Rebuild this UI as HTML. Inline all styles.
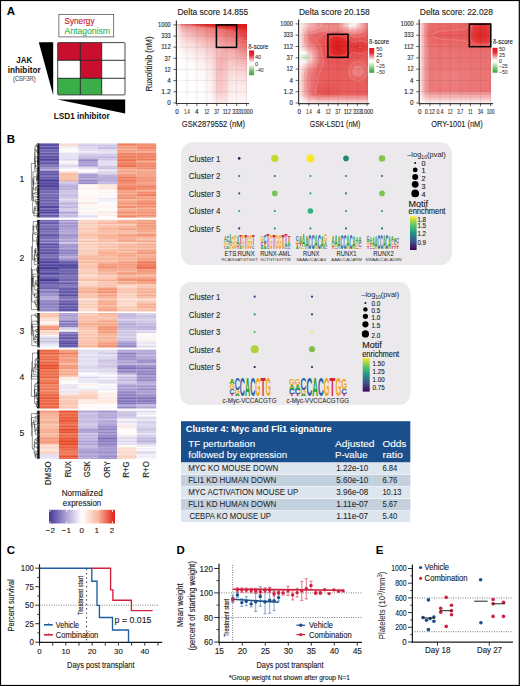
<!DOCTYPE html>
<html><head><meta charset="utf-8"><style>
html,body{margin:0;padding:0;background:#fff;}
svg{display:block;font-family:"Liberation Sans",sans-serif;}

</style></head><body>
<svg width="520" height="686" viewBox="0 0 520 686">
<defs><linearGradient id="hg1" gradientUnits="userSpaceOnUse" x1="177" x2="247.1" y1="0" y2="0"><stop offset="0" stop-color="#f8caca"/><stop offset="0.08" stop-color="#eb6d6d"/><stop offset="0.17" stop-color="#e85a5a"/><stop offset="0.25" stop-color="#e64747"/><stop offset="0.33" stop-color="#e43939"/><stop offset="0.42" stop-color="#e22e2e"/><stop offset="0.5" stop-color="#e12525"/><stop offset="0.58" stop-color="#e01e1e"/><stop offset="0.67" stop-color="#e01e1e"/><stop offset="0.75" stop-color="#e01e1e"/><stop offset="0.83" stop-color="#e01e1e"/><stop offset="0.92" stop-color="#e01e1e"/><stop offset="1" stop-color="#e01e1e"/></linearGradient>
<linearGradient id="hg2" gradientUnits="userSpaceOnUse" x1="177" x2="247.1" y1="0" y2="0"><stop offset="0" stop-color="#f8cdcd"/><stop offset="0.08" stop-color="#ec7676"/><stop offset="0.17" stop-color="#e96363"/><stop offset="0.25" stop-color="#e75050"/><stop offset="0.33" stop-color="#e54242"/><stop offset="0.42" stop-color="#e43838"/><stop offset="0.5" stop-color="#e22e2e"/><stop offset="0.58" stop-color="#e12626"/><stop offset="0.67" stop-color="#e01e1e"/><stop offset="0.75" stop-color="#e01e1e"/><stop offset="0.83" stop-color="#e01e1e"/><stop offset="0.92" stop-color="#e01e1e"/><stop offset="1" stop-color="#e01e1e"/></linearGradient>
<linearGradient id="hg3" gradientUnits="userSpaceOnUse" x1="177" x2="247.1" y1="0" y2="0"><stop offset="0" stop-color="#f9d2d2"/><stop offset="0.08" stop-color="#ee8383"/><stop offset="0.17" stop-color="#eb7070"/><stop offset="0.25" stop-color="#e95e5e"/><stop offset="0.33" stop-color="#e75151"/><stop offset="0.42" stop-color="#e64646"/><stop offset="0.5" stop-color="#e43d3d"/><stop offset="0.58" stop-color="#e33434"/><stop offset="0.67" stop-color="#e22b2b"/><stop offset="0.75" stop-color="#e12222"/><stop offset="0.83" stop-color="#e01e1e"/><stop offset="0.92" stop-color="#e01e1e"/><stop offset="1" stop-color="#e01e1e"/></linearGradient>
<linearGradient id="hg4" gradientUnits="userSpaceOnUse" x1="177" x2="247.1" y1="0" y2="0"><stop offset="0" stop-color="#fad8d8"/><stop offset="0.08" stop-color="#f09191"/><stop offset="0.17" stop-color="#ed7f7f"/><stop offset="0.25" stop-color="#eb6e6e"/><stop offset="0.33" stop-color="#e96161"/><stop offset="0.42" stop-color="#e85656"/><stop offset="0.5" stop-color="#e64d4d"/><stop offset="0.58" stop-color="#e54444"/><stop offset="0.67" stop-color="#e43b3b"/><stop offset="0.75" stop-color="#e33232"/><stop offset="0.83" stop-color="#e12828"/><stop offset="0.92" stop-color="#e01e1e"/><stop offset="1" stop-color="#e01e1e"/></linearGradient>
<linearGradient id="hg5" gradientUnits="userSpaceOnUse" x1="177" x2="247.1" y1="0" y2="0"><stop offset="0" stop-color="#fadddd"/><stop offset="0.08" stop-color="#f29e9e"/><stop offset="0.17" stop-color="#ef8d8d"/><stop offset="0.25" stop-color="#ed7d7d"/><stop offset="0.33" stop-color="#eb7070"/><stop offset="0.42" stop-color="#ea6565"/><stop offset="0.5" stop-color="#e85b5b"/><stop offset="0.58" stop-color="#e75252"/><stop offset="0.67" stop-color="#e64949"/><stop offset="0.75" stop-color="#e54040"/><stop offset="0.83" stop-color="#e33636"/><stop offset="0.92" stop-color="#e12929"/><stop offset="1" stop-color="#e02121"/></linearGradient>
<linearGradient id="hg6" gradientUnits="userSpaceOnUse" x1="177" x2="247.1" y1="0" y2="0"><stop offset="0" stop-color="#fbe2e2"/><stop offset="0.08" stop-color="#f3a9a9"/><stop offset="0.17" stop-color="#f19999"/><stop offset="0.25" stop-color="#ef8989"/><stop offset="0.33" stop-color="#ed7c7c"/><stop offset="0.42" stop-color="#eb7171"/><stop offset="0.5" stop-color="#ea6767"/><stop offset="0.58" stop-color="#e95d5d"/><stop offset="0.67" stop-color="#e75454"/><stop offset="0.75" stop-color="#e64b4b"/><stop offset="0.83" stop-color="#e54141"/><stop offset="0.92" stop-color="#e33333"/><stop offset="1" stop-color="#e22b2b"/></linearGradient>
<linearGradient id="hg7" gradientUnits="userSpaceOnUse" x1="177" x2="247.1" y1="0" y2="0"><stop offset="0" stop-color="#fbe5e5"/><stop offset="0.08" stop-color="#f4b1b1"/><stop offset="0.17" stop-color="#f2a2a2"/><stop offset="0.25" stop-color="#f09292"/><stop offset="0.33" stop-color="#ee8585"/><stop offset="0.42" stop-color="#ed7a7a"/><stop offset="0.5" stop-color="#eb7070"/><stop offset="0.58" stop-color="#ea6666"/><stop offset="0.67" stop-color="#e95d5d"/><stop offset="0.75" stop-color="#e75353"/><stop offset="0.83" stop-color="#e64949"/><stop offset="0.92" stop-color="#e43a3a"/><stop offset="1" stop-color="#e33232"/></linearGradient>
<linearGradient id="hg8" gradientUnits="userSpaceOnUse" x1="177" x2="247.1" y1="0" y2="0"><stop offset="0" stop-color="#fce8e8"/><stop offset="0.08" stop-color="#f5b8b8"/><stop offset="0.17" stop-color="#f3a9a9"/><stop offset="0.25" stop-color="#f19999"/><stop offset="0.33" stop-color="#ef8c8c"/><stop offset="0.42" stop-color="#ee8181"/><stop offset="0.5" stop-color="#ec7777"/><stop offset="0.58" stop-color="#eb6d6d"/><stop offset="0.67" stop-color="#ea6363"/><stop offset="0.75" stop-color="#e85a5a"/><stop offset="0.83" stop-color="#e74f4f"/><stop offset="0.92" stop-color="#e53f3f"/><stop offset="1" stop-color="#e43838"/></linearGradient>
<linearGradient id="hg9" gradientUnits="userSpaceOnUse" x1="177" x2="247.1" y1="0" y2="0"><stop offset="0" stop-color="#fceaea"/><stop offset="0.08" stop-color="#f6bdbd"/><stop offset="0.17" stop-color="#f4aeae"/><stop offset="0.25" stop-color="#f29f9f"/><stop offset="0.33" stop-color="#f09292"/><stop offset="0.42" stop-color="#ee8787"/><stop offset="0.5" stop-color="#ed7d7d"/><stop offset="0.58" stop-color="#ec7272"/><stop offset="0.67" stop-color="#ea6969"/><stop offset="0.75" stop-color="#e95f5f"/><stop offset="0.83" stop-color="#e75454"/><stop offset="0.92" stop-color="#e54343"/><stop offset="1" stop-color="#e43c3c"/></linearGradient>
<linearGradient id="hg10" gradientUnits="userSpaceOnUse" x1="177" x2="247.1" y1="0" y2="0"><stop offset="0" stop-color="#fcecec"/><stop offset="0.08" stop-color="#f7c2c2"/><stop offset="0.17" stop-color="#f5b4b4"/><stop offset="0.25" stop-color="#f3a5a5"/><stop offset="0.33" stop-color="#f19898"/><stop offset="0.42" stop-color="#ef8c8c"/><stop offset="0.5" stop-color="#ee8282"/><stop offset="0.58" stop-color="#ec7777"/><stop offset="0.67" stop-color="#eb6e6e"/><stop offset="0.75" stop-color="#ea6464"/><stop offset="0.83" stop-color="#e85959"/><stop offset="0.92" stop-color="#e64747"/><stop offset="1" stop-color="#e53f3f"/></linearGradient>
<linearGradient id="hg11" gradientUnits="userSpaceOnUse" x1="177" x2="247.1" y1="0" y2="0"><stop offset="0" stop-color="#fdeded"/><stop offset="0.08" stop-color="#f7c7c7"/><stop offset="0.17" stop-color="#f5b8b8"/><stop offset="0.25" stop-color="#f3aaaa"/><stop offset="0.33" stop-color="#f19d9d"/><stop offset="0.42" stop-color="#f09191"/><stop offset="0.5" stop-color="#ee8787"/><stop offset="0.58" stop-color="#ed7c7c"/><stop offset="0.67" stop-color="#ec7272"/><stop offset="0.75" stop-color="#ea6868"/><stop offset="0.83" stop-color="#e95d5d"/><stop offset="0.92" stop-color="#e64a4a"/><stop offset="1" stop-color="#e54343"/></linearGradient>
<linearGradient id="hg12" gradientUnits="userSpaceOnUse" x1="177" x2="247.1" y1="0" y2="0"><stop offset="0" stop-color="#fdefef"/><stop offset="0.08" stop-color="#f8cbcb"/><stop offset="0.17" stop-color="#f6bdbd"/><stop offset="0.25" stop-color="#f4afaf"/><stop offset="0.33" stop-color="#f2a2a2"/><stop offset="0.42" stop-color="#f19696"/><stop offset="0.5" stop-color="#ef8c8c"/><stop offset="0.58" stop-color="#ee8181"/><stop offset="0.67" stop-color="#ec7777"/><stop offset="0.75" stop-color="#eb6d6d"/><stop offset="0.83" stop-color="#e96161"/><stop offset="0.92" stop-color="#e64d4d"/><stop offset="1" stop-color="#e54646"/></linearGradient>
<linearGradient id="hg13" gradientUnits="userSpaceOnUse" x1="177" x2="247.1" y1="0" y2="0"><stop offset="0" stop-color="#fdf0f0"/><stop offset="0.08" stop-color="#f8cfcf"/><stop offset="0.17" stop-color="#f7c1c1"/><stop offset="0.25" stop-color="#f5b4b4"/><stop offset="0.33" stop-color="#f3a7a7"/><stop offset="0.42" stop-color="#f19b9b"/><stop offset="0.5" stop-color="#f09090"/><stop offset="0.58" stop-color="#ee8686"/><stop offset="0.67" stop-color="#ed7c7c"/><stop offset="0.75" stop-color="#ec7272"/><stop offset="0.83" stop-color="#ea6666"/><stop offset="0.92" stop-color="#e75050"/><stop offset="1" stop-color="#e64949"/></linearGradient>
<linearGradient id="hg14" gradientUnits="userSpaceOnUse" x1="177" x2="247.1" y1="0" y2="0"><stop offset="0" stop-color="#fdf2f2"/><stop offset="0.08" stop-color="#f9d3d3"/><stop offset="0.17" stop-color="#f7c6c6"/><stop offset="0.25" stop-color="#f5b8b8"/><stop offset="0.33" stop-color="#f4acac"/><stop offset="0.42" stop-color="#f2a0a0"/><stop offset="0.5" stop-color="#f09595"/><stop offset="0.58" stop-color="#ef8a8a"/><stop offset="0.67" stop-color="#ee8080"/><stop offset="0.75" stop-color="#ec7676"/><stop offset="0.83" stop-color="#ea6a6a"/><stop offset="0.92" stop-color="#e75353"/><stop offset="1" stop-color="#e64c4c"/></linearGradient>
<linearGradient id="hg15" gradientUnits="userSpaceOnUse" x1="177" x2="247.1" y1="0" y2="0"><stop offset="0" stop-color="#fdf3f3"/><stop offset="0.08" stop-color="#f9d6d6"/><stop offset="0.17" stop-color="#f8caca"/><stop offset="0.25" stop-color="#f6bdbd"/><stop offset="0.33" stop-color="#f4b0b0"/><stop offset="0.42" stop-color="#f3a5a5"/><stop offset="0.5" stop-color="#f19a9a"/><stop offset="0.58" stop-color="#f08f8f"/><stop offset="0.67" stop-color="#ee8585"/><stop offset="0.75" stop-color="#ed7b7b"/><stop offset="0.83" stop-color="#eb6e6e"/><stop offset="0.92" stop-color="#e85757"/><stop offset="1" stop-color="#e75050"/></linearGradient>
<linearGradient id="hg16" gradientUnits="userSpaceOnUse" x1="177" x2="247.1" y1="0" y2="0"><stop offset="0" stop-color="#fef4f4"/><stop offset="0.08" stop-color="#fadada"/><stop offset="0.17" stop-color="#f8cece"/><stop offset="0.25" stop-color="#f6c1c1"/><stop offset="0.33" stop-color="#f5b5b5"/><stop offset="0.42" stop-color="#f3aaaa"/><stop offset="0.5" stop-color="#f29f9f"/><stop offset="0.58" stop-color="#f09393"/><stop offset="0.67" stop-color="#ef8989"/><stop offset="0.75" stop-color="#ed7f7f"/><stop offset="0.83" stop-color="#ec7373"/><stop offset="0.92" stop-color="#e85a5a"/><stop offset="1" stop-color="#e75353"/></linearGradient>
<linearGradient id="hg17" gradientUnits="userSpaceOnUse" x1="177" x2="247.1" y1="0" y2="0"><stop offset="0" stop-color="#fef6f6"/><stop offset="0.08" stop-color="#fadddd"/><stop offset="0.17" stop-color="#f9d1d1"/><stop offset="0.25" stop-color="#f7c5c5"/><stop offset="0.33" stop-color="#f5b9b9"/><stop offset="0.42" stop-color="#f4aeae"/><stop offset="0.5" stop-color="#f2a3a3"/><stop offset="0.58" stop-color="#f19898"/><stop offset="0.67" stop-color="#ef8d8d"/><stop offset="0.75" stop-color="#ee8383"/><stop offset="0.83" stop-color="#ec7777"/><stop offset="0.92" stop-color="#e95d5d"/><stop offset="1" stop-color="#e85757"/></linearGradient>
<linearGradient id="hg18" gradientUnits="userSpaceOnUse" x1="177" x2="247.1" y1="0" y2="0"><stop offset="0" stop-color="#fef7f7"/><stop offset="0.08" stop-color="#fbe0e0"/><stop offset="0.17" stop-color="#f9d5d5"/><stop offset="0.25" stop-color="#f8c9c9"/><stop offset="0.33" stop-color="#f6bebe"/><stop offset="0.42" stop-color="#f4b2b2"/><stop offset="0.5" stop-color="#f3a7a7"/><stop offset="0.58" stop-color="#f19c9c"/><stop offset="0.67" stop-color="#f09191"/><stop offset="0.75" stop-color="#ef8888"/><stop offset="0.83" stop-color="#ed7b7b"/><stop offset="0.92" stop-color="#e96060"/><stop offset="1" stop-color="#e85a5a"/></linearGradient>
<linearGradient id="hg19" gradientUnits="userSpaceOnUse" x1="177" x2="247.1" y1="0" y2="0"><stop offset="0" stop-color="#fef7f7"/><stop offset="0.08" stop-color="#fbe3e3"/><stop offset="0.17" stop-color="#fad8d8"/><stop offset="0.25" stop-color="#f8cdcd"/><stop offset="0.33" stop-color="#f7c2c2"/><stop offset="0.42" stop-color="#f5b7b7"/><stop offset="0.5" stop-color="#f3abab"/><stop offset="0.58" stop-color="#f2a0a0"/><stop offset="0.67" stop-color="#f09595"/><stop offset="0.75" stop-color="#ef8c8c"/><stop offset="0.83" stop-color="#ed7f7f"/><stop offset="0.92" stop-color="#ea6464"/><stop offset="1" stop-color="#e95e5e"/></linearGradient>
<linearGradient id="hg20" gradientUnits="userSpaceOnUse" x1="177" x2="247.1" y1="0" y2="0"><stop offset="0" stop-color="#fef8f8"/><stop offset="0.08" stop-color="#fce6e6"/><stop offset="0.17" stop-color="#fadbdb"/><stop offset="0.25" stop-color="#f9d1d1"/><stop offset="0.33" stop-color="#f7c5c5"/><stop offset="0.42" stop-color="#f6bbbb"/><stop offset="0.5" stop-color="#f4afaf"/><stop offset="0.58" stop-color="#f2a4a4"/><stop offset="0.67" stop-color="#f19999"/><stop offset="0.75" stop-color="#f09090"/><stop offset="0.83" stop-color="#ee8383"/><stop offset="0.92" stop-color="#ea6767"/><stop offset="1" stop-color="#e96161"/></linearGradient>
<linearGradient id="hg21" gradientUnits="userSpaceOnUse" x1="177" x2="247.1" y1="0" y2="0"><stop offset="0" stop-color="#fef9f9"/><stop offset="0.08" stop-color="#fce8e8"/><stop offset="0.17" stop-color="#fbdede"/><stop offset="0.25" stop-color="#f9d4d4"/><stop offset="0.33" stop-color="#f8c9c9"/><stop offset="0.42" stop-color="#f6bebe"/><stop offset="0.5" stop-color="#f5b3b3"/><stop offset="0.58" stop-color="#f3a7a7"/><stop offset="0.67" stop-color="#f19d9d"/><stop offset="0.75" stop-color="#f09494"/><stop offset="0.83" stop-color="#ef8787"/><stop offset="0.92" stop-color="#eb6b6b"/><stop offset="1" stop-color="#ea6565"/></linearGradient>
<linearGradient id="hg22" gradientUnits="userSpaceOnUse" x1="177" x2="247.1" y1="0" y2="0"><stop offset="0" stop-color="#fefafa"/><stop offset="0.08" stop-color="#fceaea"/><stop offset="0.17" stop-color="#fbe1e1"/><stop offset="0.25" stop-color="#fad7d7"/><stop offset="0.33" stop-color="#f8cdcd"/><stop offset="0.42" stop-color="#f7c2c2"/><stop offset="0.5" stop-color="#f5b7b7"/><stop offset="0.58" stop-color="#f3aaaa"/><stop offset="0.67" stop-color="#f2a0a0"/><stop offset="0.75" stop-color="#f19898"/><stop offset="0.83" stop-color="#ef8b8b"/><stop offset="0.92" stop-color="#eb6e6e"/><stop offset="1" stop-color="#ea6969"/></linearGradient>
<linearGradient id="hg23" gradientUnits="userSpaceOnUse" x1="177" x2="247.1" y1="0" y2="0"><stop offset="0" stop-color="#fefafa"/><stop offset="0.08" stop-color="#fcecec"/><stop offset="0.17" stop-color="#fbe4e4"/><stop offset="0.25" stop-color="#fadada"/><stop offset="0.33" stop-color="#f9d0d0"/><stop offset="0.42" stop-color="#f7c5c5"/><stop offset="0.5" stop-color="#f6baba"/><stop offset="0.58" stop-color="#f4adad"/><stop offset="0.67" stop-color="#f2a3a3"/><stop offset="0.75" stop-color="#f19c9c"/><stop offset="0.83" stop-color="#f08f8f"/><stop offset="0.92" stop-color="#ec7272"/><stop offset="1" stop-color="#eb6d6d"/></linearGradient>
<linearGradient id="hg24" gradientUnits="userSpaceOnUse" x1="177" x2="247.1" y1="0" y2="0"><stop offset="0" stop-color="#fefbfb"/><stop offset="0.08" stop-color="#fdeeee"/><stop offset="0.17" stop-color="#fce6e6"/><stop offset="0.25" stop-color="#fadddd"/><stop offset="0.33" stop-color="#f9d3d3"/><stop offset="0.42" stop-color="#f8c9c9"/><stop offset="0.5" stop-color="#f6bebe"/><stop offset="0.58" stop-color="#f4b0b0"/><stop offset="0.67" stop-color="#f3a6a6"/><stop offset="0.75" stop-color="#f29f9f"/><stop offset="0.83" stop-color="#f09393"/><stop offset="0.92" stop-color="#ec7676"/><stop offset="1" stop-color="#eb7070"/></linearGradient>
<linearGradient id="hg25" gradientUnits="userSpaceOnUse" x1="177" x2="247.1" y1="0" y2="0"><stop offset="0" stop-color="#fffcfc"/><stop offset="0.08" stop-color="#fdf0f0"/><stop offset="0.17" stop-color="#fce8e8"/><stop offset="0.25" stop-color="#fbe0e0"/><stop offset="0.33" stop-color="#f9d6d6"/><stop offset="0.42" stop-color="#f8cccc"/><stop offset="0.5" stop-color="#f6c0c0"/><stop offset="0.58" stop-color="#f4b2b2"/><stop offset="0.67" stop-color="#f3a8a8"/><stop offset="0.75" stop-color="#f2a2a2"/><stop offset="0.83" stop-color="#f19797"/><stop offset="0.92" stop-color="#ed7a7a"/><stop offset="1" stop-color="#ec7575"/></linearGradient>
<linearGradient id="hg26" gradientUnits="userSpaceOnUse" x1="177" x2="247.1" y1="0" y2="0"><stop offset="0" stop-color="#fffcfc"/><stop offset="0.08" stop-color="#fdf2f2"/><stop offset="0.17" stop-color="#fcebeb"/><stop offset="0.25" stop-color="#fbe2e2"/><stop offset="0.33" stop-color="#fad9d9"/><stop offset="0.42" stop-color="#f8cfcf"/><stop offset="0.5" stop-color="#f7c3c3"/><stop offset="0.58" stop-color="#f5b4b4"/><stop offset="0.67" stop-color="#f3aaaa"/><stop offset="0.75" stop-color="#f3a6a6"/><stop offset="0.83" stop-color="#f19a9a"/><stop offset="0.92" stop-color="#ed7e7e"/><stop offset="1" stop-color="#ec7979"/></linearGradient>
<linearGradient id="hg27" gradientUnits="userSpaceOnUse" x1="177" x2="247.1" y1="0" y2="0"><stop offset="0" stop-color="#fffcfc"/><stop offset="0.08" stop-color="#fdf3f3"/><stop offset="0.17" stop-color="#fcecec"/><stop offset="0.25" stop-color="#fbe4e4"/><stop offset="0.33" stop-color="#fadcdc"/><stop offset="0.42" stop-color="#f9d1d1"/><stop offset="0.5" stop-color="#f7c6c6"/><stop offset="0.58" stop-color="#f5b5b5"/><stop offset="0.67" stop-color="#f4acac"/><stop offset="0.75" stop-color="#f3a9a9"/><stop offset="0.83" stop-color="#f29e9e"/><stop offset="0.92" stop-color="#ee8282"/><stop offset="1" stop-color="#ed7d7d"/></linearGradient>
<linearGradient id="hg28" gradientUnits="userSpaceOnUse" x1="177" x2="247.1" y1="0" y2="0"><stop offset="0" stop-color="#fffdfd"/><stop offset="0.08" stop-color="#fef5f5"/><stop offset="0.17" stop-color="#fdeeee"/><stop offset="0.25" stop-color="#fce7e7"/><stop offset="0.33" stop-color="#fadede"/><stop offset="0.42" stop-color="#f9d4d4"/><stop offset="0.5" stop-color="#f7c8c8"/><stop offset="0.58" stop-color="#f5b6b6"/><stop offset="0.67" stop-color="#f4adad"/><stop offset="0.75" stop-color="#f3abab"/><stop offset="0.83" stop-color="#f2a1a1"/><stop offset="0.92" stop-color="#ee8686"/><stop offset="1" stop-color="#ee8181"/></linearGradient>
<linearGradient id="hg29" gradientUnits="userSpaceOnUse" x1="177" x2="247.1" y1="0" y2="0"><stop offset="0" stop-color="#fffdfd"/><stop offset="0.08" stop-color="#fef6f6"/><stop offset="0.17" stop-color="#fdf0f0"/><stop offset="0.25" stop-color="#fce9e9"/><stop offset="0.33" stop-color="#fbe0e0"/><stop offset="0.42" stop-color="#f9d6d6"/><stop offset="0.5" stop-color="#f8caca"/><stop offset="0.58" stop-color="#f5b6b6"/><stop offset="0.67" stop-color="#f4aeae"/><stop offset="0.75" stop-color="#f4aeae"/><stop offset="0.83" stop-color="#f3a4a4"/><stop offset="0.92" stop-color="#ef8a8a"/><stop offset="1" stop-color="#ee8585"/></linearGradient>
<linearGradient id="hg30" gradientUnits="userSpaceOnUse" x1="177" x2="247.1" y1="0" y2="0"><stop offset="0" stop-color="#fffdfd"/><stop offset="0.08" stop-color="#fef7f7"/><stop offset="0.17" stop-color="#fdf1f1"/><stop offset="0.25" stop-color="#fcebeb"/><stop offset="0.33" stop-color="#fbe2e2"/><stop offset="0.42" stop-color="#fad9d9"/><stop offset="0.5" stop-color="#f8cccc"/><stop offset="0.58" stop-color="#f5b6b6"/><stop offset="0.67" stop-color="#f4aeae"/><stop offset="0.75" stop-color="#f4b1b1"/><stop offset="0.83" stop-color="#f3a8a8"/><stop offset="0.92" stop-color="#f08f8f"/><stop offset="1" stop-color="#ef8a8a"/></linearGradient>
<linearGradient id="hg31" gradientUnits="userSpaceOnUse" x1="177" x2="247.1" y1="0" y2="0"><stop offset="0" stop-color="#fffefe"/><stop offset="0.08" stop-color="#fef8f8"/><stop offset="0.17" stop-color="#fdf3f3"/><stop offset="0.25" stop-color="#fcecec"/><stop offset="0.33" stop-color="#fbe4e4"/><stop offset="0.42" stop-color="#fadbdb"/><stop offset="0.5" stop-color="#f8cece"/><stop offset="0.58" stop-color="#f5b6b6"/><stop offset="0.67" stop-color="#f4afaf"/><stop offset="0.75" stop-color="#f5b3b3"/><stop offset="0.83" stop-color="#f3abab"/><stop offset="0.92" stop-color="#f09393"/><stop offset="1" stop-color="#ef8e8e"/></linearGradient>
<linearGradient id="hg32" gradientUnits="userSpaceOnUse" x1="177" x2="247.1" y1="0" y2="0"><stop offset="0" stop-color="#fffefe"/><stop offset="0.08" stop-color="#fef9f9"/><stop offset="0.17" stop-color="#fdf4f4"/><stop offset="0.25" stop-color="#fdeeee"/><stop offset="0.33" stop-color="#fce6e6"/><stop offset="0.42" stop-color="#fadddd"/><stop offset="0.5" stop-color="#f8d0d0"/><stop offset="0.58" stop-color="#f5b6b6"/><stop offset="0.67" stop-color="#f4afaf"/><stop offset="0.75" stop-color="#f5b5b5"/><stop offset="0.83" stop-color="#f4aeae"/><stop offset="0.92" stop-color="#f19797"/><stop offset="1" stop-color="#f09292"/></linearGradient>
<linearGradient id="hg33" gradientUnits="userSpaceOnUse" x1="177" x2="247.1" y1="0" y2="0"><stop offset="0" stop-color="#fffefe"/><stop offset="0.08" stop-color="#fef9f9"/><stop offset="0.17" stop-color="#fef5f5"/><stop offset="0.25" stop-color="#fdefef"/><stop offset="0.33" stop-color="#fce8e8"/><stop offset="0.42" stop-color="#fbdfdf"/><stop offset="0.5" stop-color="#f9d1d1"/><stop offset="0.58" stop-color="#f5b5b5"/><stop offset="0.67" stop-color="#f4afaf"/><stop offset="0.75" stop-color="#f5b8b8"/><stop offset="0.83" stop-color="#f4b1b1"/><stop offset="0.92" stop-color="#f19c9c"/><stop offset="1" stop-color="#f19696"/></linearGradient>
<linearGradient id="hg34" gradientUnits="userSpaceOnUse" x1="177" x2="247.1" y1="0" y2="0"><stop offset="0" stop-color="#fffefe"/><stop offset="0.08" stop-color="#fefafa"/><stop offset="0.17" stop-color="#fef6f6"/><stop offset="0.25" stop-color="#fdf1f1"/><stop offset="0.33" stop-color="#fceaea"/><stop offset="0.42" stop-color="#fbe1e1"/><stop offset="0.5" stop-color="#f9d3d3"/><stop offset="0.58" stop-color="#f5b4b4"/><stop offset="0.67" stop-color="#f4aeae"/><stop offset="0.75" stop-color="#f6baba"/><stop offset="0.83" stop-color="#f5b4b4"/><stop offset="0.92" stop-color="#f2a0a0"/><stop offset="1" stop-color="#f19b9b"/></linearGradient>
<linearGradient id="hg35" gradientUnits="userSpaceOnUse" x1="177" x2="247.1" y1="0" y2="0"><stop offset="0" stop-color="#fffefe"/><stop offset="0.08" stop-color="#fefbfb"/><stop offset="0.17" stop-color="#fef7f7"/><stop offset="0.25" stop-color="#fdf2f2"/><stop offset="0.33" stop-color="#fcebeb"/><stop offset="0.42" stop-color="#fbe3e3"/><stop offset="0.5" stop-color="#f9d5d5"/><stop offset="0.58" stop-color="#f5b4b4"/><stop offset="0.67" stop-color="#f4aeae"/><stop offset="0.75" stop-color="#f6bdbd"/><stop offset="0.83" stop-color="#f5b7b7"/><stop offset="0.92" stop-color="#f3a4a4"/><stop offset="1" stop-color="#f29f9f"/></linearGradient>
<linearGradient id="hg36" gradientUnits="userSpaceOnUse" x1="177" x2="247.1" y1="0" y2="0"><stop offset="0" stop-color="#fffefe"/><stop offset="0.08" stop-color="#fefbfb"/><stop offset="0.17" stop-color="#fef8f8"/><stop offset="0.25" stop-color="#fdf3f3"/><stop offset="0.33" stop-color="#fceded"/><stop offset="0.42" stop-color="#fbe4e4"/><stop offset="0.5" stop-color="#f9d6d6"/><stop offset="0.58" stop-color="#f5b3b3"/><stop offset="0.67" stop-color="#f4aeae"/><stop offset="0.75" stop-color="#f6bfbf"/><stop offset="0.83" stop-color="#f6baba"/><stop offset="0.92" stop-color="#f3a9a9"/><stop offset="1" stop-color="#f2a3a3"/></linearGradient>
<linearGradient id="hg37" gradientUnits="userSpaceOnUse" x1="177" x2="247.1" y1="0" y2="0"><stop offset="0" stop-color="#fffefe"/><stop offset="0.08" stop-color="#fffcfc"/><stop offset="0.17" stop-color="#fef9f9"/><stop offset="0.25" stop-color="#fef4f4"/><stop offset="0.33" stop-color="#fdeeee"/><stop offset="0.42" stop-color="#fce6e6"/><stop offset="0.5" stop-color="#fad8d8"/><stop offset="0.58" stop-color="#f4b3b3"/><stop offset="0.67" stop-color="#f4aeae"/><stop offset="0.75" stop-color="#f6c1c1"/><stop offset="0.83" stop-color="#f6bdbd"/><stop offset="0.92" stop-color="#f4adad"/><stop offset="1" stop-color="#f3a7a7"/></linearGradient>
<linearGradient id="hg38" gradientUnits="userSpaceOnUse" x1="177" x2="247.1" y1="0" y2="0"><stop offset="0" stop-color="#ffffff"/><stop offset="0.08" stop-color="#fffcfc"/><stop offset="0.17" stop-color="#fef9f9"/><stop offset="0.25" stop-color="#fef5f5"/><stop offset="0.33" stop-color="#fdefef"/><stop offset="0.42" stop-color="#fce7e7"/><stop offset="0.5" stop-color="#fad9d9"/><stop offset="0.58" stop-color="#f4b2b2"/><stop offset="0.67" stop-color="#f4afaf"/><stop offset="0.75" stop-color="#f7c3c3"/><stop offset="0.83" stop-color="#f6c0c0"/><stop offset="0.92" stop-color="#f4b1b1"/><stop offset="1" stop-color="#f3abab"/></linearGradient>
<linearGradient id="hg39" gradientUnits="userSpaceOnUse" x1="177" x2="247.1" y1="0" y2="0"><stop offset="0" stop-color="#ffffff"/><stop offset="0.08" stop-color="#fffdfd"/><stop offset="0.17" stop-color="#fefafa"/><stop offset="0.25" stop-color="#fef6f6"/><stop offset="0.33" stop-color="#fdf1f1"/><stop offset="0.42" stop-color="#fce9e9"/><stop offset="0.5" stop-color="#fadbdb"/><stop offset="0.58" stop-color="#f4b2b2"/><stop offset="0.67" stop-color="#f4afaf"/><stop offset="0.75" stop-color="#f7c5c5"/><stop offset="0.83" stop-color="#f7c3c3"/><stop offset="0.92" stop-color="#f5b5b5"/><stop offset="1" stop-color="#f4afaf"/></linearGradient>
<linearGradient id="hg40" gradientUnits="userSpaceOnUse" x1="177" x2="247.1" y1="0" y2="0"><stop offset="0" stop-color="#ffffff"/><stop offset="0.08" stop-color="#fffdfd"/><stop offset="0.17" stop-color="#fefbfb"/><stop offset="0.25" stop-color="#fef7f7"/><stop offset="0.33" stop-color="#fdf2f2"/><stop offset="0.42" stop-color="#fceaea"/><stop offset="0.5" stop-color="#fadcdc"/><stop offset="0.58" stop-color="#f4b2b2"/><stop offset="0.67" stop-color="#f4afaf"/><stop offset="0.75" stop-color="#f7c8c8"/><stop offset="0.83" stop-color="#f7c5c5"/><stop offset="0.92" stop-color="#f5b8b8"/><stop offset="1" stop-color="#f4b2b2"/></linearGradient>
<linearGradient id="hg41" gradientUnits="userSpaceOnUse" x1="177" x2="247.1" y1="0" y2="0"><stop offset="0" stop-color="#ffffff"/><stop offset="0.08" stop-color="#fffdfd"/><stop offset="0.17" stop-color="#fefbfb"/><stop offset="0.25" stop-color="#fef8f8"/><stop offset="0.33" stop-color="#fdf3f3"/><stop offset="0.42" stop-color="#fcebeb"/><stop offset="0.5" stop-color="#fadddd"/><stop offset="0.58" stop-color="#f4b3b3"/><stop offset="0.67" stop-color="#f4b0b0"/><stop offset="0.75" stop-color="#f8caca"/><stop offset="0.83" stop-color="#f7c8c8"/><stop offset="0.92" stop-color="#f6bcbc"/><stop offset="1" stop-color="#f5b6b6"/></linearGradient>
<linearGradient id="hg42" gradientUnits="userSpaceOnUse" x1="177" x2="247.1" y1="0" y2="0"><stop offset="0" stop-color="#ffffff"/><stop offset="0.08" stop-color="#fffdfd"/><stop offset="0.17" stop-color="#fffbfb"/><stop offset="0.25" stop-color="#fef8f8"/><stop offset="0.33" stop-color="#fdf4f4"/><stop offset="0.42" stop-color="#fceded"/><stop offset="0.5" stop-color="#fbdfdf"/><stop offset="0.58" stop-color="#f5b3b3"/><stop offset="0.67" stop-color="#f4b1b1"/><stop offset="0.75" stop-color="#f8cccc"/><stop offset="0.83" stop-color="#f8caca"/><stop offset="0.92" stop-color="#f6bfbf"/><stop offset="1" stop-color="#f5b9b9"/></linearGradient>
<linearGradient id="hg43" gradientUnits="userSpaceOnUse" x1="177" x2="247.1" y1="0" y2="0"><stop offset="0" stop-color="#ffffff"/><stop offset="0.08" stop-color="#fffefe"/><stop offset="0.17" stop-color="#fffcfc"/><stop offset="0.25" stop-color="#fef9f9"/><stop offset="0.33" stop-color="#fef5f5"/><stop offset="0.42" stop-color="#fdeeee"/><stop offset="0.5" stop-color="#fbe0e0"/><stop offset="0.58" stop-color="#f5b4b4"/><stop offset="0.67" stop-color="#f4b2b2"/><stop offset="0.75" stop-color="#f8cece"/><stop offset="0.83" stop-color="#f8cdcd"/><stop offset="0.92" stop-color="#f7c3c3"/><stop offset="1" stop-color="#f6bdbd"/></linearGradient>
<linearGradient id="hg44" gradientUnits="userSpaceOnUse" x1="177" x2="247.1" y1="0" y2="0"><stop offset="0" stop-color="#ffffff"/><stop offset="0.08" stop-color="#fffefe"/><stop offset="0.17" stop-color="#fffcfc"/><stop offset="0.25" stop-color="#fefafa"/><stop offset="0.33" stop-color="#fef5f5"/><stop offset="0.42" stop-color="#fdefef"/><stop offset="0.5" stop-color="#fbe1e1"/><stop offset="0.58" stop-color="#f5b5b5"/><stop offset="0.67" stop-color="#f5b3b3"/><stop offset="0.75" stop-color="#f8cfcf"/><stop offset="0.83" stop-color="#f8cfcf"/><stop offset="0.92" stop-color="#f7c6c6"/><stop offset="1" stop-color="#f6c0c0"/></linearGradient>
<linearGradient id="hg45" gradientUnits="userSpaceOnUse" x1="177" x2="247.1" y1="0" y2="0"><stop offset="0" stop-color="#ffffff"/><stop offset="0.08" stop-color="#fffefe"/><stop offset="0.17" stop-color="#fffdfd"/><stop offset="0.25" stop-color="#fefafa"/><stop offset="0.33" stop-color="#fef6f6"/><stop offset="0.42" stop-color="#fdf0f0"/><stop offset="0.5" stop-color="#fbe2e2"/><stop offset="0.58" stop-color="#f5b5b5"/><stop offset="0.67" stop-color="#f5b4b4"/><stop offset="0.75" stop-color="#f9d1d1"/><stop offset="0.83" stop-color="#f9d1d1"/><stop offset="0.92" stop-color="#f8c9c9"/><stop offset="1" stop-color="#f7c3c3"/></linearGradient>
<linearGradient id="hg46" gradientUnits="userSpaceOnUse" x1="177" x2="247.1" y1="0" y2="0"><stop offset="0" stop-color="#ffffff"/><stop offset="0.08" stop-color="#fffefe"/><stop offset="0.17" stop-color="#fffdfd"/><stop offset="0.25" stop-color="#fefbfb"/><stop offset="0.33" stop-color="#fef7f7"/><stop offset="0.42" stop-color="#fdf1f1"/><stop offset="0.5" stop-color="#fbe3e3"/><stop offset="0.58" stop-color="#f5b6b6"/><stop offset="0.67" stop-color="#f5b5b5"/><stop offset="0.75" stop-color="#f9d3d3"/><stop offset="0.83" stop-color="#f9d3d3"/><stop offset="0.92" stop-color="#f8cccc"/><stop offset="1" stop-color="#f7c6c6"/></linearGradient>
<linearGradient id="hg47" gradientUnits="userSpaceOnUse" x1="177" x2="247.1" y1="0" y2="0"><stop offset="0" stop-color="#ffffff"/><stop offset="0.08" stop-color="#fffefe"/><stop offset="0.17" stop-color="#fffdfd"/><stop offset="0.25" stop-color="#fefbfb"/><stop offset="0.33" stop-color="#fef7f7"/><stop offset="0.42" stop-color="#fdf2f2"/><stop offset="0.5" stop-color="#fbe4e4"/><stop offset="0.58" stop-color="#f5b7b7"/><stop offset="0.67" stop-color="#f5b6b6"/><stop offset="0.75" stop-color="#f9d5d5"/><stop offset="0.83" stop-color="#f9d5d5"/><stop offset="0.92" stop-color="#f8cece"/><stop offset="1" stop-color="#f7c8c8"/></linearGradient>
<linearGradient id="hg48" gradientUnits="userSpaceOnUse" x1="177" x2="247.1" y1="0" y2="0"><stop offset="0" stop-color="#ffffff"/><stop offset="0.08" stop-color="#fffefe"/><stop offset="0.17" stop-color="#fffdfd"/><stop offset="0.25" stop-color="#fffbfb"/><stop offset="0.33" stop-color="#fef8f8"/><stop offset="0.42" stop-color="#fdf2f2"/><stop offset="0.5" stop-color="#fbe5e5"/><stop offset="0.58" stop-color="#f5b8b8"/><stop offset="0.67" stop-color="#f5b8b8"/><stop offset="0.75" stop-color="#f9d6d6"/><stop offset="0.83" stop-color="#f9d7d7"/><stop offset="0.92" stop-color="#f9d1d1"/><stop offset="1" stop-color="#f8cbcb"/></linearGradient>
<linearGradient id="hg49" gradientUnits="userSpaceOnUse" x1="177" x2="247.1" y1="0" y2="0"><stop offset="0" stop-color="#ffffff"/><stop offset="0.08" stop-color="#fffefe"/><stop offset="0.17" stop-color="#fffdfd"/><stop offset="0.25" stop-color="#fffcfc"/><stop offset="0.33" stop-color="#fef9f9"/><stop offset="0.42" stop-color="#fdf3f3"/><stop offset="0.5" stop-color="#fce6e6"/><stop offset="0.58" stop-color="#f5b9b9"/><stop offset="0.67" stop-color="#f5b9b9"/><stop offset="0.75" stop-color="#fad8d8"/><stop offset="0.83" stop-color="#fad9d9"/><stop offset="0.92" stop-color="#f9d3d3"/><stop offset="1" stop-color="#f8cdcd"/></linearGradient>
<linearGradient id="hg50" gradientUnits="userSpaceOnUse" x1="177" x2="247.1" y1="0" y2="0"><stop offset="0" stop-color="#ffffff"/><stop offset="0.08" stop-color="#ffffff"/><stop offset="0.17" stop-color="#fffefe"/><stop offset="0.25" stop-color="#fffcfc"/><stop offset="0.33" stop-color="#fef9f9"/><stop offset="0.42" stop-color="#fdf4f4"/><stop offset="0.5" stop-color="#fce7e7"/><stop offset="0.58" stop-color="#f5baba"/><stop offset="0.67" stop-color="#f5baba"/><stop offset="0.75" stop-color="#fad9d9"/><stop offset="0.83" stop-color="#fadbdb"/><stop offset="0.92" stop-color="#f9d5d5"/><stop offset="1" stop-color="#f8d0d0"/></linearGradient>
<linearGradient id="hg51" gradientUnits="userSpaceOnUse" x1="177" x2="247.1" y1="0" y2="0"><stop offset="0" stop-color="#ffffff"/><stop offset="0.08" stop-color="#ffffff"/><stop offset="0.17" stop-color="#fffefe"/><stop offset="0.25" stop-color="#fffcfc"/><stop offset="0.33" stop-color="#fef9f9"/><stop offset="0.42" stop-color="#fef4f4"/><stop offset="0.5" stop-color="#fce8e8"/><stop offset="0.58" stop-color="#f6bbbb"/><stop offset="0.67" stop-color="#f6bbbb"/><stop offset="0.75" stop-color="#fadbdb"/><stop offset="0.83" stop-color="#fadcdc"/><stop offset="0.92" stop-color="#fad7d7"/><stop offset="1" stop-color="#f9d2d2"/></linearGradient>
<linearGradient id="hg52" gradientUnits="userSpaceOnUse" x1="177" x2="247.1" y1="0" y2="0"><stop offset="0" stop-color="#ffffff"/><stop offset="0.08" stop-color="#ffffff"/><stop offset="0.17" stop-color="#fffefe"/><stop offset="0.25" stop-color="#fffdfd"/><stop offset="0.33" stop-color="#fefafa"/><stop offset="0.42" stop-color="#fef5f5"/><stop offset="0.5" stop-color="#fce8e8"/><stop offset="0.58" stop-color="#f6bbbb"/><stop offset="0.67" stop-color="#f6bcbc"/><stop offset="0.75" stop-color="#fadcdc"/><stop offset="0.83" stop-color="#fadede"/><stop offset="0.92" stop-color="#fad9d9"/><stop offset="1" stop-color="#f9d4d4"/></linearGradient>
<linearGradient id="hg53" gradientUnits="userSpaceOnUse" x1="177" x2="247.1" y1="0" y2="0"><stop offset="0" stop-color="#ffffff"/><stop offset="0.08" stop-color="#ffffff"/><stop offset="0.17" stop-color="#fffefe"/><stop offset="0.25" stop-color="#fffdfd"/><stop offset="0.33" stop-color="#fefafa"/><stop offset="0.42" stop-color="#fef5f5"/><stop offset="0.5" stop-color="#fce9e9"/><stop offset="0.58" stop-color="#f6bcbc"/><stop offset="0.67" stop-color="#f6bdbd"/><stop offset="0.75" stop-color="#fadddd"/><stop offset="0.83" stop-color="#fbdfdf"/><stop offset="0.92" stop-color="#fadbdb"/><stop offset="1" stop-color="#f9d6d6"/></linearGradient>
<linearGradient id="hg54" gradientUnits="userSpaceOnUse" x1="177" x2="247.1" y1="0" y2="0"><stop offset="0" stop-color="#ffffff"/><stop offset="0.08" stop-color="#ffffff"/><stop offset="0.17" stop-color="#fffefe"/><stop offset="0.25" stop-color="#fffdfd"/><stop offset="0.33" stop-color="#fefbfb"/><stop offset="0.42" stop-color="#fef6f6"/><stop offset="0.5" stop-color="#fceaea"/><stop offset="0.58" stop-color="#f6bdbd"/><stop offset="0.67" stop-color="#f6bebe"/><stop offset="0.75" stop-color="#fbdfdf"/><stop offset="0.83" stop-color="#fbe1e1"/><stop offset="0.92" stop-color="#fadddd"/><stop offset="1" stop-color="#fad8d8"/></linearGradient>
<linearGradient id="hg55" gradientUnits="userSpaceOnUse" x1="177" x2="247.1" y1="0" y2="0"><stop offset="0" stop-color="#ffffff"/><stop offset="0.08" stop-color="#ffffff"/><stop offset="0.17" stop-color="#fffefe"/><stop offset="0.25" stop-color="#fffdfd"/><stop offset="0.33" stop-color="#fefbfb"/><stop offset="0.42" stop-color="#fef6f6"/><stop offset="0.5" stop-color="#fceaea"/><stop offset="0.58" stop-color="#f6bebe"/><stop offset="0.67" stop-color="#f6bfbf"/><stop offset="0.75" stop-color="#fbe0e0"/><stop offset="0.83" stop-color="#fbe2e2"/><stop offset="0.92" stop-color="#fbdfdf"/><stop offset="1" stop-color="#fadada"/></linearGradient>
<linearGradient id="hg56" gradientUnits="userSpaceOnUse" x1="177" x2="247.1" y1="0" y2="0"><stop offset="0" stop-color="#ffffff"/><stop offset="0.08" stop-color="#ffffff"/><stop offset="0.17" stop-color="#fffefe"/><stop offset="0.25" stop-color="#fffdfd"/><stop offset="0.33" stop-color="#fefbfb"/><stop offset="0.42" stop-color="#fef7f7"/><stop offset="0.5" stop-color="#fcebeb"/><stop offset="0.58" stop-color="#f6bfbf"/><stop offset="0.67" stop-color="#f6c0c0"/><stop offset="0.75" stop-color="#fbe1e1"/><stop offset="0.83" stop-color="#fbe3e3"/><stop offset="0.92" stop-color="#fbe0e0"/><stop offset="1" stop-color="#fadbdb"/></linearGradient>
<linearGradient id="hg57" gradientUnits="userSpaceOnUse" x1="177" x2="247.1" y1="0" y2="0"><stop offset="0" stop-color="#ffffff"/><stop offset="0.08" stop-color="#ffffff"/><stop offset="0.17" stop-color="#fffefe"/><stop offset="0.25" stop-color="#fffefe"/><stop offset="0.33" stop-color="#fffbfb"/><stop offset="0.42" stop-color="#fef7f7"/><stop offset="0.5" stop-color="#fcebeb"/><stop offset="0.58" stop-color="#f6bfbf"/><stop offset="0.67" stop-color="#f6c1c1"/><stop offset="0.75" stop-color="#fbe2e2"/><stop offset="0.83" stop-color="#fbe5e5"/><stop offset="0.92" stop-color="#fbe2e2"/><stop offset="1" stop-color="#fadddd"/></linearGradient>
<linearGradient id="hg58" gradientUnits="userSpaceOnUse" x1="177" x2="247.1" y1="0" y2="0"><stop offset="0" stop-color="#ffffff"/><stop offset="0.08" stop-color="#ffffff"/><stop offset="0.17" stop-color="#ffffff"/><stop offset="0.25" stop-color="#fffefe"/><stop offset="0.33" stop-color="#fffcfc"/><stop offset="0.42" stop-color="#fef8f8"/><stop offset="0.5" stop-color="#fcecec"/><stop offset="0.58" stop-color="#f6c0c0"/><stop offset="0.67" stop-color="#f7c1c1"/><stop offset="0.75" stop-color="#fbe3e3"/><stop offset="0.83" stop-color="#fce6e6"/><stop offset="0.92" stop-color="#fbe3e3"/><stop offset="1" stop-color="#fbdfdf"/></linearGradient>
<linearGradient id="hg59" gradientUnits="userSpaceOnUse" x1="177" x2="247.1" y1="0" y2="0"><stop offset="0" stop-color="#ffffff"/><stop offset="0.08" stop-color="#ffffff"/><stop offset="0.17" stop-color="#ffffff"/><stop offset="0.25" stop-color="#fffefe"/><stop offset="0.33" stop-color="#fffcfc"/><stop offset="0.42" stop-color="#fef8f8"/><stop offset="0.5" stop-color="#fcecec"/><stop offset="0.58" stop-color="#f6c0c0"/><stop offset="0.67" stop-color="#f7c2c2"/><stop offset="0.75" stop-color="#fbe4e4"/><stop offset="0.83" stop-color="#fce7e7"/><stop offset="0.92" stop-color="#fbe4e4"/><stop offset="1" stop-color="#fbe0e0"/></linearGradient>
<linearGradient id="hg60" gradientUnits="userSpaceOnUse" x1="177" x2="247.1" y1="0" y2="0"><stop offset="0" stop-color="#ffffff"/><stop offset="0.08" stop-color="#ffffff"/><stop offset="0.17" stop-color="#ffffff"/><stop offset="0.25" stop-color="#fffefe"/><stop offset="0.33" stop-color="#fffcfc"/><stop offset="0.42" stop-color="#fef8f8"/><stop offset="0.5" stop-color="#fceded"/><stop offset="0.58" stop-color="#f6c1c1"/><stop offset="0.67" stop-color="#f7c3c3"/><stop offset="0.75" stop-color="#fbe5e5"/><stop offset="0.83" stop-color="#fce8e8"/><stop offset="0.92" stop-color="#fce6e6"/><stop offset="1" stop-color="#fbe1e1"/></linearGradient>
<linearGradient id="hg61" gradientUnits="userSpaceOnUse" x1="177" x2="247.1" y1="0" y2="0"><stop offset="0" stop-color="#ffffff"/><stop offset="0.08" stop-color="#ffffff"/><stop offset="0.17" stop-color="#ffffff"/><stop offset="0.25" stop-color="#fffefe"/><stop offset="0.33" stop-color="#fffcfc"/><stop offset="0.42" stop-color="#fef8f8"/><stop offset="0.5" stop-color="#fdeded"/><stop offset="0.58" stop-color="#f7c2c2"/><stop offset="0.67" stop-color="#f7c4c4"/><stop offset="0.75" stop-color="#fbe6e6"/><stop offset="0.83" stop-color="#fce9e9"/><stop offset="0.92" stop-color="#fce7e7"/><stop offset="1" stop-color="#fbe3e3"/></linearGradient>
<linearGradient id="hg62" gradientUnits="userSpaceOnUse" x1="177" x2="247.1" y1="0" y2="0"><stop offset="0" stop-color="#ffffff"/><stop offset="0.08" stop-color="#ffffff"/><stop offset="0.17" stop-color="#ffffff"/><stop offset="0.25" stop-color="#fffefe"/><stop offset="0.33" stop-color="#fffcfc"/><stop offset="0.42" stop-color="#fef9f9"/><stop offset="0.5" stop-color="#fdeeee"/><stop offset="0.58" stop-color="#f7c2c2"/><stop offset="0.67" stop-color="#f7c4c4"/><stop offset="0.75" stop-color="#fce6e6"/><stop offset="0.83" stop-color="#fceaea"/><stop offset="0.92" stop-color="#fce8e8"/><stop offset="1" stop-color="#fbe4e4"/></linearGradient>
<linearGradient id="hg63" gradientUnits="userSpaceOnUse" x1="177" x2="247.1" y1="0" y2="0"><stop offset="0" stop-color="#ffffff"/><stop offset="0.08" stop-color="#ffffff"/><stop offset="0.17" stop-color="#ffffff"/><stop offset="0.25" stop-color="#fffefe"/><stop offset="0.33" stop-color="#fffcfc"/><stop offset="0.42" stop-color="#fef9f9"/><stop offset="0.5" stop-color="#fdeeee"/><stop offset="0.58" stop-color="#f7c2c2"/><stop offset="0.67" stop-color="#f7c5c5"/><stop offset="0.75" stop-color="#fce7e7"/><stop offset="0.83" stop-color="#fcebeb"/><stop offset="0.92" stop-color="#fce9e9"/><stop offset="1" stop-color="#fbe5e5"/></linearGradient>
<linearGradient id="hg64" gradientUnits="userSpaceOnUse" x1="177" x2="247.1" y1="0" y2="0"><stop offset="0" stop-color="#ffffff"/><stop offset="0.08" stop-color="#ffffff"/><stop offset="0.17" stop-color="#ffffff"/><stop offset="0.25" stop-color="#fffefe"/><stop offset="0.33" stop-color="#fffdfd"/><stop offset="0.42" stop-color="#fef9f9"/><stop offset="0.5" stop-color="#fdeeee"/><stop offset="0.58" stop-color="#f7c3c3"/><stop offset="0.67" stop-color="#f7c5c5"/><stop offset="0.75" stop-color="#fce8e8"/><stop offset="0.83" stop-color="#fcecec"/><stop offset="0.92" stop-color="#fceaea"/><stop offset="1" stop-color="#fce7e7"/></linearGradient>
<linearGradient id="hg65" gradientUnits="userSpaceOnUse" x1="177" x2="247.1" y1="0" y2="0"><stop offset="0" stop-color="#ffffff"/><stop offset="0.08" stop-color="#ffffff"/><stop offset="0.17" stop-color="#ffffff"/><stop offset="0.25" stop-color="#fffefe"/><stop offset="0.33" stop-color="#fffdfd"/><stop offset="0.42" stop-color="#fef9f9"/><stop offset="0.5" stop-color="#fdefef"/><stop offset="0.58" stop-color="#f7c3c3"/><stop offset="0.67" stop-color="#f7c6c6"/><stop offset="0.75" stop-color="#fce9e9"/><stop offset="0.83" stop-color="#fceded"/><stop offset="0.92" stop-color="#fcebeb"/><stop offset="1" stop-color="#fce8e8"/></linearGradient>
<linearGradient id="hg66" gradientUnits="userSpaceOnUse" x1="177" x2="247.1" y1="0" y2="0"><stop offset="0" stop-color="#ffffff"/><stop offset="0.08" stop-color="#ffffff"/><stop offset="0.17" stop-color="#ffffff"/><stop offset="0.25" stop-color="#fffefe"/><stop offset="0.33" stop-color="#fffdfd"/><stop offset="0.42" stop-color="#fefafa"/><stop offset="0.5" stop-color="#fdefef"/><stop offset="0.58" stop-color="#f7c4c4"/><stop offset="0.67" stop-color="#f7c6c6"/><stop offset="0.75" stop-color="#fce9e9"/><stop offset="0.83" stop-color="#fdeded"/><stop offset="0.92" stop-color="#fcecec"/><stop offset="1" stop-color="#fce9e9"/></linearGradient>
<linearGradient id="hg67" gradientUnits="userSpaceOnUse" x1="177" x2="247.1" y1="0" y2="0"><stop offset="0" stop-color="#ffffff"/><stop offset="0.08" stop-color="#ffffff"/><stop offset="0.17" stop-color="#ffffff"/><stop offset="0.25" stop-color="#fffefe"/><stop offset="0.33" stop-color="#fffdfd"/><stop offset="0.42" stop-color="#fefafa"/><stop offset="0.5" stop-color="#fdefef"/><stop offset="0.58" stop-color="#f7c4c4"/><stop offset="0.67" stop-color="#f7c7c7"/><stop offset="0.75" stop-color="#fceaea"/><stop offset="0.83" stop-color="#fdeeee"/><stop offset="0.92" stop-color="#fdeded"/><stop offset="1" stop-color="#fceaea"/></linearGradient>
<linearGradient id="hg68" gradientUnits="userSpaceOnUse" x1="177" x2="247.1" y1="0" y2="0"><stop offset="0" stop-color="#ffffff"/><stop offset="0.08" stop-color="#ffffff"/><stop offset="0.17" stop-color="#ffffff"/><stop offset="0.25" stop-color="#fffefe"/><stop offset="0.33" stop-color="#fffdfd"/><stop offset="0.42" stop-color="#fefafa"/><stop offset="0.5" stop-color="#fdefef"/><stop offset="0.58" stop-color="#f7c5c5"/><stop offset="0.67" stop-color="#f7c8c8"/><stop offset="0.75" stop-color="#fceaea"/><stop offset="0.83" stop-color="#fdefef"/><stop offset="0.92" stop-color="#fdeeee"/><stop offset="1" stop-color="#fcebeb"/></linearGradient>
<linearGradient id="hg69" gradientUnits="userSpaceOnUse" x1="177" x2="247.1" y1="0" y2="0"><stop offset="0" stop-color="#ffffff"/><stop offset="0.08" stop-color="#ffffff"/><stop offset="0.17" stop-color="#ffffff"/><stop offset="0.25" stop-color="#fffefe"/><stop offset="0.33" stop-color="#fffdfd"/><stop offset="0.42" stop-color="#fefafa"/><stop offset="0.5" stop-color="#fdf0f0"/><stop offset="0.58" stop-color="#f7c8c8"/><stop offset="0.67" stop-color="#f8cbcb"/><stop offset="0.75" stop-color="#fcebeb"/><stop offset="0.83" stop-color="#fdf0f0"/><stop offset="0.92" stop-color="#fdefef"/><stop offset="1" stop-color="#fcecec"/></linearGradient>
<linearGradient id="hg70" gradientUnits="userSpaceOnUse" x1="177" x2="247.1" y1="0" y2="0"><stop offset="0" stop-color="#ffffff"/><stop offset="0.08" stop-color="#ffffff"/><stop offset="0.17" stop-color="#ffffff"/><stop offset="0.25" stop-color="#fffefe"/><stop offset="0.33" stop-color="#fffdfd"/><stop offset="0.42" stop-color="#fefafa"/><stop offset="0.5" stop-color="#fdf1f1"/><stop offset="0.58" stop-color="#f8cbcb"/><stop offset="0.67" stop-color="#f8cece"/><stop offset="0.75" stop-color="#fcecec"/><stop offset="0.83" stop-color="#fdf0f0"/><stop offset="0.92" stop-color="#fdefef"/><stop offset="1" stop-color="#fceded"/></linearGradient>
<linearGradient id="hg71" gradientUnits="userSpaceOnUse" x1="177" x2="247.1" y1="0" y2="0"><stop offset="0" stop-color="#ffffff"/><stop offset="0.08" stop-color="#ffffff"/><stop offset="0.17" stop-color="#ffffff"/><stop offset="0.25" stop-color="#fffefe"/><stop offset="0.33" stop-color="#fffdfd"/><stop offset="0.42" stop-color="#fefafa"/><stop offset="0.5" stop-color="#fdf1f1"/><stop offset="0.58" stop-color="#f8cece"/><stop offset="0.67" stop-color="#f9d0d0"/><stop offset="0.75" stop-color="#fceded"/><stop offset="0.83" stop-color="#fdf1f1"/><stop offset="0.92" stop-color="#fdf0f0"/><stop offset="1" stop-color="#fdeeee"/></linearGradient>
<linearGradient id="hg72" gradientUnits="userSpaceOnUse" x1="177" x2="247.1" y1="0" y2="0"><stop offset="0" stop-color="#ffffff"/><stop offset="0.08" stop-color="#ffffff"/><stop offset="0.17" stop-color="#ffffff"/><stop offset="0.25" stop-color="#ffffff"/><stop offset="0.33" stop-color="#fffdfd"/><stop offset="0.42" stop-color="#fefafa"/><stop offset="0.5" stop-color="#fdf2f2"/><stop offset="0.58" stop-color="#f9d1d1"/><stop offset="0.67" stop-color="#f9d3d3"/><stop offset="0.75" stop-color="#fdeded"/><stop offset="0.83" stop-color="#fdf1f1"/><stop offset="0.92" stop-color="#fdf1f1"/><stop offset="1" stop-color="#fdeeee"/></linearGradient>
<linearGradient id="hg73" gradientUnits="userSpaceOnUse" x1="177" x2="247.1" y1="0" y2="0"><stop offset="0" stop-color="#ffffff"/><stop offset="0.08" stop-color="#ffffff"/><stop offset="0.17" stop-color="#ffffff"/><stop offset="0.25" stop-color="#ffffff"/><stop offset="0.33" stop-color="#fffdfd"/><stop offset="0.42" stop-color="#fefafa"/><stop offset="0.5" stop-color="#fdf2f2"/><stop offset="0.58" stop-color="#f9d4d4"/><stop offset="0.67" stop-color="#f9d5d5"/><stop offset="0.75" stop-color="#fdeeee"/><stop offset="0.83" stop-color="#fdf2f2"/><stop offset="0.92" stop-color="#fdf2f2"/><stop offset="1" stop-color="#fdefef"/></linearGradient>
<linearGradient id="hg74" gradientUnits="userSpaceOnUse" x1="177" x2="247.1" y1="0" y2="0"><stop offset="0" stop-color="#ffffff"/><stop offset="0.08" stop-color="#ffffff"/><stop offset="0.17" stop-color="#ffffff"/><stop offset="0.25" stop-color="#ffffff"/><stop offset="0.33" stop-color="#fffdfd"/><stop offset="0.42" stop-color="#fefbfb"/><stop offset="0.5" stop-color="#fdf3f3"/><stop offset="0.58" stop-color="#f9d6d6"/><stop offset="0.67" stop-color="#fad8d8"/><stop offset="0.75" stop-color="#fdefef"/><stop offset="0.83" stop-color="#fdf3f3"/><stop offset="0.92" stop-color="#fdf2f2"/><stop offset="1" stop-color="#fdf0f0"/></linearGradient>
<linearGradient id="hg75" gradientUnits="userSpaceOnUse" x1="177" x2="247.1" y1="0" y2="0"><stop offset="0" stop-color="#ffffff"/><stop offset="0.08" stop-color="#ffffff"/><stop offset="0.17" stop-color="#ffffff"/><stop offset="0.25" stop-color="#ffffff"/><stop offset="0.33" stop-color="#fffdfd"/><stop offset="0.42" stop-color="#fefbfb"/><stop offset="0.5" stop-color="#fdf3f3"/><stop offset="0.58" stop-color="#fad9d9"/><stop offset="0.67" stop-color="#fadbdb"/><stop offset="0.75" stop-color="#fdefef"/><stop offset="0.83" stop-color="#fdf3f3"/><stop offset="0.92" stop-color="#fdf3f3"/><stop offset="1" stop-color="#fdf1f1"/></linearGradient>
<linearGradient id="hg76" gradientUnits="userSpaceOnUse" x1="177" x2="247.1" y1="0" y2="0"><stop offset="0" stop-color="#ffffff"/><stop offset="0.08" stop-color="#ffffff"/><stop offset="0.17" stop-color="#ffffff"/><stop offset="0.25" stop-color="#ffffff"/><stop offset="0.33" stop-color="#fffdfd"/><stop offset="0.42" stop-color="#fefbfb"/><stop offset="0.5" stop-color="#fdf3f3"/><stop offset="0.58" stop-color="#fadcdc"/><stop offset="0.67" stop-color="#fadddd"/><stop offset="0.75" stop-color="#fdf0f0"/><stop offset="0.83" stop-color="#fdf3f3"/><stop offset="0.92" stop-color="#fdf3f3"/><stop offset="1" stop-color="#fdf1f1"/></linearGradient>
<linearGradient id="hg77" gradientUnits="userSpaceOnUse" x1="177" x2="247.1" y1="0" y2="0"><stop offset="0" stop-color="#ffffff"/><stop offset="0.08" stop-color="#ffffff"/><stop offset="0.17" stop-color="#ffffff"/><stop offset="0.25" stop-color="#ffffff"/><stop offset="0.33" stop-color="#fffdfd"/><stop offset="0.42" stop-color="#fefbfb"/><stop offset="0.5" stop-color="#fdf4f4"/><stop offset="0.58" stop-color="#fbdfdf"/><stop offset="0.67" stop-color="#fbe0e0"/><stop offset="0.75" stop-color="#fdf0f0"/><stop offset="0.83" stop-color="#fdf4f4"/><stop offset="0.92" stop-color="#fdf4f4"/><stop offset="1" stop-color="#fdf2f2"/></linearGradient>
<linearGradient id="hg78" gradientUnits="userSpaceOnUse" x1="177" x2="247.1" y1="0" y2="0"><stop offset="0" stop-color="#ffffff"/><stop offset="0.08" stop-color="#ffffff"/><stop offset="0.17" stop-color="#ffffff"/><stop offset="0.25" stop-color="#ffffff"/><stop offset="0.33" stop-color="#fffefe"/><stop offset="0.42" stop-color="#fefbfb"/><stop offset="0.5" stop-color="#fef4f4"/><stop offset="0.58" stop-color="#fbe1e1"/><stop offset="0.67" stop-color="#fbe2e2"/><stop offset="0.75" stop-color="#fdf1f1"/><stop offset="0.83" stop-color="#fef4f4"/><stop offset="0.92" stop-color="#fef5f5"/><stop offset="1" stop-color="#fdf3f3"/></linearGradient>
<linearGradient id="hg79" gradientUnits="userSpaceOnUse" x1="177" x2="247.1" y1="0" y2="0"><stop offset="0" stop-color="#ffffff"/><stop offset="0.08" stop-color="#ffffff"/><stop offset="0.17" stop-color="#ffffff"/><stop offset="0.25" stop-color="#ffffff"/><stop offset="0.33" stop-color="#fffefe"/><stop offset="0.42" stop-color="#fefbfb"/><stop offset="0.5" stop-color="#fef5f5"/><stop offset="0.58" stop-color="#fbe4e4"/><stop offset="0.67" stop-color="#fbe5e5"/><stop offset="0.75" stop-color="#fdf2f2"/><stop offset="0.83" stop-color="#fef5f5"/><stop offset="0.92" stop-color="#fef5f5"/><stop offset="1" stop-color="#fdf3f3"/></linearGradient>
<linearGradient id="hg80" gradientUnits="userSpaceOnUse" x1="299.2" x2="367.5" y1="0" y2="0"><stop offset="0" stop-color="#fffdfd"/><stop offset="0.08" stop-color="#fad8d8"/><stop offset="0.17" stop-color="#f5b6b6"/><stop offset="0.25" stop-color="#f29e9e"/><stop offset="0.33" stop-color="#ef8a8a"/><stop offset="0.42" stop-color="#ed7f7f"/><stop offset="0.5" stop-color="#ed7b7b"/><stop offset="0.58" stop-color="#ef8c8c"/><stop offset="0.67" stop-color="#f7c3c3"/><stop offset="0.75" stop-color="#ebf6ea"/><stop offset="0.83" stop-color="#ffffff"/><stop offset="0.92" stop-color="#f4afaf"/><stop offset="1" stop-color="#ed7a7a"/></linearGradient>
<linearGradient id="hg81" gradientUnits="userSpaceOnUse" x1="299.2" x2="367.5" y1="0" y2="0"><stop offset="0" stop-color="#fffdfd"/><stop offset="0.08" stop-color="#f9d6d6"/><stop offset="0.17" stop-color="#f5b5b5"/><stop offset="0.25" stop-color="#f29d9d"/><stop offset="0.33" stop-color="#ef8c8c"/><stop offset="0.42" stop-color="#ee8484"/><stop offset="0.5" stop-color="#ee8080"/><stop offset="0.58" stop-color="#ef8d8d"/><stop offset="0.67" stop-color="#f6c0c0"/><stop offset="0.75" stop-color="#f3faf3"/><stop offset="0.83" stop-color="#fef8f8"/><stop offset="0.92" stop-color="#f4adad"/><stop offset="1" stop-color="#ed7a7a"/></linearGradient>
<linearGradient id="hg82" gradientUnits="userSpaceOnUse" x1="299.2" x2="367.5" y1="0" y2="0"><stop offset="0" stop-color="#fffdfd"/><stop offset="0.08" stop-color="#f9d3d3"/><stop offset="0.17" stop-color="#f4b1b1"/><stop offset="0.25" stop-color="#f19b9b"/><stop offset="0.33" stop-color="#ef8d8d"/><stop offset="0.42" stop-color="#ef8989"/><stop offset="0.5" stop-color="#ee8484"/><stop offset="0.58" stop-color="#ef8d8d"/><stop offset="0.67" stop-color="#f6bbbb"/><stop offset="0.75" stop-color="#fffdfd"/><stop offset="0.83" stop-color="#fcebeb"/><stop offset="0.92" stop-color="#f3a9a9"/><stop offset="1" stop-color="#ec7878"/></linearGradient>
<linearGradient id="hg83" gradientUnits="userSpaceOnUse" x1="299.2" x2="367.5" y1="0" y2="0"><stop offset="0" stop-color="#fffdfd"/><stop offset="0.08" stop-color="#f8cfcf"/><stop offset="0.17" stop-color="#f4acac"/><stop offset="0.25" stop-color="#f19898"/><stop offset="0.33" stop-color="#ef8e8e"/><stop offset="0.42" stop-color="#ef8c8c"/><stop offset="0.5" stop-color="#ee8787"/><stop offset="0.58" stop-color="#ef8c8c"/><stop offset="0.67" stop-color="#f5b4b4"/><stop offset="0.75" stop-color="#fceaea"/><stop offset="0.83" stop-color="#fadddd"/><stop offset="0.92" stop-color="#f2a3a3"/><stop offset="1" stop-color="#ec7676"/></linearGradient>
<linearGradient id="hg84" gradientUnits="userSpaceOnUse" x1="299.2" x2="367.5" y1="0" y2="0"><stop offset="0" stop-color="#fffdfd"/><stop offset="0.08" stop-color="#f8caca"/><stop offset="0.17" stop-color="#f3a6a6"/><stop offset="0.25" stop-color="#f09494"/><stop offset="0.33" stop-color="#ef8c8c"/><stop offset="0.42" stop-color="#ef8d8d"/><stop offset="0.5" stop-color="#ee8787"/><stop offset="0.58" stop-color="#ef8888"/><stop offset="0.67" stop-color="#f3abab"/><stop offset="0.75" stop-color="#f9d7d7"/><stop offset="0.83" stop-color="#f8cdcd"/><stop offset="0.92" stop-color="#f19c9c"/><stop offset="1" stop-color="#ec7474"/></linearGradient>
<linearGradient id="hg85" gradientUnits="userSpaceOnUse" x1="299.2" x2="367.5" y1="0" y2="0"><stop offset="0" stop-color="#fffcfc"/><stop offset="0.08" stop-color="#f7c4c4"/><stop offset="0.17" stop-color="#f29f9f"/><stop offset="0.25" stop-color="#f08f8f"/><stop offset="0.33" stop-color="#ef8989"/><stop offset="0.42" stop-color="#ef8a8a"/><stop offset="0.5" stop-color="#ee8383"/><stop offset="0.58" stop-color="#ee8282"/><stop offset="0.67" stop-color="#f2a0a0"/><stop offset="0.75" stop-color="#f7c5c5"/><stop offset="0.83" stop-color="#f6bebe"/><stop offset="0.92" stop-color="#f09595"/><stop offset="1" stop-color="#eb7171"/></linearGradient>
<linearGradient id="hg86" gradientUnits="userSpaceOnUse" x1="299.2" x2="367.5" y1="0" y2="0"><stop offset="0" stop-color="#fffcfc"/><stop offset="0.08" stop-color="#f6bebe"/><stop offset="0.17" stop-color="#f19797"/><stop offset="0.25" stop-color="#ef8989"/><stop offset="0.33" stop-color="#ee8484"/><stop offset="0.42" stop-color="#ee8383"/><stop offset="0.5" stop-color="#ed7c7c"/><stop offset="0.58" stop-color="#ed7a7a"/><stop offset="0.67" stop-color="#f09494"/><stop offset="0.75" stop-color="#f5b4b4"/><stop offset="0.83" stop-color="#f4b0b0"/><stop offset="0.92" stop-color="#ef8d8d"/><stop offset="1" stop-color="#eb6e6e"/></linearGradient>
<linearGradient id="hg87" gradientUnits="userSpaceOnUse" x1="299.2" x2="367.5" y1="0" y2="0"><stop offset="0" stop-color="#fffcfc"/><stop offset="0.08" stop-color="#f5b8b8"/><stop offset="0.17" stop-color="#f08f8f"/><stop offset="0.25" stop-color="#ee8383"/><stop offset="0.33" stop-color="#ed7e7e"/><stop offset="0.42" stop-color="#ed7a7a"/><stop offset="0.5" stop-color="#ec7171"/><stop offset="0.58" stop-color="#eb7070"/><stop offset="0.67" stop-color="#ee8787"/><stop offset="0.75" stop-color="#f2a4a4"/><stop offset="0.83" stop-color="#f2a1a1"/><stop offset="0.92" stop-color="#ee8585"/><stop offset="1" stop-color="#eb6b6b"/></linearGradient>
<linearGradient id="hg88" gradientUnits="userSpaceOnUse" x1="299.2" x2="367.5" y1="0" y2="0"><stop offset="0" stop-color="#fffcfc"/><stop offset="0.08" stop-color="#f4b2b2"/><stop offset="0.17" stop-color="#ef8888"/><stop offset="0.25" stop-color="#ed7d7d"/><stop offset="0.33" stop-color="#ec7777"/><stop offset="0.42" stop-color="#eb7070"/><stop offset="0.5" stop-color="#ea6565"/><stop offset="0.58" stop-color="#ea6464"/><stop offset="0.67" stop-color="#ec7979"/><stop offset="0.75" stop-color="#f09595"/><stop offset="0.83" stop-color="#f09494"/><stop offset="0.92" stop-color="#ed7d7d"/><stop offset="1" stop-color="#ea6868"/></linearGradient>
<linearGradient id="hg89" gradientUnits="userSpaceOnUse" x1="299.2" x2="367.5" y1="0" y2="0"><stop offset="0" stop-color="#fefbfb"/><stop offset="0.08" stop-color="#f4adad"/><stop offset="0.17" stop-color="#ee8181"/><stop offset="0.25" stop-color="#ec7676"/><stop offset="0.33" stop-color="#eb7070"/><stop offset="0.42" stop-color="#ea6565"/><stop offset="0.5" stop-color="#e85858"/><stop offset="0.58" stop-color="#e85858"/><stop offset="0.67" stop-color="#eb6b6b"/><stop offset="0.75" stop-color="#ee8686"/><stop offset="0.83" stop-color="#ef8888"/><stop offset="0.92" stop-color="#ec7676"/><stop offset="1" stop-color="#ea6666"/></linearGradient>
<linearGradient id="hg90" gradientUnits="userSpaceOnUse" x1="299.2" x2="367.5" y1="0" y2="0"><stop offset="0" stop-color="#fefbfb"/><stop offset="0.08" stop-color="#f3a8a8"/><stop offset="0.17" stop-color="#ed7a7a"/><stop offset="0.25" stop-color="#eb7171"/><stop offset="0.33" stop-color="#eb6a6a"/><stop offset="0.42" stop-color="#e85b5b"/><stop offset="0.5" stop-color="#e64b4b"/><stop offset="0.58" stop-color="#e64c4c"/><stop offset="0.67" stop-color="#e95d5d"/><stop offset="0.75" stop-color="#ed7979"/><stop offset="0.83" stop-color="#ed7e7e"/><stop offset="0.92" stop-color="#eb7070"/><stop offset="1" stop-color="#ea6363"/></linearGradient>
<linearGradient id="hg91" gradientUnits="userSpaceOnUse" x1="299.2" x2="367.5" y1="0" y2="0"><stop offset="0" stop-color="#fefbfb"/><stop offset="0.08" stop-color="#f2a4a4"/><stop offset="0.17" stop-color="#ec7575"/><stop offset="0.25" stop-color="#eb6d6d"/><stop offset="0.33" stop-color="#ea6565"/><stop offset="0.42" stop-color="#e75252"/><stop offset="0.5" stop-color="#e54141"/><stop offset="0.58" stop-color="#e54242"/><stop offset="0.67" stop-color="#e75151"/><stop offset="0.75" stop-color="#eb6e6e"/><stop offset="0.83" stop-color="#ec7474"/><stop offset="0.92" stop-color="#ea6a6a"/><stop offset="1" stop-color="#e96161"/></linearGradient>
<linearGradient id="hg92" gradientUnits="userSpaceOnUse" x1="299.2" x2="367.5" y1="0" y2="0"><stop offset="0" stop-color="#fefbfb"/><stop offset="0.08" stop-color="#f2a1a1"/><stop offset="0.17" stop-color="#eb7171"/><stop offset="0.25" stop-color="#ea6969"/><stop offset="0.33" stop-color="#e96262"/><stop offset="0.42" stop-color="#e64b4b"/><stop offset="0.5" stop-color="#e43838"/><stop offset="0.58" stop-color="#e43939"/><stop offset="0.67" stop-color="#e64747"/><stop offset="0.75" stop-color="#ea6464"/><stop offset="0.83" stop-color="#eb6c6c"/><stop offset="0.92" stop-color="#ea6565"/><stop offset="1" stop-color="#e95f5f"/></linearGradient>
<linearGradient id="hg93" gradientUnits="userSpaceOnUse" x1="299.2" x2="367.5" y1="0" y2="0"><stop offset="0" stop-color="#fefbfb"/><stop offset="0.08" stop-color="#f29f9f"/><stop offset="0.17" stop-color="#eb6e6e"/><stop offset="0.25" stop-color="#ea6666"/><stop offset="0.33" stop-color="#e95f5f"/><stop offset="0.42" stop-color="#e64646"/><stop offset="0.5" stop-color="#e33131"/><stop offset="0.58" stop-color="#e33131"/><stop offset="0.67" stop-color="#e43e3e"/><stop offset="0.75" stop-color="#e95c5c"/><stop offset="0.83" stop-color="#ea6565"/><stop offset="0.92" stop-color="#e96060"/><stop offset="1" stop-color="#e95d5d"/></linearGradient>
<linearGradient id="hg94" gradientUnits="userSpaceOnUse" x1="299.2" x2="367.5" y1="0" y2="0"><stop offset="0" stop-color="#fefbfb"/><stop offset="0.08" stop-color="#f29d9d"/><stop offset="0.17" stop-color="#eb6c6c"/><stop offset="0.25" stop-color="#ea6464"/><stop offset="0.33" stop-color="#e95d5d"/><stop offset="0.42" stop-color="#e54343"/><stop offset="0.5" stop-color="#e22c2c"/><stop offset="0.58" stop-color="#e22c2c"/><stop offset="0.67" stop-color="#e33737"/><stop offset="0.75" stop-color="#e85656"/><stop offset="0.83" stop-color="#e95f5f"/><stop offset="0.92" stop-color="#e85b5b"/><stop offset="1" stop-color="#e85b5b"/></linearGradient>
<linearGradient id="hg95" gradientUnits="userSpaceOnUse" x1="299.2" x2="367.5" y1="0" y2="0"><stop offset="0" stop-color="#fefbfb"/><stop offset="0.08" stop-color="#f19d9d"/><stop offset="0.17" stop-color="#eb6b6b"/><stop offset="0.25" stop-color="#e96363"/><stop offset="0.33" stop-color="#e85b5b"/><stop offset="0.42" stop-color="#e54040"/><stop offset="0.5" stop-color="#e12828"/><stop offset="0.58" stop-color="#e12727"/><stop offset="0.67" stop-color="#e33232"/><stop offset="0.75" stop-color="#e75050"/><stop offset="0.83" stop-color="#e85a5a"/><stop offset="0.92" stop-color="#e85757"/><stop offset="1" stop-color="#e85858"/></linearGradient>
<linearGradient id="hg96" gradientUnits="userSpaceOnUse" x1="299.2" x2="367.5" y1="0" y2="0"><stop offset="0" stop-color="#fefbfb"/><stop offset="0.08" stop-color="#f29d9d"/><stop offset="0.17" stop-color="#eb6b6b"/><stop offset="0.25" stop-color="#e96262"/><stop offset="0.33" stop-color="#e85a5a"/><stop offset="0.42" stop-color="#e43e3e"/><stop offset="0.5" stop-color="#e12525"/><stop offset="0.58" stop-color="#e12424"/><stop offset="0.67" stop-color="#e22e2e"/><stop offset="0.75" stop-color="#e64c4c"/><stop offset="0.83" stop-color="#e85555"/><stop offset="0.92" stop-color="#e75252"/><stop offset="1" stop-color="#e85656"/></linearGradient>
<linearGradient id="hg97" gradientUnits="userSpaceOnUse" x1="299.2" x2="367.5" y1="0" y2="0"><stop offset="0" stop-color="#fefbfb"/><stop offset="0.08" stop-color="#f29f9f"/><stop offset="0.17" stop-color="#eb6c6c"/><stop offset="0.25" stop-color="#e96262"/><stop offset="0.33" stop-color="#e85a5a"/><stop offset="0.42" stop-color="#e43d3d"/><stop offset="0.5" stop-color="#e12323"/><stop offset="0.58" stop-color="#e12222"/><stop offset="0.67" stop-color="#e22b2b"/><stop offset="0.75" stop-color="#e64848"/><stop offset="0.83" stop-color="#e74f4f"/><stop offset="0.92" stop-color="#e64d4d"/><stop offset="1" stop-color="#e75353"/></linearGradient>
<linearGradient id="hg98" gradientUnits="userSpaceOnUse" x1="299.2" x2="367.5" y1="0" y2="0"><stop offset="0" stop-color="#fefbfb"/><stop offset="0.08" stop-color="#f2a1a1"/><stop offset="0.17" stop-color="#eb6e6e"/><stop offset="0.25" stop-color="#e96363"/><stop offset="0.33" stop-color="#e85959"/><stop offset="0.42" stop-color="#e43c3c"/><stop offset="0.5" stop-color="#e12222"/><stop offset="0.58" stop-color="#e02020"/><stop offset="0.67" stop-color="#e22929"/><stop offset="0.75" stop-color="#e54545"/><stop offset="0.83" stop-color="#e64b4b"/><stop offset="0.92" stop-color="#e64747"/><stop offset="1" stop-color="#e75050"/></linearGradient>
<linearGradient id="hg99" gradientUnits="userSpaceOnUse" x1="299.2" x2="367.5" y1="0" y2="0"><stop offset="0" stop-color="#fefbfb"/><stop offset="0.08" stop-color="#f2a4a4"/><stop offset="0.17" stop-color="#eb7171"/><stop offset="0.25" stop-color="#ea6464"/><stop offset="0.33" stop-color="#e85959"/><stop offset="0.42" stop-color="#e43b3b"/><stop offset="0.5" stop-color="#e02121"/><stop offset="0.58" stop-color="#e01f1f"/><stop offset="0.67" stop-color="#e12727"/><stop offset="0.75" stop-color="#e54242"/><stop offset="0.83" stop-color="#e64646"/><stop offset="0.92" stop-color="#e54242"/><stop offset="1" stop-color="#e64d4d"/></linearGradient>
<linearGradient id="hg100" gradientUnits="userSpaceOnUse" x1="299.2" x2="367.5" y1="0" y2="0"><stop offset="0" stop-color="#fefbfb"/><stop offset="0.08" stop-color="#f3a8a8"/><stop offset="0.17" stop-color="#ec7575"/><stop offset="0.25" stop-color="#ea6565"/><stop offset="0.33" stop-color="#e85959"/><stop offset="0.42" stop-color="#e43b3b"/><stop offset="0.5" stop-color="#e02121"/><stop offset="0.58" stop-color="#e01f1f"/><stop offset="0.67" stop-color="#e12626"/><stop offset="0.75" stop-color="#e54040"/><stop offset="0.83" stop-color="#e54242"/><stop offset="0.92" stop-color="#e43d3d"/><stop offset="1" stop-color="#e64a4a"/></linearGradient>
<linearGradient id="hg101" gradientUnits="userSpaceOnUse" x1="299.2" x2="367.5" y1="0" y2="0"><stop offset="0" stop-color="#fefbfb"/><stop offset="0.08" stop-color="#f4adad"/><stop offset="0.17" stop-color="#ed7a7a"/><stop offset="0.25" stop-color="#ea6767"/><stop offset="0.33" stop-color="#e85a5a"/><stop offset="0.42" stop-color="#e43b3b"/><stop offset="0.5" stop-color="#e02121"/><stop offset="0.58" stop-color="#e01f1f"/><stop offset="0.67" stop-color="#e12626"/><stop offset="0.75" stop-color="#e53f3f"/><stop offset="0.83" stop-color="#e43e3e"/><stop offset="0.92" stop-color="#e43939"/><stop offset="1" stop-color="#e64747"/></linearGradient>
<linearGradient id="hg102" gradientUnits="userSpaceOnUse" x1="299.2" x2="367.5" y1="0" y2="0"><stop offset="0" stop-color="#fffbfb"/><stop offset="0.08" stop-color="#f5b3b3"/><stop offset="0.17" stop-color="#ed8080"/><stop offset="0.25" stop-color="#ea6a6a"/><stop offset="0.33" stop-color="#e85a5a"/><stop offset="0.42" stop-color="#e43b3b"/><stop offset="0.5" stop-color="#e02121"/><stop offset="0.58" stop-color="#e01e1e"/><stop offset="0.67" stop-color="#e12525"/><stop offset="0.75" stop-color="#e43e3e"/><stop offset="0.83" stop-color="#e43c3c"/><stop offset="0.92" stop-color="#e33636"/><stop offset="1" stop-color="#e54646"/></linearGradient>
<linearGradient id="hg103" gradientUnits="userSpaceOnUse" x1="299.2" x2="367.5" y1="0" y2="0"><stop offset="0" stop-color="#fffcfc"/><stop offset="0.08" stop-color="#f5b9b9"/><stop offset="0.17" stop-color="#ee8686"/><stop offset="0.25" stop-color="#eb6c6c"/><stop offset="0.33" stop-color="#e85b5b"/><stop offset="0.42" stop-color="#e43b3b"/><stop offset="0.5" stop-color="#e02121"/><stop offset="0.58" stop-color="#e01e1e"/><stop offset="0.67" stop-color="#e12525"/><stop offset="0.75" stop-color="#e43d3d"/><stop offset="0.83" stop-color="#e43a3a"/><stop offset="0.92" stop-color="#e33535"/><stop offset="1" stop-color="#e54545"/></linearGradient>
<linearGradient id="hg104" gradientUnits="userSpaceOnUse" x1="299.2" x2="367.5" y1="0" y2="0"><stop offset="0" stop-color="#fffcfc"/><stop offset="0.08" stop-color="#f6c1c1"/><stop offset="0.17" stop-color="#ef8e8e"/><stop offset="0.25" stop-color="#eb7070"/><stop offset="0.33" stop-color="#e95c5c"/><stop offset="0.42" stop-color="#e43c3c"/><stop offset="0.5" stop-color="#e02121"/><stop offset="0.58" stop-color="#e01f1f"/><stop offset="0.67" stop-color="#e12525"/><stop offset="0.75" stop-color="#e43d3d"/><stop offset="0.83" stop-color="#e43a3a"/><stop offset="0.92" stop-color="#e33535"/><stop offset="1" stop-color="#e54545"/></linearGradient>
<linearGradient id="hg105" gradientUnits="userSpaceOnUse" x1="299.2" x2="367.5" y1="0" y2="0"><stop offset="0" stop-color="#fffcfc"/><stop offset="0.08" stop-color="#f7c8c8"/><stop offset="0.17" stop-color="#f09595"/><stop offset="0.25" stop-color="#ec7373"/><stop offset="0.33" stop-color="#e95d5d"/><stop offset="0.42" stop-color="#e43c3c"/><stop offset="0.5" stop-color="#e02121"/><stop offset="0.58" stop-color="#e01f1f"/><stop offset="0.67" stop-color="#e12626"/><stop offset="0.75" stop-color="#e43e3e"/><stop offset="0.83" stop-color="#e43c3c"/><stop offset="0.92" stop-color="#e33636"/><stop offset="1" stop-color="#e54646"/></linearGradient>
<linearGradient id="hg106" gradientUnits="userSpaceOnUse" x1="299.2" x2="367.5" y1="0" y2="0"><stop offset="0" stop-color="#fffdfd"/><stop offset="0.08" stop-color="#f9d1d1"/><stop offset="0.17" stop-color="#f29d9d"/><stop offset="0.25" stop-color="#ec7676"/><stop offset="0.33" stop-color="#e95e5e"/><stop offset="0.42" stop-color="#e43d3d"/><stop offset="0.5" stop-color="#e12222"/><stop offset="0.58" stop-color="#e02020"/><stop offset="0.67" stop-color="#e12727"/><stop offset="0.75" stop-color="#e53f3f"/><stop offset="0.83" stop-color="#e43e3e"/><stop offset="0.92" stop-color="#e43939"/><stop offset="1" stop-color="#e64747"/></linearGradient>
<linearGradient id="hg107" gradientUnits="userSpaceOnUse" x1="299.2" x2="367.5" y1="0" y2="0"><stop offset="0" stop-color="#fffdfd"/><stop offset="0.08" stop-color="#fadbdb"/><stop offset="0.17" stop-color="#f3a5a5"/><stop offset="0.25" stop-color="#ed7a7a"/><stop offset="0.33" stop-color="#e95f5f"/><stop offset="0.42" stop-color="#e43d3d"/><stop offset="0.5" stop-color="#e12323"/><stop offset="0.58" stop-color="#e02121"/><stop offset="0.67" stop-color="#e12828"/><stop offset="0.75" stop-color="#e54040"/><stop offset="0.83" stop-color="#e54141"/><stop offset="0.92" stop-color="#e43d3d"/><stop offset="1" stop-color="#e64a4a"/></linearGradient>
<linearGradient id="hg108" gradientUnits="userSpaceOnUse" x1="299.2" x2="367.5" y1="0" y2="0"><stop offset="0" stop-color="#fffefe"/><stop offset="0.08" stop-color="#fce7e7"/><stop offset="0.17" stop-color="#f4adad"/><stop offset="0.25" stop-color="#ed7d7d"/><stop offset="0.33" stop-color="#e96060"/><stop offset="0.42" stop-color="#e43e3e"/><stop offset="0.5" stop-color="#e12525"/><stop offset="0.58" stop-color="#e12222"/><stop offset="0.67" stop-color="#e22929"/><stop offset="0.75" stop-color="#e54242"/><stop offset="0.83" stop-color="#e54545"/><stop offset="0.92" stop-color="#e54141"/><stop offset="1" stop-color="#e64c4c"/></linearGradient>
<linearGradient id="hg109" gradientUnits="userSpaceOnUse" x1="299.2" x2="367.5" y1="0" y2="0"><stop offset="0" stop-color="#fffefe"/><stop offset="0.08" stop-color="#fef7f7"/><stop offset="0.17" stop-color="#f5b5b5"/><stop offset="0.25" stop-color="#ee8080"/><stop offset="0.33" stop-color="#e96161"/><stop offset="0.42" stop-color="#e54040"/><stop offset="0.5" stop-color="#e12727"/><stop offset="0.58" stop-color="#e12525"/><stop offset="0.67" stop-color="#e22b2b"/><stop offset="0.75" stop-color="#e54444"/><stop offset="0.83" stop-color="#e64949"/><stop offset="0.92" stop-color="#e64646"/><stop offset="1" stop-color="#e74f4f"/></linearGradient>
<linearGradient id="hg110" gradientUnits="userSpaceOnUse" x1="299.2" x2="367.5" y1="0" y2="0"><stop offset="0" stop-color="#ffffff"/><stop offset="0.08" stop-color="#f7fbf6"/><stop offset="0.17" stop-color="#f6bcbc"/><stop offset="0.25" stop-color="#ee8383"/><stop offset="0.33" stop-color="#e96262"/><stop offset="0.42" stop-color="#e54141"/><stop offset="0.5" stop-color="#e22929"/><stop offset="0.58" stop-color="#e12828"/><stop offset="0.67" stop-color="#e22e2e"/><stop offset="0.75" stop-color="#e64747"/><stop offset="0.83" stop-color="#e64d4d"/><stop offset="0.92" stop-color="#e64b4b"/><stop offset="1" stop-color="#e75252"/></linearGradient>
<linearGradient id="hg111" gradientUnits="userSpaceOnUse" x1="299.2" x2="367.5" y1="0" y2="0"><stop offset="0" stop-color="#fefffe"/><stop offset="0.08" stop-color="#e6f4e4"/><stop offset="0.17" stop-color="#f7c3c3"/><stop offset="0.25" stop-color="#ee8585"/><stop offset="0.33" stop-color="#ea6363"/><stop offset="0.42" stop-color="#e54444"/><stop offset="0.5" stop-color="#e22d2d"/><stop offset="0.58" stop-color="#e22b2b"/><stop offset="0.67" stop-color="#e33232"/><stop offset="0.75" stop-color="#e64949"/><stop offset="0.83" stop-color="#e75050"/><stop offset="0.92" stop-color="#e74f4f"/><stop offset="1" stop-color="#e85555"/></linearGradient>
<linearGradient id="hg112" gradientUnits="userSpaceOnUse" x1="299.2" x2="367.5" y1="0" y2="0"><stop offset="0" stop-color="#fefefe"/><stop offset="0.08" stop-color="#d5ecd3"/><stop offset="0.17" stop-color="#f7c8c8"/><stop offset="0.25" stop-color="#ee8787"/><stop offset="0.33" stop-color="#ea6464"/><stop offset="0.42" stop-color="#e64646"/><stop offset="0.5" stop-color="#e33131"/><stop offset="0.58" stop-color="#e23030"/><stop offset="0.67" stop-color="#e33636"/><stop offset="0.75" stop-color="#e64c4c"/><stop offset="0.83" stop-color="#e75353"/><stop offset="0.92" stop-color="#e75353"/><stop offset="1" stop-color="#e85757"/></linearGradient>
<linearGradient id="hg113" gradientUnits="userSpaceOnUse" x1="299.2" x2="367.5" y1="0" y2="0"><stop offset="0" stop-color="#fdfefd"/><stop offset="0.08" stop-color="#c9e7c7"/><stop offset="0.17" stop-color="#f8cccc"/><stop offset="0.25" stop-color="#ef8888"/><stop offset="0.33" stop-color="#ea6565"/><stop offset="0.42" stop-color="#e64949"/><stop offset="0.5" stop-color="#e33737"/><stop offset="0.58" stop-color="#e33535"/><stop offset="0.67" stop-color="#e43a3a"/><stop offset="0.75" stop-color="#e74e4e"/><stop offset="0.83" stop-color="#e85656"/><stop offset="0.92" stop-color="#e85656"/><stop offset="1" stop-color="#e85959"/></linearGradient>
<linearGradient id="hg114" gradientUnits="userSpaceOnUse" x1="299.2" x2="367.5" y1="0" y2="0"><stop offset="0" stop-color="#fdfefd"/><stop offset="0.08" stop-color="#c5e5c3"/><stop offset="0.17" stop-color="#f8cdcd"/><stop offset="0.25" stop-color="#ef8888"/><stop offset="0.33" stop-color="#ea6565"/><stop offset="0.42" stop-color="#e64c4c"/><stop offset="0.5" stop-color="#e43c3c"/><stop offset="0.58" stop-color="#e43b3b"/><stop offset="0.67" stop-color="#e54040"/><stop offset="0.75" stop-color="#e75151"/><stop offset="0.83" stop-color="#e85858"/><stop offset="0.92" stop-color="#e85858"/><stop offset="1" stop-color="#e85a5a"/></linearGradient>
<linearGradient id="hg115" gradientUnits="userSpaceOnUse" x1="299.2" x2="367.5" y1="0" y2="0"><stop offset="0" stop-color="#fdfefd"/><stop offset="0.08" stop-color="#cae7c8"/><stop offset="0.17" stop-color="#f8cccc"/><stop offset="0.25" stop-color="#ef8888"/><stop offset="0.33" stop-color="#ea6565"/><stop offset="0.42" stop-color="#e74f4f"/><stop offset="0.5" stop-color="#e54242"/><stop offset="0.58" stop-color="#e54141"/><stop offset="0.67" stop-color="#e54545"/><stop offset="0.75" stop-color="#e75353"/><stop offset="0.83" stop-color="#e85a5a"/><stop offset="0.92" stop-color="#e85a5a"/><stop offset="1" stop-color="#e85b5b"/></linearGradient>
<linearGradient id="hg116" gradientUnits="userSpaceOnUse" x1="299.2" x2="367.5" y1="0" y2="0"><stop offset="0" stop-color="#fefefe"/><stop offset="0.08" stop-color="#d7edd5"/><stop offset="0.17" stop-color="#f7c8c8"/><stop offset="0.25" stop-color="#ee8787"/><stop offset="0.33" stop-color="#ea6666"/><stop offset="0.42" stop-color="#e75252"/><stop offset="0.5" stop-color="#e64747"/><stop offset="0.58" stop-color="#e64747"/><stop offset="0.67" stop-color="#e64a4a"/><stop offset="0.75" stop-color="#e85656"/><stop offset="0.83" stop-color="#e95c5c"/><stop offset="0.92" stop-color="#e95c5c"/><stop offset="1" stop-color="#e95c5c"/></linearGradient>
<linearGradient id="hg117" gradientUnits="userSpaceOnUse" x1="299.2" x2="367.5" y1="0" y2="0"><stop offset="0" stop-color="#fefffe"/><stop offset="0.08" stop-color="#e7f4e6"/><stop offset="0.17" stop-color="#f7c3c3"/><stop offset="0.25" stop-color="#ee8686"/><stop offset="0.33" stop-color="#ea6565"/><stop offset="0.42" stop-color="#e85555"/><stop offset="0.5" stop-color="#e64c4c"/><stop offset="0.58" stop-color="#e64c4c"/><stop offset="0.67" stop-color="#e74f4f"/><stop offset="0.75" stop-color="#e85858"/><stop offset="0.83" stop-color="#e95e5e"/><stop offset="0.92" stop-color="#e95e5e"/><stop offset="1" stop-color="#e95c5c"/></linearGradient>
<linearGradient id="hg118" gradientUnits="userSpaceOnUse" x1="299.2" x2="367.5" y1="0" y2="0"><stop offset="0" stop-color="#ffffff"/><stop offset="0.08" stop-color="#f8fcf8"/><stop offset="0.17" stop-color="#f6bcbc"/><stop offset="0.25" stop-color="#ee8383"/><stop offset="0.33" stop-color="#ea6565"/><stop offset="0.42" stop-color="#e85757"/><stop offset="0.5" stop-color="#e75151"/><stop offset="0.58" stop-color="#e75050"/><stop offset="0.67" stop-color="#e75353"/><stop offset="0.75" stop-color="#e85a5a"/><stop offset="0.83" stop-color="#e96060"/><stop offset="0.92" stop-color="#e95f5f"/><stop offset="1" stop-color="#e95d5d"/></linearGradient>
<linearGradient id="hg119" gradientUnits="userSpaceOnUse" x1="299.2" x2="367.5" y1="0" y2="0"><stop offset="0" stop-color="#fffefe"/><stop offset="0.08" stop-color="#fef5f5"/><stop offset="0.17" stop-color="#f5b5b5"/><stop offset="0.25" stop-color="#ee8181"/><stop offset="0.33" stop-color="#ea6565"/><stop offset="0.42" stop-color="#e85959"/><stop offset="0.5" stop-color="#e75454"/><stop offset="0.58" stop-color="#e75454"/><stop offset="0.67" stop-color="#e85656"/><stop offset="0.75" stop-color="#e85b5b"/><stop offset="0.83" stop-color="#e96363"/><stop offset="0.92" stop-color="#e96161"/><stop offset="1" stop-color="#e95d5d"/></linearGradient>
<linearGradient id="hg120" gradientUnits="userSpaceOnUse" x1="299.2" x2="367.5" y1="0" y2="0"><stop offset="0" stop-color="#fffdfd"/><stop offset="0.08" stop-color="#fce6e6"/><stop offset="0.17" stop-color="#f4adad"/><stop offset="0.25" stop-color="#ed7e7e"/><stop offset="0.33" stop-color="#ea6464"/><stop offset="0.42" stop-color="#e85a5a"/><stop offset="0.5" stop-color="#e85656"/><stop offset="0.58" stop-color="#e85656"/><stop offset="0.67" stop-color="#e85858"/><stop offset="0.75" stop-color="#e95d5d"/><stop offset="0.83" stop-color="#ea6666"/><stop offset="0.92" stop-color="#ea6464"/><stop offset="1" stop-color="#e95e5e"/></linearGradient>
<linearGradient id="hg121" gradientUnits="userSpaceOnUse" x1="299.2" x2="367.5" y1="0" y2="0"><stop offset="0" stop-color="#fffdfd"/><stop offset="0.08" stop-color="#fadada"/><stop offset="0.17" stop-color="#f3a5a5"/><stop offset="0.25" stop-color="#ed7b7b"/><stop offset="0.33" stop-color="#ea6464"/><stop offset="0.42" stop-color="#e85b5b"/><stop offset="0.5" stop-color="#e85858"/><stop offset="0.58" stop-color="#e85858"/><stop offset="0.67" stop-color="#e85959"/><stop offset="0.75" stop-color="#e95f5f"/><stop offset="0.83" stop-color="#eb6b6b"/><stop offset="0.92" stop-color="#ea6767"/><stop offset="1" stop-color="#e95e5e"/></linearGradient>
<linearGradient id="hg122" gradientUnits="userSpaceOnUse" x1="299.2" x2="367.5" y1="0" y2="0"><stop offset="0" stop-color="#fffdfd"/><stop offset="0.08" stop-color="#f9d1d1"/><stop offset="0.17" stop-color="#f29e9e"/><stop offset="0.25" stop-color="#ec7878"/><stop offset="0.33" stop-color="#e96363"/><stop offset="0.42" stop-color="#e85c5c"/><stop offset="0.5" stop-color="#e85959"/><stop offset="0.58" stop-color="#e85959"/><stop offset="0.67" stop-color="#e85a5a"/><stop offset="0.75" stop-color="#e96060"/><stop offset="0.83" stop-color="#eb7070"/><stop offset="0.92" stop-color="#eb6b6b"/><stop offset="1" stop-color="#e95f5f"/></linearGradient>
<linearGradient id="hg123" gradientUnits="userSpaceOnUse" x1="299.2" x2="367.5" y1="0" y2="0"><stop offset="0" stop-color="#fffcfc"/><stop offset="0.08" stop-color="#f7c8c8"/><stop offset="0.17" stop-color="#f19797"/><stop offset="0.25" stop-color="#ec7575"/><stop offset="0.33" stop-color="#e96262"/><stop offset="0.42" stop-color="#e95c5c"/><stop offset="0.5" stop-color="#e85a5a"/><stop offset="0.58" stop-color="#e85a5a"/><stop offset="0.67" stop-color="#e85b5b"/><stop offset="0.75" stop-color="#e96262"/><stop offset="0.83" stop-color="#ec7575"/><stop offset="0.92" stop-color="#eb6f6f"/><stop offset="1" stop-color="#e95f5f"/></linearGradient>
<linearGradient id="hg124" gradientUnits="userSpaceOnUse" x1="299.2" x2="367.5" y1="0" y2="0"><stop offset="0" stop-color="#fffcfc"/><stop offset="0.08" stop-color="#f6c1c1"/><stop offset="0.17" stop-color="#f09090"/><stop offset="0.25" stop-color="#ec7272"/><stop offset="0.33" stop-color="#e96262"/><stop offset="0.42" stop-color="#e95c5c"/><stop offset="0.5" stop-color="#e85b5b"/><stop offset="0.58" stop-color="#e85a5a"/><stop offset="0.67" stop-color="#e85b5b"/><stop offset="0.75" stop-color="#ea6363"/><stop offset="0.83" stop-color="#ed7b7b"/><stop offset="0.92" stop-color="#ec7373"/><stop offset="1" stop-color="#e96060"/></linearGradient>
<linearGradient id="hg125" gradientUnits="userSpaceOnUse" x1="299.2" x2="367.5" y1="0" y2="0"><stop offset="0" stop-color="#fffcfc"/><stop offset="0.08" stop-color="#f5baba"/><stop offset="0.17" stop-color="#ef8a8a"/><stop offset="0.25" stop-color="#eb6f6f"/><stop offset="0.33" stop-color="#e96161"/><stop offset="0.42" stop-color="#e95c5c"/><stop offset="0.5" stop-color="#e85b5b"/><stop offset="0.58" stop-color="#e85b5b"/><stop offset="0.67" stop-color="#e95c5c"/><stop offset="0.75" stop-color="#ea6565"/><stop offset="0.83" stop-color="#ed8080"/><stop offset="0.92" stop-color="#ec7777"/><stop offset="1" stop-color="#e96060"/></linearGradient>
<linearGradient id="hg126" gradientUnits="userSpaceOnUse" x1="299.2" x2="367.5" y1="0" y2="0"><stop offset="0" stop-color="#fffbfb"/><stop offset="0.08" stop-color="#f5b4b4"/><stop offset="0.17" stop-color="#ee8484"/><stop offset="0.25" stop-color="#eb6d6d"/><stop offset="0.33" stop-color="#e96060"/><stop offset="0.42" stop-color="#e95c5c"/><stop offset="0.5" stop-color="#e85b5b"/><stop offset="0.58" stop-color="#e85b5b"/><stop offset="0.67" stop-color="#e95c5c"/><stop offset="0.75" stop-color="#ea6666"/><stop offset="0.83" stop-color="#ee8484"/><stop offset="0.92" stop-color="#ed7979"/><stop offset="1" stop-color="#e96161"/></linearGradient>
<linearGradient id="hg127" gradientUnits="userSpaceOnUse" x1="299.2" x2="367.5" y1="0" y2="0"><stop offset="0" stop-color="#fefbfb"/><stop offset="0.08" stop-color="#f4afaf"/><stop offset="0.17" stop-color="#ed7f7f"/><stop offset="0.25" stop-color="#eb6b6b"/><stop offset="0.33" stop-color="#e96060"/><stop offset="0.42" stop-color="#e95c5c"/><stop offset="0.5" stop-color="#e85c5c"/><stop offset="0.58" stop-color="#e85b5b"/><stop offset="0.67" stop-color="#e95c5c"/><stop offset="0.75" stop-color="#ea6666"/><stop offset="0.83" stop-color="#ee8686"/><stop offset="0.92" stop-color="#ed7b7b"/><stop offset="1" stop-color="#e96161"/></linearGradient>
<linearGradient id="hg128" gradientUnits="userSpaceOnUse" x1="299.2" x2="367.5" y1="0" y2="0"><stop offset="0" stop-color="#fefbfb"/><stop offset="0.08" stop-color="#f3aaaa"/><stop offset="0.17" stop-color="#ed7c7c"/><stop offset="0.25" stop-color="#ea6969"/><stop offset="0.33" stop-color="#e95f5f"/><stop offset="0.42" stop-color="#e95d5d"/><stop offset="0.5" stop-color="#e95c5c"/><stop offset="0.58" stop-color="#e95c5c"/><stop offset="0.67" stop-color="#e95d5d"/><stop offset="0.75" stop-color="#ea6767"/><stop offset="0.83" stop-color="#ee8686"/><stop offset="0.92" stop-color="#ed7b7b"/><stop offset="1" stop-color="#e96161"/></linearGradient>
<linearGradient id="hg129" gradientUnits="userSpaceOnUse" x1="299.2" x2="367.5" y1="0" y2="0"><stop offset="0" stop-color="#fefbfb"/><stop offset="0.08" stop-color="#f3a7a7"/><stop offset="0.17" stop-color="#ed7979"/><stop offset="0.25" stop-color="#ea6868"/><stop offset="0.33" stop-color="#e95f5f"/><stop offset="0.42" stop-color="#e95d5d"/><stop offset="0.5" stop-color="#e95c5c"/><stop offset="0.58" stop-color="#e95c5c"/><stop offset="0.67" stop-color="#e95d5d"/><stop offset="0.75" stop-color="#ea6666"/><stop offset="0.83" stop-color="#ee8484"/><stop offset="0.92" stop-color="#ed7a7a"/><stop offset="1" stop-color="#e96161"/></linearGradient>
<linearGradient id="hg130" gradientUnits="userSpaceOnUse" x1="299.2" x2="367.5" y1="0" y2="0"><stop offset="0" stop-color="#fefbfb"/><stop offset="0.08" stop-color="#f2a4a4"/><stop offset="0.17" stop-color="#ec7777"/><stop offset="0.25" stop-color="#ea6767"/><stop offset="0.33" stop-color="#e95f5f"/><stop offset="0.42" stop-color="#e95d5d"/><stop offset="0.5" stop-color="#e95c5c"/><stop offset="0.58" stop-color="#e95c5c"/><stop offset="0.67" stop-color="#e95d5d"/><stop offset="0.75" stop-color="#ea6565"/><stop offset="0.83" stop-color="#ee8181"/><stop offset="0.92" stop-color="#ec7777"/><stop offset="1" stop-color="#e96060"/></linearGradient>
<linearGradient id="hg131" gradientUnits="userSpaceOnUse" x1="299.2" x2="367.5" y1="0" y2="0"><stop offset="0" stop-color="#fefbfb"/><stop offset="0.08" stop-color="#f2a1a1"/><stop offset="0.17" stop-color="#ec7575"/><stop offset="0.25" stop-color="#ea6666"/><stop offset="0.33" stop-color="#e95e5e"/><stop offset="0.42" stop-color="#e95d5d"/><stop offset="0.5" stop-color="#e95c5c"/><stop offset="0.58" stop-color="#e95c5c"/><stop offset="0.67" stop-color="#e95d5d"/><stop offset="0.75" stop-color="#ea6464"/><stop offset="0.83" stop-color="#ed7c7c"/><stop offset="0.92" stop-color="#ec7474"/><stop offset="1" stop-color="#e96060"/></linearGradient>
<linearGradient id="hg132" gradientUnits="userSpaceOnUse" x1="299.2" x2="367.5" y1="0" y2="0"><stop offset="0" stop-color="#fefafa"/><stop offset="0.08" stop-color="#f2a0a0"/><stop offset="0.17" stop-color="#ec7575"/><stop offset="0.25" stop-color="#ea6666"/><stop offset="0.33" stop-color="#e95e5e"/><stop offset="0.42" stop-color="#e95d5d"/><stop offset="0.5" stop-color="#e95c5c"/><stop offset="0.58" stop-color="#e95c5c"/><stop offset="0.67" stop-color="#e95d5d"/><stop offset="0.75" stop-color="#ea6363"/><stop offset="0.83" stop-color="#ec7676"/><stop offset="0.92" stop-color="#eb7070"/><stop offset="1" stop-color="#e95f5f"/></linearGradient>
<linearGradient id="hg133" gradientUnits="userSpaceOnUse" x1="299.2" x2="367.5" y1="0" y2="0"><stop offset="0" stop-color="#fefafa"/><stop offset="0.08" stop-color="#f29f9f"/><stop offset="0.17" stop-color="#ec7474"/><stop offset="0.25" stop-color="#ea6565"/><stop offset="0.33" stop-color="#e95e5e"/><stop offset="0.42" stop-color="#e95d5d"/><stop offset="0.5" stop-color="#e95d5d"/><stop offset="0.58" stop-color="#e95d5d"/><stop offset="0.67" stop-color="#e95d5d"/><stop offset="0.75" stop-color="#e96262"/><stop offset="0.83" stop-color="#eb7171"/><stop offset="0.92" stop-color="#eb6c6c"/><stop offset="1" stop-color="#e95f5f"/></linearGradient>
<linearGradient id="hg134" gradientUnits="userSpaceOnUse" x1="299.2" x2="367.5" y1="0" y2="0"><stop offset="0" stop-color="#fefafa"/><stop offset="0.08" stop-color="#f29e9e"/><stop offset="0.17" stop-color="#ec7474"/><stop offset="0.25" stop-color="#ea6565"/><stop offset="0.33" stop-color="#e95e5e"/><stop offset="0.42" stop-color="#e95d5d"/><stop offset="0.5" stop-color="#e95d5d"/><stop offset="0.58" stop-color="#e95d5d"/><stop offset="0.67" stop-color="#e95d5d"/><stop offset="0.75" stop-color="#e96161"/><stop offset="0.83" stop-color="#eb6c6c"/><stop offset="0.92" stop-color="#ea6868"/><stop offset="1" stop-color="#e95e5e"/></linearGradient>
<linearGradient id="hg135" gradientUnits="userSpaceOnUse" x1="299.2" x2="367.5" y1="0" y2="0"><stop offset="0" stop-color="#fefafa"/><stop offset="0.08" stop-color="#f29d9d"/><stop offset="0.17" stop-color="#ec7474"/><stop offset="0.25" stop-color="#ea6565"/><stop offset="0.33" stop-color="#e95e5e"/><stop offset="0.42" stop-color="#e95d5d"/><stop offset="0.5" stop-color="#e95d5d"/><stop offset="0.58" stop-color="#e95d5d"/><stop offset="0.67" stop-color="#e95d5d"/><stop offset="0.75" stop-color="#e96060"/><stop offset="0.83" stop-color="#ea6868"/><stop offset="0.92" stop-color="#ea6565"/><stop offset="1" stop-color="#e95e5e"/></linearGradient>
<linearGradient id="hg136" gradientUnits="userSpaceOnUse" x1="299.2" x2="367.5" y1="0" y2="0"><stop offset="0" stop-color="#fefafa"/><stop offset="0.08" stop-color="#f29d9d"/><stop offset="0.17" stop-color="#ec7575"/><stop offset="0.25" stop-color="#ea6565"/><stop offset="0.33" stop-color="#e95d5d"/><stop offset="0.42" stop-color="#e95c5c"/><stop offset="0.5" stop-color="#e95c5c"/><stop offset="0.58" stop-color="#e95d5d"/><stop offset="0.67" stop-color="#e95d5d"/><stop offset="0.75" stop-color="#e95f5f"/><stop offset="0.83" stop-color="#ea6464"/><stop offset="0.92" stop-color="#e96262"/><stop offset="1" stop-color="#e95e5e"/></linearGradient>
<linearGradient id="hg137" gradientUnits="userSpaceOnUse" x1="299.2" x2="367.5" y1="0" y2="0"><stop offset="0" stop-color="#fefafa"/><stop offset="0.08" stop-color="#f19d9d"/><stop offset="0.17" stop-color="#ec7575"/><stop offset="0.25" stop-color="#ea6565"/><stop offset="0.33" stop-color="#e95d5d"/><stop offset="0.42" stop-color="#e95c5c"/><stop offset="0.5" stop-color="#e95c5c"/><stop offset="0.58" stop-color="#e95d5d"/><stop offset="0.67" stop-color="#e95d5d"/><stop offset="0.75" stop-color="#e95e5e"/><stop offset="0.83" stop-color="#e96262"/><stop offset="0.92" stop-color="#e96060"/><stop offset="1" stop-color="#e95d5d"/></linearGradient>
<linearGradient id="hg138" gradientUnits="userSpaceOnUse" x1="299.2" x2="367.5" y1="0" y2="0"><stop offset="0" stop-color="#fefafa"/><stop offset="0.08" stop-color="#f19d9d"/><stop offset="0.17" stop-color="#ec7575"/><stop offset="0.25" stop-color="#ea6565"/><stop offset="0.33" stop-color="#e95d5d"/><stop offset="0.42" stop-color="#e85c5c"/><stop offset="0.5" stop-color="#e95c5c"/><stop offset="0.58" stop-color="#e95d5d"/><stop offset="0.67" stop-color="#e95d5d"/><stop offset="0.75" stop-color="#e95e5e"/><stop offset="0.83" stop-color="#e96060"/><stop offset="0.92" stop-color="#e95f5f"/><stop offset="1" stop-color="#e95d5d"/></linearGradient>
<linearGradient id="hg139" gradientUnits="userSpaceOnUse" x1="299.2" x2="367.5" y1="0" y2="0"><stop offset="0" stop-color="#fefafa"/><stop offset="0.08" stop-color="#f19d9d"/><stop offset="0.17" stop-color="#ec7575"/><stop offset="0.25" stop-color="#ea6565"/><stop offset="0.33" stop-color="#e95c5c"/><stop offset="0.42" stop-color="#e85b5b"/><stop offset="0.5" stop-color="#e85b5b"/><stop offset="0.58" stop-color="#e95c5c"/><stop offset="0.67" stop-color="#e95d5d"/><stop offset="0.75" stop-color="#e95d5d"/><stop offset="0.83" stop-color="#e95f5f"/><stop offset="0.92" stop-color="#e95e5e"/><stop offset="1" stop-color="#e95d5d"/></linearGradient>
<linearGradient id="hg140" gradientUnits="userSpaceOnUse" x1="299.2" x2="367.5" y1="0" y2="0"><stop offset="0" stop-color="#fefafa"/><stop offset="0.08" stop-color="#f19d9d"/><stop offset="0.17" stop-color="#ec7575"/><stop offset="0.25" stop-color="#ea6464"/><stop offset="0.33" stop-color="#e85b5b"/><stop offset="0.42" stop-color="#e85a5a"/><stop offset="0.5" stop-color="#e85b5b"/><stop offset="0.58" stop-color="#e95c5c"/><stop offset="0.67" stop-color="#e95d5d"/><stop offset="0.75" stop-color="#e95d5d"/><stop offset="0.83" stop-color="#e95e5e"/><stop offset="0.92" stop-color="#e95e5e"/><stop offset="1" stop-color="#e95d5d"/></linearGradient>
<linearGradient id="hg141" gradientUnits="userSpaceOnUse" x1="299.2" x2="367.5" y1="0" y2="0"><stop offset="0" stop-color="#fefafa"/><stop offset="0.08" stop-color="#f19d9d"/><stop offset="0.17" stop-color="#ec7575"/><stop offset="0.25" stop-color="#ea6464"/><stop offset="0.33" stop-color="#e85a5a"/><stop offset="0.42" stop-color="#e85858"/><stop offset="0.5" stop-color="#e85a5a"/><stop offset="0.58" stop-color="#e95c5c"/><stop offset="0.67" stop-color="#e95d5d"/><stop offset="0.75" stop-color="#e95d5d"/><stop offset="0.83" stop-color="#e95d5d"/><stop offset="0.92" stop-color="#e95d5d"/><stop offset="1" stop-color="#e95d5d"/></linearGradient>
<linearGradient id="hg142" gradientUnits="userSpaceOnUse" x1="299.2" x2="367.5" y1="0" y2="0"><stop offset="0" stop-color="#fefafa"/><stop offset="0.08" stop-color="#f29d9d"/><stop offset="0.17" stop-color="#ec7474"/><stop offset="0.25" stop-color="#e96363"/><stop offset="0.33" stop-color="#e85959"/><stop offset="0.42" stop-color="#e85757"/><stop offset="0.5" stop-color="#e85959"/><stop offset="0.58" stop-color="#e85c5c"/><stop offset="0.67" stop-color="#e95d5d"/><stop offset="0.75" stop-color="#e95d5d"/><stop offset="0.83" stop-color="#e95d5d"/><stop offset="0.92" stop-color="#e95d5d"/><stop offset="1" stop-color="#e95d5d"/></linearGradient>
<linearGradient id="hg143" gradientUnits="userSpaceOnUse" x1="299.2" x2="367.5" y1="0" y2="0"><stop offset="0" stop-color="#fefafa"/><stop offset="0.08" stop-color="#f29d9d"/><stop offset="0.17" stop-color="#ec7474"/><stop offset="0.25" stop-color="#e96262"/><stop offset="0.33" stop-color="#e85757"/><stop offset="0.42" stop-color="#e85555"/><stop offset="0.5" stop-color="#e85858"/><stop offset="0.58" stop-color="#e85b5b"/><stop offset="0.67" stop-color="#e95d5d"/><stop offset="0.75" stop-color="#e95d5d"/><stop offset="0.83" stop-color="#e95d5d"/><stop offset="0.92" stop-color="#e95d5d"/><stop offset="1" stop-color="#e95d5d"/></linearGradient>
<linearGradient id="hg144" gradientUnits="userSpaceOnUse" x1="299.2" x2="367.5" y1="0" y2="0"><stop offset="0" stop-color="#fefafa"/><stop offset="0.08" stop-color="#f29e9e"/><stop offset="0.17" stop-color="#ec7373"/><stop offset="0.25" stop-color="#e96161"/><stop offset="0.33" stop-color="#e85656"/><stop offset="0.42" stop-color="#e75353"/><stop offset="0.5" stop-color="#e85757"/><stop offset="0.58" stop-color="#e85b5b"/><stop offset="0.67" stop-color="#e95d5d"/><stop offset="0.75" stop-color="#e95d5d"/><stop offset="0.83" stop-color="#e95d5d"/><stop offset="0.92" stop-color="#e95d5d"/><stop offset="1" stop-color="#e95d5d"/></linearGradient>
<linearGradient id="hg145" gradientUnits="userSpaceOnUse" x1="299.2" x2="367.5" y1="0" y2="0"><stop offset="0" stop-color="#fefafa"/><stop offset="0.08" stop-color="#f29e9e"/><stop offset="0.17" stop-color="#ec7272"/><stop offset="0.25" stop-color="#e96060"/><stop offset="0.33" stop-color="#e75454"/><stop offset="0.42" stop-color="#e75252"/><stop offset="0.5" stop-color="#e85656"/><stop offset="0.58" stop-color="#e85a5a"/><stop offset="0.67" stop-color="#e95d5d"/><stop offset="0.75" stop-color="#e95d5d"/><stop offset="0.83" stop-color="#e95d5d"/><stop offset="0.92" stop-color="#e95d5d"/><stop offset="1" stop-color="#e95d5d"/></linearGradient>
<linearGradient id="hg146" gradientUnits="userSpaceOnUse" x1="299.2" x2="367.5" y1="0" y2="0"><stop offset="0" stop-color="#fefbfb"/><stop offset="0.08" stop-color="#f29f9f"/><stop offset="0.17" stop-color="#ec7272"/><stop offset="0.25" stop-color="#e95f5f"/><stop offset="0.33" stop-color="#e75353"/><stop offset="0.42" stop-color="#e75050"/><stop offset="0.5" stop-color="#e85555"/><stop offset="0.58" stop-color="#e85a5a"/><stop offset="0.67" stop-color="#e95c5c"/><stop offset="0.75" stop-color="#e95d5d"/><stop offset="0.83" stop-color="#e95d5d"/><stop offset="0.92" stop-color="#e95d5d"/><stop offset="1" stop-color="#e95d5d"/></linearGradient>
<linearGradient id="hg147" gradientUnits="userSpaceOnUse" x1="299.2" x2="367.5" y1="0" y2="0"><stop offset="0" stop-color="#fefbfb"/><stop offset="0.08" stop-color="#f2a1a1"/><stop offset="0.17" stop-color="#eb7171"/><stop offset="0.25" stop-color="#e95f5f"/><stop offset="0.33" stop-color="#e75353"/><stop offset="0.42" stop-color="#e75050"/><stop offset="0.5" stop-color="#e75454"/><stop offset="0.58" stop-color="#e85a5a"/><stop offset="0.67" stop-color="#e95c5c"/><stop offset="0.75" stop-color="#e95d5d"/><stop offset="0.83" stop-color="#e95d5d"/><stop offset="0.92" stop-color="#e95d5d"/><stop offset="1" stop-color="#e95d5d"/></linearGradient>
<linearGradient id="hg148" gradientUnits="userSpaceOnUse" x1="299.2" x2="367.5" y1="0" y2="0"><stop offset="0" stop-color="#fefbfb"/><stop offset="0.08" stop-color="#f2a3a3"/><stop offset="0.17" stop-color="#eb7171"/><stop offset="0.25" stop-color="#e95f5f"/><stop offset="0.33" stop-color="#e75353"/><stop offset="0.42" stop-color="#e75050"/><stop offset="0.5" stop-color="#e75454"/><stop offset="0.58" stop-color="#e85a5a"/><stop offset="0.67" stop-color="#e95c5c"/><stop offset="0.75" stop-color="#e95d5d"/><stop offset="0.83" stop-color="#e95d5d"/><stop offset="0.92" stop-color="#e95d5d"/><stop offset="1" stop-color="#e95d5d"/></linearGradient>
<linearGradient id="hg149" gradientUnits="userSpaceOnUse" x1="299.2" x2="367.5" y1="0" y2="0"><stop offset="0" stop-color="#fefbfb"/><stop offset="0.08" stop-color="#f3a5a5"/><stop offset="0.17" stop-color="#eb7171"/><stop offset="0.25" stop-color="#e95f5f"/><stop offset="0.33" stop-color="#e75353"/><stop offset="0.42" stop-color="#e75050"/><stop offset="0.5" stop-color="#e85555"/><stop offset="0.58" stop-color="#e85a5a"/><stop offset="0.67" stop-color="#e95c5c"/><stop offset="0.75" stop-color="#e95d5d"/><stop offset="0.83" stop-color="#e95d5d"/><stop offset="0.92" stop-color="#e95d5d"/><stop offset="1" stop-color="#e95d5d"/></linearGradient>
<linearGradient id="hg150" gradientUnits="userSpaceOnUse" x1="299.2" x2="367.5" y1="0" y2="0"><stop offset="0" stop-color="#fefbfb"/><stop offset="0.08" stop-color="#f3a8a8"/><stop offset="0.17" stop-color="#ec7272"/><stop offset="0.25" stop-color="#e95f5f"/><stop offset="0.33" stop-color="#e75454"/><stop offset="0.42" stop-color="#e75151"/><stop offset="0.5" stop-color="#e85555"/><stop offset="0.58" stop-color="#e85a5a"/><stop offset="0.67" stop-color="#e95d5d"/><stop offset="0.75" stop-color="#e95d5d"/><stop offset="0.83" stop-color="#e95d5d"/><stop offset="0.92" stop-color="#e95d5d"/><stop offset="1" stop-color="#e95d5d"/></linearGradient>
<linearGradient id="hg151" gradientUnits="userSpaceOnUse" x1="299.2" x2="367.5" y1="0" y2="0"><stop offset="0" stop-color="#fffbfb"/><stop offset="0.08" stop-color="#f3abab"/><stop offset="0.17" stop-color="#ec7373"/><stop offset="0.25" stop-color="#e95f5f"/><stop offset="0.33" stop-color="#e85555"/><stop offset="0.42" stop-color="#e75353"/><stop offset="0.5" stop-color="#e85656"/><stop offset="0.58" stop-color="#e85b5b"/><stop offset="0.67" stop-color="#e95d5d"/><stop offset="0.75" stop-color="#e95d5d"/><stop offset="0.83" stop-color="#e95d5d"/><stop offset="0.92" stop-color="#e95d5d"/><stop offset="1" stop-color="#e95d5d"/></linearGradient>
<linearGradient id="hg152" gradientUnits="userSpaceOnUse" x1="299.2" x2="367.5" y1="0" y2="0"><stop offset="0" stop-color="#fffcfc"/><stop offset="0.08" stop-color="#f4b2b2"/><stop offset="0.17" stop-color="#ed7a7a"/><stop offset="0.25" stop-color="#ea6767"/><stop offset="0.33" stop-color="#e95e5e"/><stop offset="0.42" stop-color="#e85c5c"/><stop offset="0.5" stop-color="#e95f5f"/><stop offset="0.58" stop-color="#e96262"/><stop offset="0.67" stop-color="#ea6464"/><stop offset="0.75" stop-color="#ea6464"/><stop offset="0.83" stop-color="#ea6464"/><stop offset="0.92" stop-color="#ea6464"/><stop offset="1" stop-color="#ea6464"/></linearGradient>
<linearGradient id="hg153" gradientUnits="userSpaceOnUse" x1="299.2" x2="367.5" y1="0" y2="0"><stop offset="0" stop-color="#fffcfc"/><stop offset="0.08" stop-color="#f6bebe"/><stop offset="0.17" stop-color="#ef8a8a"/><stop offset="0.25" stop-color="#ec7878"/><stop offset="0.33" stop-color="#eb7070"/><stop offset="0.42" stop-color="#eb6e6e"/><stop offset="0.5" stop-color="#eb7171"/><stop offset="0.58" stop-color="#ec7373"/><stop offset="0.67" stop-color="#ec7474"/><stop offset="0.75" stop-color="#ec7575"/><stop offset="0.83" stop-color="#ec7575"/><stop offset="0.92" stop-color="#ec7575"/><stop offset="1" stop-color="#ec7575"/></linearGradient>
<linearGradient id="hg154" gradientUnits="userSpaceOnUse" x1="299.2" x2="367.5" y1="0" y2="0"><stop offset="0" stop-color="#fffdfd"/><stop offset="0.08" stop-color="#f7c9c9"/><stop offset="0.17" stop-color="#f19a9a"/><stop offset="0.25" stop-color="#ef8989"/><stop offset="0.33" stop-color="#ee8282"/><stop offset="0.42" stop-color="#ee8181"/><stop offset="0.5" stop-color="#ee8282"/><stop offset="0.58" stop-color="#ee8585"/><stop offset="0.67" stop-color="#ee8585"/><stop offset="0.75" stop-color="#ee8686"/><stop offset="0.83" stop-color="#ee8686"/><stop offset="0.92" stop-color="#ee8686"/><stop offset="1" stop-color="#ee8686"/></linearGradient>
<linearGradient id="hg155" gradientUnits="userSpaceOnUse" x1="299.2" x2="367.5" y1="0" y2="0"><stop offset="0" stop-color="#fffdfd"/><stop offset="0.08" stop-color="#f9d3d3"/><stop offset="0.17" stop-color="#f3a9a9"/><stop offset="0.25" stop-color="#f19a9a"/><stop offset="0.33" stop-color="#f09494"/><stop offset="0.42" stop-color="#f09393"/><stop offset="0.5" stop-color="#f09494"/><stop offset="0.58" stop-color="#f09696"/><stop offset="0.67" stop-color="#f19696"/><stop offset="0.75" stop-color="#f19696"/><stop offset="0.83" stop-color="#f19696"/><stop offset="0.92" stop-color="#f19696"/><stop offset="1" stop-color="#f19696"/></linearGradient>
<linearGradient id="hg156" gradientUnits="userSpaceOnUse" x1="299.2" x2="367.5" y1="0" y2="0"><stop offset="0" stop-color="#fffefe"/><stop offset="0.08" stop-color="#fadcdc"/><stop offset="0.17" stop-color="#f5b8b8"/><stop offset="0.25" stop-color="#f3abab"/><stop offset="0.33" stop-color="#f3a6a6"/><stop offset="0.42" stop-color="#f3a5a5"/><stop offset="0.5" stop-color="#f3a6a6"/><stop offset="0.58" stop-color="#f3a7a7"/><stop offset="0.67" stop-color="#f3a7a7"/><stop offset="0.75" stop-color="#f3a7a7"/><stop offset="0.83" stop-color="#f3a7a7"/><stop offset="0.92" stop-color="#f3a7a7"/><stop offset="1" stop-color="#f3a7a7"/></linearGradient>
<linearGradient id="hg157" gradientUnits="userSpaceOnUse" x1="299.2" x2="367.5" y1="0" y2="0"><stop offset="0" stop-color="#fffefe"/><stop offset="0.08" stop-color="#fbe4e4"/><stop offset="0.17" stop-color="#f7c7c7"/><stop offset="0.25" stop-color="#f6bbbb"/><stop offset="0.33" stop-color="#f5b7b7"/><stop offset="0.42" stop-color="#f5b7b7"/><stop offset="0.5" stop-color="#f5b7b7"/><stop offset="0.58" stop-color="#f5b8b8"/><stop offset="0.67" stop-color="#f5b8b8"/><stop offset="0.75" stop-color="#f5b8b8"/><stop offset="0.83" stop-color="#f5b8b8"/><stop offset="0.92" stop-color="#f5b8b8"/><stop offset="1" stop-color="#f5b8b8"/></linearGradient>
<linearGradient id="hg158" gradientUnits="userSpaceOnUse" x1="299.2" x2="367.5" y1="0" y2="0"><stop offset="0" stop-color="#fffefe"/><stop offset="0.08" stop-color="#fcebeb"/><stop offset="0.17" stop-color="#f9d4d4"/><stop offset="0.25" stop-color="#f8cbcb"/><stop offset="0.33" stop-color="#f7c9c9"/><stop offset="0.42" stop-color="#f7c8c8"/><stop offset="0.5" stop-color="#f7c8c8"/><stop offset="0.58" stop-color="#f8c9c9"/><stop offset="0.67" stop-color="#f8c9c9"/><stop offset="0.75" stop-color="#f8c9c9"/><stop offset="0.83" stop-color="#f8c9c9"/><stop offset="0.92" stop-color="#f8c9c9"/><stop offset="1" stop-color="#f8c9c9"/></linearGradient>
<linearGradient id="hg159" gradientUnits="userSpaceOnUse" x1="299.2" x2="367.5" y1="0" y2="0"><stop offset="0" stop-color="#ffffff"/><stop offset="0.08" stop-color="#fdf1f1"/><stop offset="0.17" stop-color="#fbe2e2"/><stop offset="0.25" stop-color="#fadcdc"/><stop offset="0.33" stop-color="#fadada"/><stop offset="0.42" stop-color="#fad9d9"/><stop offset="0.5" stop-color="#fadada"/><stop offset="0.58" stop-color="#fadada"/><stop offset="0.67" stop-color="#fadada"/><stop offset="0.75" stop-color="#fadada"/><stop offset="0.83" stop-color="#fadada"/><stop offset="0.92" stop-color="#fadada"/><stop offset="1" stop-color="#fadada"/></linearGradient>
<linearGradient id="hg160" gradientUnits="userSpaceOnUse" x1="299.2" x2="367.5" y1="0" y2="0"><stop offset="0" stop-color="#ffffff"/><stop offset="0.08" stop-color="#fef5f5"/><stop offset="0.17" stop-color="#fce9e9"/><stop offset="0.25" stop-color="#fbe5e5"/><stop offset="0.33" stop-color="#fbe3e3"/><stop offset="0.42" stop-color="#fbe3e3"/><stop offset="0.5" stop-color="#fbe3e3"/><stop offset="0.58" stop-color="#fbe3e3"/><stop offset="0.67" stop-color="#fbe3e3"/><stop offset="0.75" stop-color="#fbe3e3"/><stop offset="0.83" stop-color="#fbe3e3"/><stop offset="0.92" stop-color="#fbe3e3"/><stop offset="1" stop-color="#fbe3e3"/></linearGradient>
<linearGradient id="hg161" gradientUnits="userSpaceOnUse" x1="419.8" x2="491.1" y1="0" y2="0"><stop offset="0" stop-color="#fdeeee"/><stop offset="0.08" stop-color="#ef8989"/><stop offset="0.17" stop-color="#eb6f6f"/><stop offset="0.25" stop-color="#eb6f6f"/><stop offset="0.33" stop-color="#eb6e6e"/><stop offset="0.42" stop-color="#eb6e6e"/><stop offset="0.5" stop-color="#eb6d6d"/><stop offset="0.58" stop-color="#eb6c6c"/><stop offset="0.67" stop-color="#ea6767"/><stop offset="0.75" stop-color="#e64c4c"/><stop offset="0.83" stop-color="#e53f3f"/><stop offset="0.92" stop-color="#e53f3f"/><stop offset="1" stop-color="#e64a4a"/></linearGradient>
<linearGradient id="hg162" gradientUnits="userSpaceOnUse" x1="419.8" x2="491.1" y1="0" y2="0"><stop offset="0" stop-color="#fdeeee"/><stop offset="0.08" stop-color="#ef8888"/><stop offset="0.17" stop-color="#eb6e6e"/><stop offset="0.25" stop-color="#eb6d6d"/><stop offset="0.33" stop-color="#eb6d6d"/><stop offset="0.42" stop-color="#eb6c6c"/><stop offset="0.5" stop-color="#eb6c6c"/><stop offset="0.58" stop-color="#eb6b6b"/><stop offset="0.67" stop-color="#ea6565"/><stop offset="0.75" stop-color="#e64848"/><stop offset="0.83" stop-color="#e43a3a"/><stop offset="0.92" stop-color="#e43b3b"/><stop offset="1" stop-color="#e64747"/></linearGradient>
<linearGradient id="hg163" gradientUnits="userSpaceOnUse" x1="419.8" x2="491.1" y1="0" y2="0"><stop offset="0" stop-color="#fdeeee"/><stop offset="0.08" stop-color="#ee8787"/><stop offset="0.17" stop-color="#eb6d6d"/><stop offset="0.25" stop-color="#eb6c6c"/><stop offset="0.33" stop-color="#eb6b6b"/><stop offset="0.42" stop-color="#eb6b6b"/><stop offset="0.5" stop-color="#ea6a6a"/><stop offset="0.58" stop-color="#ea6969"/><stop offset="0.67" stop-color="#ea6363"/><stop offset="0.75" stop-color="#e54545"/><stop offset="0.83" stop-color="#e33737"/><stop offset="0.92" stop-color="#e33737"/><stop offset="1" stop-color="#e54444"/></linearGradient>
<linearGradient id="hg164" gradientUnits="userSpaceOnUse" x1="419.8" x2="491.1" y1="0" y2="0"><stop offset="0" stop-color="#fdeeee"/><stop offset="0.08" stop-color="#ee8686"/><stop offset="0.17" stop-color="#eb6b6b"/><stop offset="0.25" stop-color="#eb6a6a"/><stop offset="0.33" stop-color="#ea6a6a"/><stop offset="0.42" stop-color="#ea6969"/><stop offset="0.5" stop-color="#ea6868"/><stop offset="0.58" stop-color="#ea6767"/><stop offset="0.67" stop-color="#e96262"/><stop offset="0.75" stop-color="#e54242"/><stop offset="0.83" stop-color="#e33434"/><stop offset="0.92" stop-color="#e33434"/><stop offset="1" stop-color="#e54242"/></linearGradient>
<linearGradient id="hg165" gradientUnits="userSpaceOnUse" x1="419.8" x2="491.1" y1="0" y2="0"><stop offset="0" stop-color="#fdeded"/><stop offset="0.08" stop-color="#ee8585"/><stop offset="0.17" stop-color="#ea6a6a"/><stop offset="0.25" stop-color="#ea6969"/><stop offset="0.33" stop-color="#ea6868"/><stop offset="0.42" stop-color="#ea6767"/><stop offset="0.5" stop-color="#ea6666"/><stop offset="0.58" stop-color="#ea6565"/><stop offset="0.67" stop-color="#e96060"/><stop offset="0.75" stop-color="#e53f3f"/><stop offset="0.83" stop-color="#e33131"/><stop offset="0.92" stop-color="#e33232"/><stop offset="1" stop-color="#e54040"/></linearGradient>
<linearGradient id="hg166" gradientUnits="userSpaceOnUse" x1="419.8" x2="491.1" y1="0" y2="0"><stop offset="0" stop-color="#fdeded"/><stop offset="0.08" stop-color="#ee8484"/><stop offset="0.17" stop-color="#ea6868"/><stop offset="0.25" stop-color="#ea6767"/><stop offset="0.33" stop-color="#ea6666"/><stop offset="0.42" stop-color="#ea6565"/><stop offset="0.5" stop-color="#ea6464"/><stop offset="0.58" stop-color="#ea6363"/><stop offset="0.67" stop-color="#e95e5e"/><stop offset="0.75" stop-color="#e43d3d"/><stop offset="0.83" stop-color="#e22f2f"/><stop offset="0.92" stop-color="#e33030"/><stop offset="1" stop-color="#e43e3e"/></linearGradient>
<linearGradient id="hg167" gradientUnits="userSpaceOnUse" x1="419.8" x2="491.1" y1="0" y2="0"><stop offset="0" stop-color="#fdeded"/><stop offset="0.08" stop-color="#ee8383"/><stop offset="0.17" stop-color="#ea6767"/><stop offset="0.25" stop-color="#ea6565"/><stop offset="0.33" stop-color="#ea6464"/><stop offset="0.42" stop-color="#ea6363"/><stop offset="0.5" stop-color="#e96262"/><stop offset="0.58" stop-color="#e96161"/><stop offset="0.67" stop-color="#e95c5c"/><stop offset="0.75" stop-color="#e43b3b"/><stop offset="0.83" stop-color="#e22d2d"/><stop offset="0.92" stop-color="#e22f2f"/><stop offset="1" stop-color="#e43d3d"/></linearGradient>
<linearGradient id="hg168" gradientUnits="userSpaceOnUse" x1="419.8" x2="491.1" y1="0" y2="0"><stop offset="0" stop-color="#fdeded"/><stop offset="0.08" stop-color="#ee8282"/><stop offset="0.17" stop-color="#ea6565"/><stop offset="0.25" stop-color="#ea6363"/><stop offset="0.33" stop-color="#e96262"/><stop offset="0.42" stop-color="#e96161"/><stop offset="0.5" stop-color="#e96060"/><stop offset="0.58" stop-color="#e96060"/><stop offset="0.67" stop-color="#e85a5a"/><stop offset="0.75" stop-color="#e43a3a"/><stop offset="0.83" stop-color="#e22c2c"/><stop offset="0.92" stop-color="#e22d2d"/><stop offset="1" stop-color="#e43c3c"/></linearGradient>
<linearGradient id="hg169" gradientUnits="userSpaceOnUse" x1="419.8" x2="491.1" y1="0" y2="0"><stop offset="0" stop-color="#fdeded"/><stop offset="0.08" stop-color="#ee8181"/><stop offset="0.17" stop-color="#ea6464"/><stop offset="0.25" stop-color="#e96262"/><stop offset="0.33" stop-color="#e96060"/><stop offset="0.42" stop-color="#e95f5f"/><stop offset="0.5" stop-color="#e95f5f"/><stop offset="0.58" stop-color="#e95e5e"/><stop offset="0.67" stop-color="#e85959"/><stop offset="0.75" stop-color="#e43838"/><stop offset="0.83" stop-color="#e22a2a"/><stop offset="0.92" stop-color="#e22c2c"/><stop offset="1" stop-color="#e43b3b"/></linearGradient>
<linearGradient id="hg170" gradientUnits="userSpaceOnUse" x1="419.8" x2="491.1" y1="0" y2="0"><stop offset="0" stop-color="#fceded"/><stop offset="0.08" stop-color="#ee8080"/><stop offset="0.17" stop-color="#e96363"/><stop offset="0.25" stop-color="#e96161"/><stop offset="0.33" stop-color="#e95f5f"/><stop offset="0.42" stop-color="#e95e5e"/><stop offset="0.5" stop-color="#e95e5e"/><stop offset="0.58" stop-color="#e95d5d"/><stop offset="0.67" stop-color="#e85757"/><stop offset="0.75" stop-color="#e33737"/><stop offset="0.83" stop-color="#e22929"/><stop offset="0.92" stop-color="#e22c2c"/><stop offset="1" stop-color="#e43b3b"/></linearGradient>
<linearGradient id="hg171" gradientUnits="userSpaceOnUse" x1="419.8" x2="491.1" y1="0" y2="0"><stop offset="0" stop-color="#fceded"/><stop offset="0.08" stop-color="#ed7f7f"/><stop offset="0.17" stop-color="#e96262"/><stop offset="0.25" stop-color="#e96060"/><stop offset="0.33" stop-color="#e95e5e"/><stop offset="0.42" stop-color="#e95d5d"/><stop offset="0.5" stop-color="#e95d5d"/><stop offset="0.58" stop-color="#e95c5c"/><stop offset="0.67" stop-color="#e85757"/><stop offset="0.75" stop-color="#e33737"/><stop offset="0.83" stop-color="#e12929"/><stop offset="0.92" stop-color="#e22b2b"/><stop offset="1" stop-color="#e43a3a"/></linearGradient>
<linearGradient id="hg172" gradientUnits="userSpaceOnUse" x1="419.8" x2="491.1" y1="0" y2="0"><stop offset="0" stop-color="#fceded"/><stop offset="0.08" stop-color="#ed7f7f"/><stop offset="0.17" stop-color="#e96262"/><stop offset="0.25" stop-color="#e95f5f"/><stop offset="0.33" stop-color="#e95e5e"/><stop offset="0.42" stop-color="#e95d5d"/><stop offset="0.5" stop-color="#e95c5c"/><stop offset="0.58" stop-color="#e85b5b"/><stop offset="0.67" stop-color="#e85656"/><stop offset="0.75" stop-color="#e33636"/><stop offset="0.83" stop-color="#e12929"/><stop offset="0.92" stop-color="#e22b2b"/><stop offset="1" stop-color="#e43a3a"/></linearGradient>
<linearGradient id="hg173" gradientUnits="userSpaceOnUse" x1="419.8" x2="491.1" y1="0" y2="0"><stop offset="0" stop-color="#fceded"/><stop offset="0.08" stop-color="#ed7f7f"/><stop offset="0.17" stop-color="#e96262"/><stop offset="0.25" stop-color="#e95f5f"/><stop offset="0.33" stop-color="#e95e5e"/><stop offset="0.42" stop-color="#e95d5d"/><stop offset="0.5" stop-color="#e95c5c"/><stop offset="0.58" stop-color="#e85b5b"/><stop offset="0.67" stop-color="#e85656"/><stop offset="0.75" stop-color="#e33737"/><stop offset="0.83" stop-color="#e12929"/><stop offset="0.92" stop-color="#e22b2b"/><stop offset="1" stop-color="#e43b3b"/></linearGradient>
<linearGradient id="hg174" gradientUnits="userSpaceOnUse" x1="419.8" x2="491.1" y1="0" y2="0"><stop offset="0" stop-color="#fceded"/><stop offset="0.08" stop-color="#ed7f7f"/><stop offset="0.17" stop-color="#e96262"/><stop offset="0.25" stop-color="#e96060"/><stop offset="0.33" stop-color="#e95e5e"/><stop offset="0.42" stop-color="#e95d5d"/><stop offset="0.5" stop-color="#e95d5d"/><stop offset="0.58" stop-color="#e95c5c"/><stop offset="0.67" stop-color="#e85757"/><stop offset="0.75" stop-color="#e33737"/><stop offset="0.83" stop-color="#e22a2a"/><stop offset="0.92" stop-color="#e22c2c"/><stop offset="1" stop-color="#e43b3b"/></linearGradient>
<linearGradient id="hg175" gradientUnits="userSpaceOnUse" x1="419.8" x2="491.1" y1="0" y2="0"><stop offset="0" stop-color="#fceded"/><stop offset="0.08" stop-color="#ee8080"/><stop offset="0.17" stop-color="#e96363"/><stop offset="0.25" stop-color="#e96161"/><stop offset="0.33" stop-color="#e95f5f"/><stop offset="0.42" stop-color="#e95e5e"/><stop offset="0.5" stop-color="#e95e5e"/><stop offset="0.58" stop-color="#e95d5d"/><stop offset="0.67" stop-color="#e85858"/><stop offset="0.75" stop-color="#e43838"/><stop offset="0.83" stop-color="#e22b2b"/><stop offset="0.92" stop-color="#e22d2d"/><stop offset="1" stop-color="#e43c3c"/></linearGradient>
<linearGradient id="hg176" gradientUnits="userSpaceOnUse" x1="419.8" x2="491.1" y1="0" y2="0"><stop offset="0" stop-color="#fdeded"/><stop offset="0.08" stop-color="#ee8181"/><stop offset="0.17" stop-color="#ea6464"/><stop offset="0.25" stop-color="#e96262"/><stop offset="0.33" stop-color="#e96060"/><stop offset="0.42" stop-color="#e96060"/><stop offset="0.5" stop-color="#e95f5f"/><stop offset="0.58" stop-color="#e95e5e"/><stop offset="0.67" stop-color="#e85959"/><stop offset="0.75" stop-color="#e43a3a"/><stop offset="0.83" stop-color="#e22d2d"/><stop offset="0.92" stop-color="#e22f2f"/><stop offset="1" stop-color="#e43e3e"/></linearGradient>
<linearGradient id="hg177" gradientUnits="userSpaceOnUse" x1="419.8" x2="491.1" y1="0" y2="0"><stop offset="0" stop-color="#fdeded"/><stop offset="0.08" stop-color="#ee8282"/><stop offset="0.17" stop-color="#ea6565"/><stop offset="0.25" stop-color="#ea6363"/><stop offset="0.33" stop-color="#e96262"/><stop offset="0.42" stop-color="#e96161"/><stop offset="0.5" stop-color="#e96161"/><stop offset="0.58" stop-color="#e96060"/><stop offset="0.67" stop-color="#e85b5b"/><stop offset="0.75" stop-color="#e43d3d"/><stop offset="0.83" stop-color="#e23030"/><stop offset="0.92" stop-color="#e33232"/><stop offset="1" stop-color="#e54040"/></linearGradient>
<linearGradient id="hg178" gradientUnits="userSpaceOnUse" x1="419.8" x2="491.1" y1="0" y2="0"><stop offset="0" stop-color="#fdeded"/><stop offset="0.08" stop-color="#ee8383"/><stop offset="0.17" stop-color="#ea6767"/><stop offset="0.25" stop-color="#ea6565"/><stop offset="0.33" stop-color="#ea6464"/><stop offset="0.42" stop-color="#ea6363"/><stop offset="0.5" stop-color="#e96262"/><stop offset="0.58" stop-color="#e96262"/><stop offset="0.67" stop-color="#e95d5d"/><stop offset="0.75" stop-color="#e54040"/><stop offset="0.83" stop-color="#e33434"/><stop offset="0.92" stop-color="#e33535"/><stop offset="1" stop-color="#e54242"/></linearGradient>
<linearGradient id="hg179" gradientUnits="userSpaceOnUse" x1="419.8" x2="491.1" y1="0" y2="0"><stop offset="0" stop-color="#fdeded"/><stop offset="0.08" stop-color="#ee8484"/><stop offset="0.17" stop-color="#ea6868"/><stop offset="0.25" stop-color="#ea6767"/><stop offset="0.33" stop-color="#ea6666"/><stop offset="0.42" stop-color="#ea6565"/><stop offset="0.5" stop-color="#ea6464"/><stop offset="0.58" stop-color="#ea6464"/><stop offset="0.67" stop-color="#e95f5f"/><stop offset="0.75" stop-color="#e54444"/><stop offset="0.83" stop-color="#e43838"/><stop offset="0.92" stop-color="#e43a3a"/><stop offset="1" stop-color="#e54646"/></linearGradient>
<linearGradient id="hg180" gradientUnits="userSpaceOnUse" x1="419.8" x2="491.1" y1="0" y2="0"><stop offset="0" stop-color="#fdeded"/><stop offset="0.08" stop-color="#ee8585"/><stop offset="0.17" stop-color="#ea6a6a"/><stop offset="0.25" stop-color="#ea6969"/><stop offset="0.33" stop-color="#ea6868"/><stop offset="0.42" stop-color="#ea6767"/><stop offset="0.5" stop-color="#ea6666"/><stop offset="0.58" stop-color="#ea6666"/><stop offset="0.67" stop-color="#e96161"/><stop offset="0.75" stop-color="#e64949"/><stop offset="0.83" stop-color="#e43e3e"/><stop offset="0.92" stop-color="#e53f3f"/><stop offset="1" stop-color="#e64a4a"/></linearGradient>
<linearGradient id="hg181" gradientUnits="userSpaceOnUse" x1="419.8" x2="491.1" y1="0" y2="0"><stop offset="0" stop-color="#fdeeee"/><stop offset="0.08" stop-color="#ee8686"/><stop offset="0.17" stop-color="#eb6b6b"/><stop offset="0.25" stop-color="#eb6a6a"/><stop offset="0.33" stop-color="#ea6a6a"/><stop offset="0.42" stop-color="#ea6969"/><stop offset="0.5" stop-color="#ea6868"/><stop offset="0.58" stop-color="#ea6868"/><stop offset="0.67" stop-color="#ea6464"/><stop offset="0.75" stop-color="#e74e4e"/><stop offset="0.83" stop-color="#e54444"/><stop offset="0.92" stop-color="#e54545"/><stop offset="1" stop-color="#e74f4f"/></linearGradient>
<linearGradient id="hg182" gradientUnits="userSpaceOnUse" x1="419.8" x2="491.1" y1="0" y2="0"><stop offset="0" stop-color="#fdeeee"/><stop offset="0.08" stop-color="#ee8787"/><stop offset="0.17" stop-color="#eb6d6d"/><stop offset="0.25" stop-color="#eb6c6c"/><stop offset="0.33" stop-color="#eb6b6b"/><stop offset="0.42" stop-color="#eb6b6b"/><stop offset="0.5" stop-color="#eb6a6a"/><stop offset="0.58" stop-color="#ea6a6a"/><stop offset="0.67" stop-color="#ea6666"/><stop offset="0.75" stop-color="#e75353"/><stop offset="0.83" stop-color="#e64b4b"/><stop offset="0.92" stop-color="#e64c4c"/><stop offset="1" stop-color="#e75454"/></linearGradient>
<linearGradient id="hg183" gradientUnits="userSpaceOnUse" x1="419.8" x2="491.1" y1="0" y2="0"><stop offset="0" stop-color="#fdeeee"/><stop offset="0.08" stop-color="#ef8888"/><stop offset="0.17" stop-color="#eb6e6e"/><stop offset="0.25" stop-color="#eb6d6d"/><stop offset="0.33" stop-color="#eb6d6d"/><stop offset="0.42" stop-color="#eb6c6c"/><stop offset="0.5" stop-color="#eb6c6c"/><stop offset="0.58" stop-color="#eb6b6b"/><stop offset="0.67" stop-color="#ea6868"/><stop offset="0.75" stop-color="#e85959"/><stop offset="0.83" stop-color="#e75252"/><stop offset="0.92" stop-color="#e75353"/><stop offset="1" stop-color="#e85959"/></linearGradient>
<linearGradient id="hg184" gradientUnits="userSpaceOnUse" x1="419.8" x2="491.1" y1="0" y2="0"><stop offset="0" stop-color="#fdeeee"/><stop offset="0.08" stop-color="#ef8989"/><stop offset="0.17" stop-color="#eb6f6f"/><stop offset="0.25" stop-color="#eb6f6f"/><stop offset="0.33" stop-color="#eb6e6e"/><stop offset="0.42" stop-color="#eb6e6e"/><stop offset="0.5" stop-color="#eb6d6d"/><stop offset="0.58" stop-color="#eb6d6d"/><stop offset="0.67" stop-color="#ea6a6a"/><stop offset="0.75" stop-color="#e95e5e"/><stop offset="0.83" stop-color="#e85959"/><stop offset="0.92" stop-color="#e85959"/><stop offset="1" stop-color="#e95f5f"/></linearGradient>
<linearGradient id="hg185" gradientUnits="userSpaceOnUse" x1="419.8" x2="491.1" y1="0" y2="0"><stop offset="0" stop-color="#fdeeee"/><stop offset="0.08" stop-color="#ef8a8a"/><stop offset="0.17" stop-color="#eb7070"/><stop offset="0.25" stop-color="#eb7070"/><stop offset="0.33" stop-color="#eb6f6f"/><stop offset="0.42" stop-color="#eb6f6f"/><stop offset="0.5" stop-color="#eb6f6f"/><stop offset="0.58" stop-color="#eb6e6e"/><stop offset="0.67" stop-color="#eb6c6c"/><stop offset="0.75" stop-color="#ea6363"/><stop offset="0.83" stop-color="#e95f5f"/><stop offset="0.92" stop-color="#e95f5f"/><stop offset="1" stop-color="#ea6363"/></linearGradient>
<linearGradient id="hg186" gradientUnits="userSpaceOnUse" x1="419.8" x2="491.1" y1="0" y2="0"><stop offset="0" stop-color="#fdeeee"/><stop offset="0.08" stop-color="#ef8a8a"/><stop offset="0.17" stop-color="#eb7171"/><stop offset="0.25" stop-color="#eb7171"/><stop offset="0.33" stop-color="#eb7070"/><stop offset="0.42" stop-color="#eb7070"/><stop offset="0.5" stop-color="#eb7070"/><stop offset="0.58" stop-color="#eb6f6f"/><stop offset="0.67" stop-color="#eb6d6d"/><stop offset="0.75" stop-color="#ea6767"/><stop offset="0.83" stop-color="#ea6464"/><stop offset="0.92" stop-color="#ea6464"/><stop offset="1" stop-color="#ea6767"/></linearGradient>
<linearGradient id="hg187" gradientUnits="userSpaceOnUse" x1="419.8" x2="491.1" y1="0" y2="0"><stop offset="0" stop-color="#fdeeee"/><stop offset="0.08" stop-color="#ef8b8b"/><stop offset="0.17" stop-color="#ec7272"/><stop offset="0.25" stop-color="#eb7171"/><stop offset="0.33" stop-color="#eb7171"/><stop offset="0.42" stop-color="#eb7171"/><stop offset="0.5" stop-color="#eb7171"/><stop offset="0.58" stop-color="#eb7070"/><stop offset="0.67" stop-color="#eb6e6e"/><stop offset="0.75" stop-color="#eb6a6a"/><stop offset="0.83" stop-color="#ea6868"/><stop offset="0.92" stop-color="#ea6868"/><stop offset="1" stop-color="#eb6b6b"/></linearGradient>
<linearGradient id="hg188" gradientUnits="userSpaceOnUse" x1="419.8" x2="491.1" y1="0" y2="0"><stop offset="0" stop-color="#fdeeee"/><stop offset="0.08" stop-color="#ef8b8b"/><stop offset="0.17" stop-color="#ec7272"/><stop offset="0.25" stop-color="#ec7272"/><stop offset="0.33" stop-color="#ec7272"/><stop offset="0.42" stop-color="#ec7272"/><stop offset="0.5" stop-color="#eb7171"/><stop offset="0.58" stop-color="#eb7171"/><stop offset="0.67" stop-color="#eb6f6f"/><stop offset="0.75" stop-color="#eb6d6d"/><stop offset="0.83" stop-color="#eb6b6b"/><stop offset="0.92" stop-color="#eb6b6b"/><stop offset="1" stop-color="#eb6d6d"/></linearGradient>
<linearGradient id="hg189" gradientUnits="userSpaceOnUse" x1="419.8" x2="491.1" y1="0" y2="0"><stop offset="0" stop-color="#fdeeee"/><stop offset="0.08" stop-color="#ef8b8b"/><stop offset="0.17" stop-color="#ec7373"/><stop offset="0.25" stop-color="#ec7272"/><stop offset="0.33" stop-color="#ec7272"/><stop offset="0.42" stop-color="#ec7272"/><stop offset="0.5" stop-color="#ec7272"/><stop offset="0.58" stop-color="#eb7171"/><stop offset="0.67" stop-color="#eb7070"/><stop offset="0.75" stop-color="#eb6e6e"/><stop offset="0.83" stop-color="#eb6d6d"/><stop offset="0.92" stop-color="#eb6d6d"/><stop offset="1" stop-color="#eb6e6e"/></linearGradient>
<linearGradient id="hg190" gradientUnits="userSpaceOnUse" x1="419.8" x2="491.1" y1="0" y2="0"><stop offset="0" stop-color="#fdeeee"/><stop offset="0.08" stop-color="#ef8c8c"/><stop offset="0.17" stop-color="#ec7373"/><stop offset="0.25" stop-color="#ec7373"/><stop offset="0.33" stop-color="#ec7373"/><stop offset="0.42" stop-color="#ec7373"/><stop offset="0.5" stop-color="#ec7272"/><stop offset="0.58" stop-color="#ec7272"/><stop offset="0.67" stop-color="#eb7171"/><stop offset="0.75" stop-color="#eb6f6f"/><stop offset="0.83" stop-color="#eb6e6e"/><stop offset="0.92" stop-color="#eb6e6e"/><stop offset="1" stop-color="#eb6f6f"/></linearGradient>
<linearGradient id="hg191" gradientUnits="userSpaceOnUse" x1="419.8" x2="491.1" y1="0" y2="0"><stop offset="0" stop-color="#fdeeee"/><stop offset="0.08" stop-color="#ef8c8c"/><stop offset="0.17" stop-color="#ec7373"/><stop offset="0.25" stop-color="#ec7373"/><stop offset="0.33" stop-color="#ec7373"/><stop offset="0.42" stop-color="#ec7373"/><stop offset="0.5" stop-color="#ec7373"/><stop offset="0.58" stop-color="#ec7272"/><stop offset="0.67" stop-color="#eb7171"/><stop offset="0.75" stop-color="#eb7070"/><stop offset="0.83" stop-color="#eb6f6f"/><stop offset="0.92" stop-color="#eb6f6f"/><stop offset="1" stop-color="#eb7070"/></linearGradient>
<linearGradient id="hg192" gradientUnits="userSpaceOnUse" x1="419.8" x2="491.1" y1="0" y2="0"><stop offset="0" stop-color="#fdeeee"/><stop offset="0.08" stop-color="#ef8c8c"/><stop offset="0.17" stop-color="#ec7373"/><stop offset="0.25" stop-color="#ec7373"/><stop offset="0.33" stop-color="#ec7373"/><stop offset="0.42" stop-color="#ec7373"/><stop offset="0.5" stop-color="#ec7373"/><stop offset="0.58" stop-color="#ec7272"/><stop offset="0.67" stop-color="#ec7272"/><stop offset="0.75" stop-color="#eb7171"/><stop offset="0.83" stop-color="#eb7070"/><stop offset="0.92" stop-color="#eb7070"/><stop offset="1" stop-color="#eb7171"/></linearGradient>
<linearGradient id="hg193" gradientUnits="userSpaceOnUse" x1="419.8" x2="491.1" y1="0" y2="0"><stop offset="0" stop-color="#fdeeee"/><stop offset="0.08" stop-color="#ef8c8c"/><stop offset="0.17" stop-color="#ec7373"/><stop offset="0.25" stop-color="#ec7373"/><stop offset="0.33" stop-color="#ec7373"/><stop offset="0.42" stop-color="#ec7373"/><stop offset="0.5" stop-color="#ec7373"/><stop offset="0.58" stop-color="#ec7373"/><stop offset="0.67" stop-color="#ec7272"/><stop offset="0.75" stop-color="#eb7171"/><stop offset="0.83" stop-color="#eb7070"/><stop offset="0.92" stop-color="#eb7070"/><stop offset="1" stop-color="#eb7171"/></linearGradient>
<linearGradient id="hg194" gradientUnits="userSpaceOnUse" x1="419.8" x2="491.1" y1="0" y2="0"><stop offset="0" stop-color="#fdeeee"/><stop offset="0.08" stop-color="#ef8c8c"/><stop offset="0.17" stop-color="#ec7474"/><stop offset="0.25" stop-color="#ec7474"/><stop offset="0.33" stop-color="#ec7474"/><stop offset="0.42" stop-color="#ec7474"/><stop offset="0.5" stop-color="#ec7373"/><stop offset="0.58" stop-color="#ec7373"/><stop offset="0.67" stop-color="#ec7272"/><stop offset="0.75" stop-color="#eb7171"/><stop offset="0.83" stop-color="#eb7171"/><stop offset="0.92" stop-color="#eb7171"/><stop offset="1" stop-color="#eb7171"/></linearGradient>
<linearGradient id="hg195" gradientUnits="userSpaceOnUse" x1="419.8" x2="491.1" y1="0" y2="0"><stop offset="0" stop-color="#fdeeee"/><stop offset="0.08" stop-color="#ef8c8c"/><stop offset="0.17" stop-color="#ec7474"/><stop offset="0.25" stop-color="#ec7474"/><stop offset="0.33" stop-color="#ec7474"/><stop offset="0.42" stop-color="#ec7474"/><stop offset="0.5" stop-color="#ec7474"/><stop offset="0.58" stop-color="#ec7373"/><stop offset="0.67" stop-color="#ec7272"/><stop offset="0.75" stop-color="#ec7272"/><stop offset="0.83" stop-color="#eb7171"/><stop offset="0.92" stop-color="#eb7171"/><stop offset="1" stop-color="#ec7272"/></linearGradient>
<linearGradient id="hg196" gradientUnits="userSpaceOnUse" x1="419.8" x2="491.1" y1="0" y2="0"><stop offset="0" stop-color="#fdeeee"/><stop offset="0.08" stop-color="#ef8c8c"/><stop offset="0.17" stop-color="#ec7474"/><stop offset="0.25" stop-color="#ec7474"/><stop offset="0.33" stop-color="#ec7474"/><stop offset="0.42" stop-color="#ec7474"/><stop offset="0.5" stop-color="#ec7474"/><stop offset="0.58" stop-color="#ec7373"/><stop offset="0.67" stop-color="#ec7373"/><stop offset="0.75" stop-color="#ec7272"/><stop offset="0.83" stop-color="#ec7272"/><stop offset="0.92" stop-color="#eb7171"/><stop offset="1" stop-color="#ec7272"/></linearGradient>
<linearGradient id="hg197" gradientUnits="userSpaceOnUse" x1="419.8" x2="491.1" y1="0" y2="0"><stop offset="0" stop-color="#fdeeee"/><stop offset="0.08" stop-color="#ef8c8c"/><stop offset="0.17" stop-color="#ec7474"/><stop offset="0.25" stop-color="#ec7474"/><stop offset="0.33" stop-color="#ec7474"/><stop offset="0.42" stop-color="#ec7474"/><stop offset="0.5" stop-color="#ec7474"/><stop offset="0.58" stop-color="#ec7474"/><stop offset="0.67" stop-color="#ec7373"/><stop offset="0.75" stop-color="#ec7272"/><stop offset="0.83" stop-color="#ec7272"/><stop offset="0.92" stop-color="#ec7272"/><stop offset="1" stop-color="#ec7272"/></linearGradient>
<linearGradient id="hg198" gradientUnits="userSpaceOnUse" x1="419.8" x2="491.1" y1="0" y2="0"><stop offset="0" stop-color="#fdeeee"/><stop offset="0.08" stop-color="#ef8c8c"/><stop offset="0.17" stop-color="#ec7474"/><stop offset="0.25" stop-color="#ec7474"/><stop offset="0.33" stop-color="#ec7474"/><stop offset="0.42" stop-color="#ec7474"/><stop offset="0.5" stop-color="#ec7474"/><stop offset="0.58" stop-color="#ec7474"/><stop offset="0.67" stop-color="#ec7373"/><stop offset="0.75" stop-color="#ec7373"/><stop offset="0.83" stop-color="#ec7272"/><stop offset="0.92" stop-color="#ec7272"/><stop offset="1" stop-color="#ec7272"/></linearGradient>
<linearGradient id="hg199" gradientUnits="userSpaceOnUse" x1="419.8" x2="491.1" y1="0" y2="0"><stop offset="0" stop-color="#fdeeee"/><stop offset="0.08" stop-color="#ef8c8c"/><stop offset="0.17" stop-color="#ec7474"/><stop offset="0.25" stop-color="#ec7575"/><stop offset="0.33" stop-color="#ec7575"/><stop offset="0.42" stop-color="#ec7575"/><stop offset="0.5" stop-color="#ec7575"/><stop offset="0.58" stop-color="#ec7474"/><stop offset="0.67" stop-color="#ec7373"/><stop offset="0.75" stop-color="#ec7373"/><stop offset="0.83" stop-color="#ec7272"/><stop offset="0.92" stop-color="#ec7272"/><stop offset="1" stop-color="#ec7272"/></linearGradient>
<linearGradient id="hg200" gradientUnits="userSpaceOnUse" x1="419.8" x2="491.1" y1="0" y2="0"><stop offset="0" stop-color="#fdeeee"/><stop offset="0.08" stop-color="#ef8c8c"/><stop offset="0.17" stop-color="#ec7474"/><stop offset="0.25" stop-color="#ec7575"/><stop offset="0.33" stop-color="#ec7575"/><stop offset="0.42" stop-color="#ec7575"/><stop offset="0.5" stop-color="#ec7575"/><stop offset="0.58" stop-color="#ec7474"/><stop offset="0.67" stop-color="#ec7474"/><stop offset="0.75" stop-color="#ec7373"/><stop offset="0.83" stop-color="#ec7373"/><stop offset="0.92" stop-color="#ec7272"/><stop offset="1" stop-color="#ec7373"/></linearGradient>
<linearGradient id="hg201" gradientUnits="userSpaceOnUse" x1="419.8" x2="491.1" y1="0" y2="0"><stop offset="0" stop-color="#fdeeee"/><stop offset="0.08" stop-color="#ef8d8d"/><stop offset="0.17" stop-color="#ec7575"/><stop offset="0.25" stop-color="#ec7575"/><stop offset="0.33" stop-color="#ec7676"/><stop offset="0.42" stop-color="#ec7676"/><stop offset="0.5" stop-color="#ec7575"/><stop offset="0.58" stop-color="#ec7575"/><stop offset="0.67" stop-color="#ec7474"/><stop offset="0.75" stop-color="#ec7373"/><stop offset="0.83" stop-color="#ec7373"/><stop offset="0.92" stop-color="#ec7373"/><stop offset="1" stop-color="#ec7373"/></linearGradient>
<linearGradient id="hg202" gradientUnits="userSpaceOnUse" x1="419.8" x2="491.1" y1="0" y2="0"><stop offset="0" stop-color="#fdeeee"/><stop offset="0.08" stop-color="#ef8d8d"/><stop offset="0.17" stop-color="#ec7575"/><stop offset="0.25" stop-color="#ec7676"/><stop offset="0.33" stop-color="#ec7676"/><stop offset="0.42" stop-color="#ec7676"/><stop offset="0.5" stop-color="#ec7676"/><stop offset="0.58" stop-color="#ec7575"/><stop offset="0.67" stop-color="#ec7474"/><stop offset="0.75" stop-color="#ec7373"/><stop offset="0.83" stop-color="#ec7373"/><stop offset="0.92" stop-color="#ec7373"/><stop offset="1" stop-color="#ec7373"/></linearGradient>
<linearGradient id="hg203" gradientUnits="userSpaceOnUse" x1="419.8" x2="491.1" y1="0" y2="0"><stop offset="0" stop-color="#fdeeee"/><stop offset="0.08" stop-color="#ef8d8d"/><stop offset="0.17" stop-color="#ec7575"/><stop offset="0.25" stop-color="#ec7676"/><stop offset="0.33" stop-color="#ec7777"/><stop offset="0.42" stop-color="#ec7777"/><stop offset="0.5" stop-color="#ec7676"/><stop offset="0.58" stop-color="#ec7575"/><stop offset="0.67" stop-color="#ec7575"/><stop offset="0.75" stop-color="#ec7474"/><stop offset="0.83" stop-color="#ec7373"/><stop offset="0.92" stop-color="#ec7373"/><stop offset="1" stop-color="#ec7373"/></linearGradient>
<linearGradient id="hg204" gradientUnits="userSpaceOnUse" x1="419.8" x2="491.1" y1="0" y2="0"><stop offset="0" stop-color="#fdeeee"/><stop offset="0.08" stop-color="#ef8d8d"/><stop offset="0.17" stop-color="#ec7676"/><stop offset="0.25" stop-color="#ec7676"/><stop offset="0.33" stop-color="#ec7777"/><stop offset="0.42" stop-color="#ec7777"/><stop offset="0.5" stop-color="#ec7777"/><stop offset="0.58" stop-color="#ec7676"/><stop offset="0.67" stop-color="#ec7575"/><stop offset="0.75" stop-color="#ec7474"/><stop offset="0.83" stop-color="#ec7373"/><stop offset="0.92" stop-color="#ec7373"/><stop offset="1" stop-color="#ec7373"/></linearGradient>
<linearGradient id="hg205" gradientUnits="userSpaceOnUse" x1="419.8" x2="491.1" y1="0" y2="0"><stop offset="0" stop-color="#fdeeee"/><stop offset="0.08" stop-color="#ef8d8d"/><stop offset="0.17" stop-color="#ec7676"/><stop offset="0.25" stop-color="#ec7777"/><stop offset="0.33" stop-color="#ec7878"/><stop offset="0.42" stop-color="#ec7878"/><stop offset="0.5" stop-color="#ec7777"/><stop offset="0.58" stop-color="#ec7676"/><stop offset="0.67" stop-color="#ec7575"/><stop offset="0.75" stop-color="#ec7474"/><stop offset="0.83" stop-color="#ec7474"/><stop offset="0.92" stop-color="#ec7373"/><stop offset="1" stop-color="#ec7373"/></linearGradient>
<linearGradient id="hg206" gradientUnits="userSpaceOnUse" x1="419.8" x2="491.1" y1="0" y2="0"><stop offset="0" stop-color="#fdeeee"/><stop offset="0.08" stop-color="#ef8d8d"/><stop offset="0.17" stop-color="#ec7676"/><stop offset="0.25" stop-color="#ec7878"/><stop offset="0.33" stop-color="#ec7878"/><stop offset="0.42" stop-color="#ec7979"/><stop offset="0.5" stop-color="#ec7878"/><stop offset="0.58" stop-color="#ec7777"/><stop offset="0.67" stop-color="#ec7676"/><stop offset="0.75" stop-color="#ec7474"/><stop offset="0.83" stop-color="#ec7474"/><stop offset="0.92" stop-color="#ec7373"/><stop offset="1" stop-color="#ec7373"/></linearGradient>
<linearGradient id="hg207" gradientUnits="userSpaceOnUse" x1="419.8" x2="491.1" y1="0" y2="0"><stop offset="0" stop-color="#fdeeee"/><stop offset="0.08" stop-color="#ef8e8e"/><stop offset="0.17" stop-color="#ec7777"/><stop offset="0.25" stop-color="#ec7878"/><stop offset="0.33" stop-color="#ed7979"/><stop offset="0.42" stop-color="#ed7979"/><stop offset="0.5" stop-color="#ed7979"/><stop offset="0.58" stop-color="#ec7878"/><stop offset="0.67" stop-color="#ec7676"/><stop offset="0.75" stop-color="#ec7575"/><stop offset="0.83" stop-color="#ec7474"/><stop offset="0.92" stop-color="#ec7373"/><stop offset="1" stop-color="#ec7373"/></linearGradient>
<linearGradient id="hg208" gradientUnits="userSpaceOnUse" x1="419.8" x2="491.1" y1="0" y2="0"><stop offset="0" stop-color="#fdeeee"/><stop offset="0.08" stop-color="#ef8e8e"/><stop offset="0.17" stop-color="#ec7777"/><stop offset="0.25" stop-color="#ed7979"/><stop offset="0.33" stop-color="#ed7a7a"/><stop offset="0.42" stop-color="#ed7a7a"/><stop offset="0.5" stop-color="#ed7a7a"/><stop offset="0.58" stop-color="#ec7878"/><stop offset="0.67" stop-color="#ec7676"/><stop offset="0.75" stop-color="#ec7575"/><stop offset="0.83" stop-color="#ec7474"/><stop offset="0.92" stop-color="#ec7474"/><stop offset="1" stop-color="#ec7373"/></linearGradient>
<linearGradient id="hg209" gradientUnits="userSpaceOnUse" x1="419.8" x2="491.1" y1="0" y2="0"><stop offset="0" stop-color="#fdeeee"/><stop offset="0.08" stop-color="#ef8e8e"/><stop offset="0.17" stop-color="#ec7878"/><stop offset="0.25" stop-color="#ed7979"/><stop offset="0.33" stop-color="#ed7b7b"/><stop offset="0.42" stop-color="#ed7b7b"/><stop offset="0.5" stop-color="#ed7a7a"/><stop offset="0.58" stop-color="#ec7979"/><stop offset="0.67" stop-color="#ec7777"/><stop offset="0.75" stop-color="#ec7575"/><stop offset="0.83" stop-color="#ec7474"/><stop offset="0.92" stop-color="#ec7474"/><stop offset="1" stop-color="#ec7373"/></linearGradient>
<linearGradient id="hg210" gradientUnits="userSpaceOnUse" x1="419.8" x2="491.1" y1="0" y2="0"><stop offset="0" stop-color="#fdeeee"/><stop offset="0.08" stop-color="#ef8e8e"/><stop offset="0.17" stop-color="#ec7878"/><stop offset="0.25" stop-color="#ed7a7a"/><stop offset="0.33" stop-color="#ed7b7b"/><stop offset="0.42" stop-color="#ed7c7c"/><stop offset="0.5" stop-color="#ed7b7b"/><stop offset="0.58" stop-color="#ed7979"/><stop offset="0.67" stop-color="#ec7777"/><stop offset="0.75" stop-color="#ec7575"/><stop offset="0.83" stop-color="#ec7474"/><stop offset="0.92" stop-color="#ec7474"/><stop offset="1" stop-color="#ec7373"/></linearGradient>
<linearGradient id="hg211" gradientUnits="userSpaceOnUse" x1="419.8" x2="491.1" y1="0" y2="0"><stop offset="0" stop-color="#fdeeee"/><stop offset="0.08" stop-color="#ef8e8e"/><stop offset="0.17" stop-color="#ec7878"/><stop offset="0.25" stop-color="#ed7b7b"/><stop offset="0.33" stop-color="#ed7c7c"/><stop offset="0.42" stop-color="#ed7d7d"/><stop offset="0.5" stop-color="#ed7c7c"/><stop offset="0.58" stop-color="#ed7a7a"/><stop offset="0.67" stop-color="#ec7878"/><stop offset="0.75" stop-color="#ec7676"/><stop offset="0.83" stop-color="#ec7474"/><stop offset="0.92" stop-color="#ec7474"/><stop offset="1" stop-color="#ec7474"/></linearGradient>
<linearGradient id="hg212" gradientUnits="userSpaceOnUse" x1="419.8" x2="491.1" y1="0" y2="0"><stop offset="0" stop-color="#fdeeee"/><stop offset="0.08" stop-color="#f08f8f"/><stop offset="0.17" stop-color="#ed7979"/><stop offset="0.25" stop-color="#ed7b7b"/><stop offset="0.33" stop-color="#ed7d7d"/><stop offset="0.42" stop-color="#ed7d7d"/><stop offset="0.5" stop-color="#ed7c7c"/><stop offset="0.58" stop-color="#ed7a7a"/><stop offset="0.67" stop-color="#ec7878"/><stop offset="0.75" stop-color="#ec7676"/><stop offset="0.83" stop-color="#ec7575"/><stop offset="0.92" stop-color="#ec7474"/><stop offset="1" stop-color="#ec7474"/></linearGradient>
<linearGradient id="hg213" gradientUnits="userSpaceOnUse" x1="419.8" x2="491.1" y1="0" y2="0"><stop offset="0" stop-color="#fdeeee"/><stop offset="0.08" stop-color="#f08f8f"/><stop offset="0.17" stop-color="#ed7979"/><stop offset="0.25" stop-color="#ed7c7c"/><stop offset="0.33" stop-color="#ed7d7d"/><stop offset="0.42" stop-color="#ed7e7e"/><stop offset="0.5" stop-color="#ed7d7d"/><stop offset="0.58" stop-color="#ed7b7b"/><stop offset="0.67" stop-color="#ec7878"/><stop offset="0.75" stop-color="#ec7676"/><stop offset="0.83" stop-color="#ec7575"/><stop offset="0.92" stop-color="#ec7474"/><stop offset="1" stop-color="#ec7474"/></linearGradient>
<linearGradient id="hg214" gradientUnits="userSpaceOnUse" x1="419.8" x2="491.1" y1="0" y2="0"><stop offset="0" stop-color="#fdeeee"/><stop offset="0.08" stop-color="#f08f8f"/><stop offset="0.17" stop-color="#ed7979"/><stop offset="0.25" stop-color="#ed7c7c"/><stop offset="0.33" stop-color="#ed7e7e"/><stop offset="0.42" stop-color="#ed7e7e"/><stop offset="0.5" stop-color="#ed7d7d"/><stop offset="0.58" stop-color="#ed7b7b"/><stop offset="0.67" stop-color="#ec7878"/><stop offset="0.75" stop-color="#ec7676"/><stop offset="0.83" stop-color="#ec7575"/><stop offset="0.92" stop-color="#ec7474"/><stop offset="1" stop-color="#ec7474"/></linearGradient>
<linearGradient id="hg215" gradientUnits="userSpaceOnUse" x1="419.8" x2="491.1" y1="0" y2="0"><stop offset="0" stop-color="#fdeeee"/><stop offset="0.08" stop-color="#f08f8f"/><stop offset="0.17" stop-color="#ed7a7a"/><stop offset="0.25" stop-color="#ed7c7c"/><stop offset="0.33" stop-color="#ed7e7e"/><stop offset="0.42" stop-color="#ed7f7f"/><stop offset="0.5" stop-color="#ed7d7d"/><stop offset="0.58" stop-color="#ed7b7b"/><stop offset="0.67" stop-color="#ec7878"/><stop offset="0.75" stop-color="#ec7676"/><stop offset="0.83" stop-color="#ec7575"/><stop offset="0.92" stop-color="#ec7474"/><stop offset="1" stop-color="#ec7474"/></linearGradient>
<linearGradient id="hg216" gradientUnits="userSpaceOnUse" x1="419.8" x2="491.1" y1="0" y2="0"><stop offset="0" stop-color="#fdeeee"/><stop offset="0.08" stop-color="#f08f8f"/><stop offset="0.17" stop-color="#ed7a7a"/><stop offset="0.25" stop-color="#ed7c7c"/><stop offset="0.33" stop-color="#ed7e7e"/><stop offset="0.42" stop-color="#ed7f7f"/><stop offset="0.5" stop-color="#ed7e7e"/><stop offset="0.58" stop-color="#ed7b7b"/><stop offset="0.67" stop-color="#ec7979"/><stop offset="0.75" stop-color="#ec7676"/><stop offset="0.83" stop-color="#ec7575"/><stop offset="0.92" stop-color="#ec7474"/><stop offset="1" stop-color="#ec7474"/></linearGradient>
<linearGradient id="hg217" gradientUnits="userSpaceOnUse" x1="419.8" x2="491.1" y1="0" y2="0"><stop offset="0" stop-color="#fdeeee"/><stop offset="0.08" stop-color="#f08f8f"/><stop offset="0.17" stop-color="#ed7a7a"/><stop offset="0.25" stop-color="#ed7c7c"/><stop offset="0.33" stop-color="#ed7e7e"/><stop offset="0.42" stop-color="#ed7f7f"/><stop offset="0.5" stop-color="#ed7e7e"/><stop offset="0.58" stop-color="#ed7b7b"/><stop offset="0.67" stop-color="#ec7979"/><stop offset="0.75" stop-color="#ec7676"/><stop offset="0.83" stop-color="#ec7575"/><stop offset="0.92" stop-color="#ec7474"/><stop offset="1" stop-color="#ec7474"/></linearGradient>
<linearGradient id="hg218" gradientUnits="userSpaceOnUse" x1="419.8" x2="491.1" y1="0" y2="0"><stop offset="0" stop-color="#fdeeee"/><stop offset="0.08" stop-color="#f08f8f"/><stop offset="0.17" stop-color="#ed7a7a"/><stop offset="0.25" stop-color="#ed7c7c"/><stop offset="0.33" stop-color="#ed7e7e"/><stop offset="0.42" stop-color="#ed7f7f"/><stop offset="0.5" stop-color="#ed7d7d"/><stop offset="0.58" stop-color="#ed7b7b"/><stop offset="0.67" stop-color="#ec7979"/><stop offset="0.75" stop-color="#ec7676"/><stop offset="0.83" stop-color="#ec7575"/><stop offset="0.92" stop-color="#ec7474"/><stop offset="1" stop-color="#ec7474"/></linearGradient>
<linearGradient id="hg219" gradientUnits="userSpaceOnUse" x1="419.8" x2="491.1" y1="0" y2="0"><stop offset="0" stop-color="#fdeeee"/><stop offset="0.08" stop-color="#f08f8f"/><stop offset="0.17" stop-color="#ed7979"/><stop offset="0.25" stop-color="#ed7c7c"/><stop offset="0.33" stop-color="#ed7e7e"/><stop offset="0.42" stop-color="#ed7e7e"/><stop offset="0.5" stop-color="#ed7d7d"/><stop offset="0.58" stop-color="#ed7b7b"/><stop offset="0.67" stop-color="#ec7878"/><stop offset="0.75" stop-color="#ec7676"/><stop offset="0.83" stop-color="#ec7575"/><stop offset="0.92" stop-color="#ec7474"/><stop offset="1" stop-color="#ec7474"/></linearGradient>
<linearGradient id="hg220" gradientUnits="userSpaceOnUse" x1="419.8" x2="491.1" y1="0" y2="0"><stop offset="0" stop-color="#fdeeee"/><stop offset="0.08" stop-color="#f08f8f"/><stop offset="0.17" stop-color="#ed7979"/><stop offset="0.25" stop-color="#ed7c7c"/><stop offset="0.33" stop-color="#ed7d7d"/><stop offset="0.42" stop-color="#ed7e7e"/><stop offset="0.5" stop-color="#ed7d7d"/><stop offset="0.58" stop-color="#ed7b7b"/><stop offset="0.67" stop-color="#ec7878"/><stop offset="0.75" stop-color="#ec7676"/><stop offset="0.83" stop-color="#ec7575"/><stop offset="0.92" stop-color="#ec7474"/><stop offset="1" stop-color="#ec7474"/></linearGradient>
<linearGradient id="hg221" gradientUnits="userSpaceOnUse" x1="419.8" x2="491.1" y1="0" y2="0"><stop offset="0" stop-color="#fdeeee"/><stop offset="0.08" stop-color="#f08f8f"/><stop offset="0.17" stop-color="#ed7979"/><stop offset="0.25" stop-color="#ed7b7b"/><stop offset="0.33" stop-color="#ed7d7d"/><stop offset="0.42" stop-color="#ed7d7d"/><stop offset="0.5" stop-color="#ed7c7c"/><stop offset="0.58" stop-color="#ed7a7a"/><stop offset="0.67" stop-color="#ec7878"/><stop offset="0.75" stop-color="#ec7676"/><stop offset="0.83" stop-color="#ec7575"/><stop offset="0.92" stop-color="#ec7474"/><stop offset="1" stop-color="#ec7474"/></linearGradient>
<linearGradient id="hg222" gradientUnits="userSpaceOnUse" x1="419.8" x2="491.1" y1="0" y2="0"><stop offset="0" stop-color="#fdeeee"/><stop offset="0.08" stop-color="#ef8e8e"/><stop offset="0.17" stop-color="#ec7878"/><stop offset="0.25" stop-color="#ed7b7b"/><stop offset="0.33" stop-color="#ed7c7c"/><stop offset="0.42" stop-color="#ed7d7d"/><stop offset="0.5" stop-color="#ed7c7c"/><stop offset="0.58" stop-color="#ed7a7a"/><stop offset="0.67" stop-color="#ec7878"/><stop offset="0.75" stop-color="#ec7676"/><stop offset="0.83" stop-color="#ec7575"/><stop offset="0.92" stop-color="#ec7474"/><stop offset="1" stop-color="#ec7474"/></linearGradient>
<linearGradient id="hg223" gradientUnits="userSpaceOnUse" x1="419.8" x2="491.1" y1="0" y2="0"><stop offset="0" stop-color="#fdeeee"/><stop offset="0.08" stop-color="#ef8e8e"/><stop offset="0.17" stop-color="#ec7878"/><stop offset="0.25" stop-color="#ed7a7a"/><stop offset="0.33" stop-color="#ed7b7b"/><stop offset="0.42" stop-color="#ed7c7c"/><stop offset="0.5" stop-color="#ed7b7b"/><stop offset="0.58" stop-color="#ed7979"/><stop offset="0.67" stop-color="#ec7777"/><stop offset="0.75" stop-color="#ec7676"/><stop offset="0.83" stop-color="#ec7575"/><stop offset="0.92" stop-color="#ec7474"/><stop offset="1" stop-color="#ec7474"/></linearGradient>
<linearGradient id="hg224" gradientUnits="userSpaceOnUse" x1="419.8" x2="491.1" y1="0" y2="0"><stop offset="0" stop-color="#fdeeee"/><stop offset="0.08" stop-color="#ef8e8e"/><stop offset="0.17" stop-color="#ec7878"/><stop offset="0.25" stop-color="#ed7979"/><stop offset="0.33" stop-color="#ed7b7b"/><stop offset="0.42" stop-color="#ed7b7b"/><stop offset="0.5" stop-color="#ed7a7a"/><stop offset="0.58" stop-color="#ed7979"/><stop offset="0.67" stop-color="#ec7777"/><stop offset="0.75" stop-color="#ec7575"/><stop offset="0.83" stop-color="#ec7474"/><stop offset="0.92" stop-color="#ec7474"/><stop offset="1" stop-color="#ec7474"/></linearGradient>
<linearGradient id="hg225" gradientUnits="userSpaceOnUse" x1="419.8" x2="491.1" y1="0" y2="0"><stop offset="0" stop-color="#fdeeee"/><stop offset="0.08" stop-color="#ef8e8e"/><stop offset="0.17" stop-color="#ec7777"/><stop offset="0.25" stop-color="#ed7979"/><stop offset="0.33" stop-color="#ed7a7a"/><stop offset="0.42" stop-color="#ed7a7a"/><stop offset="0.5" stop-color="#ed7a7a"/><stop offset="0.58" stop-color="#ec7878"/><stop offset="0.67" stop-color="#ec7777"/><stop offset="0.75" stop-color="#ec7575"/><stop offset="0.83" stop-color="#ec7474"/><stop offset="0.92" stop-color="#ec7474"/><stop offset="1" stop-color="#ec7474"/></linearGradient>
<linearGradient id="hg226" gradientUnits="userSpaceOnUse" x1="419.8" x2="491.1" y1="0" y2="0"><stop offset="0" stop-color="#fdeeee"/><stop offset="0.08" stop-color="#ef8e8e"/><stop offset="0.17" stop-color="#ec7777"/><stop offset="0.25" stop-color="#ec7878"/><stop offset="0.33" stop-color="#ed7979"/><stop offset="0.42" stop-color="#ed7979"/><stop offset="0.5" stop-color="#ed7979"/><stop offset="0.58" stop-color="#ec7878"/><stop offset="0.67" stop-color="#ec7676"/><stop offset="0.75" stop-color="#ec7575"/><stop offset="0.83" stop-color="#ec7474"/><stop offset="0.92" stop-color="#ec7474"/><stop offset="1" stop-color="#ec7474"/></linearGradient>
<linearGradient id="hg227" gradientUnits="userSpaceOnUse" x1="419.8" x2="491.1" y1="0" y2="0"><stop offset="0" stop-color="#fdeeee"/><stop offset="0.08" stop-color="#ef8d8d"/><stop offset="0.17" stop-color="#ec7676"/><stop offset="0.25" stop-color="#ec7878"/><stop offset="0.33" stop-color="#ec7878"/><stop offset="0.42" stop-color="#ec7979"/><stop offset="0.5" stop-color="#ec7878"/><stop offset="0.58" stop-color="#ec7777"/><stop offset="0.67" stop-color="#ec7676"/><stop offset="0.75" stop-color="#ec7575"/><stop offset="0.83" stop-color="#ec7474"/><stop offset="0.92" stop-color="#ec7474"/><stop offset="1" stop-color="#ec7474"/></linearGradient>
<linearGradient id="hg228" gradientUnits="userSpaceOnUse" x1="419.8" x2="491.1" y1="0" y2="0"><stop offset="0" stop-color="#fdeeee"/><stop offset="0.08" stop-color="#ef8d8d"/><stop offset="0.17" stop-color="#ec7676"/><stop offset="0.25" stop-color="#ec7777"/><stop offset="0.33" stop-color="#ec7878"/><stop offset="0.42" stop-color="#ec7878"/><stop offset="0.5" stop-color="#ec7878"/><stop offset="0.58" stop-color="#ec7777"/><stop offset="0.67" stop-color="#ec7676"/><stop offset="0.75" stop-color="#ec7575"/><stop offset="0.83" stop-color="#ec7474"/><stop offset="0.92" stop-color="#ec7474"/><stop offset="1" stop-color="#ec7474"/></linearGradient>
<linearGradient id="hg229" gradientUnits="userSpaceOnUse" x1="419.8" x2="491.1" y1="0" y2="0"><stop offset="0" stop-color="#fdefef"/><stop offset="0.08" stop-color="#f09191"/><stop offset="0.17" stop-color="#ed7b7b"/><stop offset="0.25" stop-color="#ed7c7c"/><stop offset="0.33" stop-color="#ed7c7c"/><stop offset="0.42" stop-color="#ed7c7c"/><stop offset="0.5" stop-color="#ed7c7c"/><stop offset="0.58" stop-color="#ed7b7b"/><stop offset="0.67" stop-color="#ed7a7a"/><stop offset="0.75" stop-color="#ed7a7a"/><stop offset="0.83" stop-color="#ed7979"/><stop offset="0.92" stop-color="#ed7979"/><stop offset="1" stop-color="#ed7979"/></linearGradient>
<linearGradient id="hg230" gradientUnits="userSpaceOnUse" x1="419.8" x2="491.1" y1="0" y2="0"><stop offset="0" stop-color="#fdf0f0"/><stop offset="0.08" stop-color="#f19a9a"/><stop offset="0.17" stop-color="#ee8585"/><stop offset="0.25" stop-color="#ee8585"/><stop offset="0.33" stop-color="#ee8686"/><stop offset="0.42" stop-color="#ee8686"/><stop offset="0.5" stop-color="#ee8686"/><stop offset="0.58" stop-color="#ee8585"/><stop offset="0.67" stop-color="#ee8484"/><stop offset="0.75" stop-color="#ee8484"/><stop offset="0.83" stop-color="#ee8484"/><stop offset="0.92" stop-color="#ee8383"/><stop offset="1" stop-color="#ee8383"/></linearGradient>
<linearGradient id="hg231" gradientUnits="userSpaceOnUse" x1="419.8" x2="491.1" y1="0" y2="0"><stop offset="0" stop-color="#fdf1f1"/><stop offset="0.08" stop-color="#f2a2a2"/><stop offset="0.17" stop-color="#f08f8f"/><stop offset="0.25" stop-color="#f08f8f"/><stop offset="0.33" stop-color="#f09090"/><stop offset="0.42" stop-color="#f09090"/><stop offset="0.5" stop-color="#f09090"/><stop offset="0.58" stop-color="#f08f8f"/><stop offset="0.67" stop-color="#f08f8f"/><stop offset="0.75" stop-color="#ef8e8e"/><stop offset="0.83" stop-color="#ef8e8e"/><stop offset="0.92" stop-color="#ef8e8e"/><stop offset="1" stop-color="#ef8e8e"/></linearGradient>
<linearGradient id="hg232" gradientUnits="userSpaceOnUse" x1="419.8" x2="491.1" y1="0" y2="0"><stop offset="0" stop-color="#fdf3f3"/><stop offset="0.08" stop-color="#f3abab"/><stop offset="0.17" stop-color="#f19999"/><stop offset="0.25" stop-color="#f19999"/><stop offset="0.33" stop-color="#f19a9a"/><stop offset="0.42" stop-color="#f19a9a"/><stop offset="0.5" stop-color="#f19a9a"/><stop offset="0.58" stop-color="#f19999"/><stop offset="0.67" stop-color="#f19999"/><stop offset="0.75" stop-color="#f19999"/><stop offset="0.83" stop-color="#f19898"/><stop offset="0.92" stop-color="#f19898"/><stop offset="1" stop-color="#f19898"/></linearGradient>
<linearGradient id="hg233" gradientUnits="userSpaceOnUse" x1="419.8" x2="491.1" y1="0" y2="0"><stop offset="0" stop-color="#fdf4f4"/><stop offset="0.08" stop-color="#f5b3b3"/><stop offset="0.17" stop-color="#f2a3a3"/><stop offset="0.25" stop-color="#f2a3a3"/><stop offset="0.33" stop-color="#f2a4a4"/><stop offset="0.42" stop-color="#f2a4a4"/><stop offset="0.5" stop-color="#f2a4a4"/><stop offset="0.58" stop-color="#f2a3a3"/><stop offset="0.67" stop-color="#f2a3a3"/><stop offset="0.75" stop-color="#f2a3a3"/><stop offset="0.83" stop-color="#f2a3a3"/><stop offset="0.92" stop-color="#f2a3a3"/><stop offset="1" stop-color="#f2a3a3"/></linearGradient>
<linearGradient id="hg234" gradientUnits="userSpaceOnUse" x1="419.8" x2="491.1" y1="0" y2="0"><stop offset="0" stop-color="#fef5f5"/><stop offset="0.08" stop-color="#f6bcbc"/><stop offset="0.17" stop-color="#f4adad"/><stop offset="0.25" stop-color="#f4aeae"/><stop offset="0.33" stop-color="#f4aeae"/><stop offset="0.42" stop-color="#f4aeae"/><stop offset="0.5" stop-color="#f4aeae"/><stop offset="0.58" stop-color="#f4aeae"/><stop offset="0.67" stop-color="#f4adad"/><stop offset="0.75" stop-color="#f4adad"/><stop offset="0.83" stop-color="#f4adad"/><stop offset="0.92" stop-color="#f4adad"/><stop offset="1" stop-color="#f4adad"/></linearGradient>
<linearGradient id="hg235" gradientUnits="userSpaceOnUse" x1="419.8" x2="491.1" y1="0" y2="0"><stop offset="0" stop-color="#fef6f6"/><stop offset="0.08" stop-color="#f7c4c4"/><stop offset="0.17" stop-color="#f5b8b8"/><stop offset="0.25" stop-color="#f5b8b8"/><stop offset="0.33" stop-color="#f5b8b8"/><stop offset="0.42" stop-color="#f5b8b8"/><stop offset="0.5" stop-color="#f5b8b8"/><stop offset="0.58" stop-color="#f5b8b8"/><stop offset="0.67" stop-color="#f5b8b8"/><stop offset="0.75" stop-color="#f5b8b8"/><stop offset="0.83" stop-color="#f5b8b8"/><stop offset="0.92" stop-color="#f5b8b8"/><stop offset="1" stop-color="#f5b8b8"/></linearGradient>
<linearGradient id="hg236" gradientUnits="userSpaceOnUse" x1="419.8" x2="491.1" y1="0" y2="0"><stop offset="0" stop-color="#fef8f8"/><stop offset="0.08" stop-color="#f8cdcd"/><stop offset="0.17" stop-color="#f7c2c2"/><stop offset="0.25" stop-color="#f7c2c2"/><stop offset="0.33" stop-color="#f7c2c2"/><stop offset="0.42" stop-color="#f7c2c2"/><stop offset="0.5" stop-color="#f7c2c2"/><stop offset="0.58" stop-color="#f7c2c2"/><stop offset="0.67" stop-color="#f7c2c2"/><stop offset="0.75" stop-color="#f7c2c2"/><stop offset="0.83" stop-color="#f7c2c2"/><stop offset="0.92" stop-color="#f7c2c2"/><stop offset="1" stop-color="#f7c2c2"/></linearGradient>
<linearGradient id="hg237" gradientUnits="userSpaceOnUse" x1="419.8" x2="491.1" y1="0" y2="0"><stop offset="0" stop-color="#fef9f9"/><stop offset="0.08" stop-color="#f9d5d5"/><stop offset="0.17" stop-color="#f8cdcd"/><stop offset="0.25" stop-color="#f8cdcd"/><stop offset="0.33" stop-color="#f8cdcd"/><stop offset="0.42" stop-color="#f8cdcd"/><stop offset="0.5" stop-color="#f8cdcd"/><stop offset="0.58" stop-color="#f8cdcd"/><stop offset="0.67" stop-color="#f8cdcd"/><stop offset="0.75" stop-color="#f8cccc"/><stop offset="0.83" stop-color="#f8cccc"/><stop offset="0.92" stop-color="#f8cccc"/><stop offset="1" stop-color="#f8cccc"/></linearGradient>
<linearGradient id="hg238" gradientUnits="userSpaceOnUse" x1="419.8" x2="491.1" y1="0" y2="0"><stop offset="0" stop-color="#fefafa"/><stop offset="0.08" stop-color="#fadede"/><stop offset="0.17" stop-color="#f9d7d7"/><stop offset="0.25" stop-color="#f9d7d7"/><stop offset="0.33" stop-color="#f9d7d7"/><stop offset="0.42" stop-color="#f9d7d7"/><stop offset="0.5" stop-color="#f9d7d7"/><stop offset="0.58" stop-color="#f9d7d7"/><stop offset="0.67" stop-color="#f9d7d7"/><stop offset="0.75" stop-color="#f9d7d7"/><stop offset="0.83" stop-color="#f9d7d7"/><stop offset="0.92" stop-color="#f9d7d7"/><stop offset="1" stop-color="#f9d7d7"/></linearGradient>
<linearGradient id="hg239" gradientUnits="userSpaceOnUse" x1="419.8" x2="491.1" y1="0" y2="0"><stop offset="0" stop-color="#fffbfb"/><stop offset="0.08" stop-color="#fce7e7"/><stop offset="0.17" stop-color="#fbe1e1"/><stop offset="0.25" stop-color="#fbe1e1"/><stop offset="0.33" stop-color="#fbe1e1"/><stop offset="0.42" stop-color="#fbe1e1"/><stop offset="0.5" stop-color="#fbe1e1"/><stop offset="0.58" stop-color="#fbe1e1"/><stop offset="0.67" stop-color="#fbe1e1"/><stop offset="0.75" stop-color="#fbe1e1"/><stop offset="0.83" stop-color="#fbe1e1"/><stop offset="0.92" stop-color="#fbe1e1"/><stop offset="1" stop-color="#fbe1e1"/></linearGradient>
<linearGradient id="hg240" gradientUnits="userSpaceOnUse" x1="419.8" x2="491.1" y1="0" y2="0"><stop offset="0" stop-color="#fffdfd"/><stop offset="0.08" stop-color="#fdefef"/><stop offset="0.17" stop-color="#fcecec"/><stop offset="0.25" stop-color="#fcecec"/><stop offset="0.33" stop-color="#fcecec"/><stop offset="0.42" stop-color="#fcecec"/><stop offset="0.5" stop-color="#fcecec"/><stop offset="0.58" stop-color="#fcecec"/><stop offset="0.67" stop-color="#fcecec"/><stop offset="0.75" stop-color="#fcecec"/><stop offset="0.83" stop-color="#fcecec"/><stop offset="0.92" stop-color="#fcecec"/><stop offset="1" stop-color="#fcecec"/></linearGradient>
<linearGradient id="dl241" x1="0" x2="0" y1="0" y2="1"><stop offset="0" stop-color="#e5141c"/><stop offset="0.18" stop-color="#e8262d"/><stop offset="0.5" stop-color="#fff"/><stop offset="0.56" stop-color="#fff"/><stop offset="0.85" stop-color="#6dbd5e"/><stop offset="1" stop-color="#3aa637"/></linearGradient>
<linearGradient id="dl242" x1="0" x2="0" y1="0" y2="1"><stop offset="0" stop-color="#e5141c"/><stop offset="0.18" stop-color="#e8262d"/><stop offset="0.5" stop-color="#fff"/><stop offset="0.56" stop-color="#fff"/><stop offset="0.85" stop-color="#6dbd5e"/><stop offset="1" stop-color="#3aa637"/></linearGradient>
<linearGradient id="dl243" x1="0" x2="0" y1="0" y2="1"><stop offset="0" stop-color="#e5141c"/><stop offset="0.18" stop-color="#e8262d"/><stop offset="0.5" stop-color="#fff"/><stop offset="0.56" stop-color="#fff"/><stop offset="0.85" stop-color="#6dbd5e"/><stop offset="1" stop-color="#3aa637"/></linearGradient>
<linearGradient id="ncb" x1="0" x2="1" y1="0" y2="0"><stop offset="0" stop-color="#423896"/><stop offset="0.25" stop-color="#aa9cd2"/><stop offset="0.5" stop-color="#ffffff"/><stop offset="0.75" stop-color="#f8b498"/><stop offset="1" stop-color="#e11e16"/></linearGradient>
<linearGradient id="vir" x1="0" x2="0" y1="1" y2="0"><stop offset="0" stop-color="#440154"/><stop offset="0.25" stop-color="#3b528b"/><stop offset="0.5" stop-color="#21918c"/><stop offset="0.75" stop-color="#5ec962"/><stop offset="1" stop-color="#fde725"/></linearGradient></defs>
<rect width="520" height="686" fill="#fff"/>
<text x="6.8" y="15.2" font-size="11.5" font-weight="bold" fill="#000">A</text>
<rect x="58.9" y="14.6" width="54.8" height="22.3" fill="#fff" stroke="#444" stroke-width="0.7"/>
<text x="64.5" y="23.7" font-size="8.6" fill="#c8102e" stroke="#c8102e" stroke-width="0.12" textLength="30" lengthAdjust="spacingAndGlyphs">Synergy</text>
<text x="64.5" y="33.6" font-size="8.6" fill="#3cb44b" stroke="#3cb44b" stroke-width="0.12" textLength="45.5" lengthAdjust="spacingAndGlyphs">Antagonism</text>
<rect x="57.7" y="42.6" width="22.6" height="17.7" fill="#c8102e"/>
<rect x="80.3" y="42.6" width="21.4" height="17.7" fill="#c8102e"/>
<rect x="101.7" y="42.6" width="23.3" height="17.7" fill="#fff"/>
<rect x="57.7" y="60.3" width="22.6" height="18" fill="#fff"/>
<rect x="80.3" y="60.3" width="21.4" height="18" fill="#c8102e"/>
<rect x="101.7" y="60.3" width="23.3" height="18" fill="#fff"/>
<rect x="57.7" y="78.3" width="22.6" height="16.6" fill="#3bae4a"/>
<rect x="80.3" y="78.3" width="21.4" height="16.6" fill="#3bae4a"/>
<rect x="101.7" y="78.3" width="23.3" height="16.6" fill="#fff"/>
<line x1="80.3" y1="42.6" x2="80.3" y2="94.9" stroke="#1a1a1a" stroke-width="0.9"/>
<line x1="101.7" y1="42.6" x2="101.7" y2="94.9" stroke="#1a1a1a" stroke-width="0.9"/>
<line x1="57.7" y1="60.3" x2="125" y2="60.3" stroke="#1a1a1a" stroke-width="0.9"/>
<line x1="57.7" y1="78.3" x2="125" y2="78.3" stroke="#1a1a1a" stroke-width="0.9"/>
<rect x="57.7" y="42.6" width="67.3" height="52.3" fill="none" stroke="#333" stroke-width="0.9" rx="0.8"/>
<path d="M38.8 42.2 L53.2 42.2 L53.2 95.3 Z" fill="#000"/>
<path d="M57.4 99.4 L125.2 99.6 L125.2 113.6 Z" fill="#000"/>
<text x="24.2" y="63.3" font-size="8.4" text-anchor="middle" font-weight="bold" fill="#111" textLength="16" lengthAdjust="spacingAndGlyphs">JAK</text>
<text x="24.2" y="73" font-size="8.4" text-anchor="middle" font-weight="bold" fill="#111" textLength="32.8" lengthAdjust="spacingAndGlyphs">inhibitor</text>
<text x="24.3" y="81" font-size="6.4" text-anchor="middle" fill="#555" stroke="#555" stroke-width="0.12" textLength="22.6" lengthAdjust="spacingAndGlyphs">(CSF3R)</text>
<text x="81.8" y="118.8" font-size="8.8" text-anchor="middle" font-weight="bold" fill="#111" textLength="55.9" lengthAdjust="spacingAndGlyphs">LSD1 inhibitor</text>
<rect x="177" y="23.9" width="70.1" height="1" fill="url(#hg1)" shape-rendering="crispEdges"/>
<rect x="177" y="24.9" width="70.1" height="1" fill="url(#hg2)" shape-rendering="crispEdges"/>
<rect x="177" y="25.9" width="70.1" height="1" fill="url(#hg3)" shape-rendering="crispEdges"/>
<rect x="177" y="26.9" width="70.1" height="1" fill="url(#hg4)" shape-rendering="crispEdges"/>
<rect x="177" y="27.9" width="70.1" height="1" fill="url(#hg5)" shape-rendering="crispEdges"/>
<rect x="177" y="28.9" width="70.1" height="1" fill="url(#hg6)" shape-rendering="crispEdges"/>
<rect x="177" y="29.9" width="70.1" height="1" fill="url(#hg7)" shape-rendering="crispEdges"/>
<rect x="177" y="30.9" width="70.1" height="1" fill="url(#hg8)" shape-rendering="crispEdges"/>
<rect x="177" y="31.9" width="70.1" height="1" fill="url(#hg9)" shape-rendering="crispEdges"/>
<rect x="177" y="32.9" width="70.1" height="1" fill="url(#hg10)" shape-rendering="crispEdges"/>
<rect x="177" y="33.9" width="70.1" height="1" fill="url(#hg11)" shape-rendering="crispEdges"/>
<rect x="177" y="34.9" width="70.1" height="1" fill="url(#hg12)" shape-rendering="crispEdges"/>
<rect x="177" y="35.9" width="70.1" height="1" fill="url(#hg13)" shape-rendering="crispEdges"/>
<rect x="177" y="36.9" width="70.1" height="1" fill="url(#hg14)" shape-rendering="crispEdges"/>
<rect x="177" y="37.9" width="70.1" height="1" fill="url(#hg15)" shape-rendering="crispEdges"/>
<rect x="177" y="38.9" width="70.1" height="1" fill="url(#hg16)" shape-rendering="crispEdges"/>
<rect x="177" y="39.9" width="70.1" height="1" fill="url(#hg17)" shape-rendering="crispEdges"/>
<rect x="177" y="40.9" width="70.1" height="1" fill="url(#hg18)" shape-rendering="crispEdges"/>
<rect x="177" y="41.9" width="70.1" height="1" fill="url(#hg19)" shape-rendering="crispEdges"/>
<rect x="177" y="42.9" width="70.1" height="1" fill="url(#hg20)" shape-rendering="crispEdges"/>
<rect x="177" y="43.9" width="70.1" height="1" fill="url(#hg21)" shape-rendering="crispEdges"/>
<rect x="177" y="44.9" width="70.1" height="1" fill="url(#hg22)" shape-rendering="crispEdges"/>
<rect x="177" y="45.9" width="70.1" height="1" fill="url(#hg23)" shape-rendering="crispEdges"/>
<rect x="177" y="46.9" width="70.1" height="1" fill="url(#hg24)" shape-rendering="crispEdges"/>
<rect x="177" y="47.9" width="70.1" height="1" fill="url(#hg25)" shape-rendering="crispEdges"/>
<rect x="177" y="48.9" width="70.1" height="1" fill="url(#hg26)" shape-rendering="crispEdges"/>
<rect x="177" y="49.9" width="70.1" height="1" fill="url(#hg27)" shape-rendering="crispEdges"/>
<rect x="177" y="50.9" width="70.1" height="1" fill="url(#hg28)" shape-rendering="crispEdges"/>
<rect x="177" y="51.9" width="70.1" height="1" fill="url(#hg29)" shape-rendering="crispEdges"/>
<rect x="177" y="52.9" width="70.1" height="1" fill="url(#hg30)" shape-rendering="crispEdges"/>
<rect x="177" y="53.9" width="70.1" height="1" fill="url(#hg31)" shape-rendering="crispEdges"/>
<rect x="177" y="54.9" width="70.1" height="1" fill="url(#hg32)" shape-rendering="crispEdges"/>
<rect x="177" y="55.9" width="70.1" height="1" fill="url(#hg33)" shape-rendering="crispEdges"/>
<rect x="177" y="56.9" width="70.1" height="1" fill="url(#hg34)" shape-rendering="crispEdges"/>
<rect x="177" y="57.9" width="70.1" height="1" fill="url(#hg35)" shape-rendering="crispEdges"/>
<rect x="177" y="58.9" width="70.1" height="1" fill="url(#hg36)" shape-rendering="crispEdges"/>
<rect x="177" y="59.9" width="70.1" height="1" fill="url(#hg37)" shape-rendering="crispEdges"/>
<rect x="177" y="60.9" width="70.1" height="1" fill="url(#hg38)" shape-rendering="crispEdges"/>
<rect x="177" y="61.9" width="70.1" height="1" fill="url(#hg39)" shape-rendering="crispEdges"/>
<rect x="177" y="62.9" width="70.1" height="1" fill="url(#hg40)" shape-rendering="crispEdges"/>
<rect x="177" y="63.9" width="70.1" height="1" fill="url(#hg41)" shape-rendering="crispEdges"/>
<rect x="177" y="64.9" width="70.1" height="1" fill="url(#hg42)" shape-rendering="crispEdges"/>
<rect x="177" y="65.9" width="70.1" height="1" fill="url(#hg43)" shape-rendering="crispEdges"/>
<rect x="177" y="66.9" width="70.1" height="1" fill="url(#hg44)" shape-rendering="crispEdges"/>
<rect x="177" y="67.9" width="70.1" height="1" fill="url(#hg45)" shape-rendering="crispEdges"/>
<rect x="177" y="68.9" width="70.1" height="1" fill="url(#hg46)" shape-rendering="crispEdges"/>
<rect x="177" y="69.9" width="70.1" height="1" fill="url(#hg47)" shape-rendering="crispEdges"/>
<rect x="177" y="70.9" width="70.1" height="1" fill="url(#hg48)" shape-rendering="crispEdges"/>
<rect x="177" y="71.9" width="70.1" height="1" fill="url(#hg49)" shape-rendering="crispEdges"/>
<rect x="177" y="72.9" width="70.1" height="1" fill="url(#hg50)" shape-rendering="crispEdges"/>
<rect x="177" y="73.9" width="70.1" height="1" fill="url(#hg51)" shape-rendering="crispEdges"/>
<rect x="177" y="74.9" width="70.1" height="1" fill="url(#hg52)" shape-rendering="crispEdges"/>
<rect x="177" y="75.9" width="70.1" height="1" fill="url(#hg53)" shape-rendering="crispEdges"/>
<rect x="177" y="76.9" width="70.1" height="1" fill="url(#hg54)" shape-rendering="crispEdges"/>
<rect x="177" y="77.9" width="70.1" height="1" fill="url(#hg55)" shape-rendering="crispEdges"/>
<rect x="177" y="78.9" width="70.1" height="1" fill="url(#hg56)" shape-rendering="crispEdges"/>
<rect x="177" y="79.9" width="70.1" height="1" fill="url(#hg57)" shape-rendering="crispEdges"/>
<rect x="177" y="80.9" width="70.1" height="1" fill="url(#hg58)" shape-rendering="crispEdges"/>
<rect x="177" y="81.9" width="70.1" height="1" fill="url(#hg59)" shape-rendering="crispEdges"/>
<rect x="177" y="82.9" width="70.1" height="1" fill="url(#hg60)" shape-rendering="crispEdges"/>
<rect x="177" y="83.9" width="70.1" height="1" fill="url(#hg61)" shape-rendering="crispEdges"/>
<rect x="177" y="84.9" width="70.1" height="1" fill="url(#hg62)" shape-rendering="crispEdges"/>
<rect x="177" y="85.9" width="70.1" height="1" fill="url(#hg63)" shape-rendering="crispEdges"/>
<rect x="177" y="86.9" width="70.1" height="1" fill="url(#hg64)" shape-rendering="crispEdges"/>
<rect x="177" y="87.9" width="70.1" height="1" fill="url(#hg65)" shape-rendering="crispEdges"/>
<rect x="177" y="88.9" width="70.1" height="1" fill="url(#hg66)" shape-rendering="crispEdges"/>
<rect x="177" y="89.9" width="70.1" height="1" fill="url(#hg67)" shape-rendering="crispEdges"/>
<rect x="177" y="90.9" width="70.1" height="1" fill="url(#hg68)" shape-rendering="crispEdges"/>
<rect x="177" y="91.9" width="70.1" height="1" fill="url(#hg69)" shape-rendering="crispEdges"/>
<rect x="177" y="92.9" width="70.1" height="1" fill="url(#hg70)" shape-rendering="crispEdges"/>
<rect x="177" y="93.9" width="70.1" height="1" fill="url(#hg71)" shape-rendering="crispEdges"/>
<rect x="177" y="94.9" width="70.1" height="1" fill="url(#hg72)" shape-rendering="crispEdges"/>
<rect x="177" y="95.9" width="70.1" height="1" fill="url(#hg73)" shape-rendering="crispEdges"/>
<rect x="177" y="96.9" width="70.1" height="1" fill="url(#hg74)" shape-rendering="crispEdges"/>
<rect x="177" y="97.9" width="70.1" height="1" fill="url(#hg75)" shape-rendering="crispEdges"/>
<rect x="177" y="98.9" width="70.1" height="1" fill="url(#hg76)" shape-rendering="crispEdges"/>
<rect x="177" y="99.9" width="70.1" height="1" fill="url(#hg77)" shape-rendering="crispEdges"/>
<rect x="177" y="100.9" width="70.1" height="1" fill="url(#hg78)" shape-rendering="crispEdges"/>
<rect x="177" y="101.9" width="70.1" height="1" fill="url(#hg79)" shape-rendering="crispEdges"/>
<path d="M247.1 80.6 245.5 79.8 244.0 79.0 242.4 78.2 240.8 77.4 239.2 76.6 237.6 75.9 236.1 75.3 234.5 74.8 232.1 74.6 230.6 75.2 229.5 76.6 228.7 78.2 228.2 79.8 227.7 82.2 227.4 83.7 227.1 86.1 226.8 88.5 226.6 90.6 226.3 92.5 225.8 94.1 225.1 96.5 224.4 98.1 223.6 99.7 222.7 100.8 221.1 101.6 219.4 101.3 218.0 100.0 217.2 98.6 216.4 96.7 215.9 94.9 215.5 93.3 215.0 90.9 214.9 88.5 214.8 86.1 214.7 84.5 214.6 82.2 214.4 79.8 214.2 77.4 214.0 75.5 213.8 73.4 213.4 71.0 213.2 69.4 212.7 67.0 212.3 65.4 211.7 63.2 210.9 61.4 210.1 59.9 209.3 58.8 208.1 57.4 206.9 56.2 205.6 55.0 204.6 54.1 203.0 52.9 201.4 51.8 200.3 51.0 199.0 50.2 197.5 49.3 195.9 48.3 194.3 47.4 192.8 46.4 191.2 45.5 189.8 44.6 188.4 43.8 187.1 43.1 185.7 42.2 184.1 41.2 182.5 40.2 180.9 39.3 179.8 38.3 179.1 36.7 178.6 34.7 178.1 32.7 177.7 31.1 177.1 28.7 M247.1 74.5 245.5 73.9 243.9 73.2 242.4 72.5 240.8 71.7 239.2 70.9 237.6 70.0 236.1 69.2 234.5 68.5 232.1 68.0 229.9 68.6 229.0 69.5 228.2 71.0 227.4 73.1 227.0 75.0 226.6 76.6 226.2 79.0 225.9 81.4 225.7 83.0 225.5 85.3 225.3 87.7 225.1 90.1 224.9 91.7 224.3 93.7 223.5 95.7 222.7 97.0 221.4 98.1 219.8 98.1 218.7 97.2 217.8 95.7 217.2 94.1 216.5 91.7 216.3 90.1 216.2 87.7 216.1 85.3 215.9 83.0 215.8 80.6 215.6 78.2 215.5 76.6 215.3 74.2 215.0 71.8 214.8 69.7 214.6 67.8 214.2 65.4 214.0 63.8 213.5 61.4 213.1 59.8 212.4 57.6 211.7 56.0 210.9 54.8 209.7 53.4 208.5 52.4 206.9 51.1 205.7 50.2 204.5 49.4 203.0 48.5 201.4 47.6 199.8 46.7 198.3 45.9 196.7 45.0 195.1 44.2 193.5 43.3 192.0 42.4 190.4 41.5 188.9 40.7 187.5 39.9 186.1 39.1 184.7 38.3 183.3 37.5 181.7 36.6 180.2 35.7 179.4 34.2 178.7 31.9 178.2 30.3 177.7 28.7 177.0 26.3 M247.1 69.8 245.3 69.4 243.2 68.7 241.6 67.9 240.1 67.0 238.9 66.2 237.6 65.3 236.1 64.3 234.5 63.5 232.9 62.9 230.6 62.7 229.0 63.4 228.0 64.6 227.3 66.2 226.6 68.1 226.1 70.2 225.8 71.8 225.4 74.2 225.0 76.1 224.8 78.2 224.5 80.6 224.3 83.0 224.1 84.5 223.9 86.9 223.8 89.3 223.5 91.6 222.7 93.3 221.9 94.4 220.3 95.0 219.1 94.1 218.2 92.5 217.6 90.9 217.5 88.5 217.4 86.1 217.2 83.7 217.1 82.2 217.0 79.8 216.8 77.4 216.6 75.0 216.4 72.7 216.2 71.0 216.0 68.6 215.7 66.2 215.5 64.6 215.3 62.2 215.1 59.8 214.8 57.6 214.5 55.8 214.0 54.1 213.2 52.4 212.2 51.0 210.9 49.8 209.3 48.6 208.0 47.8 206.7 47.0 205.2 46.2 203.7 45.4 202.2 44.6 200.6 43.8 199.0 43.1 197.4 42.3 195.8 41.5 194.3 40.7 192.7 39.9 191.2 39.0 189.6 38.2 188.0 37.3 186.5 36.4 184.9 35.5 183.3 34.7 181.7 33.8 180.2 33.1 179.4 31.6 178.6 29.5 178.0 27.9 177.4 26.3 177.1 23.9 M247.1 66.0 244.7 65.7 243.2 65.3 241.6 64.5 240.0 63.4 238.5 62.2 237.6 61.4 236.1 60.3 234.5 59.3 232.9 58.5 231.3 58.1 229.0 58.1 227.6 59.0 226.7 60.6 226.2 62.2 225.7 63.8 225.2 66.2 224.9 67.8 224.5 70.2 224.2 71.8 223.8 74.2 223.5 76.6 223.3 78.2 223.0 80.6 222.7 83.0 222.5 84.5 222.3 86.9 222.0 89.3 221.9 91.0 220.3 91.8 219.3 90.9 219.1 88.5 218.9 86.1 218.7 84.5 218.6 82.2 218.3 79.8 218.1 77.4 217.9 75.8 217.7 73.4 217.4 71.0 217.2 68.6 217.0 67.0 216.8 64.6 216.7 62.2 216.7 59.8 216.7 57.4 216.7 55.0 216.5 52.6 216.0 51.0 215.1 49.4 214.0 48.3 212.5 47.0 211.2 46.2 209.8 45.4 208.2 44.6 206.6 43.8 205.0 43.1 203.3 42.3 201.5 41.5 199.8 40.7 198.3 39.9 196.7 39.2 195.1 38.4 193.5 37.6 192.0 36.8 190.4 36.0 188.8 35.2 187.2 34.3 185.7 33.5 184.2 32.7 182.5 31.9 180.9 31.3 179.7 30.3 178.9 28.7 178.2 27.1 177.7 25.5 M247.1 62.8 244.7 62.7 242.9 62.2 241.4 61.4 240.0 60.3 238.6 59.0 237.6 58.0 236.1 56.6 235.0 55.8 233.7 55.0 232.1 54.2 230.1 53.4 228.2 53.0 225.8 53.4 225.0 54.2 224.4 56.6 224.3 58.7 224.1 60.6 223.9 63.0 223.6 65.4 223.4 67.0 222.9 69.4 222.7 71.0 222.1 73.4 221.7 75.0 221.1 76.8 220.0 75.8 219.5 74.2 219.1 71.8 218.7 69.8 218.5 67.8 218.3 65.4 218.2 63.0 218.3 60.6 218.6 58.2 218.9 56.6 219.5 54.4 220.0 52.6 219.6 50.2 218.7 48.7 218.0 47.7 216.4 46.3 215.3 45.4 214.0 44.6 212.4 43.8 210.9 43.0 209.2 42.3 207.4 41.5 205.6 40.7 203.8 39.9 202.2 39.2 200.6 38.5 199.1 37.8 197.5 37.1 195.9 36.4 194.3 35.6 192.8 34.8 191.2 34.0 189.6 33.2 188.0 32.4 186.5 31.7 184.9 31.0 182.9 30.3 180.9 29.7 179.5 28.7 178.6 27.1 178.1 25.5 M247.1 59.9 244.7 60.1 243.2 59.7 241.6 58.8 240.0 57.4 239.2 56.6 237.8 55.0 236.9 54.0 235.5 52.6 234.5 51.8 232.9 50.8 231.3 50.0 229.8 49.3 228.1 48.6 225.9 47.8 224.3 47.3 222.7 46.6 221.1 45.7 219.5 44.8 218.0 43.8 216.6 43.1 215.0 42.3 213.4 41.5 211.7 40.7 210.1 40.0 208.5 39.4 206.9 38.7 205.4 38.1 203.8 37.4 202.0 36.7 200.0 35.9 198.3 35.1 196.7 34.4 195.1 33.7 193.5 33.0 192.0 32.3 190.4 31.6 188.8 30.9 187.1 30.3 184.9 29.6 183.3 29.1 181.5 28.7 179.7 27.9 178.8 26.3 178.3 24.7 M247.1 57.2 245.5 57.5 243.8 57.4 242.1 56.6 240.8 55.5 239.7 54.2 238.4 52.7 237.6 51.7 236.4 50.2 235.3 49.2 233.7 48.0 232.1 47.1 230.6 46.3 229.0 45.6 227.4 45.0 225.8 44.4 224.3 43.8 222.6 43.1 220.8 42.3 219.1 41.5 217.4 40.7 215.6 39.9 214.0 39.2 212.4 38.5 210.9 37.9 209.3 37.3 207.7 36.7 205.7 35.9 203.8 35.1 202.2 34.5 200.6 33.9 199.1 33.3 197.5 32.6 195.6 31.9 193.5 31.1 192.0 30.6 190.4 30.0 188.6 29.5 186.5 28.9 184.9 28.5 182.5 28.0 180.9 27.7 179.4 26.7 178.7 24.7 M247.1 54.6 245.5 55.0 243.9 55.0 242.3 54.2 240.8 52.9 240.0 51.8 238.8 50.2 237.6 48.7 236.9 47.7 235.4 46.2 234.4 45.4 232.9 44.5 231.3 43.8 229.7 43.1 227.7 42.3 225.8 41.5 224.3 40.9 222.7 40.3 221.1 39.6 219.5 39.0 217.8 38.3 215.8 37.5 214.0 36.7 212.4 36.1 210.9 35.5 209.3 35.0 207.5 34.3 205.4 33.5 203.8 33.0 202.2 32.4 200.6 31.9 198.3 31.1 196.7 30.6 195.1 30.2 192.8 29.5 191.2 29.1 189.5 28.7 187.2 28.2 185.7 27.8 183.3 27.3 181.7 27.0 179.8 26.3 179.0 24.7 M247.1 51.9 245.0 52.6 243.9 52.6 242.4 51.8 240.9 50.2 240.0 49.1 239.2 47.8 238.0 46.2 236.9 44.8 235.9 43.8 234.5 42.7 232.9 41.8 231.3 41.1 229.8 40.4 228.2 39.8 226.2 39.1 224.3 38.3 222.7 37.7 221.1 37.1 219.5 36.5 217.9 35.9 215.8 35.1 214.0 34.4 212.4 33.8 210.9 33.3 209.1 32.7 206.9 32.0 205.4 31.5 203.8 31.1 201.4 30.5 199.8 30.1 197.5 29.6 195.9 29.2 193.5 28.7 192.0 28.4 189.8 27.9 188.0 27.5 186.0 27.1 184.1 26.7 182.1 26.3 180.2 25.9 179.4 24.4 M247.1 49.3 245.5 50.0 243.2 49.7 241.9 48.6 240.8 47.3 240.0 46.2 239.0 44.6 237.8 43.1 236.9 41.9 235.4 40.7 234.1 39.9 232.6 39.1 230.7 38.3 229.0 37.6 227.4 37.0 225.8 36.4 224.3 35.8 222.2 35.1 220.3 34.4 218.7 33.8 217.2 33.3 215.5 32.7 213.2 32.0 211.7 31.5 210.1 31.1 207.7 30.5 206.1 30.2 203.8 29.7 202.2 29.4 199.8 29.0 198.2 28.7 195.9 28.3 193.7 27.9 192.0 27.6 189.6 27.1 188.0 26.8 185.9 26.3 184.1 25.9 182.5 25.5 180.2 24.9 M247.1 46.4 245.5 47.2 243.4 47.0 242.3 46.2 241.0 44.6 240.0 43.1 239.2 42.0 238.2 40.7 236.9 39.2 235.7 38.3 234.5 37.5 232.9 36.7 231.0 35.9 229.0 35.1 227.4 34.5 225.8 34.0 224.3 33.4 222.1 32.7 220.3 32.1 218.7 31.6 216.7 31.1 214.8 30.6 213.2 30.3 210.9 29.8 209.0 29.5 206.9 29.2 204.6 28.8 203.0 28.6 200.6 28.2 198.3 27.9 196.7 27.7 194.3 27.3 192.8 27.0 190.4 26.5 188.8 26.2 186.5 25.6 184.9 25.1 183.3 24.5 M247.1 43.5 245.5 44.2 243.2 43.8 242.3 43.1 241.1 41.5 240.0 40.0 239.2 38.9 238.0 37.5 236.9 36.4 235.3 35.3 233.7 34.5 232.1 33.8 230.6 33.2 228.9 32.7 226.6 31.9 225.0 31.5 223.5 31.1 221.1 30.5 219.5 30.2 217.2 29.7 215.6 29.5 213.2 29.1 210.9 28.8 209.3 28.6 206.9 28.3 204.6 28.0 203.0 27.8 200.6 27.5 198.3 27.2 196.7 26.9 194.3 26.6 192.8 26.3 190.4 25.7 188.8 25.3 187.0 24.7 M247.1 40.3 245.5 40.9 243.7 40.7 242.4 39.6 241.2 38.3 240.0 36.7 239.2 35.8 237.6 34.3 236.6 33.5 235.1 32.7 233.2 31.9 231.3 31.3 229.8 30.9 227.4 30.3 225.8 30.0 223.5 29.6 221.9 29.3 219.5 29.0 217.4 28.7 215.6 28.5 213.2 28.2 210.9 27.9 209.3 27.7 206.9 27.5 204.6 27.2 203.0 27.1 200.6 26.8 198.3 26.5 196.7 26.2 194.3 25.8 192.8 25.5 190.4 24.8 189.2 23.9" fill="none" stroke="#fff" stroke-width="0.45" opacity="0.4"/>
<line x1="186.94" y1="23.9" x2="186.94" y2="102.9" stroke="#000" stroke-width="0.5" opacity="0.13"/>
<line x1="196.89" y1="23.9" x2="196.89" y2="102.9" stroke="#000" stroke-width="0.5" opacity="0.13"/>
<line x1="206.83" y1="23.9" x2="206.83" y2="102.9" stroke="#000" stroke-width="0.5" opacity="0.13"/>
<line x1="216.77" y1="23.9" x2="216.77" y2="102.9" stroke="#000" stroke-width="0.5" opacity="0.13"/>
<line x1="226.71" y1="23.9" x2="226.71" y2="102.9" stroke="#000" stroke-width="0.5" opacity="0.13"/>
<line x1="236.66" y1="23.9" x2="236.66" y2="102.9" stroke="#000" stroke-width="0.5" opacity="0.13"/>
<line x1="246.6" y1="23.9" x2="246.6" y2="102.9" stroke="#000" stroke-width="0.5" opacity="0.13"/>
<line x1="177" y1="24.9" x2="247.1" y2="24.9" stroke="#000" stroke-width="0.5" opacity="0.13"/>
<line x1="177" y1="36.04" x2="247.1" y2="36.04" stroke="#000" stroke-width="0.5" opacity="0.13"/>
<line x1="177" y1="47.19" x2="247.1" y2="47.19" stroke="#000" stroke-width="0.5" opacity="0.13"/>
<line x1="177" y1="58.33" x2="247.1" y2="58.33" stroke="#000" stroke-width="0.5" opacity="0.13"/>
<line x1="177" y1="69.47" x2="247.1" y2="69.47" stroke="#000" stroke-width="0.5" opacity="0.13"/>
<line x1="177" y1="80.61" x2="247.1" y2="80.61" stroke="#000" stroke-width="0.5" opacity="0.13"/>
<line x1="177" y1="91.76" x2="247.1" y2="91.76" stroke="#000" stroke-width="0.5" opacity="0.13"/>
<line x1="176.4" y1="20.4" x2="176.4" y2="103.5" stroke="#3a3a3a" stroke-width="1.2"/>
<line x1="175.8" y1="103.5" x2="249.1" y2="103.5" stroke="#3a3a3a" stroke-width="1.2"/>
<line x1="173.4" y1="24.9" x2="176.4" y2="24.9" stroke="#3a3a3a" stroke-width="0.8"/>
<text x="170.8" y="27.1" font-size="6.3" text-anchor="end" fill="#2a2a2a" stroke="#2a2a2a" stroke-width="0.12" textLength="12.8" lengthAdjust="spacingAndGlyphs">1000</text>
<line x1="173.4" y1="36.04" x2="176.4" y2="36.04" stroke="#3a3a3a" stroke-width="0.8"/>
<text x="170.8" y="38.24" font-size="6.3" text-anchor="end" fill="#2a2a2a" stroke="#2a2a2a" stroke-width="0.12" textLength="9.6" lengthAdjust="spacingAndGlyphs">333</text>
<line x1="173.4" y1="47.19" x2="176.4" y2="47.19" stroke="#3a3a3a" stroke-width="0.8"/>
<text x="170.8" y="49.39" font-size="6.3" text-anchor="end" fill="#2a2a2a" stroke="#2a2a2a" stroke-width="0.12" textLength="9.6" lengthAdjust="spacingAndGlyphs">112</text>
<line x1="173.4" y1="58.33" x2="176.4" y2="58.33" stroke="#3a3a3a" stroke-width="0.8"/>
<text x="170.8" y="60.53" font-size="6.3" text-anchor="end" fill="#2a2a2a" stroke="#2a2a2a" stroke-width="0.12" textLength="6.4" lengthAdjust="spacingAndGlyphs">37</text>
<line x1="173.4" y1="69.47" x2="176.4" y2="69.47" stroke="#3a3a3a" stroke-width="0.8"/>
<text x="170.8" y="71.67" font-size="6.3" text-anchor="end" fill="#2a2a2a" stroke="#2a2a2a" stroke-width="0.12" textLength="6.4" lengthAdjust="spacingAndGlyphs">12</text>
<line x1="173.4" y1="80.61" x2="176.4" y2="80.61" stroke="#3a3a3a" stroke-width="0.8"/>
<text x="170.8" y="82.81" font-size="6.3" text-anchor="end" fill="#2a2a2a" stroke="#2a2a2a" stroke-width="0.12">4</text>
<line x1="173.4" y1="91.76" x2="176.4" y2="91.76" stroke="#3a3a3a" stroke-width="0.8"/>
<text x="170.8" y="93.96" font-size="6.3" text-anchor="end" fill="#2a2a2a" stroke="#2a2a2a" stroke-width="0.12" textLength="9.6" lengthAdjust="spacingAndGlyphs">1.2</text>
<line x1="173.4" y1="102.9" x2="176.4" y2="102.9" stroke="#3a3a3a" stroke-width="0.8"/>
<text x="170.8" y="105.1" font-size="6.3" text-anchor="end" fill="#2a2a2a" stroke="#2a2a2a" stroke-width="0.12">0</text>
<line x1="177" y1="103.5" x2="177" y2="106.1" stroke="#3a3a3a" stroke-width="0.8"/>
<text x="177" y="114" font-size="6.4" text-anchor="middle" fill="#2a2a2a" stroke="#2a2a2a" stroke-width="0.12">0</text>
<line x1="186.94" y1="103.5" x2="186.94" y2="106.1" stroke="#3a3a3a" stroke-width="0.8"/>
<text x="186.94" y="114" font-size="6.4" text-anchor="middle" fill="#2a2a2a" stroke="#2a2a2a" stroke-width="0.12" textLength="5.5" lengthAdjust="spacingAndGlyphs">1.4</text>
<line x1="196.89" y1="103.5" x2="196.89" y2="106.1" stroke="#3a3a3a" stroke-width="0.8"/>
<text x="196.89" y="114" font-size="6.4" text-anchor="middle" fill="#2a2a2a" stroke="#2a2a2a" stroke-width="0.12">4</text>
<line x1="206.83" y1="103.5" x2="206.83" y2="106.1" stroke="#3a3a3a" stroke-width="0.8"/>
<text x="206.83" y="114" font-size="6.4" text-anchor="middle" fill="#2a2a2a" stroke="#2a2a2a" stroke-width="0.12" textLength="4.8" lengthAdjust="spacingAndGlyphs">12</text>
<line x1="216.77" y1="103.5" x2="216.77" y2="106.1" stroke="#3a3a3a" stroke-width="0.8"/>
<text x="216.77" y="114" font-size="6.4" text-anchor="middle" fill="#2a2a2a" stroke="#2a2a2a" stroke-width="0.12" textLength="5.2" lengthAdjust="spacingAndGlyphs">37</text>
<line x1="226.71" y1="103.5" x2="226.71" y2="106.1" stroke="#3a3a3a" stroke-width="0.8"/>
<text x="226.71" y="114" font-size="6.4" text-anchor="middle" fill="#2a2a2a" stroke="#2a2a2a" stroke-width="0.12" textLength="8" lengthAdjust="spacingAndGlyphs">112</text>
<line x1="236.66" y1="103.5" x2="236.66" y2="106.1" stroke="#3a3a3a" stroke-width="0.8"/>
<text x="236.66" y="114" font-size="6.4" text-anchor="middle" fill="#2a2a2a" stroke="#2a2a2a" stroke-width="0.12" textLength="8.8" lengthAdjust="spacingAndGlyphs">333</text>
<line x1="246.6" y1="103.5" x2="246.6" y2="106.1" stroke="#3a3a3a" stroke-width="0.8"/>
<text x="246.6" y="114" font-size="6.4" text-anchor="middle" fill="#2a2a2a" stroke="#2a2a2a" stroke-width="0.12" textLength="12.3" lengthAdjust="spacingAndGlyphs">1000</text>
<text x="212.9" y="15" font-size="8.6" text-anchor="middle" fill="#1a1a1a" stroke="#1a1a1a" stroke-width="0.12" textLength="70.8" lengthAdjust="spacingAndGlyphs">Delta score 14.855</text>
<text x="213.4" y="127" font-size="9.6" text-anchor="middle" fill="#1a1a1a" stroke="#1a1a1a" stroke-width="0.12" textLength="63.2" lengthAdjust="spacingAndGlyphs">GSK2879552 (nM)</text>
<rect x="216.4" y="24.9" width="20.2" height="22.5" fill="none" stroke="#000" stroke-width="1.5"/>
<text x="151.7" y="63.9" font-size="8.6" text-anchor="middle" fill="#1a1a1a" stroke="#1a1a1a" stroke-width="0.12" textLength="55" lengthAdjust="spacingAndGlyphs" transform="rotate(-90 151.7 63.9)">Ruxolitinib (nM)</text>
<rect x="299.2" y="22.9" width="68.3" height="1" fill="url(#hg80)" shape-rendering="crispEdges"/>
<rect x="299.2" y="23.9" width="68.3" height="1" fill="url(#hg81)" shape-rendering="crispEdges"/>
<rect x="299.2" y="24.9" width="68.3" height="1" fill="url(#hg82)" shape-rendering="crispEdges"/>
<rect x="299.2" y="25.9" width="68.3" height="1" fill="url(#hg83)" shape-rendering="crispEdges"/>
<rect x="299.2" y="26.9" width="68.3" height="1" fill="url(#hg84)" shape-rendering="crispEdges"/>
<rect x="299.2" y="27.9" width="68.3" height="1" fill="url(#hg85)" shape-rendering="crispEdges"/>
<rect x="299.2" y="28.9" width="68.3" height="1" fill="url(#hg86)" shape-rendering="crispEdges"/>
<rect x="299.2" y="29.9" width="68.3" height="1" fill="url(#hg87)" shape-rendering="crispEdges"/>
<rect x="299.2" y="30.9" width="68.3" height="1" fill="url(#hg88)" shape-rendering="crispEdges"/>
<rect x="299.2" y="31.9" width="68.3" height="1" fill="url(#hg89)" shape-rendering="crispEdges"/>
<rect x="299.2" y="32.9" width="68.3" height="1" fill="url(#hg90)" shape-rendering="crispEdges"/>
<rect x="299.2" y="33.9" width="68.3" height="1" fill="url(#hg91)" shape-rendering="crispEdges"/>
<rect x="299.2" y="34.9" width="68.3" height="1" fill="url(#hg92)" shape-rendering="crispEdges"/>
<rect x="299.2" y="35.9" width="68.3" height="1" fill="url(#hg93)" shape-rendering="crispEdges"/>
<rect x="299.2" y="36.9" width="68.3" height="1" fill="url(#hg94)" shape-rendering="crispEdges"/>
<rect x="299.2" y="37.9" width="68.3" height="1" fill="url(#hg95)" shape-rendering="crispEdges"/>
<rect x="299.2" y="38.9" width="68.3" height="1" fill="url(#hg96)" shape-rendering="crispEdges"/>
<rect x="299.2" y="39.9" width="68.3" height="1" fill="url(#hg97)" shape-rendering="crispEdges"/>
<rect x="299.2" y="40.9" width="68.3" height="1" fill="url(#hg98)" shape-rendering="crispEdges"/>
<rect x="299.2" y="41.9" width="68.3" height="1" fill="url(#hg99)" shape-rendering="crispEdges"/>
<rect x="299.2" y="42.9" width="68.3" height="1" fill="url(#hg100)" shape-rendering="crispEdges"/>
<rect x="299.2" y="43.9" width="68.3" height="1" fill="url(#hg101)" shape-rendering="crispEdges"/>
<rect x="299.2" y="44.9" width="68.3" height="1" fill="url(#hg102)" shape-rendering="crispEdges"/>
<rect x="299.2" y="45.9" width="68.3" height="1" fill="url(#hg103)" shape-rendering="crispEdges"/>
<rect x="299.2" y="46.9" width="68.3" height="1" fill="url(#hg104)" shape-rendering="crispEdges"/>
<rect x="299.2" y="47.9" width="68.3" height="1" fill="url(#hg105)" shape-rendering="crispEdges"/>
<rect x="299.2" y="48.9" width="68.3" height="1" fill="url(#hg106)" shape-rendering="crispEdges"/>
<rect x="299.2" y="49.9" width="68.3" height="1" fill="url(#hg107)" shape-rendering="crispEdges"/>
<rect x="299.2" y="50.9" width="68.3" height="1" fill="url(#hg108)" shape-rendering="crispEdges"/>
<rect x="299.2" y="51.9" width="68.3" height="1" fill="url(#hg109)" shape-rendering="crispEdges"/>
<rect x="299.2" y="52.9" width="68.3" height="1" fill="url(#hg110)" shape-rendering="crispEdges"/>
<rect x="299.2" y="53.9" width="68.3" height="1" fill="url(#hg111)" shape-rendering="crispEdges"/>
<rect x="299.2" y="54.9" width="68.3" height="1" fill="url(#hg112)" shape-rendering="crispEdges"/>
<rect x="299.2" y="55.9" width="68.3" height="1" fill="url(#hg113)" shape-rendering="crispEdges"/>
<rect x="299.2" y="56.9" width="68.3" height="1" fill="url(#hg114)" shape-rendering="crispEdges"/>
<rect x="299.2" y="57.9" width="68.3" height="1" fill="url(#hg115)" shape-rendering="crispEdges"/>
<rect x="299.2" y="58.9" width="68.3" height="1" fill="url(#hg116)" shape-rendering="crispEdges"/>
<rect x="299.2" y="59.9" width="68.3" height="1" fill="url(#hg117)" shape-rendering="crispEdges"/>
<rect x="299.2" y="60.9" width="68.3" height="1" fill="url(#hg118)" shape-rendering="crispEdges"/>
<rect x="299.2" y="61.9" width="68.3" height="1" fill="url(#hg119)" shape-rendering="crispEdges"/>
<rect x="299.2" y="62.9" width="68.3" height="1" fill="url(#hg120)" shape-rendering="crispEdges"/>
<rect x="299.2" y="63.9" width="68.3" height="1" fill="url(#hg121)" shape-rendering="crispEdges"/>
<rect x="299.2" y="64.9" width="68.3" height="1" fill="url(#hg122)" shape-rendering="crispEdges"/>
<rect x="299.2" y="65.9" width="68.3" height="1" fill="url(#hg123)" shape-rendering="crispEdges"/>
<rect x="299.2" y="66.9" width="68.3" height="1" fill="url(#hg124)" shape-rendering="crispEdges"/>
<rect x="299.2" y="67.9" width="68.3" height="1" fill="url(#hg125)" shape-rendering="crispEdges"/>
<rect x="299.2" y="68.9" width="68.3" height="1" fill="url(#hg126)" shape-rendering="crispEdges"/>
<rect x="299.2" y="69.9" width="68.3" height="1" fill="url(#hg127)" shape-rendering="crispEdges"/>
<rect x="299.2" y="70.9" width="68.3" height="1" fill="url(#hg128)" shape-rendering="crispEdges"/>
<rect x="299.2" y="71.9" width="68.3" height="1" fill="url(#hg129)" shape-rendering="crispEdges"/>
<rect x="299.2" y="72.9" width="68.3" height="1" fill="url(#hg130)" shape-rendering="crispEdges"/>
<rect x="299.2" y="73.9" width="68.3" height="1" fill="url(#hg131)" shape-rendering="crispEdges"/>
<rect x="299.2" y="74.9" width="68.3" height="1" fill="url(#hg132)" shape-rendering="crispEdges"/>
<rect x="299.2" y="75.9" width="68.3" height="1" fill="url(#hg133)" shape-rendering="crispEdges"/>
<rect x="299.2" y="76.9" width="68.3" height="1" fill="url(#hg134)" shape-rendering="crispEdges"/>
<rect x="299.2" y="77.9" width="68.3" height="1" fill="url(#hg135)" shape-rendering="crispEdges"/>
<rect x="299.2" y="78.9" width="68.3" height="1" fill="url(#hg136)" shape-rendering="crispEdges"/>
<rect x="299.2" y="79.9" width="68.3" height="1" fill="url(#hg137)" shape-rendering="crispEdges"/>
<rect x="299.2" y="80.9" width="68.3" height="1" fill="url(#hg138)" shape-rendering="crispEdges"/>
<rect x="299.2" y="81.9" width="68.3" height="1" fill="url(#hg139)" shape-rendering="crispEdges"/>
<rect x="299.2" y="82.9" width="68.3" height="1" fill="url(#hg140)" shape-rendering="crispEdges"/>
<rect x="299.2" y="83.9" width="68.3" height="1" fill="url(#hg141)" shape-rendering="crispEdges"/>
<rect x="299.2" y="84.9" width="68.3" height="1" fill="url(#hg142)" shape-rendering="crispEdges"/>
<rect x="299.2" y="85.9" width="68.3" height="1" fill="url(#hg143)" shape-rendering="crispEdges"/>
<rect x="299.2" y="86.9" width="68.3" height="1" fill="url(#hg144)" shape-rendering="crispEdges"/>
<rect x="299.2" y="87.9" width="68.3" height="1" fill="url(#hg145)" shape-rendering="crispEdges"/>
<rect x="299.2" y="88.9" width="68.3" height="1" fill="url(#hg146)" shape-rendering="crispEdges"/>
<rect x="299.2" y="89.9" width="68.3" height="1" fill="url(#hg147)" shape-rendering="crispEdges"/>
<rect x="299.2" y="90.9" width="68.3" height="1" fill="url(#hg148)" shape-rendering="crispEdges"/>
<rect x="299.2" y="91.9" width="68.3" height="1" fill="url(#hg149)" shape-rendering="crispEdges"/>
<rect x="299.2" y="92.9" width="68.3" height="1" fill="url(#hg150)" shape-rendering="crispEdges"/>
<rect x="299.2" y="93.9" width="68.3" height="1" fill="url(#hg151)" shape-rendering="crispEdges"/>
<rect x="299.2" y="94.9" width="68.3" height="1" fill="url(#hg152)" shape-rendering="crispEdges"/>
<rect x="299.2" y="95.9" width="68.3" height="1" fill="url(#hg153)" shape-rendering="crispEdges"/>
<rect x="299.2" y="96.9" width="68.3" height="1" fill="url(#hg154)" shape-rendering="crispEdges"/>
<rect x="299.2" y="97.9" width="68.3" height="1" fill="url(#hg155)" shape-rendering="crispEdges"/>
<rect x="299.2" y="98.9" width="68.3" height="1" fill="url(#hg156)" shape-rendering="crispEdges"/>
<rect x="299.2" y="99.9" width="68.3" height="1" fill="url(#hg157)" shape-rendering="crispEdges"/>
<rect x="299.2" y="100.9" width="68.3" height="1" fill="url(#hg158)" shape-rendering="crispEdges"/>
<rect x="299.2" y="101.9" width="68.3" height="1" fill="url(#hg159)" shape-rendering="crispEdges"/>
<rect x="299.2" y="102.9" width="68.3" height="0.1" fill="url(#hg160)" shape-rendering="crispEdges"/>
<path d="M367.5 100.6 365.2 100.6 362.9 100.6 360.6 100.6 358.3 100.6 356.0 100.6 353.7 100.6 351.4 100.6 349.1 100.6 346.8 100.6 344.5 100.6 342.2 100.6 339.9 100.6 337.6 100.6 335.3 100.6 333.0 100.7 330.7 100.7 328.4 100.7 326.1 100.7 323.8 100.7 321.5 100.6 319.2 100.6 317.6 100.5 315.3 100.4 313.0 100.1 311.2 99.8 309.2 99.2 307.6 98.6 306.1 97.5 305.2 96.5 304.1 94.9 303.8 93.3 303.5 90.9 303.4 88.4 303.3 86.0 303.3 83.6 303.3 81.2 303.3 78.7 303.4 76.3 303.6 73.9 303.8 71.8 304.3 69.8 304.9 68.2 305.9 66.6 306.9 65.6 308.4 64.2 309.2 63.4 310.4 61.7 311.2 60.1 311.6 58.5 311.6 56.1 311.1 54.5 310.3 52.8 309.2 51.4 308.2 50.4 306.9 49.2 305.7 48.0 304.7 46.4 304.1 44.7 303.8 43.1 303.5 40.7 303.4 38.3 303.5 35.8 303.8 33.4 304.2 31.8 304.8 30.2 305.6 28.6 306.9 27.0 307.6 26.1 309.0 24.5 309.5 22.9 M344.1 22.9 344.5 24.8 345.3 26.1 346.8 27.5 348.3 28.3 349.8 28.8 352.2 29.2 354.5 29.0 356.2 28.6 357.8 27.8 359.1 26.8 360.2 25.3 360.7 23.7 M367.5 97.9 365.2 97.9 362.9 97.9 360.6 97.9 358.3 97.9 356.0 97.9 353.7 97.9 351.4 97.9 349.1 97.9 346.8 97.9 344.5 97.9 342.2 98.0 339.9 98.0 337.6 98.0 335.3 98.0 333.0 98.1 330.7 98.1 328.7 98.1 326.8 98.2 325.1 98.1 323.0 98.1 320.7 98.0 318.4 97.9 316.1 97.7 313.8 97.4 312.2 97.1 310.2 96.5 308.4 95.8 307.0 94.9 306.6 93.3 306.2 90.9 306.0 89.2 305.9 86.8 305.9 84.4 305.9 82.0 305.9 79.5 306.0 77.1 306.1 75.4 306.6 73.1 307.2 71.4 308.3 69.8 309.2 68.9 310.7 67.5 311.6 66.6 313.0 65.0 313.8 63.8 314.5 62.4 315.3 60.1 315.6 58.5 315.5 56.1 315.2 54.5 314.5 52.6 313.8 51.1 312.7 49.6 311.5 48.3 310.2 47.2 309.2 46.3 307.6 44.8 306.9 43.6 306.1 41.6 305.8 39.9 305.8 37.5 306.1 35.3 306.8 33.4 307.6 32.3 309.2 31.1 310.7 30.5 312.2 29.9 313.8 29.4 316.1 28.6 317.6 28.0 319.2 27.3 320.7 26.5 320.9 24.5 320.1 22.9 M339.5 22.9 339.3 25.3 340.2 26.9 341.4 27.9 342.9 28.9 344.5 29.7 346.0 30.4 347.6 31.0 349.8 31.7 351.4 32.0 353.7 32.2 356.0 31.9 357.5 31.5 359.1 30.9 360.6 30.1 362.1 28.9 363.2 27.8 364.2 26.1 364.8 24.5 M367.5 96.6 365.2 96.6 362.9 96.6 360.6 96.6 358.3 96.6 356.0 96.6 353.7 96.6 351.4 96.6 349.1 96.6 346.8 96.6 344.5 96.6 342.2 96.6 339.9 96.7 337.6 96.7 335.3 96.8 333.0 96.8 330.7 96.9 328.4 96.9 326.1 96.9 323.8 96.9 321.5 96.8 319.2 96.7 317.3 96.5 315.3 96.3 313.0 95.9 311.5 95.5 309.7 94.9 309.2 92.7 308.9 90.9 308.9 88.4 309.2 86.2 309.4 84.4 309.6 82.0 309.4 79.5 309.3 77.1 309.7 74.7 310.4 73.1 311.5 71.6 312.2 70.6 313.6 69.0 314.5 67.9 315.5 66.6 316.5 65.0 317.3 63.4 317.8 61.7 318.3 59.3 318.4 57.7 318.3 56.1 317.9 53.6 317.3 52.0 316.6 50.4 315.6 48.8 314.5 47.5 313.4 46.4 312.2 45.3 310.7 44.1 309.7 43.1 308.4 41.5 307.9 39.9 307.8 37.5 308.4 35.7 309.9 34.2 311.5 33.5 313.0 33.0 314.5 32.6 316.9 32.0 318.4 31.7 320.7 31.4 323.0 31.2 324.7 31.0 326.8 30.7 329.1 30.4 330.9 30.2 333.0 29.9 335.3 29.5 337.6 29.4 339.9 29.8 341.4 30.2 343.5 31.0 345.2 31.6 346.8 32.2 348.3 32.8 350.2 33.4 352.2 34.0 354.5 34.1 356.8 33.9 358.6 33.4 360.6 32.7 362.1 31.9 363.5 31.0 364.5 30.2 365.9 28.6 366.7 27.3 367.5 25.5 M358.4 75.5 360.5 74.7 361.4 73.8 362.1 72.3 362.2 69.8 361.4 68.2 360.6 67.3 359.1 66.6 356.9 66.6 355.3 67.4 354.5 68.3 353.7 70.2 353.7 71.9 354.5 73.7 355.4 74.7 357.4 75.5 358.4 75.5 M367.5 95.2 365.2 95.2 362.9 95.2 360.6 95.2 358.3 95.2 356.0 95.2 353.7 95.2 351.4 95.2 349.1 95.2 346.8 95.2 344.5 95.2 342.2 95.3 339.9 95.3 337.6 95.4 335.3 95.5 333.0 95.6 330.7 95.7 328.4 95.7 326.1 95.7 323.8 95.7 321.5 95.6 319.2 95.4 316.9 95.1 315.4 94.1 315.3 92.5 315.3 90.9 315.8 88.4 316.3 86.8 316.9 85.2 317.6 82.8 317.9 81.2 318.2 78.7 318.4 76.3 318.7 74.7 319.3 73.1 320.0 71.4 320.9 69.8 321.6 68.2 322.3 66.6 322.9 64.2 323.1 62.5 323.1 60.1 323.0 58.5 322.7 56.1 322.2 53.7 321.8 52.0 321.4 50.4 320.7 48.5 319.9 46.8 319.2 45.3 318.4 43.9 317.4 42.3 316.8 40.7 316.9 39.1 318.4 37.5 319.7 36.7 321.1 35.8 322.6 35.0 324.1 34.2 325.7 33.4 327.6 32.7 329.1 32.3 331.4 31.9 333.0 31.7 335.3 31.5 337.6 31.5 339.9 31.7 341.4 32.1 343.3 32.6 345.2 33.3 346.8 33.9 348.3 34.6 349.8 35.4 351.4 36.2 352.9 36.8 355.2 37.1 357.5 36.9 359.1 36.6 361.4 36.2 362.9 35.8 365.2 35.2 366.7 34.6 M360.3 80.3 362.1 79.7 363.5 78.7 364.5 77.9 365.7 76.3 366.6 74.7 367.1 73.1 367.3 70.6 366.9 68.2 366.3 66.6 365.2 65.0 364.4 64.1 362.9 62.9 361.4 62.2 359.1 61.7 357.7 61.7 356.0 62.0 354.5 62.6 352.9 63.5 351.4 64.9 350.6 65.9 349.7 67.4 349.1 69.5 348.8 71.4 349.1 73.4 349.8 75.5 350.6 76.9 351.5 77.9 352.9 79.1 354.5 80.0 356.0 80.5 358.3 80.7 360.3 80.3 M367.5 50.9 366.1 52.0 364.4 52.8 362.9 53.3 360.6 53.6 358.3 53.4 356.0 52.9 354.5 52.6 352.4 52.8 351.4 53.7 350.3 55.3 349.1 56.9 348.3 57.8 346.8 58.8 345.2 59.5 342.9 60.0 341.3 60.1 339.1 60.3 336.8 60.3 334.5 60.2 333.0 60.0 330.7 59.5 329.1 58.6 328.1 57.7 327.1 56.1 326.5 54.5 326.1 52.3 325.8 50.4 325.5 48.0 325.4 45.6 325.4 43.1 325.5 40.7 326.0 38.3 326.7 36.7 327.6 35.5 329.1 34.5 330.7 33.9 333.0 33.5 334.5 33.3 336.8 33.3 338.3 33.4 340.6 33.8 342.5 34.2 344.5 34.9 346.0 35.6 347.5 36.6 348.6 37.5 349.8 38.9 350.7 39.9 352.2 41.4 353.7 41.8 355.3 41.5 357.5 41.0 359.8 40.7 361.4 40.7 362.9 40.8 365.2 41.5 366.7 42.3 M341.4 56.1 339.1 56.3 336.8 56.3 334.5 56.2 333.0 55.9 331.4 55.2 330.0 53.6 329.3 52.0 328.9 50.4 328.7 48.0 328.6 45.6 328.6 43.1 328.9 40.7 329.3 39.1 330.2 37.5 331.4 36.5 333.3 35.8 335.3 35.7 337.6 35.8 339.1 35.9 341.4 36.4 342.9 37.0 344.5 37.7 346.0 39.0 346.8 40.2 347.5 41.9 348.1 43.9 348.4 45.6 348.4 48.0 348.1 49.6 347.5 51.4 346.8 53.1 345.6 54.5 344.5 55.3 342.2 56.0 M361.4 47.6 359.1 47.2 360.6 46.0 361.7 47.2" fill="none" stroke="#fff" stroke-width="0.45" opacity="0.4"/>
<line x1="308.89" y1="22.9" x2="308.89" y2="103" stroke="#000" stroke-width="0.5" opacity="0.13"/>
<line x1="318.57" y1="22.9" x2="318.57" y2="103" stroke="#000" stroke-width="0.5" opacity="0.13"/>
<line x1="328.26" y1="22.9" x2="328.26" y2="103" stroke="#000" stroke-width="0.5" opacity="0.13"/>
<line x1="337.94" y1="22.9" x2="337.94" y2="103" stroke="#000" stroke-width="0.5" opacity="0.13"/>
<line x1="347.63" y1="22.9" x2="347.63" y2="103" stroke="#000" stroke-width="0.5" opacity="0.13"/>
<line x1="357.31" y1="22.9" x2="357.31" y2="103" stroke="#000" stroke-width="0.5" opacity="0.13"/>
<line x1="367" y1="22.9" x2="367" y2="103" stroke="#000" stroke-width="0.5" opacity="0.13"/>
<line x1="299.2" y1="23.9" x2="367.5" y2="23.9" stroke="#000" stroke-width="0.5" opacity="0.13"/>
<line x1="299.2" y1="35.2" x2="367.5" y2="35.2" stroke="#000" stroke-width="0.5" opacity="0.13"/>
<line x1="299.2" y1="46.5" x2="367.5" y2="46.5" stroke="#000" stroke-width="0.5" opacity="0.13"/>
<line x1="299.2" y1="57.8" x2="367.5" y2="57.8" stroke="#000" stroke-width="0.5" opacity="0.13"/>
<line x1="299.2" y1="69.1" x2="367.5" y2="69.1" stroke="#000" stroke-width="0.5" opacity="0.13"/>
<line x1="299.2" y1="80.4" x2="367.5" y2="80.4" stroke="#000" stroke-width="0.5" opacity="0.13"/>
<line x1="299.2" y1="91.7" x2="367.5" y2="91.7" stroke="#000" stroke-width="0.5" opacity="0.13"/>
<line x1="298.6" y1="19.4" x2="298.6" y2="103.6" stroke="#3a3a3a" stroke-width="1.2"/>
<line x1="298" y1="103.6" x2="369.5" y2="103.6" stroke="#3a3a3a" stroke-width="1.2"/>
<line x1="295.6" y1="23.9" x2="298.6" y2="23.9" stroke="#3a3a3a" stroke-width="0.8"/>
<text x="293" y="26.1" font-size="6.3" text-anchor="end" fill="#2a2a2a" stroke="#2a2a2a" stroke-width="0.12" textLength="12.8" lengthAdjust="spacingAndGlyphs">1000</text>
<line x1="295.6" y1="35.2" x2="298.6" y2="35.2" stroke="#3a3a3a" stroke-width="0.8"/>
<text x="293" y="37.4" font-size="6.3" text-anchor="end" fill="#2a2a2a" stroke="#2a2a2a" stroke-width="0.12" textLength="9.6" lengthAdjust="spacingAndGlyphs">333</text>
<line x1="295.6" y1="46.5" x2="298.6" y2="46.5" stroke="#3a3a3a" stroke-width="0.8"/>
<text x="293" y="48.7" font-size="6.3" text-anchor="end" fill="#2a2a2a" stroke="#2a2a2a" stroke-width="0.12" textLength="9.6" lengthAdjust="spacingAndGlyphs">112</text>
<line x1="295.6" y1="57.8" x2="298.6" y2="57.8" stroke="#3a3a3a" stroke-width="0.8"/>
<text x="293" y="60" font-size="6.3" text-anchor="end" fill="#2a2a2a" stroke="#2a2a2a" stroke-width="0.12" textLength="6.4" lengthAdjust="spacingAndGlyphs">37</text>
<line x1="295.6" y1="69.1" x2="298.6" y2="69.1" stroke="#3a3a3a" stroke-width="0.8"/>
<text x="293" y="71.3" font-size="6.3" text-anchor="end" fill="#2a2a2a" stroke="#2a2a2a" stroke-width="0.12" textLength="6.4" lengthAdjust="spacingAndGlyphs">12</text>
<line x1="295.6" y1="80.4" x2="298.6" y2="80.4" stroke="#3a3a3a" stroke-width="0.8"/>
<text x="293" y="82.6" font-size="6.3" text-anchor="end" fill="#2a2a2a" stroke="#2a2a2a" stroke-width="0.12">4</text>
<line x1="295.6" y1="91.7" x2="298.6" y2="91.7" stroke="#3a3a3a" stroke-width="0.8"/>
<text x="293" y="93.9" font-size="6.3" text-anchor="end" fill="#2a2a2a" stroke="#2a2a2a" stroke-width="0.12" textLength="9.6" lengthAdjust="spacingAndGlyphs">1.2</text>
<line x1="295.6" y1="103" x2="298.6" y2="103" stroke="#3a3a3a" stroke-width="0.8"/>
<text x="293" y="105.2" font-size="6.3" text-anchor="end" fill="#2a2a2a" stroke="#2a2a2a" stroke-width="0.12">0</text>
<line x1="299.2" y1="103.6" x2="299.2" y2="106.2" stroke="#3a3a3a" stroke-width="0.8"/>
<text x="299.2" y="114.1" font-size="6.4" text-anchor="middle" fill="#2a2a2a" stroke="#2a2a2a" stroke-width="0.12">0</text>
<line x1="308.89" y1="103.6" x2="308.89" y2="106.2" stroke="#3a3a3a" stroke-width="0.8"/>
<text x="308.89" y="114.1" font-size="6.4" text-anchor="middle" fill="#2a2a2a" stroke="#2a2a2a" stroke-width="0.12" textLength="5.5" lengthAdjust="spacingAndGlyphs">1.4</text>
<line x1="318.57" y1="103.6" x2="318.57" y2="106.2" stroke="#3a3a3a" stroke-width="0.8"/>
<text x="318.57" y="114.1" font-size="6.4" text-anchor="middle" fill="#2a2a2a" stroke="#2a2a2a" stroke-width="0.12">4</text>
<line x1="328.26" y1="103.6" x2="328.26" y2="106.2" stroke="#3a3a3a" stroke-width="0.8"/>
<text x="328.26" y="114.1" font-size="6.4" text-anchor="middle" fill="#2a2a2a" stroke="#2a2a2a" stroke-width="0.12" textLength="4.8" lengthAdjust="spacingAndGlyphs">12</text>
<line x1="337.94" y1="103.6" x2="337.94" y2="106.2" stroke="#3a3a3a" stroke-width="0.8"/>
<text x="337.94" y="114.1" font-size="6.4" text-anchor="middle" fill="#2a2a2a" stroke="#2a2a2a" stroke-width="0.12" textLength="5.2" lengthAdjust="spacingAndGlyphs">37</text>
<line x1="347.63" y1="103.6" x2="347.63" y2="106.2" stroke="#3a3a3a" stroke-width="0.8"/>
<text x="347.63" y="114.1" font-size="6.4" text-anchor="middle" fill="#2a2a2a" stroke="#2a2a2a" stroke-width="0.12" textLength="8" lengthAdjust="spacingAndGlyphs">112</text>
<line x1="357.31" y1="103.6" x2="357.31" y2="106.2" stroke="#3a3a3a" stroke-width="0.8"/>
<text x="357.31" y="114.1" font-size="6.4" text-anchor="middle" fill="#2a2a2a" stroke="#2a2a2a" stroke-width="0.12" textLength="8.8" lengthAdjust="spacingAndGlyphs">333</text>
<line x1="367" y1="103.6" x2="367" y2="106.2" stroke="#3a3a3a" stroke-width="0.8"/>
<text x="367" y="114.1" font-size="6.4" text-anchor="middle" fill="#2a2a2a" stroke="#2a2a2a" stroke-width="0.12" textLength="12.3" lengthAdjust="spacingAndGlyphs">1000</text>
<text x="334.4" y="15" font-size="8.6" text-anchor="middle" fill="#1a1a1a" stroke="#1a1a1a" stroke-width="0.12" textLength="70.8" lengthAdjust="spacingAndGlyphs">Delta score 20.158</text>
<text x="335.1" y="127" font-size="9.6" text-anchor="middle" fill="#1a1a1a" stroke="#1a1a1a" stroke-width="0.12" textLength="50.6" lengthAdjust="spacingAndGlyphs">GSK-LSD1 (nM)</text>
<rect x="327.9" y="34.3" width="20.1" height="23" fill="none" stroke="#000" stroke-width="1.5"/>
<rect x="419.8" y="23" width="71.3" height="1" fill="url(#hg161)" shape-rendering="crispEdges"/>
<rect x="419.8" y="24" width="71.3" height="1" fill="url(#hg162)" shape-rendering="crispEdges"/>
<rect x="419.8" y="25" width="71.3" height="1" fill="url(#hg163)" shape-rendering="crispEdges"/>
<rect x="419.8" y="26" width="71.3" height="1" fill="url(#hg164)" shape-rendering="crispEdges"/>
<rect x="419.8" y="27" width="71.3" height="1" fill="url(#hg165)" shape-rendering="crispEdges"/>
<rect x="419.8" y="28" width="71.3" height="1" fill="url(#hg166)" shape-rendering="crispEdges"/>
<rect x="419.8" y="29" width="71.3" height="1" fill="url(#hg167)" shape-rendering="crispEdges"/>
<rect x="419.8" y="30" width="71.3" height="1" fill="url(#hg168)" shape-rendering="crispEdges"/>
<rect x="419.8" y="31" width="71.3" height="1" fill="url(#hg169)" shape-rendering="crispEdges"/>
<rect x="419.8" y="32" width="71.3" height="1" fill="url(#hg170)" shape-rendering="crispEdges"/>
<rect x="419.8" y="33" width="71.3" height="1" fill="url(#hg171)" shape-rendering="crispEdges"/>
<rect x="419.8" y="34" width="71.3" height="1" fill="url(#hg172)" shape-rendering="crispEdges"/>
<rect x="419.8" y="35" width="71.3" height="1" fill="url(#hg173)" shape-rendering="crispEdges"/>
<rect x="419.8" y="36" width="71.3" height="1" fill="url(#hg174)" shape-rendering="crispEdges"/>
<rect x="419.8" y="37" width="71.3" height="1" fill="url(#hg175)" shape-rendering="crispEdges"/>
<rect x="419.8" y="38" width="71.3" height="1" fill="url(#hg176)" shape-rendering="crispEdges"/>
<rect x="419.8" y="39" width="71.3" height="1" fill="url(#hg177)" shape-rendering="crispEdges"/>
<rect x="419.8" y="40" width="71.3" height="1" fill="url(#hg178)" shape-rendering="crispEdges"/>
<rect x="419.8" y="41" width="71.3" height="1" fill="url(#hg179)" shape-rendering="crispEdges"/>
<rect x="419.8" y="42" width="71.3" height="1" fill="url(#hg180)" shape-rendering="crispEdges"/>
<rect x="419.8" y="43" width="71.3" height="1" fill="url(#hg181)" shape-rendering="crispEdges"/>
<rect x="419.8" y="44" width="71.3" height="1" fill="url(#hg182)" shape-rendering="crispEdges"/>
<rect x="419.8" y="45" width="71.3" height="1" fill="url(#hg183)" shape-rendering="crispEdges"/>
<rect x="419.8" y="46" width="71.3" height="1" fill="url(#hg184)" shape-rendering="crispEdges"/>
<rect x="419.8" y="47" width="71.3" height="1" fill="url(#hg185)" shape-rendering="crispEdges"/>
<rect x="419.8" y="48" width="71.3" height="1" fill="url(#hg186)" shape-rendering="crispEdges"/>
<rect x="419.8" y="49" width="71.3" height="1" fill="url(#hg187)" shape-rendering="crispEdges"/>
<rect x="419.8" y="50" width="71.3" height="1" fill="url(#hg188)" shape-rendering="crispEdges"/>
<rect x="419.8" y="51" width="71.3" height="1" fill="url(#hg189)" shape-rendering="crispEdges"/>
<rect x="419.8" y="52" width="71.3" height="1" fill="url(#hg190)" shape-rendering="crispEdges"/>
<rect x="419.8" y="53" width="71.3" height="1" fill="url(#hg191)" shape-rendering="crispEdges"/>
<rect x="419.8" y="54" width="71.3" height="1" fill="url(#hg192)" shape-rendering="crispEdges"/>
<rect x="419.8" y="55" width="71.3" height="1" fill="url(#hg193)" shape-rendering="crispEdges"/>
<rect x="419.8" y="56" width="71.3" height="1" fill="url(#hg194)" shape-rendering="crispEdges"/>
<rect x="419.8" y="57" width="71.3" height="1" fill="url(#hg195)" shape-rendering="crispEdges"/>
<rect x="419.8" y="58" width="71.3" height="1" fill="url(#hg196)" shape-rendering="crispEdges"/>
<rect x="419.8" y="59" width="71.3" height="1" fill="url(#hg197)" shape-rendering="crispEdges"/>
<rect x="419.8" y="60" width="71.3" height="1" fill="url(#hg198)" shape-rendering="crispEdges"/>
<rect x="419.8" y="61" width="71.3" height="1" fill="url(#hg199)" shape-rendering="crispEdges"/>
<rect x="419.8" y="62" width="71.3" height="1" fill="url(#hg200)" shape-rendering="crispEdges"/>
<rect x="419.8" y="63" width="71.3" height="1" fill="url(#hg201)" shape-rendering="crispEdges"/>
<rect x="419.8" y="64" width="71.3" height="1" fill="url(#hg202)" shape-rendering="crispEdges"/>
<rect x="419.8" y="65" width="71.3" height="1" fill="url(#hg203)" shape-rendering="crispEdges"/>
<rect x="419.8" y="66" width="71.3" height="1" fill="url(#hg204)" shape-rendering="crispEdges"/>
<rect x="419.8" y="67" width="71.3" height="1" fill="url(#hg205)" shape-rendering="crispEdges"/>
<rect x="419.8" y="68" width="71.3" height="1" fill="url(#hg206)" shape-rendering="crispEdges"/>
<rect x="419.8" y="69" width="71.3" height="1" fill="url(#hg207)" shape-rendering="crispEdges"/>
<rect x="419.8" y="70" width="71.3" height="1" fill="url(#hg208)" shape-rendering="crispEdges"/>
<rect x="419.8" y="71" width="71.3" height="1" fill="url(#hg209)" shape-rendering="crispEdges"/>
<rect x="419.8" y="72" width="71.3" height="1" fill="url(#hg210)" shape-rendering="crispEdges"/>
<rect x="419.8" y="73" width="71.3" height="1" fill="url(#hg211)" shape-rendering="crispEdges"/>
<rect x="419.8" y="74" width="71.3" height="1" fill="url(#hg212)" shape-rendering="crispEdges"/>
<rect x="419.8" y="75" width="71.3" height="1" fill="url(#hg213)" shape-rendering="crispEdges"/>
<rect x="419.8" y="76" width="71.3" height="1" fill="url(#hg214)" shape-rendering="crispEdges"/>
<rect x="419.8" y="77" width="71.3" height="1" fill="url(#hg215)" shape-rendering="crispEdges"/>
<rect x="419.8" y="78" width="71.3" height="1" fill="url(#hg216)" shape-rendering="crispEdges"/>
<rect x="419.8" y="79" width="71.3" height="1" fill="url(#hg217)" shape-rendering="crispEdges"/>
<rect x="419.8" y="80" width="71.3" height="1" fill="url(#hg218)" shape-rendering="crispEdges"/>
<rect x="419.8" y="81" width="71.3" height="1" fill="url(#hg219)" shape-rendering="crispEdges"/>
<rect x="419.8" y="82" width="71.3" height="1" fill="url(#hg220)" shape-rendering="crispEdges"/>
<rect x="419.8" y="83" width="71.3" height="1" fill="url(#hg221)" shape-rendering="crispEdges"/>
<rect x="419.8" y="84" width="71.3" height="1" fill="url(#hg222)" shape-rendering="crispEdges"/>
<rect x="419.8" y="85" width="71.3" height="1" fill="url(#hg223)" shape-rendering="crispEdges"/>
<rect x="419.8" y="86" width="71.3" height="1" fill="url(#hg224)" shape-rendering="crispEdges"/>
<rect x="419.8" y="87" width="71.3" height="1" fill="url(#hg225)" shape-rendering="crispEdges"/>
<rect x="419.8" y="88" width="71.3" height="1" fill="url(#hg226)" shape-rendering="crispEdges"/>
<rect x="419.8" y="89" width="71.3" height="1" fill="url(#hg227)" shape-rendering="crispEdges"/>
<rect x="419.8" y="90" width="71.3" height="1" fill="url(#hg228)" shape-rendering="crispEdges"/>
<rect x="419.8" y="91" width="71.3" height="1" fill="url(#hg229)" shape-rendering="crispEdges"/>
<rect x="419.8" y="92" width="71.3" height="1" fill="url(#hg230)" shape-rendering="crispEdges"/>
<rect x="419.8" y="93" width="71.3" height="1" fill="url(#hg231)" shape-rendering="crispEdges"/>
<rect x="419.8" y="94" width="71.3" height="1" fill="url(#hg232)" shape-rendering="crispEdges"/>
<rect x="419.8" y="95" width="71.3" height="1" fill="url(#hg233)" shape-rendering="crispEdges"/>
<rect x="419.8" y="96" width="71.3" height="1" fill="url(#hg234)" shape-rendering="crispEdges"/>
<rect x="419.8" y="97" width="71.3" height="1" fill="url(#hg235)" shape-rendering="crispEdges"/>
<rect x="419.8" y="98" width="71.3" height="1" fill="url(#hg236)" shape-rendering="crispEdges"/>
<rect x="419.8" y="99" width="71.3" height="1" fill="url(#hg237)" shape-rendering="crispEdges"/>
<rect x="419.8" y="100" width="71.3" height="1" fill="url(#hg238)" shape-rendering="crispEdges"/>
<rect x="419.8" y="101" width="71.3" height="1" fill="url(#hg239)" shape-rendering="crispEdges"/>
<rect x="419.8" y="102" width="71.3" height="1" fill="url(#hg240)" shape-rendering="crispEdges"/>
<path d="M491.1 95.7 488.7 95.7 486.8 95.7 484.7 95.7 482.3 95.7 479.9 95.7 477.5 95.7 475.1 95.7 472.7 95.7 470.3 95.7 467.9 95.7 465.5 95.7 463.1 95.7 460.7 95.7 458.3 95.6 455.9 95.6 453.4 95.6 451.0 95.6 448.6 95.6 446.2 95.6 443.8 95.6 441.4 95.6 439.0 95.6 436.6 95.7 434.2 95.7 431.8 95.7 429.4 95.7 427.0 95.2 426.0 94.1 424.8 92.5 424.0 90.9 424.0 88.5 424.0 86.0 424.0 83.6 424.1 81.2 424.1 78.8 424.1 76.3 424.0 73.9 424.0 71.5 424.0 69.1 424.0 66.6 423.9 64.2 423.9 61.8 423.9 59.4 423.9 56.9 423.9 54.5 423.9 52.1 423.9 49.7 423.8 47.9 423.7 45.6 423.6 43.2 423.5 40.8 423.4 38.4 423.3 35.9 423.3 33.5 423.4 31.1 423.5 28.7 423.6 26.2 423.8 23.8 M491.1 92.5 488.7 92.5 486.8 92.5 484.7 92.5 482.3 92.5 479.9 92.5 477.5 92.5 475.1 92.4 472.7 92.4 470.3 92.4 467.9 92.4 465.5 92.4 463.1 92.3 460.7 92.3 458.3 92.3 455.9 92.3 453.4 92.2 451.0 92.2 448.6 92.2 446.2 92.2 443.8 92.2 441.4 92.2 439.0 92.3 436.6 92.3 434.2 92.3 431.8 92.4 429.4 92.4 427.0 91.7 426.5 90.1 426.6 87.6 426.6 85.2 426.7 82.8 426.7 80.4 426.7 77.9 426.7 75.5 426.6 73.1 426.6 70.7 426.5 68.3 426.5 65.8 426.5 63.4 426.4 61.0 426.4 58.6 426.4 56.1 426.4 53.7 426.3 51.3 426.3 48.9 426.2 47.2 426.0 44.8 425.9 42.4 425.7 40.0 425.5 37.5 425.5 35.1 425.5 32.7 425.7 30.3 425.8 27.8 426.0 25.4 426.2 23.0 M491.1 47.1 489.5 47.5 487.1 47.8 484.7 47.9 482.3 48.0 479.9 48.0 477.5 47.9 475.1 47.6 473.5 47.2 471.6 46.4 470.3 45.5 468.7 44.0 467.9 43.1 466.3 41.6 464.7 40.9 463.1 40.6 460.7 40.3 458.3 40.2 455.9 40.0 454.2 39.9 451.8 39.8 449.4 39.7 447.0 39.5 444.6 39.3 443.0 39.1 440.6 38.8 438.2 38.4 436.6 38.0 435.0 37.5 433.2 36.7 431.8 35.4 431.9 34.3 433.4 33.2 435.0 32.5 437.1 31.9 439.0 31.5 441.4 31.1 443.0 30.9 445.4 30.6 447.8 30.4 449.9 30.3 451.8 30.2 454.2 30.0 456.7 29.9 459.1 29.7 461.1 29.5 463.1 29.2 465.0 28.7 466.3 27.8 467.5 26.2 468.4 24.6 469.2 23.0 M491.1 42.7 489.5 43.6 487.9 44.1 485.5 44.4 483.1 44.5 480.7 44.5 478.3 44.5 475.9 44.1 474.3 43.6 472.7 42.4 471.9 41.5 471.0 40.0 470.3 37.9 469.9 35.9 469.9 33.5 470.3 31.4 470.7 29.5 471.2 27.8 471.9 26.1 472.7 24.5 473.9 23.0" fill="none" stroke="#fff" stroke-width="0.45" opacity="0.4"/>
<line x1="429.91" y1="23" x2="429.91" y2="103" stroke="#000" stroke-width="0.5" opacity="0.13"/>
<line x1="440.03" y1="23" x2="440.03" y2="103" stroke="#000" stroke-width="0.5" opacity="0.13"/>
<line x1="450.14" y1="23" x2="450.14" y2="103" stroke="#000" stroke-width="0.5" opacity="0.13"/>
<line x1="460.26" y1="23" x2="460.26" y2="103" stroke="#000" stroke-width="0.5" opacity="0.13"/>
<line x1="470.37" y1="23" x2="470.37" y2="103" stroke="#000" stroke-width="0.5" opacity="0.13"/>
<line x1="480.49" y1="23" x2="480.49" y2="103" stroke="#000" stroke-width="0.5" opacity="0.13"/>
<line x1="490.6" y1="23" x2="490.6" y2="103" stroke="#000" stroke-width="0.5" opacity="0.13"/>
<line x1="419.8" y1="24" x2="491.1" y2="24" stroke="#000" stroke-width="0.5" opacity="0.13"/>
<line x1="419.8" y1="35.29" x2="491.1" y2="35.29" stroke="#000" stroke-width="0.5" opacity="0.13"/>
<line x1="419.8" y1="46.57" x2="491.1" y2="46.57" stroke="#000" stroke-width="0.5" opacity="0.13"/>
<line x1="419.8" y1="57.86" x2="491.1" y2="57.86" stroke="#000" stroke-width="0.5" opacity="0.13"/>
<line x1="419.8" y1="69.14" x2="491.1" y2="69.14" stroke="#000" stroke-width="0.5" opacity="0.13"/>
<line x1="419.8" y1="80.43" x2="491.1" y2="80.43" stroke="#000" stroke-width="0.5" opacity="0.13"/>
<line x1="419.8" y1="91.71" x2="491.1" y2="91.71" stroke="#000" stroke-width="0.5" opacity="0.13"/>
<line x1="419.2" y1="19.5" x2="419.2" y2="103.6" stroke="#3a3a3a" stroke-width="1.2"/>
<line x1="418.6" y1="103.6" x2="493.1" y2="103.6" stroke="#3a3a3a" stroke-width="1.2"/>
<line x1="416.2" y1="24" x2="419.2" y2="24" stroke="#3a3a3a" stroke-width="0.8"/>
<text x="413.6" y="26.2" font-size="6.3" text-anchor="end" fill="#2a2a2a" stroke="#2a2a2a" stroke-width="0.12" textLength="12.8" lengthAdjust="spacingAndGlyphs">1000</text>
<line x1="416.2" y1="35.29" x2="419.2" y2="35.29" stroke="#3a3a3a" stroke-width="0.8"/>
<text x="413.6" y="37.49" font-size="6.3" text-anchor="end" fill="#2a2a2a" stroke="#2a2a2a" stroke-width="0.12" textLength="9.6" lengthAdjust="spacingAndGlyphs">333</text>
<line x1="416.2" y1="46.57" x2="419.2" y2="46.57" stroke="#3a3a3a" stroke-width="0.8"/>
<text x="413.6" y="48.77" font-size="6.3" text-anchor="end" fill="#2a2a2a" stroke="#2a2a2a" stroke-width="0.12" textLength="9.6" lengthAdjust="spacingAndGlyphs">112</text>
<line x1="416.2" y1="57.86" x2="419.2" y2="57.86" stroke="#3a3a3a" stroke-width="0.8"/>
<text x="413.6" y="60.06" font-size="6.3" text-anchor="end" fill="#2a2a2a" stroke="#2a2a2a" stroke-width="0.12" textLength="6.4" lengthAdjust="spacingAndGlyphs">37</text>
<line x1="416.2" y1="69.14" x2="419.2" y2="69.14" stroke="#3a3a3a" stroke-width="0.8"/>
<text x="413.6" y="71.34" font-size="6.3" text-anchor="end" fill="#2a2a2a" stroke="#2a2a2a" stroke-width="0.12" textLength="6.4" lengthAdjust="spacingAndGlyphs">12</text>
<line x1="416.2" y1="80.43" x2="419.2" y2="80.43" stroke="#3a3a3a" stroke-width="0.8"/>
<text x="413.6" y="82.63" font-size="6.3" text-anchor="end" fill="#2a2a2a" stroke="#2a2a2a" stroke-width="0.12">4</text>
<line x1="416.2" y1="91.71" x2="419.2" y2="91.71" stroke="#3a3a3a" stroke-width="0.8"/>
<text x="413.6" y="93.91" font-size="6.3" text-anchor="end" fill="#2a2a2a" stroke="#2a2a2a" stroke-width="0.12" textLength="9.6" lengthAdjust="spacingAndGlyphs">1.2</text>
<line x1="416.2" y1="103" x2="419.2" y2="103" stroke="#3a3a3a" stroke-width="0.8"/>
<text x="413.6" y="105.2" font-size="6.3" text-anchor="end" fill="#2a2a2a" stroke="#2a2a2a" stroke-width="0.12">0</text>
<line x1="419.8" y1="103.6" x2="419.8" y2="106.2" stroke="#3a3a3a" stroke-width="0.8"/>
<text x="419.8" y="114.1" font-size="6.4" text-anchor="middle" fill="#2a2a2a" stroke="#2a2a2a" stroke-width="0.12">0</text>
<line x1="429.91" y1="103.6" x2="429.91" y2="106.2" stroke="#3a3a3a" stroke-width="0.8"/>
<text x="429.91" y="114.1" font-size="6.4" text-anchor="middle" fill="#2a2a2a" stroke="#2a2a2a" stroke-width="0.12" textLength="9.7" lengthAdjust="spacingAndGlyphs">0.12</text>
<line x1="440.03" y1="103.6" x2="440.03" y2="106.2" stroke="#3a3a3a" stroke-width="0.8"/>
<text x="440.03" y="114.1" font-size="6.4" text-anchor="middle" fill="#2a2a2a" stroke="#2a2a2a" stroke-width="0.12" textLength="6.9" lengthAdjust="spacingAndGlyphs">0.4</text>
<line x1="450.14" y1="103.6" x2="450.14" y2="106.2" stroke="#3a3a3a" stroke-width="0.8"/>
<text x="450.14" y="114.1" font-size="6.4" text-anchor="middle" fill="#2a2a2a" stroke="#2a2a2a" stroke-width="0.12" textLength="4.6" lengthAdjust="spacingAndGlyphs">12</text>
<line x1="460.26" y1="103.6" x2="460.26" y2="106.2" stroke="#3a3a3a" stroke-width="0.8"/>
<text x="460.26" y="114.1" font-size="6.4" text-anchor="middle" fill="#2a2a2a" stroke="#2a2a2a" stroke-width="0.12" textLength="6.2" lengthAdjust="spacingAndGlyphs">3.7</text>
<line x1="470.37" y1="103.6" x2="470.37" y2="106.2" stroke="#3a3a3a" stroke-width="0.8"/>
<text x="470.37" y="114.1" font-size="6.4" text-anchor="middle" fill="#2a2a2a" stroke="#2a2a2a" stroke-width="0.12" textLength="4.3" lengthAdjust="spacingAndGlyphs">11</text>
<line x1="480.49" y1="103.6" x2="480.49" y2="106.2" stroke="#3a3a3a" stroke-width="0.8"/>
<text x="480.49" y="114.1" font-size="6.4" text-anchor="middle" fill="#2a2a2a" stroke="#2a2a2a" stroke-width="0.12" textLength="4.9" lengthAdjust="spacingAndGlyphs">34</text>
<line x1="490.6" y1="103.6" x2="490.6" y2="106.2" stroke="#3a3a3a" stroke-width="0.8"/>
<text x="490.6" y="114.1" font-size="6.4" text-anchor="middle" fill="#2a2a2a" stroke="#2a2a2a" stroke-width="0.12" textLength="7.7" lengthAdjust="spacingAndGlyphs">100</text>
<text x="456.4" y="15" font-size="8.6" text-anchor="middle" fill="#1a1a1a" stroke="#1a1a1a" stroke-width="0.12" textLength="73.2" lengthAdjust="spacingAndGlyphs">Delta score: 22.028</text>
<text x="457" y="127" font-size="9.6" text-anchor="middle" fill="#1a1a1a" stroke="#1a1a1a" stroke-width="0.12" textLength="51.5" lengthAdjust="spacingAndGlyphs">ORY-1001 (nM)</text>
<rect x="469.3" y="24.1" width="21.5" height="22.6" fill="none" stroke="#000" stroke-width="1.5"/>
<rect x="249.1" y="50.4" width="5" height="24.8" fill="url(#dl241)"/>
<text x="248.3" y="48.9" font-size="6.6" fill="#1a1a1a" stroke="#1a1a1a" stroke-width="0.12" textLength="20" lengthAdjust="spacingAndGlyphs">δ-score</text>
<text x="255" y="58.7" font-size="5.6" fill="#1a1a1a">40</text>
<text x="255" y="65.7" font-size="5.6" fill="#1a1a1a">0</text>
<text x="255" y="72.2" font-size="5.6" fill="#1a1a1a" textLength="8.7" lengthAdjust="spacingAndGlyphs">−40</text>
<rect x="369.2" y="48" width="5" height="24.8" fill="url(#dl242)"/>
<text x="369.1" y="44" font-size="6.6" fill="#1a1a1a" stroke="#1a1a1a" stroke-width="0.12" textLength="20" lengthAdjust="spacingAndGlyphs">δ-score</text>
<text x="376.2" y="51.1" font-size="5.6" fill="#1a1a1a">50</text>
<text x="376.2" y="57.1" font-size="5.6" fill="#1a1a1a">25</text>
<text x="376.2" y="62.5" font-size="5.6" fill="#1a1a1a">0</text>
<text x="376.2" y="68.2" font-size="5.6" fill="#1a1a1a" textLength="8.7" lengthAdjust="spacingAndGlyphs">−25</text>
<text x="376.2" y="73.8" font-size="5.6" fill="#1a1a1a" textLength="8.7" lengthAdjust="spacingAndGlyphs">−50</text>
<rect x="492.5" y="47.8" width="5" height="24.9" fill="url(#dl243)"/>
<text x="492.9" y="43.8" font-size="6.6" fill="#1a1a1a" stroke="#1a1a1a" stroke-width="0.12" textLength="20" lengthAdjust="spacingAndGlyphs">δ-score</text>
<text x="499" y="51.1" font-size="5.6" fill="#1a1a1a">50</text>
<text x="499" y="56.9" font-size="5.6" fill="#1a1a1a">25</text>
<text x="499" y="62.6" font-size="5.6" fill="#1a1a1a">0</text>
<text x="499" y="68.3" font-size="5.6" fill="#1a1a1a" textLength="8.7" lengthAdjust="spacingAndGlyphs">−25</text>
<text x="499" y="73.7" font-size="5.6" fill="#1a1a1a" textLength="8.7" lengthAdjust="spacingAndGlyphs">−50</text>
<text x="6.8" y="143.2" font-size="11.5" font-weight="bold" fill="#000">B</text>
<rect x="39.6" y="143.4" width="19.4" height="1.63" fill="#5c51a5"/>
<rect x="39.6" y="144.91" width="19.4" height="1.63" fill="#5d52a6"/>
<rect x="39.6" y="146.42" width="19.4" height="1.63" fill="#6156a8"/>
<rect x="39.6" y="147.94" width="19.4" height="1.63" fill="#564ba2"/>
<rect x="39.6" y="149.45" width="19.4" height="1.63" fill="#6f63b0"/>
<rect x="39.6" y="150.96" width="19.4" height="1.63" fill="#7367b2"/>
<rect x="39.6" y="152.47" width="19.4" height="1.63" fill="#685dac"/>
<rect x="39.6" y="153.99" width="19.4" height="1.63" fill="#6f63b0"/>
<rect x="39.6" y="155.5" width="19.4" height="1.63" fill="#6155a8"/>
<rect x="39.6" y="157.01" width="19.4" height="1.63" fill="#5f54a7"/>
<rect x="39.6" y="158.52" width="19.4" height="1.63" fill="#4e439d"/>
<rect x="39.6" y="160.03" width="19.4" height="1.63" fill="#5a4fa4"/>
<rect x="39.6" y="161.55" width="19.4" height="1.63" fill="#6b60ae"/>
<rect x="39.6" y="163.06" width="19.4" height="1.63" fill="#584da3"/>
<rect x="39.6" y="164.57" width="19.4" height="1.63" fill="#8578bd"/>
<rect x="39.6" y="166.08" width="19.4" height="1.63" fill="#7f72b9"/>
<rect x="39.6" y="167.6" width="19.4" height="1.63" fill="#9b8ec9"/>
<rect x="39.6" y="169.11" width="19.4" height="1.63" fill="#bcb0db"/>
<rect x="39.6" y="170.62" width="19.4" height="1.63" fill="#6c60ae"/>
<rect x="39.6" y="172.13" width="19.4" height="1.63" fill="#5e53a6"/>
<rect x="39.6" y="173.64" width="19.4" height="1.63" fill="#5e53a6"/>
<rect x="39.6" y="175.16" width="19.4" height="1.63" fill="#6f63b0"/>
<rect x="39.6" y="176.67" width="19.4" height="1.63" fill="#695ead"/>
<rect x="39.6" y="178.18" width="19.4" height="1.63" fill="#5a50a4"/>
<rect x="39.6" y="179.69" width="19.4" height="1.63" fill="#423896"/>
<rect x="39.6" y="181.21" width="19.4" height="1.63" fill="#4c419c"/>
<rect x="39.6" y="182.72" width="19.4" height="1.63" fill="#554aa1"/>
<rect x="39.6" y="184.23" width="19.4" height="1.63" fill="#423896"/>
<rect x="39.6" y="185.74" width="19.4" height="1.63" fill="#4c429c"/>
<rect x="39.6" y="187.26" width="19.4" height="1.63" fill="#51479f"/>
<rect x="39.6" y="188.77" width="19.4" height="1.63" fill="#6156a8"/>
<rect x="39.6" y="190.28" width="19.4" height="1.63" fill="#6d62af"/>
<rect x="39.6" y="191.79" width="19.4" height="1.63" fill="#7166b1"/>
<rect x="39.6" y="193.3" width="19.4" height="1.63" fill="#7d71b8"/>
<rect x="39.6" y="194.82" width="19.4" height="1.63" fill="#7165b1"/>
<rect x="39.6" y="196.33" width="19.4" height="1.63" fill="#6d61af"/>
<rect x="39.6" y="197.84" width="19.4" height="1.63" fill="#7468b3"/>
<rect x="39.6" y="199.35" width="19.4" height="1.63" fill="#685dac"/>
<rect x="39.6" y="200.87" width="19.4" height="1.63" fill="#796db6"/>
<rect x="39.6" y="202.38" width="19.4" height="1.63" fill="#6b5fad"/>
<rect x="39.6" y="203.89" width="19.4" height="1.63" fill="#776bb4"/>
<rect x="39.6" y="205.4" width="19.4" height="1.63" fill="#574ca2"/>
<rect x="39.6" y="206.91" width="19.4" height="1.63" fill="#4f459e"/>
<rect x="39.6" y="208.43" width="19.4" height="1.63" fill="#7266b2"/>
<rect x="39.6" y="209.94" width="19.4" height="1.63" fill="#584da3"/>
<rect x="39.6" y="211.45" width="19.4" height="1.63" fill="#4a3f9a"/>
<rect x="39.6" y="212.96" width="19.4" height="1.63" fill="#776bb5"/>
<rect x="39.6" y="214.48" width="19.4" height="1.63" fill="#6559aa"/>
<rect x="39.6" y="215.99" width="19.4" height="1.63" fill="#766ab4"/>
<rect x="59" y="143.4" width="19.4" height="1.63" fill="#fcddd1"/>
<rect x="59" y="144.91" width="19.4" height="1.63" fill="#fcdbcd"/>
<rect x="59" y="146.42" width="19.4" height="1.63" fill="#f1eef7"/>
<rect x="59" y="147.94" width="19.4" height="1.63" fill="#f8f7fb"/>
<rect x="59" y="149.45" width="19.4" height="1.63" fill="#fefeff"/>
<rect x="59" y="150.96" width="19.4" height="1.63" fill="#fffbfa"/>
<rect x="59" y="152.47" width="19.4" height="1.63" fill="#e9e6f4"/>
<rect x="59" y="153.99" width="19.4" height="1.63" fill="#e3def0"/>
<rect x="59" y="155.5" width="19.4" height="1.63" fill="#e5e1f1"/>
<rect x="59" y="157.01" width="19.4" height="1.63" fill="#e6e2f2"/>
<rect x="59" y="158.52" width="19.4" height="1.63" fill="#ddd8ed"/>
<rect x="59" y="160.03" width="19.4" height="1.63" fill="#eae6f4"/>
<rect x="59" y="161.55" width="19.4" height="1.63" fill="#fef7f4"/>
<rect x="59" y="163.06" width="19.4" height="1.63" fill="#f1eff8"/>
<rect x="59" y="164.57" width="19.4" height="1.63" fill="#ded9ee"/>
<rect x="59" y="166.08" width="19.4" height="1.63" fill="#ded9ee"/>
<rect x="59" y="167.6" width="19.4" height="1.63" fill="#f4f2f9"/>
<rect x="59" y="169.11" width="19.4" height="1.63" fill="#fffefd"/>
<rect x="59" y="170.62" width="19.4" height="1.63" fill="#fef2ed"/>
<rect x="59" y="172.13" width="19.4" height="1.63" fill="#faccb8"/>
<rect x="59" y="173.64" width="19.4" height="1.63" fill="#f8b79d"/>
<rect x="59" y="175.16" width="19.4" height="1.63" fill="#f9c1aa"/>
<rect x="59" y="176.67" width="19.4" height="1.63" fill="#f9bfa7"/>
<rect x="59" y="178.18" width="19.4" height="1.63" fill="#f9bda4"/>
<rect x="59" y="179.69" width="19.4" height="1.63" fill="#f7ad91"/>
<rect x="59" y="181.21" width="19.4" height="1.63" fill="#c9c0e2"/>
<rect x="59" y="182.72" width="19.4" height="1.63" fill="#cfc7e6"/>
<rect x="59" y="184.23" width="19.4" height="1.63" fill="#b9adda"/>
<rect x="59" y="185.74" width="19.4" height="1.63" fill="#b7abd9"/>
<rect x="59" y="187.26" width="19.4" height="1.63" fill="#b3a7d7"/>
<rect x="59" y="188.77" width="19.4" height="1.63" fill="#bdb2dc"/>
<rect x="59" y="190.28" width="19.4" height="1.63" fill="#c8bfe2"/>
<rect x="59" y="191.79" width="19.4" height="1.63" fill="#cdc5e5"/>
<rect x="59" y="193.3" width="19.4" height="1.63" fill="#c9c0e2"/>
<rect x="59" y="194.82" width="19.4" height="1.63" fill="#c5bce1"/>
<rect x="59" y="196.33" width="19.4" height="1.63" fill="#c6bce1"/>
<rect x="59" y="197.84" width="19.4" height="1.63" fill="#d9d3eb"/>
<rect x="59" y="199.35" width="19.4" height="1.63" fill="#dbd6ec"/>
<rect x="59" y="200.87" width="19.4" height="1.63" fill="#d2cbe7"/>
<rect x="59" y="202.38" width="19.4" height="1.63" fill="#bbb0db"/>
<rect x="59" y="203.89" width="19.4" height="1.63" fill="#c5bce0"/>
<rect x="59" y="205.4" width="19.4" height="1.63" fill="#c8bfe2"/>
<rect x="59" y="206.91" width="19.4" height="1.63" fill="#beb3dd"/>
<rect x="59" y="208.43" width="19.4" height="1.63" fill="#d1cae7"/>
<rect x="59" y="209.94" width="19.4" height="1.63" fill="#d9d3eb"/>
<rect x="59" y="211.45" width="19.4" height="1.63" fill="#ac9ed3"/>
<rect x="59" y="212.96" width="19.4" height="1.63" fill="#bfb4dd"/>
<rect x="59" y="214.48" width="19.4" height="1.63" fill="#c5bbe0"/>
<rect x="59" y="215.99" width="19.4" height="1.63" fill="#c7bee2"/>
<rect x="78.4" y="143.4" width="19.5" height="1.63" fill="#dbd5ec"/>
<rect x="78.4" y="144.91" width="19.5" height="1.63" fill="#d0c9e6"/>
<rect x="78.4" y="146.42" width="19.5" height="1.63" fill="#dbd5ec"/>
<rect x="78.4" y="147.94" width="19.5" height="1.63" fill="#dfd9ee"/>
<rect x="78.4" y="149.45" width="19.5" height="1.63" fill="#e0dbef"/>
<rect x="78.4" y="150.96" width="19.5" height="1.63" fill="#f3f1f9"/>
<rect x="78.4" y="152.47" width="19.5" height="1.63" fill="#dfdaee"/>
<rect x="78.4" y="153.99" width="19.5" height="1.63" fill="#d3cce8"/>
<rect x="78.4" y="155.5" width="19.5" height="1.63" fill="#c9c0e2"/>
<rect x="78.4" y="157.01" width="19.5" height="1.63" fill="#cac1e3"/>
<rect x="78.4" y="158.52" width="19.5" height="1.63" fill="#a598cf"/>
<rect x="78.4" y="160.03" width="19.5" height="1.63" fill="#8d80c1"/>
<rect x="78.4" y="161.55" width="19.5" height="1.63" fill="#ac9ed3"/>
<rect x="78.4" y="163.06" width="19.5" height="1.63" fill="#aea1d4"/>
<rect x="78.4" y="164.57" width="19.5" height="1.63" fill="#9f91cc"/>
<rect x="78.4" y="166.08" width="19.5" height="1.63" fill="#c6bde1"/>
<rect x="78.4" y="167.6" width="19.5" height="1.63" fill="#e6e2f2"/>
<rect x="78.4" y="169.11" width="19.5" height="1.63" fill="#f9f8fc"/>
<rect x="78.4" y="170.62" width="19.5" height="1.63" fill="#fffdfd"/>
<rect x="78.4" y="172.13" width="19.5" height="1.63" fill="#e6e2f2"/>
<rect x="78.4" y="173.64" width="19.5" height="1.63" fill="#a89ad1"/>
<rect x="78.4" y="175.16" width="19.5" height="1.63" fill="#a395ce"/>
<rect x="78.4" y="176.67" width="19.5" height="1.63" fill="#a396ce"/>
<rect x="78.4" y="178.18" width="19.5" height="1.63" fill="#b5a8d8"/>
<rect x="78.4" y="179.69" width="19.5" height="1.63" fill="#9083c3"/>
<rect x="78.4" y="181.21" width="19.5" height="1.63" fill="#9e90cb"/>
<rect x="78.4" y="182.72" width="19.5" height="1.63" fill="#9a8cc8"/>
<rect x="78.4" y="184.23" width="19.5" height="1.63" fill="#fef3ef"/>
<rect x="78.4" y="185.74" width="19.5" height="1.63" fill="#fffefe"/>
<rect x="78.4" y="187.26" width="19.5" height="1.63" fill="#fef2ee"/>
<rect x="78.4" y="188.77" width="19.5" height="1.63" fill="#fef4f0"/>
<rect x="78.4" y="190.28" width="19.5" height="1.63" fill="#fefdfe"/>
<rect x="78.4" y="191.79" width="19.5" height="1.63" fill="#fcfcfe"/>
<rect x="78.4" y="193.3" width="19.5" height="1.63" fill="#fffbfa"/>
<rect x="78.4" y="194.82" width="19.5" height="1.63" fill="#fef6f3"/>
<rect x="78.4" y="196.33" width="19.5" height="1.63" fill="#fef8f6"/>
<rect x="78.4" y="197.84" width="19.5" height="1.63" fill="#fef3ef"/>
<rect x="78.4" y="199.35" width="19.5" height="1.63" fill="#fef9f6"/>
<rect x="78.4" y="200.87" width="19.5" height="1.63" fill="#fbfbfd"/>
<rect x="78.4" y="202.38" width="19.5" height="1.63" fill="#fce1d6"/>
<rect x="78.4" y="203.89" width="19.5" height="1.63" fill="#fffdfc"/>
<rect x="78.4" y="205.4" width="19.5" height="1.63" fill="#fef5f1"/>
<rect x="78.4" y="206.91" width="19.5" height="1.63" fill="#fef7f4"/>
<rect x="78.4" y="208.43" width="19.5" height="1.63" fill="#f6f5fa"/>
<rect x="78.4" y="209.94" width="19.5" height="1.63" fill="#fffefd"/>
<rect x="78.4" y="211.45" width="19.5" height="1.63" fill="#fef1ec"/>
<rect x="78.4" y="212.96" width="19.5" height="1.63" fill="#f9f9fc"/>
<rect x="78.4" y="214.48" width="19.5" height="1.63" fill="#ebe8f5"/>
<rect x="78.4" y="215.99" width="19.5" height="1.63" fill="#e5e1f1"/>
<rect x="97.9" y="143.4" width="19.4" height="1.63" fill="#ded9ee"/>
<rect x="97.9" y="144.91" width="19.4" height="1.63" fill="#cec6e5"/>
<rect x="97.9" y="146.42" width="19.4" height="1.63" fill="#cbc2e3"/>
<rect x="97.9" y="147.94" width="19.4" height="1.63" fill="#c6bde1"/>
<rect x="97.9" y="149.45" width="19.4" height="1.63" fill="#e1dcef"/>
<rect x="97.9" y="150.96" width="19.4" height="1.63" fill="#e5e1f1"/>
<rect x="97.9" y="152.47" width="19.4" height="1.63" fill="#e1dcef"/>
<rect x="97.9" y="153.99" width="19.4" height="1.63" fill="#d0c8e6"/>
<rect x="97.9" y="155.5" width="19.4" height="1.63" fill="#c8bfe2"/>
<rect x="97.9" y="157.01" width="19.4" height="1.63" fill="#c2b8df"/>
<rect x="97.9" y="158.52" width="19.4" height="1.63" fill="#ccc4e4"/>
<rect x="97.9" y="160.03" width="19.4" height="1.63" fill="#dcd6ed"/>
<rect x="97.9" y="161.55" width="19.4" height="1.63" fill="#e3dff0"/>
<rect x="97.9" y="163.06" width="19.4" height="1.63" fill="#e3def0"/>
<rect x="97.9" y="164.57" width="19.4" height="1.63" fill="#e1dcef"/>
<rect x="97.9" y="166.08" width="19.4" height="1.63" fill="#c9c0e2"/>
<rect x="97.9" y="167.6" width="19.4" height="1.63" fill="#c9c0e3"/>
<rect x="97.9" y="169.11" width="19.4" height="1.63" fill="#e7e3f2"/>
<rect x="97.9" y="170.62" width="19.4" height="1.63" fill="#e3dff0"/>
<rect x="97.9" y="172.13" width="19.4" height="1.63" fill="#d8d2eb"/>
<rect x="97.9" y="173.64" width="19.4" height="1.63" fill="#d2cbe7"/>
<rect x="97.9" y="175.16" width="19.4" height="1.63" fill="#b3a7d7"/>
<rect x="97.9" y="176.67" width="19.4" height="1.63" fill="#b7abd9"/>
<rect x="97.9" y="178.18" width="19.4" height="1.63" fill="#afa2d5"/>
<rect x="97.9" y="179.69" width="19.4" height="1.63" fill="#b3a7d7"/>
<rect x="97.9" y="181.21" width="19.4" height="1.63" fill="#b8acd9"/>
<rect x="97.9" y="182.72" width="19.4" height="1.63" fill="#c5bce0"/>
<rect x="97.9" y="184.23" width="19.4" height="1.63" fill="#fce3d8"/>
<rect x="97.9" y="185.74" width="19.4" height="1.63" fill="#fdede6"/>
<rect x="97.9" y="187.26" width="19.4" height="1.63" fill="#fce0d5"/>
<rect x="97.9" y="188.77" width="19.4" height="1.63" fill="#fef0ea"/>
<rect x="97.9" y="190.28" width="19.4" height="1.63" fill="#fffaf8"/>
<rect x="97.9" y="191.79" width="19.4" height="1.63" fill="#fef3ee"/>
<rect x="97.9" y="193.3" width="19.4" height="1.63" fill="#fef9f7"/>
<rect x="97.9" y="194.82" width="19.4" height="1.63" fill="#f8f7fb"/>
<rect x="97.9" y="196.33" width="19.4" height="1.63" fill="#fcfbfd"/>
<rect x="97.9" y="197.84" width="19.4" height="1.63" fill="#ebe7f4"/>
<rect x="97.9" y="199.35" width="19.4" height="1.63" fill="#f2f0f8"/>
<rect x="97.9" y="200.87" width="19.4" height="1.63" fill="#f6f5fa"/>
<rect x="97.9" y="202.38" width="19.4" height="1.63" fill="#fffcfa"/>
<rect x="97.9" y="203.89" width="19.4" height="1.63" fill="#fbfafd"/>
<rect x="97.9" y="205.4" width="19.4" height="1.63" fill="#fef7f4"/>
<rect x="97.9" y="206.91" width="19.4" height="1.63" fill="#fef4f0"/>
<rect x="97.9" y="208.43" width="19.4" height="1.63" fill="#fffaf9"/>
<rect x="97.9" y="209.94" width="19.4" height="1.63" fill="#fffbf9"/>
<rect x="97.9" y="211.45" width="19.4" height="1.63" fill="#fde7de"/>
<rect x="97.9" y="212.96" width="19.4" height="1.63" fill="#fef6f3"/>
<rect x="97.9" y="214.48" width="19.4" height="1.63" fill="#fdefe9"/>
<rect x="97.9" y="215.99" width="19.4" height="1.63" fill="#fffaf8"/>
<rect x="117.3" y="143.4" width="19.4" height="1.63" fill="#f07f5f"/>
<rect x="117.3" y="144.91" width="19.4" height="1.63" fill="#f38f71"/>
<rect x="117.3" y="146.42" width="19.4" height="1.63" fill="#f49a7c"/>
<rect x="117.3" y="147.94" width="19.4" height="1.63" fill="#f7ab8e"/>
<rect x="117.3" y="149.45" width="19.4" height="1.63" fill="#f59d7f"/>
<rect x="117.3" y="150.96" width="19.4" height="1.63" fill="#f6a386"/>
<rect x="117.3" y="152.47" width="19.4" height="1.63" fill="#f2896a"/>
<rect x="117.3" y="153.99" width="19.4" height="1.63" fill="#f18465"/>
<rect x="117.3" y="155.5" width="19.4" height="1.63" fill="#ef7857"/>
<rect x="117.3" y="157.01" width="19.4" height="1.63" fill="#f08060"/>
<rect x="117.3" y="158.52" width="19.4" height="1.63" fill="#f07b5a"/>
<rect x="117.3" y="160.03" width="19.4" height="1.63" fill="#ed6948"/>
<rect x="117.3" y="161.55" width="19.4" height="1.63" fill="#f28a6b"/>
<rect x="117.3" y="163.06" width="19.4" height="1.63" fill="#ef7757"/>
<rect x="117.3" y="164.57" width="19.4" height="1.63" fill="#ed6c4a"/>
<rect x="117.3" y="166.08" width="19.4" height="1.63" fill="#ee7251"/>
<rect x="117.3" y="167.6" width="19.4" height="1.63" fill="#f59d7f"/>
<rect x="117.3" y="169.11" width="19.4" height="1.63" fill="#f7b094"/>
<rect x="117.3" y="170.62" width="19.4" height="1.63" fill="#f59f81"/>
<rect x="117.3" y="172.13" width="19.4" height="1.63" fill="#f7ad90"/>
<rect x="117.3" y="173.64" width="19.4" height="1.63" fill="#f59f82"/>
<rect x="117.3" y="175.16" width="19.4" height="1.63" fill="#f28b6c"/>
<rect x="117.3" y="176.67" width="19.4" height="1.63" fill="#ef7959"/>
<rect x="117.3" y="178.18" width="19.4" height="1.63" fill="#f18667"/>
<rect x="117.3" y="179.69" width="19.4" height="1.63" fill="#ef7959"/>
<rect x="117.3" y="181.21" width="19.4" height="1.63" fill="#ef7757"/>
<rect x="117.3" y="182.72" width="19.4" height="1.63" fill="#f39274"/>
<rect x="117.3" y="184.23" width="19.4" height="1.63" fill="#f18868"/>
<rect x="117.3" y="185.74" width="19.4" height="1.63" fill="#f18767"/>
<rect x="117.3" y="187.26" width="19.4" height="1.63" fill="#ed6d4b"/>
<rect x="117.3" y="188.77" width="19.4" height="1.63" fill="#f18565"/>
<rect x="117.3" y="190.28" width="19.4" height="1.63" fill="#f4987a"/>
<rect x="117.3" y="191.79" width="19.4" height="1.63" fill="#f59e80"/>
<rect x="117.3" y="193.3" width="19.4" height="1.63" fill="#f6a689"/>
<rect x="117.3" y="194.82" width="19.4" height="1.63" fill="#f39273"/>
<rect x="117.3" y="196.33" width="19.4" height="1.63" fill="#f49678"/>
<rect x="117.3" y="197.84" width="19.4" height="1.63" fill="#f39273"/>
<rect x="117.3" y="199.35" width="19.4" height="1.63" fill="#f8b396"/>
<rect x="117.3" y="200.87" width="19.4" height="1.63" fill="#f6a487"/>
<rect x="117.3" y="202.38" width="19.4" height="1.63" fill="#f28f70"/>
<rect x="117.3" y="203.89" width="19.4" height="1.63" fill="#f7aa8e"/>
<rect x="117.3" y="205.4" width="19.4" height="1.63" fill="#f39172"/>
<rect x="117.3" y="206.91" width="19.4" height="1.63" fill="#f28a6a"/>
<rect x="117.3" y="208.43" width="19.4" height="1.63" fill="#f8b397"/>
<rect x="117.3" y="209.94" width="19.4" height="1.63" fill="#f6aa8d"/>
<rect x="117.3" y="211.45" width="19.4" height="1.63" fill="#f18768"/>
<rect x="117.3" y="212.96" width="19.4" height="1.63" fill="#f6a688"/>
<rect x="117.3" y="214.48" width="19.4" height="1.63" fill="#f39476"/>
<rect x="117.3" y="215.99" width="19.4" height="1.63" fill="#f18868"/>
<rect x="136.7" y="143.4" width="19.5" height="1.63" fill="#f39374"/>
<rect x="136.7" y="144.91" width="19.5" height="1.63" fill="#f28a6b"/>
<rect x="136.7" y="146.42" width="19.5" height="1.63" fill="#f18464"/>
<rect x="136.7" y="147.94" width="19.5" height="1.63" fill="#f28869"/>
<rect x="136.7" y="149.45" width="19.5" height="1.63" fill="#f39577"/>
<rect x="136.7" y="150.96" width="19.5" height="1.63" fill="#f7af93"/>
<rect x="136.7" y="152.47" width="19.5" height="1.63" fill="#f28d6e"/>
<rect x="136.7" y="153.99" width="19.5" height="1.63" fill="#f07d5d"/>
<rect x="136.7" y="155.5" width="19.5" height="1.63" fill="#f07d5d"/>
<rect x="136.7" y="157.01" width="19.5" height="1.63" fill="#f2896a"/>
<rect x="136.7" y="158.52" width="19.5" height="1.63" fill="#ef7554"/>
<rect x="136.7" y="160.03" width="19.5" height="1.63" fill="#f39374"/>
<rect x="136.7" y="161.55" width="19.5" height="1.63" fill="#f6a588"/>
<rect x="136.7" y="163.06" width="19.5" height="1.63" fill="#ef7a5a"/>
<rect x="136.7" y="164.57" width="19.5" height="1.63" fill="#f2896a"/>
<rect x="136.7" y="166.08" width="19.5" height="1.63" fill="#f08061"/>
<rect x="136.7" y="167.6" width="19.5" height="1.63" fill="#f28b6c"/>
<rect x="136.7" y="169.11" width="19.5" height="1.63" fill="#f6a78b"/>
<rect x="136.7" y="170.62" width="19.5" height="1.63" fill="#f6a689"/>
<rect x="136.7" y="172.13" width="19.5" height="1.63" fill="#f49c7f"/>
<rect x="136.7" y="173.64" width="19.5" height="1.63" fill="#f5a082"/>
<rect x="136.7" y="175.16" width="19.5" height="1.63" fill="#f59e80"/>
<rect x="136.7" y="176.67" width="19.5" height="1.63" fill="#f39172"/>
<rect x="136.7" y="178.18" width="19.5" height="1.63" fill="#f39374"/>
<rect x="136.7" y="179.69" width="19.5" height="1.63" fill="#f39172"/>
<rect x="136.7" y="181.21" width="19.5" height="1.63" fill="#f39071"/>
<rect x="136.7" y="182.72" width="19.5" height="1.63" fill="#f6a689"/>
<rect x="136.7" y="184.23" width="19.5" height="1.63" fill="#f28e6f"/>
<rect x="136.7" y="185.74" width="19.5" height="1.63" fill="#f08061"/>
<rect x="136.7" y="187.26" width="19.5" height="1.63" fill="#ef7958"/>
<rect x="136.7" y="188.77" width="19.5" height="1.63" fill="#f49678"/>
<rect x="136.7" y="190.28" width="19.5" height="1.63" fill="#f6a98c"/>
<rect x="136.7" y="191.79" width="19.5" height="1.63" fill="#f2896a"/>
<rect x="136.7" y="193.3" width="19.5" height="1.63" fill="#f18464"/>
<rect x="136.7" y="194.82" width="19.5" height="1.63" fill="#f07c5c"/>
<rect x="136.7" y="196.33" width="19.5" height="1.63" fill="#f5a082"/>
<rect x="136.7" y="197.84" width="19.5" height="1.63" fill="#f49b7d"/>
<rect x="136.7" y="199.35" width="19.5" height="1.63" fill="#f5a083"/>
<rect x="136.7" y="200.87" width="19.5" height="1.63" fill="#f39173"/>
<rect x="136.7" y="202.38" width="19.5" height="1.63" fill="#f07f5f"/>
<rect x="136.7" y="203.89" width="19.5" height="1.63" fill="#f39475"/>
<rect x="136.7" y="205.4" width="19.5" height="1.63" fill="#f28c6d"/>
<rect x="136.7" y="206.91" width="19.5" height="1.63" fill="#f5a082"/>
<rect x="136.7" y="208.43" width="19.5" height="1.63" fill="#f6a487"/>
<rect x="136.7" y="209.94" width="19.5" height="1.63" fill="#f49b7d"/>
<rect x="136.7" y="211.45" width="19.5" height="1.63" fill="#f39071"/>
<rect x="136.7" y="212.96" width="19.5" height="1.63" fill="#f59e81"/>
<rect x="136.7" y="214.48" width="19.5" height="1.63" fill="#f28c6d"/>
<rect x="136.7" y="215.99" width="19.5" height="1.63" fill="#f5a183"/>
<path d="M39.5 152.9H38.3V154.6H39.5M39.5 164.9H38.0V166.7H39.5M39.5 151.2H37.7V153.7H38.3M39.5 146.0H37.6V147.7H39.5M39.5 178.7H38.6V180.4H39.5M39.5 175.3H38.7V177.0H39.5M39.5 161.5H38.0V163.2H39.5M39.5 192.5H34.9V194.2H39.5M39.5 202.9H36.3V204.6H39.5M39.5 185.6H37.6V187.3H39.5M39.5 149.4H36.8V152.4H37.7M38.0 165.8H35.7V168.4H39.5M39.5 159.8H37.4V162.4H38.0M37.4 161.1H35.5V167.1H35.7M38.7 176.1H37.3V179.6H38.6M39.5 196.0H37.2V197.7H39.5M37.3 177.9H36.6V182.2H39.5M39.5 209.7H38.5V211.5H39.5M37.6 186.5H36.2V189.1H39.5M39.5 173.6H36.4V180.0H36.6M39.5 144.3H36.4V146.8H37.6M39.5 208.0H35.3V210.6H38.5M39.5 206.3H34.9V209.3H35.3M39.5 201.1H36.1V203.7H36.3M39.5 199.4H35.3V202.4H36.1M37.2 196.8H33.5V200.9H35.3M36.2 187.8H35.3V190.8H39.5M39.5 158.0H35.1V164.1H35.5M39.5 214.9H36.7V216.6H39.5M34.9 207.8H34.2V213.2H39.5M36.4 176.8H33.9V183.9H39.5M36.4 145.6H35.1V150.9H36.8M35.1 148.2H35.0V156.3H39.5M33.9 180.3H33.5V189.3H35.3M35.0 152.3H34.8V161.1H35.1M34.2 210.5H33.9V215.8H36.7M34.9 193.4H32.9V198.9H33.5M39.5 171.8H33.0V184.8H33.5M33.0 178.3H32.8V196.1H32.9M34.8 156.7H34.6V170.1H39.5M32.8 187.2H32.7V213.1H33.9M34.6 163.4H31.4V200.2H32.7" fill="none" stroke="#111" stroke-width="0.45"/>
<rect x="37.3" y="143.4" width="2.3" height="74.1" fill="#111"/>
<rect x="37.3" y="144.4" width="0.77" height="0.79" fill="#fff" opacity="0.8"/>
<rect x="37.3" y="147.34" width="0.5" height="0.45" fill="#fff" opacity="0.8"/>
<rect x="37.3" y="149.23" width="0.72" height="0.54" fill="#fff" opacity="0.8"/>
<rect x="37.3" y="151.33" width="0.6" height="0.3" fill="#fff" opacity="0.8"/>
<rect x="37.3" y="153.25" width="0.83" height="0.32" fill="#fff" opacity="0.8"/>
<rect x="37.3" y="154.87" width="1.33" height="0.59" fill="#fff" opacity="0.8"/>
<rect x="37.3" y="165.68" width="1.42" height="0.56" fill="#fff" opacity="0.8"/>
<rect x="37.3" y="172.75" width="0.9" height="0.32" fill="#fff" opacity="0.8"/>
<rect x="37.3" y="181.1" width="1.23" height="0.55" fill="#fff" opacity="0.8"/>
<rect x="37.3" y="182.42" width="0.58" height="0.67" fill="#fff" opacity="0.8"/>
<rect x="37.3" y="184.1" width="1.31" height="0.66" fill="#fff" opacity="0.8"/>
<rect x="37.3" y="187.05" width="1.03" height="0.55" fill="#fff" opacity="0.8"/>
<rect x="37.3" y="191.84" width="0.78" height="0.34" fill="#fff" opacity="0.8"/>
<rect x="37.3" y="195.6" width="1.24" height="0.33" fill="#fff" opacity="0.8"/>
<rect x="37.3" y="198.05" width="1.07" height="0.64" fill="#fff" opacity="0.8"/>
<rect x="37.3" y="200.08" width="1.48" height="0.53" fill="#fff" opacity="0.8"/>
<rect x="37.3" y="205.82" width="0.73" height="0.52" fill="#fff" opacity="0.8"/>
<rect x="37.3" y="211.61" width="1.48" height="0.71" fill="#fff" opacity="0.8"/>
<rect x="37.3" y="216.15" width="1.04" height="0.31" fill="#fff" opacity="0.8"/>
<rect x="39.6" y="219.8" width="19.4" height="1.62" fill="#7468b3"/>
<rect x="39.6" y="221.3" width="19.4" height="1.62" fill="#685dac"/>
<rect x="39.6" y="222.8" width="19.4" height="1.62" fill="#6358a9"/>
<rect x="39.6" y="224.3" width="19.4" height="1.62" fill="#7f73b9"/>
<rect x="39.6" y="225.8" width="19.4" height="1.62" fill="#756ab4"/>
<rect x="39.6" y="227.3" width="19.4" height="1.62" fill="#6d61af"/>
<rect x="39.6" y="228.8" width="19.4" height="1.62" fill="#6d62af"/>
<rect x="39.6" y="230.3" width="19.4" height="1.62" fill="#6e62af"/>
<rect x="39.6" y="231.8" width="19.4" height="1.62" fill="#897cbf"/>
<rect x="39.6" y="233.3" width="19.4" height="1.62" fill="#695ead"/>
<rect x="39.6" y="234.8" width="19.4" height="1.62" fill="#594ea3"/>
<rect x="39.6" y="236.3" width="19.4" height="1.62" fill="#675cab"/>
<rect x="39.6" y="237.8" width="19.4" height="1.62" fill="#7e72b9"/>
<rect x="39.6" y="239.3" width="19.4" height="1.62" fill="#8377bc"/>
<rect x="39.6" y="240.8" width="19.4" height="1.62" fill="#776bb5"/>
<rect x="39.6" y="242.3" width="19.4" height="1.62" fill="#877abe"/>
<rect x="39.6" y="243.8" width="19.4" height="1.62" fill="#52489f"/>
<rect x="39.6" y="245.3" width="19.4" height="1.62" fill="#685dac"/>
<rect x="39.6" y="246.8" width="19.4" height="1.62" fill="#6257a8"/>
<rect x="39.6" y="248.3" width="19.4" height="1.62" fill="#695ead"/>
<rect x="39.6" y="249.8" width="19.4" height="1.62" fill="#6055a7"/>
<rect x="39.6" y="251.3" width="19.4" height="1.62" fill="#5e53a6"/>
<rect x="39.6" y="252.8" width="19.4" height="1.62" fill="#594ea3"/>
<rect x="39.6" y="254.3" width="19.4" height="1.62" fill="#7266b2"/>
<rect x="39.6" y="255.8" width="19.4" height="1.62" fill="#7d71b8"/>
<rect x="39.6" y="257.3" width="19.4" height="1.62" fill="#7266b2"/>
<rect x="39.6" y="258.8" width="19.4" height="1.62" fill="#6156a8"/>
<rect x="39.6" y="260.3" width="19.4" height="1.62" fill="#5449a0"/>
<rect x="39.6" y="261.8" width="19.4" height="1.62" fill="#4c429c"/>
<rect x="39.6" y="263.3" width="19.4" height="1.62" fill="#584da3"/>
<rect x="39.6" y="264.8" width="19.4" height="1.62" fill="#51469f"/>
<rect x="39.6" y="266.3" width="19.4" height="1.62" fill="#493f9a"/>
<rect x="39.6" y="267.8" width="19.4" height="1.62" fill="#423896"/>
<rect x="39.6" y="269.3" width="19.4" height="1.62" fill="#50469e"/>
<rect x="39.6" y="270.8" width="19.4" height="1.62" fill="#7468b3"/>
<rect x="39.6" y="272.3" width="19.4" height="1.62" fill="#423896"/>
<rect x="39.6" y="273.8" width="19.4" height="1.62" fill="#6155a8"/>
<rect x="39.6" y="275.3" width="19.4" height="1.62" fill="#7468b3"/>
<rect x="39.6" y="276.8" width="19.4" height="1.62" fill="#6d62af"/>
<rect x="39.6" y="278.3" width="19.4" height="1.62" fill="#423896"/>
<rect x="39.6" y="279.8" width="19.4" height="1.62" fill="#423896"/>
<rect x="39.6" y="281.3" width="19.4" height="1.62" fill="#6055a7"/>
<rect x="39.6" y="282.8" width="19.4" height="1.62" fill="#6559aa"/>
<rect x="39.6" y="284.3" width="19.4" height="1.62" fill="#6a5ead"/>
<rect x="39.6" y="285.8" width="19.4" height="1.62" fill="#8074ba"/>
<rect x="39.6" y="287.3" width="19.4" height="1.62" fill="#50459e"/>
<rect x="39.6" y="288.8" width="19.4" height="1.62" fill="#a294cd"/>
<rect x="39.6" y="290.3" width="19.4" height="1.62" fill="#8376bb"/>
<rect x="39.6" y="291.8" width="19.4" height="1.62" fill="#8679bd"/>
<rect x="39.6" y="293.3" width="19.4" height="1.62" fill="#9d8fca"/>
<rect x="39.6" y="294.8" width="19.4" height="1.62" fill="#9e90cb"/>
<rect x="39.6" y="296.3" width="19.4" height="1.62" fill="#ac9fd3"/>
<rect x="39.6" y="297.8" width="19.4" height="1.62" fill="#bdb2dc"/>
<rect x="39.6" y="299.3" width="19.4" height="1.62" fill="#a092cc"/>
<rect x="39.6" y="300.8" width="19.4" height="1.62" fill="#8d80c1"/>
<rect x="39.6" y="302.3" width="19.4" height="1.62" fill="#8c7fc1"/>
<rect x="39.6" y="303.8" width="19.4" height="1.62" fill="#887bbe"/>
<rect x="39.6" y="305.3" width="19.4" height="1.62" fill="#8d80c1"/>
<rect x="39.6" y="306.8" width="19.4" height="1.62" fill="#8f82c2"/>
<rect x="39.6" y="308.3" width="19.4" height="1.62" fill="#9285c4"/>
<rect x="39.6" y="309.8" width="19.4" height="1.62" fill="#9386c5"/>
<rect x="59" y="219.8" width="19.4" height="1.62" fill="#a597cf"/>
<rect x="59" y="221.3" width="19.4" height="1.62" fill="#b2a5d6"/>
<rect x="59" y="222.8" width="19.4" height="1.62" fill="#a092cc"/>
<rect x="59" y="224.3" width="19.4" height="1.62" fill="#a598cf"/>
<rect x="59" y="225.8" width="19.4" height="1.62" fill="#a193cd"/>
<rect x="59" y="227.3" width="19.4" height="1.62" fill="#a194cd"/>
<rect x="59" y="228.8" width="19.4" height="1.62" fill="#b0a3d5"/>
<rect x="59" y="230.3" width="19.4" height="1.62" fill="#aa9cd2"/>
<rect x="59" y="231.8" width="19.4" height="1.62" fill="#b8acd9"/>
<rect x="59" y="233.3" width="19.4" height="1.62" fill="#a89ad1"/>
<rect x="59" y="234.8" width="19.4" height="1.62" fill="#988bc8"/>
<rect x="59" y="236.3" width="19.4" height="1.62" fill="#9a8dc9"/>
<rect x="59" y="237.8" width="19.4" height="1.62" fill="#b1a5d6"/>
<rect x="59" y="239.3" width="19.4" height="1.62" fill="#b1a4d6"/>
<rect x="59" y="240.8" width="19.4" height="1.62" fill="#aea0d4"/>
<rect x="59" y="242.3" width="19.4" height="1.62" fill="#cfc7e5"/>
<rect x="59" y="243.8" width="19.4" height="1.62" fill="#a699d0"/>
<rect x="59" y="245.3" width="19.4" height="1.62" fill="#9689c6"/>
<rect x="59" y="246.8" width="19.4" height="1.62" fill="#a89ad1"/>
<rect x="59" y="248.3" width="19.4" height="1.62" fill="#a294cd"/>
<rect x="59" y="249.8" width="19.4" height="1.62" fill="#8d80c1"/>
<rect x="59" y="251.3" width="19.4" height="1.62" fill="#897dbf"/>
<rect x="59" y="252.8" width="19.4" height="1.62" fill="#9386c5"/>
<rect x="59" y="254.3" width="19.4" height="1.62" fill="#9588c6"/>
<rect x="59" y="255.8" width="19.4" height="1.62" fill="#bbafdb"/>
<rect x="59" y="257.3" width="19.4" height="1.62" fill="#a89bd1"/>
<rect x="59" y="258.8" width="19.4" height="1.62" fill="#a294cd"/>
<rect x="59" y="260.3" width="19.4" height="1.62" fill="#7468b3"/>
<rect x="59" y="261.8" width="19.4" height="1.62" fill="#6156a8"/>
<rect x="59" y="263.3" width="19.4" height="1.62" fill="#5a4fa4"/>
<rect x="59" y="264.8" width="19.4" height="1.62" fill="#4b409b"/>
<rect x="59" y="266.3" width="19.4" height="1.62" fill="#423896"/>
<rect x="59" y="267.8" width="19.4" height="1.62" fill="#6459aa"/>
<rect x="59" y="269.3" width="19.4" height="1.62" fill="#655aaa"/>
<rect x="59" y="270.8" width="19.4" height="1.62" fill="#7367b2"/>
<rect x="59" y="272.3" width="19.4" height="1.62" fill="#5e53a6"/>
<rect x="59" y="273.8" width="19.4" height="1.62" fill="#7367b2"/>
<rect x="59" y="275.3" width="19.4" height="1.62" fill="#7367b2"/>
<rect x="59" y="276.8" width="19.4" height="1.62" fill="#7c70b8"/>
<rect x="59" y="278.3" width="19.4" height="1.62" fill="#665bab"/>
<rect x="59" y="279.8" width="19.4" height="1.62" fill="#7266b2"/>
<rect x="59" y="281.3" width="19.4" height="1.62" fill="#8174ba"/>
<rect x="59" y="282.8" width="19.4" height="1.62" fill="#6459aa"/>
<rect x="59" y="284.3" width="19.4" height="1.62" fill="#7367b2"/>
<rect x="59" y="285.8" width="19.4" height="1.62" fill="#9184c3"/>
<rect x="59" y="287.3" width="19.4" height="1.62" fill="#5e53a6"/>
<rect x="59" y="288.8" width="19.4" height="1.62" fill="#6b5fad"/>
<rect x="59" y="290.3" width="19.4" height="1.62" fill="#6055a7"/>
<rect x="59" y="291.8" width="19.4" height="1.62" fill="#6055a7"/>
<rect x="59" y="293.3" width="19.4" height="1.62" fill="#695ead"/>
<rect x="59" y="294.8" width="19.4" height="1.62" fill="#574ca2"/>
<rect x="59" y="296.3" width="19.4" height="1.62" fill="#6b60ae"/>
<rect x="59" y="297.8" width="19.4" height="1.62" fill="#887bbe"/>
<rect x="59" y="299.3" width="19.4" height="1.62" fill="#7f73b9"/>
<rect x="59" y="300.8" width="19.4" height="1.62" fill="#6a5fad"/>
<rect x="59" y="302.3" width="19.4" height="1.62" fill="#6155a8"/>
<rect x="59" y="303.8" width="19.4" height="1.62" fill="#5c51a5"/>
<rect x="59" y="305.3" width="19.4" height="1.62" fill="#6c60ae"/>
<rect x="59" y="306.8" width="19.4" height="1.62" fill="#6358a9"/>
<rect x="59" y="308.3" width="19.4" height="1.62" fill="#5b50a4"/>
<rect x="59" y="309.8" width="19.4" height="1.62" fill="#5d52a6"/>
<rect x="78.4" y="219.8" width="19.5" height="1.62" fill="#fbd1c0"/>
<rect x="78.4" y="221.3" width="19.5" height="1.62" fill="#fbd3c2"/>
<rect x="78.4" y="222.8" width="19.5" height="1.62" fill="#facab6"/>
<rect x="78.4" y="224.3" width="19.5" height="1.62" fill="#fbd0be"/>
<rect x="78.4" y="225.8" width="19.5" height="1.62" fill="#fbd6c6"/>
<rect x="78.4" y="227.3" width="19.5" height="1.62" fill="#fac9b5"/>
<rect x="78.4" y="228.8" width="19.5" height="1.62" fill="#f9c3ac"/>
<rect x="78.4" y="230.3" width="19.5" height="1.62" fill="#fbd0be"/>
<rect x="78.4" y="231.8" width="19.5" height="1.62" fill="#fbcfbe"/>
<rect x="78.4" y="233.3" width="19.5" height="1.62" fill="#f9c1a9"/>
<rect x="78.4" y="234.8" width="19.5" height="1.62" fill="#f9bba1"/>
<rect x="78.4" y="236.3" width="19.5" height="1.62" fill="#f9c3ad"/>
<rect x="78.4" y="237.8" width="19.5" height="1.62" fill="#fbcfbe"/>
<rect x="78.4" y="239.3" width="19.5" height="1.62" fill="#fbd6c7"/>
<rect x="78.4" y="240.8" width="19.5" height="1.62" fill="#f9c0a9"/>
<rect x="78.4" y="242.3" width="19.5" height="1.62" fill="#fcded2"/>
<rect x="78.4" y="243.8" width="19.5" height="1.62" fill="#fac9b4"/>
<rect x="78.4" y="245.3" width="19.5" height="1.62" fill="#facebb"/>
<rect x="78.4" y="246.8" width="19.5" height="1.62" fill="#fbd5c5"/>
<rect x="78.4" y="248.3" width="19.5" height="1.62" fill="#fbd5c6"/>
<rect x="78.4" y="249.8" width="19.5" height="1.62" fill="#facab6"/>
<rect x="78.4" y="251.3" width="19.5" height="1.62" fill="#fac8b3"/>
<rect x="78.4" y="252.8" width="19.5" height="1.62" fill="#fbd5c5"/>
<rect x="78.4" y="254.3" width="19.5" height="1.62" fill="#f9c0a8"/>
<rect x="78.4" y="255.8" width="19.5" height="1.62" fill="#f9bfa6"/>
<rect x="78.4" y="257.3" width="19.5" height="1.62" fill="#f7b094"/>
<rect x="78.4" y="258.8" width="19.5" height="1.62" fill="#f9bea6"/>
<rect x="78.4" y="260.3" width="19.5" height="1.62" fill="#f9bfa8"/>
<rect x="78.4" y="261.8" width="19.5" height="1.62" fill="#f8b599"/>
<rect x="78.4" y="263.3" width="19.5" height="1.62" fill="#fac9b5"/>
<rect x="78.4" y="264.8" width="19.5" height="1.62" fill="#fac5b0"/>
<rect x="78.4" y="266.3" width="19.5" height="1.62" fill="#f8b69b"/>
<rect x="78.4" y="267.8" width="19.5" height="1.62" fill="#facdba"/>
<rect x="78.4" y="269.3" width="19.5" height="1.62" fill="#fac8b3"/>
<rect x="78.4" y="270.8" width="19.5" height="1.62" fill="#fbd2c1"/>
<rect x="78.4" y="272.3" width="19.5" height="1.62" fill="#f9c1aa"/>
<rect x="78.4" y="273.8" width="19.5" height="1.62" fill="#fcdccf"/>
<rect x="78.4" y="275.3" width="19.5" height="1.62" fill="#fbd9ca"/>
<rect x="78.4" y="276.8" width="19.5" height="1.62" fill="#fbd2c1"/>
<rect x="78.4" y="278.3" width="19.5" height="1.62" fill="#f9c1aa"/>
<rect x="78.4" y="279.8" width="19.5" height="1.62" fill="#f9bea5"/>
<rect x="78.4" y="281.3" width="19.5" height="1.62" fill="#fcdfd3"/>
<rect x="78.4" y="282.8" width="19.5" height="1.62" fill="#fbd2c1"/>
<rect x="78.4" y="284.3" width="19.5" height="1.62" fill="#fbd5c5"/>
<rect x="78.4" y="285.8" width="19.5" height="1.62" fill="#fac9b5"/>
<rect x="78.4" y="287.3" width="19.5" height="1.62" fill="#f7b094"/>
<rect x="78.4" y="288.8" width="19.5" height="1.62" fill="#f8b89d"/>
<rect x="78.4" y="290.3" width="19.5" height="1.62" fill="#f7ab8e"/>
<rect x="78.4" y="291.8" width="19.5" height="1.62" fill="#f7ac8f"/>
<rect x="78.4" y="293.3" width="19.5" height="1.62" fill="#f9c4ae"/>
<rect x="78.4" y="294.8" width="19.5" height="1.62" fill="#fac5af"/>
<rect x="78.4" y="296.3" width="19.5" height="1.62" fill="#f8b89d"/>
<rect x="78.4" y="297.8" width="19.5" height="1.62" fill="#fcded2"/>
<rect x="78.4" y="299.3" width="19.5" height="1.62" fill="#fcddd0"/>
<rect x="78.4" y="300.8" width="19.5" height="1.62" fill="#faccb9"/>
<rect x="78.4" y="302.3" width="19.5" height="1.62" fill="#fbd7c8"/>
<rect x="78.4" y="303.8" width="19.5" height="1.62" fill="#fac9b5"/>
<rect x="78.4" y="305.3" width="19.5" height="1.62" fill="#fbcfbd"/>
<rect x="78.4" y="306.8" width="19.5" height="1.62" fill="#facbb8"/>
<rect x="78.4" y="308.3" width="19.5" height="1.62" fill="#fcdacd"/>
<rect x="78.4" y="309.8" width="19.5" height="1.62" fill="#fcddd0"/>
<rect x="97.9" y="219.8" width="19.4" height="1.62" fill="#facbb7"/>
<rect x="97.9" y="221.3" width="19.4" height="1.62" fill="#f9bfa7"/>
<rect x="97.9" y="222.8" width="19.4" height="1.62" fill="#f8b79c"/>
<rect x="97.9" y="224.3" width="19.4" height="1.62" fill="#facebc"/>
<rect x="97.9" y="225.8" width="19.4" height="1.62" fill="#f9bba2"/>
<rect x="97.9" y="227.3" width="19.4" height="1.62" fill="#f8b296"/>
<rect x="97.9" y="228.8" width="19.4" height="1.62" fill="#f8b79c"/>
<rect x="97.9" y="230.3" width="19.4" height="1.62" fill="#f8b79c"/>
<rect x="97.9" y="231.8" width="19.4" height="1.62" fill="#f9c1a9"/>
<rect x="97.9" y="233.3" width="19.4" height="1.62" fill="#f9bfa7"/>
<rect x="97.9" y="234.8" width="19.4" height="1.62" fill="#f7aa8e"/>
<rect x="97.9" y="236.3" width="19.4" height="1.62" fill="#f7af92"/>
<rect x="97.9" y="237.8" width="19.4" height="1.62" fill="#f9baa0"/>
<rect x="97.9" y="239.3" width="19.4" height="1.62" fill="#f9bca3"/>
<rect x="97.9" y="240.8" width="19.4" height="1.62" fill="#f9c0a8"/>
<rect x="97.9" y="242.3" width="19.4" height="1.62" fill="#fbd5c5"/>
<rect x="97.9" y="243.8" width="19.4" height="1.62" fill="#f9bfa7"/>
<rect x="97.9" y="245.3" width="19.4" height="1.62" fill="#fac6b1"/>
<rect x="97.9" y="246.8" width="19.4" height="1.62" fill="#f9bfa7"/>
<rect x="97.9" y="248.3" width="19.4" height="1.62" fill="#facbb7"/>
<rect x="97.9" y="249.8" width="19.4" height="1.62" fill="#f8b69b"/>
<rect x="97.9" y="251.3" width="19.4" height="1.62" fill="#f7ac8f"/>
<rect x="97.9" y="252.8" width="19.4" height="1.62" fill="#f7ac8f"/>
<rect x="97.9" y="254.3" width="19.4" height="1.62" fill="#f7ac8f"/>
<rect x="97.9" y="255.8" width="19.4" height="1.62" fill="#f9bea6"/>
<rect x="97.9" y="257.3" width="19.4" height="1.62" fill="#f8b397"/>
<rect x="97.9" y="258.8" width="19.4" height="1.62" fill="#f8b79c"/>
<rect x="97.9" y="260.3" width="19.4" height="1.62" fill="#f9bea6"/>
<rect x="97.9" y="261.8" width="19.4" height="1.62" fill="#f8b397"/>
<rect x="97.9" y="263.3" width="19.4" height="1.62" fill="#f49a7c"/>
<rect x="97.9" y="264.8" width="19.4" height="1.62" fill="#f59e80"/>
<rect x="97.9" y="266.3" width="19.4" height="1.62" fill="#f18667"/>
<rect x="97.9" y="267.8" width="19.4" height="1.62" fill="#f5a385"/>
<rect x="97.9" y="269.3" width="19.4" height="1.62" fill="#f5a083"/>
<rect x="97.9" y="270.8" width="19.4" height="1.62" fill="#f8b79c"/>
<rect x="97.9" y="272.3" width="19.4" height="1.62" fill="#f7af93"/>
<rect x="97.9" y="273.8" width="19.4" height="1.62" fill="#f9bea6"/>
<rect x="97.9" y="275.3" width="19.4" height="1.62" fill="#facebc"/>
<rect x="97.9" y="276.8" width="19.4" height="1.62" fill="#fac8b3"/>
<rect x="97.9" y="278.3" width="19.4" height="1.62" fill="#f9bca4"/>
<rect x="97.9" y="279.8" width="19.4" height="1.62" fill="#f7af93"/>
<rect x="97.9" y="281.3" width="19.4" height="1.62" fill="#fac7b3"/>
<rect x="97.9" y="282.8" width="19.4" height="1.62" fill="#fac8b3"/>
<rect x="97.9" y="284.3" width="19.4" height="1.62" fill="#f9bfa8"/>
<rect x="97.9" y="285.8" width="19.4" height="1.62" fill="#facbb8"/>
<rect x="97.9" y="287.3" width="19.4" height="1.62" fill="#f59f81"/>
<rect x="97.9" y="288.8" width="19.4" height="1.62" fill="#f39273"/>
<rect x="97.9" y="290.3" width="19.4" height="1.62" fill="#f49b7d"/>
<rect x="97.9" y="291.8" width="19.4" height="1.62" fill="#f38f70"/>
<rect x="97.9" y="293.3" width="19.4" height="1.62" fill="#f8b296"/>
<rect x="97.9" y="294.8" width="19.4" height="1.62" fill="#f59f82"/>
<rect x="97.9" y="296.3" width="19.4" height="1.62" fill="#f6a98d"/>
<rect x="97.9" y="297.8" width="19.4" height="1.62" fill="#fac4ae"/>
<rect x="97.9" y="299.3" width="19.4" height="1.62" fill="#f9c0a8"/>
<rect x="97.9" y="300.8" width="19.4" height="1.62" fill="#f6a78a"/>
<rect x="97.9" y="302.3" width="19.4" height="1.62" fill="#f6a98c"/>
<rect x="97.9" y="303.8" width="19.4" height="1.62" fill="#f6a98c"/>
<rect x="97.9" y="305.3" width="19.4" height="1.62" fill="#f8b99e"/>
<rect x="97.9" y="306.8" width="19.4" height="1.62" fill="#f7ab8f"/>
<rect x="97.9" y="308.3" width="19.4" height="1.62" fill="#f59f82"/>
<rect x="97.9" y="309.8" width="19.4" height="1.62" fill="#f5a385"/>
<rect x="117.3" y="219.8" width="19.4" height="1.62" fill="#f8b498"/>
<rect x="117.3" y="221.3" width="19.4" height="1.62" fill="#f5a083"/>
<rect x="117.3" y="222.8" width="19.4" height="1.62" fill="#f8b295"/>
<rect x="117.3" y="224.3" width="19.4" height="1.62" fill="#fac8b4"/>
<rect x="117.3" y="225.8" width="19.4" height="1.62" fill="#f7b094"/>
<rect x="117.3" y="227.3" width="19.4" height="1.62" fill="#f6a78a"/>
<rect x="117.3" y="228.8" width="19.4" height="1.62" fill="#f5a284"/>
<rect x="117.3" y="230.3" width="19.4" height="1.62" fill="#f8b89d"/>
<rect x="117.3" y="231.8" width="19.4" height="1.62" fill="#f9c4ae"/>
<rect x="117.3" y="233.3" width="19.4" height="1.62" fill="#f7ab8e"/>
<rect x="117.3" y="234.8" width="19.4" height="1.62" fill="#f4997b"/>
<rect x="117.3" y="236.3" width="19.4" height="1.62" fill="#f5a385"/>
<rect x="117.3" y="237.8" width="19.4" height="1.62" fill="#f8b69b"/>
<rect x="117.3" y="239.3" width="19.4" height="1.62" fill="#f49c7e"/>
<rect x="117.3" y="240.8" width="19.4" height="1.62" fill="#f7ac90"/>
<rect x="117.3" y="242.3" width="19.4" height="1.62" fill="#fbd1c0"/>
<rect x="117.3" y="243.8" width="19.4" height="1.62" fill="#f9baa0"/>
<rect x="117.3" y="245.3" width="19.4" height="1.62" fill="#f8b195"/>
<rect x="117.3" y="246.8" width="19.4" height="1.62" fill="#f9bba2"/>
<rect x="117.3" y="248.3" width="19.4" height="1.62" fill="#f9bba2"/>
<rect x="117.3" y="249.8" width="19.4" height="1.62" fill="#f7ae92"/>
<rect x="117.3" y="251.3" width="19.4" height="1.62" fill="#f9bea5"/>
<rect x="117.3" y="252.8" width="19.4" height="1.62" fill="#f7ad90"/>
<rect x="117.3" y="254.3" width="19.4" height="1.62" fill="#f59f81"/>
<rect x="117.3" y="255.8" width="19.4" height="1.62" fill="#f8b397"/>
<rect x="117.3" y="257.3" width="19.4" height="1.62" fill="#f7ad91"/>
<rect x="117.3" y="258.8" width="19.4" height="1.62" fill="#f8b599"/>
<rect x="117.3" y="260.3" width="19.4" height="1.62" fill="#f7af93"/>
<rect x="117.3" y="261.8" width="19.4" height="1.62" fill="#f59d7f"/>
<rect x="117.3" y="263.3" width="19.4" height="1.62" fill="#f49779"/>
<rect x="117.3" y="264.8" width="19.4" height="1.62" fill="#f5a184"/>
<rect x="117.3" y="266.3" width="19.4" height="1.62" fill="#f39577"/>
<rect x="117.3" y="267.8" width="19.4" height="1.62" fill="#f6a689"/>
<rect x="117.3" y="269.3" width="19.4" height="1.62" fill="#f5a083"/>
<rect x="117.3" y="270.8" width="19.4" height="1.62" fill="#f9bba2"/>
<rect x="117.3" y="272.3" width="19.4" height="1.62" fill="#f28f70"/>
<rect x="117.3" y="273.8" width="19.4" height="1.62" fill="#f6a78a"/>
<rect x="117.3" y="275.3" width="19.4" height="1.62" fill="#f8b599"/>
<rect x="117.3" y="276.8" width="19.4" height="1.62" fill="#f8b397"/>
<rect x="117.3" y="278.3" width="19.4" height="1.62" fill="#f28a6b"/>
<rect x="117.3" y="279.8" width="19.4" height="1.62" fill="#f39677"/>
<rect x="117.3" y="281.3" width="19.4" height="1.62" fill="#f8b599"/>
<rect x="117.3" y="282.8" width="19.4" height="1.62" fill="#f5a385"/>
<rect x="117.3" y="284.3" width="19.4" height="1.62" fill="#fbcfbd"/>
<rect x="117.3" y="285.8" width="19.4" height="1.62" fill="#fce1d5"/>
<rect x="117.3" y="287.3" width="19.4" height="1.62" fill="#facbb8"/>
<rect x="117.3" y="288.8" width="19.4" height="1.62" fill="#fac4ae"/>
<rect x="117.3" y="290.3" width="19.4" height="1.62" fill="#f9c1aa"/>
<rect x="117.3" y="291.8" width="19.4" height="1.62" fill="#f9c3ad"/>
<rect x="117.3" y="293.3" width="19.4" height="1.62" fill="#fbd5c6"/>
<rect x="117.3" y="294.8" width="19.4" height="1.62" fill="#fbcfbe"/>
<rect x="117.3" y="296.3" width="19.4" height="1.62" fill="#faccba"/>
<rect x="117.3" y="297.8" width="19.4" height="1.62" fill="#fce2d6"/>
<rect x="117.3" y="299.3" width="19.4" height="1.62" fill="#fcdfd2"/>
<rect x="117.3" y="300.8" width="19.4" height="1.62" fill="#fbd3c3"/>
<rect x="117.3" y="302.3" width="19.4" height="1.62" fill="#fcdacc"/>
<rect x="117.3" y="303.8" width="19.4" height="1.62" fill="#fbd9cb"/>
<rect x="117.3" y="305.3" width="19.4" height="1.62" fill="#fbd4c3"/>
<rect x="117.3" y="306.8" width="19.4" height="1.62" fill="#fac9b5"/>
<rect x="117.3" y="308.3" width="19.4" height="1.62" fill="#facab6"/>
<rect x="117.3" y="309.8" width="19.4" height="1.62" fill="#fac5af"/>
<rect x="136.7" y="219.8" width="19.5" height="1.62" fill="#f49a7c"/>
<rect x="136.7" y="221.3" width="19.5" height="1.62" fill="#f59f82"/>
<rect x="136.7" y="222.8" width="19.5" height="1.62" fill="#f4997b"/>
<rect x="136.7" y="224.3" width="19.5" height="1.62" fill="#f4997b"/>
<rect x="136.7" y="225.8" width="19.5" height="1.62" fill="#f49a7c"/>
<rect x="136.7" y="227.3" width="19.5" height="1.62" fill="#f4987a"/>
<rect x="136.7" y="228.8" width="19.5" height="1.62" fill="#f6a78a"/>
<rect x="136.7" y="230.3" width="19.5" height="1.62" fill="#f49c7e"/>
<rect x="136.7" y="231.8" width="19.5" height="1.62" fill="#f9bca3"/>
<rect x="136.7" y="233.3" width="19.5" height="1.62" fill="#f59d7f"/>
<rect x="136.7" y="234.8" width="19.5" height="1.62" fill="#f2896a"/>
<rect x="136.7" y="236.3" width="19.5" height="1.62" fill="#f6a88b"/>
<rect x="136.7" y="237.8" width="19.5" height="1.62" fill="#f9c0a9"/>
<rect x="136.7" y="239.3" width="19.5" height="1.62" fill="#f8b69b"/>
<rect x="136.7" y="240.8" width="19.5" height="1.62" fill="#f6a588"/>
<rect x="136.7" y="242.3" width="19.5" height="1.62" fill="#fac8b3"/>
<rect x="136.7" y="243.8" width="19.5" height="1.62" fill="#f6a78b"/>
<rect x="136.7" y="245.3" width="19.5" height="1.62" fill="#f8b59a"/>
<rect x="136.7" y="246.8" width="19.5" height="1.62" fill="#f8b499"/>
<rect x="136.7" y="248.3" width="19.5" height="1.62" fill="#f8b89d"/>
<rect x="136.7" y="249.8" width="19.5" height="1.62" fill="#f59f81"/>
<rect x="136.7" y="251.3" width="19.5" height="1.62" fill="#f49677"/>
<rect x="136.7" y="252.8" width="19.5" height="1.62" fill="#f49b7d"/>
<rect x="136.7" y="254.3" width="19.5" height="1.62" fill="#f7ac8f"/>
<rect x="136.7" y="255.8" width="19.5" height="1.62" fill="#f7b094"/>
<rect x="136.7" y="257.3" width="19.5" height="1.62" fill="#f49a7d"/>
<rect x="136.7" y="258.8" width="19.5" height="1.62" fill="#f5a386"/>
<rect x="136.7" y="260.3" width="19.5" height="1.62" fill="#f39273"/>
<rect x="136.7" y="261.8" width="19.5" height="1.62" fill="#ef7756"/>
<rect x="136.7" y="263.3" width="19.5" height="1.62" fill="#ef7757"/>
<rect x="136.7" y="264.8" width="19.5" height="1.62" fill="#f07f5f"/>
<rect x="136.7" y="266.3" width="19.5" height="1.62" fill="#eb5c39"/>
<rect x="136.7" y="267.8" width="19.5" height="1.62" fill="#ef7756"/>
<rect x="136.7" y="269.3" width="19.5" height="1.62" fill="#f39375"/>
<rect x="136.7" y="270.8" width="19.5" height="1.62" fill="#f49b7d"/>
<rect x="136.7" y="272.3" width="19.5" height="1.62" fill="#f39274"/>
<rect x="136.7" y="273.8" width="19.5" height="1.62" fill="#f8b69a"/>
<rect x="136.7" y="275.3" width="19.5" height="1.62" fill="#f8b79c"/>
<rect x="136.7" y="276.8" width="19.5" height="1.62" fill="#f6a588"/>
<rect x="136.7" y="278.3" width="19.5" height="1.62" fill="#f28e6f"/>
<rect x="136.7" y="279.8" width="19.5" height="1.62" fill="#f18565"/>
<rect x="136.7" y="281.3" width="19.5" height="1.62" fill="#f49a7c"/>
<rect x="136.7" y="282.8" width="19.5" height="1.62" fill="#f6a78a"/>
<rect x="136.7" y="284.3" width="19.5" height="1.62" fill="#fac8b3"/>
<rect x="136.7" y="285.8" width="19.5" height="1.62" fill="#fac7b2"/>
<rect x="136.7" y="287.3" width="19.5" height="1.62" fill="#f8b99f"/>
<rect x="136.7" y="288.8" width="19.5" height="1.62" fill="#f8b195"/>
<rect x="136.7" y="290.3" width="19.5" height="1.62" fill="#f8b599"/>
<rect x="136.7" y="291.8" width="19.5" height="1.62" fill="#f7af93"/>
<rect x="136.7" y="293.3" width="19.5" height="1.62" fill="#f9bca3"/>
<rect x="136.7" y="294.8" width="19.5" height="1.62" fill="#f6a98d"/>
<rect x="136.7" y="296.3" width="19.5" height="1.62" fill="#f8b69a"/>
<rect x="136.7" y="297.8" width="19.5" height="1.62" fill="#fbd5c5"/>
<rect x="136.7" y="299.3" width="19.5" height="1.62" fill="#fcdacd"/>
<rect x="136.7" y="300.8" width="19.5" height="1.62" fill="#fac9b5"/>
<rect x="136.7" y="302.3" width="19.5" height="1.62" fill="#f9bca4"/>
<rect x="136.7" y="303.8" width="19.5" height="1.62" fill="#f7b093"/>
<rect x="136.7" y="305.3" width="19.5" height="1.62" fill="#f8b599"/>
<rect x="136.7" y="306.8" width="19.5" height="1.62" fill="#f7af93"/>
<rect x="136.7" y="308.3" width="19.5" height="1.62" fill="#f9bfa7"/>
<rect x="136.7" y="309.8" width="19.5" height="1.62" fill="#f9bfa7"/>
<path d="M39.5 253.5H37.5V255.2H39.5M37.5 254.3H36.6V256.9H39.5M39.5 270.7H38.1V272.5H39.5M39.5 263.8H38.0V265.6H39.5M39.5 275.9H38.5V277.6H39.5M39.5 220.7H37.6V222.4H39.5M39.5 284.5H37.9V286.3H39.5M39.5 279.4H37.2V281.1H39.5M39.5 282.8H36.3V285.4H37.9M39.5 288.0H38.1V289.7H39.5M39.5 229.3H38.5V231.0H39.5M37.2 280.2H35.8V284.1H36.3M38.1 288.9H37.2V291.4H39.5M39.5 225.8H38.7V227.6H39.5M39.5 239.7H38.6V241.4H39.5M39.5 267.3H37.1V269.0H39.5M39.5 303.5H38.6V305.3H39.5M38.6 304.4H36.3V307.0H39.5M38.6 240.5H38.2V243.1H39.5M39.5 232.7H34.7V234.5H39.5M38.2 241.8H37.7V244.8H39.5M39.5 301.8H35.8V305.7H36.3M39.5 296.6H36.4V298.4H39.5M39.5 236.2H37.4V237.9H39.5M39.5 294.9H34.7V297.5H36.4M38.7 226.7H36.6V230.2H38.5M35.8 282.2H34.9V290.2H37.2M37.7 243.3H37.2V246.6H39.5M39.5 293.2H34.5V296.2H34.7M37.1 268.1H36.8V271.6H38.1M38.5 276.8H33.2V286.2H34.9M39.5 274.2H33.0V281.5H33.2M39.5 251.7H35.8V255.6H36.6M39.5 250.0H35.5V253.7H35.8M39.5 224.1H36.3V228.4H36.6M33.0 277.8H32.9V294.7H34.5M39.5 260.4H37.4V262.1H39.5M39.5 308.7H38.1V310.4H39.5M39.5 300.1H34.8V303.7H35.8M36.3 226.3H33.8V233.6H34.7M37.6 221.5H33.3V229.9H33.8M39.5 258.6H35.1V261.2H37.4M36.8 269.9H32.4V286.3H32.9M37.4 237.1H36.7V244.9H37.2M32.4 278.1H31.8V301.9H34.8M39.5 248.3H35.2V251.8H35.5M35.2 250.1H34.5V259.9H35.1M34.5 255.0H34.2V264.7H38.0M33.3 225.7H32.9V241.0H36.7M32.9 233.4H32.5V259.8H34.2M32.5 246.6H31.6V290.0H31.8M31.6 268.3H31.4V309.6H38.1" fill="none" stroke="#111" stroke-width="0.45"/>
<rect x="37.3" y="219.8" width="2.3" height="91.5" fill="#111"/>
<rect x="37.3" y="226.22" width="1.19" height="0.41" fill="#fff" opacity="0.8"/>
<rect x="37.3" y="228.17" width="1.04" height="0.48" fill="#fff" opacity="0.8"/>
<rect x="37.3" y="230.47" width="1.12" height="0.32" fill="#fff" opacity="0.8"/>
<rect x="37.3" y="232.22" width="0.95" height="0.56" fill="#fff" opacity="0.8"/>
<rect x="37.3" y="233.96" width="1.41" height="0.37" fill="#fff" opacity="0.8"/>
<rect x="37.3" y="237.92" width="0.66" height="0.53" fill="#fff" opacity="0.8"/>
<rect x="37.3" y="248.35" width="0.68" height="0.56" fill="#fff" opacity="0.8"/>
<rect x="37.3" y="249.55" width="0.7" height="0.33" fill="#fff" opacity="0.8"/>
<rect x="37.3" y="251.03" width="1.17" height="0.76" fill="#fff" opacity="0.8"/>
<rect x="37.3" y="253.42" width="1.07" height="0.4" fill="#fff" opacity="0.8"/>
<rect x="37.3" y="255.77" width="1.17" height="0.62" fill="#fff" opacity="0.8"/>
<rect x="37.3" y="260.88" width="1.09" height="0.66" fill="#fff" opacity="0.8"/>
<rect x="37.3" y="264.1" width="1.6" height="0.63" fill="#fff" opacity="0.8"/>
<rect x="37.3" y="265.77" width="1.48" height="0.62" fill="#fff" opacity="0.8"/>
<rect x="37.3" y="268.63" width="0.56" height="0.77" fill="#fff" opacity="0.8"/>
<rect x="37.3" y="273.83" width="1.52" height="0.79" fill="#fff" opacity="0.8"/>
<rect x="37.3" y="276.64" width="0.69" height="0.34" fill="#fff" opacity="0.8"/>
<rect x="37.3" y="279.47" width="0.68" height="0.72" fill="#fff" opacity="0.8"/>
<rect x="37.3" y="282.31" width="1.16" height="0.4" fill="#fff" opacity="0.8"/>
<rect x="37.3" y="287.16" width="1.02" height="0.72" fill="#fff" opacity="0.8"/>
<rect x="37.3" y="289.32" width="1.55" height="0.3" fill="#fff" opacity="0.8"/>
<rect x="37.3" y="294.35" width="1.18" height="0.32" fill="#fff" opacity="0.8"/>
<rect x="37.3" y="298.38" width="1.44" height="0.33" fill="#fff" opacity="0.8"/>
<rect x="37.3" y="305.67" width="0.77" height="0.66" fill="#fff" opacity="0.8"/>
<rect x="37.3" y="310.08" width="1.33" height="0.68" fill="#fff" opacity="0.8"/>
<rect x="39.6" y="313" width="19.4" height="1.68" fill="#f9c3ac"/>
<rect x="39.6" y="314.56" width="19.4" height="1.68" fill="#f9c1aa"/>
<rect x="39.6" y="316.13" width="19.4" height="1.68" fill="#f9c3ad"/>
<rect x="39.6" y="317.69" width="19.4" height="1.68" fill="#fcdfd3"/>
<rect x="39.6" y="319.25" width="19.4" height="1.68" fill="#fcddd1"/>
<rect x="39.6" y="320.82" width="19.4" height="1.68" fill="#feefe9"/>
<rect x="39.6" y="322.38" width="19.4" height="1.68" fill="#fef5f1"/>
<rect x="39.6" y="323.95" width="19.4" height="1.68" fill="#fce4d9"/>
<rect x="39.6" y="325.51" width="19.4" height="1.68" fill="#f5a082"/>
<rect x="39.6" y="327.07" width="19.4" height="1.68" fill="#f39172"/>
<rect x="39.6" y="328.64" width="19.4" height="1.68" fill="#f28d6e"/>
<rect x="39.6" y="330.2" width="19.4" height="1.68" fill="#fce0d4"/>
<rect x="39.6" y="331.76" width="19.4" height="1.68" fill="#fbd1c0"/>
<rect x="39.6" y="333.33" width="19.4" height="1.68" fill="#fbd9cb"/>
<rect x="39.6" y="334.89" width="19.4" height="1.68" fill="#fef7f3"/>
<rect x="39.6" y="336.45" width="19.4" height="1.68" fill="#e3def0"/>
<rect x="39.6" y="338.02" width="19.4" height="1.68" fill="#d0c9e6"/>
<rect x="39.6" y="339.58" width="19.4" height="1.68" fill="#ddd7ed"/>
<rect x="39.6" y="341.15" width="19.4" height="1.68" fill="#c7bde1"/>
<rect x="39.6" y="342.71" width="19.4" height="1.68" fill="#e4dff0"/>
<rect x="39.6" y="344.27" width="19.4" height="1.68" fill="#eae7f4"/>
<rect x="39.6" y="345.84" width="19.4" height="1.68" fill="#f5f4fa"/>
<rect x="59" y="313" width="19.4" height="1.68" fill="#b0a3d5"/>
<rect x="59" y="314.56" width="19.4" height="1.68" fill="#a89ad1"/>
<rect x="59" y="316.13" width="19.4" height="1.68" fill="#ada0d4"/>
<rect x="59" y="317.69" width="19.4" height="1.68" fill="#b3a6d7"/>
<rect x="59" y="319.25" width="19.4" height="1.68" fill="#a79ad1"/>
<rect x="59" y="320.82" width="19.4" height="1.68" fill="#8478bc"/>
<rect x="59" y="322.38" width="19.4" height="1.68" fill="#9487c5"/>
<rect x="59" y="323.95" width="19.4" height="1.68" fill="#8376bb"/>
<rect x="59" y="325.51" width="19.4" height="1.68" fill="#897cbf"/>
<rect x="59" y="327.07" width="19.4" height="1.68" fill="#cfc7e6"/>
<rect x="59" y="328.64" width="19.4" height="1.68" fill="#dbd6ec"/>
<rect x="59" y="330.2" width="19.4" height="1.68" fill="#f5f4fa"/>
<rect x="59" y="331.76" width="19.4" height="1.68" fill="#887bbe"/>
<rect x="59" y="333.33" width="19.4" height="1.68" fill="#7c70b8"/>
<rect x="59" y="334.89" width="19.4" height="1.68" fill="#6c61af"/>
<rect x="59" y="336.45" width="19.4" height="1.68" fill="#6b60ae"/>
<rect x="59" y="338.02" width="19.4" height="1.68" fill="#6055a7"/>
<rect x="59" y="339.58" width="19.4" height="1.68" fill="#7b6fb7"/>
<rect x="59" y="341.15" width="19.4" height="1.68" fill="#5449a0"/>
<rect x="59" y="342.71" width="19.4" height="1.68" fill="#5a4fa4"/>
<rect x="59" y="344.27" width="19.4" height="1.68" fill="#5d52a6"/>
<rect x="59" y="345.84" width="19.4" height="1.68" fill="#6f63b0"/>
<rect x="78.4" y="313" width="19.5" height="1.68" fill="#fac8b4"/>
<rect x="78.4" y="314.56" width="19.5" height="1.68" fill="#facebc"/>
<rect x="78.4" y="316.13" width="19.5" height="1.68" fill="#f9bba1"/>
<rect x="78.4" y="317.69" width="19.5" height="1.68" fill="#f9bfa7"/>
<rect x="78.4" y="319.25" width="19.5" height="1.68" fill="#f9c2ab"/>
<rect x="78.4" y="320.82" width="19.5" height="1.68" fill="#f9bfa8"/>
<rect x="78.4" y="322.38" width="19.5" height="1.68" fill="#f8b397"/>
<rect x="78.4" y="323.95" width="19.5" height="1.68" fill="#f6a689"/>
<rect x="78.4" y="325.51" width="19.5" height="1.68" fill="#f9bca3"/>
<rect x="78.4" y="327.07" width="19.5" height="1.68" fill="#f9bda5"/>
<rect x="78.4" y="328.64" width="19.5" height="1.68" fill="#f9c3ac"/>
<rect x="78.4" y="330.2" width="19.5" height="1.68" fill="#fbcfbd"/>
<rect x="78.4" y="331.76" width="19.5" height="1.68" fill="#fac8b3"/>
<rect x="78.4" y="333.33" width="19.5" height="1.68" fill="#fac6b1"/>
<rect x="78.4" y="334.89" width="19.5" height="1.68" fill="#facab6"/>
<rect x="78.4" y="336.45" width="19.5" height="1.68" fill="#fac7b2"/>
<rect x="78.4" y="338.02" width="19.5" height="1.68" fill="#f9c0a9"/>
<rect x="78.4" y="339.58" width="19.5" height="1.68" fill="#fac6b1"/>
<rect x="78.4" y="341.15" width="19.5" height="1.68" fill="#f9bda4"/>
<rect x="78.4" y="342.71" width="19.5" height="1.68" fill="#f9c1ab"/>
<rect x="78.4" y="344.27" width="19.5" height="1.68" fill="#f9bba2"/>
<rect x="78.4" y="345.84" width="19.5" height="1.68" fill="#f8b498"/>
<rect x="97.9" y="313" width="19.4" height="1.68" fill="#f7ae92"/>
<rect x="97.9" y="314.56" width="19.4" height="1.68" fill="#f9bba2"/>
<rect x="97.9" y="316.13" width="19.4" height="1.68" fill="#f9bba1"/>
<rect x="97.9" y="317.69" width="19.4" height="1.68" fill="#fac9b5"/>
<rect x="97.9" y="319.25" width="19.4" height="1.68" fill="#f8b498"/>
<rect x="97.9" y="320.82" width="19.4" height="1.68" fill="#f6a689"/>
<rect x="97.9" y="322.38" width="19.4" height="1.68" fill="#f7b093"/>
<rect x="97.9" y="323.95" width="19.4" height="1.68" fill="#f6a78a"/>
<rect x="97.9" y="325.51" width="19.4" height="1.68" fill="#f5a184"/>
<rect x="97.9" y="327.07" width="19.4" height="1.68" fill="#f28b6c"/>
<rect x="97.9" y="328.64" width="19.4" height="1.68" fill="#f49678"/>
<rect x="97.9" y="330.2" width="19.4" height="1.68" fill="#f59f81"/>
<rect x="97.9" y="331.76" width="19.4" height="1.68" fill="#f49a7c"/>
<rect x="97.9" y="333.33" width="19.4" height="1.68" fill="#f8b195"/>
<rect x="97.9" y="334.89" width="19.4" height="1.68" fill="#f9b99f"/>
<rect x="97.9" y="336.45" width="19.4" height="1.68" fill="#f8b79c"/>
<rect x="97.9" y="338.02" width="19.4" height="1.68" fill="#f7af92"/>
<rect x="97.9" y="339.58" width="19.4" height="1.68" fill="#f9bba1"/>
<rect x="97.9" y="341.15" width="19.4" height="1.68" fill="#f6a98c"/>
<rect x="97.9" y="342.71" width="19.4" height="1.68" fill="#f59d7f"/>
<rect x="97.9" y="344.27" width="19.4" height="1.68" fill="#f49678"/>
<rect x="97.9" y="345.84" width="19.4" height="1.68" fill="#f39071"/>
<rect x="117.3" y="313" width="19.4" height="1.68" fill="#c7bde1"/>
<rect x="117.3" y="314.56" width="19.4" height="1.68" fill="#beb3dc"/>
<rect x="117.3" y="316.13" width="19.4" height="1.68" fill="#c0b6de"/>
<rect x="117.3" y="317.69" width="19.4" height="1.68" fill="#c6bde1"/>
<rect x="117.3" y="319.25" width="19.4" height="1.68" fill="#d5cee9"/>
<rect x="117.3" y="320.82" width="19.4" height="1.68" fill="#c3b9df"/>
<rect x="117.3" y="322.38" width="19.4" height="1.68" fill="#bbb0db"/>
<rect x="117.3" y="323.95" width="19.4" height="1.68" fill="#b4a8d7"/>
<rect x="117.3" y="325.51" width="19.4" height="1.68" fill="#bbb0db"/>
<rect x="117.3" y="327.07" width="19.4" height="1.68" fill="#bcb1db"/>
<rect x="117.3" y="328.64" width="19.4" height="1.68" fill="#c1b7de"/>
<rect x="117.3" y="330.2" width="19.4" height="1.68" fill="#d6cfe9"/>
<rect x="117.3" y="331.76" width="19.4" height="1.68" fill="#cac1e3"/>
<rect x="117.3" y="333.33" width="19.4" height="1.68" fill="#d1c9e7"/>
<rect x="117.3" y="334.89" width="19.4" height="1.68" fill="#d1cae7"/>
<rect x="117.3" y="336.45" width="19.4" height="1.68" fill="#d8d2ea"/>
<rect x="117.3" y="338.02" width="19.4" height="1.68" fill="#cac1e3"/>
<rect x="117.3" y="339.58" width="19.4" height="1.68" fill="#cbc3e4"/>
<rect x="117.3" y="341.15" width="19.4" height="1.68" fill="#afa2d5"/>
<rect x="117.3" y="342.71" width="19.4" height="1.68" fill="#a395ce"/>
<rect x="117.3" y="344.27" width="19.4" height="1.68" fill="#9b8eca"/>
<rect x="117.3" y="345.84" width="19.4" height="1.68" fill="#9587c6"/>
<rect x="136.7" y="313" width="19.5" height="1.68" fill="#dcd6ec"/>
<rect x="136.7" y="314.56" width="19.5" height="1.68" fill="#cdc4e4"/>
<rect x="136.7" y="316.13" width="19.5" height="1.68" fill="#c4bae0"/>
<rect x="136.7" y="317.69" width="19.5" height="1.68" fill="#d3cce8"/>
<rect x="136.7" y="319.25" width="19.5" height="1.68" fill="#d5cee9"/>
<rect x="136.7" y="320.82" width="19.5" height="1.68" fill="#cdc5e5"/>
<rect x="136.7" y="322.38" width="19.5" height="1.68" fill="#c8bfe2"/>
<rect x="136.7" y="323.95" width="19.5" height="1.68" fill="#c3badf"/>
<rect x="136.7" y="325.51" width="19.5" height="1.68" fill="#bfb4dd"/>
<rect x="136.7" y="327.07" width="19.5" height="1.68" fill="#b5a9d8"/>
<rect x="136.7" y="328.64" width="19.5" height="1.68" fill="#beb3dc"/>
<rect x="136.7" y="330.2" width="19.5" height="1.68" fill="#e3def0"/>
<rect x="136.7" y="331.76" width="19.5" height="1.68" fill="#d8d1ea"/>
<rect x="136.7" y="333.33" width="19.5" height="1.68" fill="#fffefd"/>
<rect x="136.7" y="334.89" width="19.5" height="1.68" fill="#fef7f3"/>
<rect x="136.7" y="336.45" width="19.5" height="1.68" fill="#f6f5fa"/>
<rect x="136.7" y="338.02" width="19.5" height="1.68" fill="#fef9f7"/>
<rect x="136.7" y="339.58" width="19.5" height="1.68" fill="#fdefe9"/>
<rect x="136.7" y="341.15" width="19.5" height="1.68" fill="#ece9f5"/>
<rect x="136.7" y="342.71" width="19.5" height="1.68" fill="#eae7f4"/>
<rect x="136.7" y="344.27" width="19.5" height="1.68" fill="#f1eef7"/>
<rect x="136.7" y="345.84" width="19.5" height="1.68" fill="#ddd8ed"/>
<path d="M39.5 331.1H36.8V332.8H39.5M39.5 336.2H36.5V337.9H39.5M39.5 319.0H38.6V320.7H39.5M39.5 325.9H38.3V327.6H39.5M39.5 341.4H35.5V343.1H39.5M38.6 319.9H37.2V322.5H39.5M39.5 315.6H36.4V317.3H39.5M39.5 334.5H35.7V337.1H36.5M35.7 335.8H35.0V339.7H39.5M39.5 329.3H35.9V331.9H36.8M35.0 337.7H34.0V342.2H35.5M39.5 344.8H38.2V346.5H39.5M35.9 330.6H33.7V340.0H34.0M38.3 326.8H32.8V335.3H33.7M39.5 313.9H35.2V316.4H36.4M39.5 324.2H32.2V331.0H32.8M37.2 321.2H31.9V327.6H32.2M31.9 324.4H31.8V345.7H38.2M35.2 315.1H31.4V335.0H31.8" fill="none" stroke="#111" stroke-width="0.45"/>
<rect x="37.3" y="313" width="2.3" height="34.4" fill="#111"/>
<rect x="37.3" y="315.83" width="1.32" height="0.43" fill="#fff" opacity="0.8"/>
<rect x="37.3" y="318.73" width="1.38" height="0.56" fill="#fff" opacity="0.8"/>
<rect x="37.3" y="320.63" width="1.35" height="0.41" fill="#fff" opacity="0.8"/>
<rect x="37.3" y="323.29" width="1.12" height="0.62" fill="#fff" opacity="0.8"/>
<rect x="37.3" y="324.9" width="1.2" height="0.78" fill="#fff" opacity="0.8"/>
<rect x="37.3" y="327.57" width="0.82" height="0.71" fill="#fff" opacity="0.8"/>
<rect x="37.3" y="331.59" width="0.91" height="0.73" fill="#fff" opacity="0.8"/>
<rect x="37.3" y="333.25" width="0.5" height="0.51" fill="#fff" opacity="0.8"/>
<rect x="37.3" y="335.75" width="0.83" height="0.44" fill="#fff" opacity="0.8"/>
<rect x="37.3" y="345.77" width="1.41" height="0.69" fill="#fff" opacity="0.8"/>
<rect x="39.6" y="349.6" width="19.4" height="1.63" fill="#ed6846"/>
<rect x="39.6" y="351.11" width="19.4" height="1.63" fill="#ec613f"/>
<rect x="39.6" y="352.62" width="19.4" height="1.63" fill="#eb5d3a"/>
<rect x="39.6" y="354.12" width="19.4" height="1.63" fill="#ef7655"/>
<rect x="39.6" y="355.63" width="19.4" height="1.63" fill="#ef7756"/>
<rect x="39.6" y="357.14" width="19.4" height="1.63" fill="#ec6644"/>
<rect x="39.6" y="358.65" width="19.4" height="1.63" fill="#ed6a48"/>
<rect x="39.6" y="360.15" width="19.4" height="1.63" fill="#ef7a5a"/>
<rect x="39.6" y="361.66" width="19.4" height="1.63" fill="#ec6442"/>
<rect x="39.6" y="363.17" width="19.4" height="1.63" fill="#ec6442"/>
<rect x="39.6" y="364.68" width="19.4" height="1.63" fill="#e94f2b"/>
<rect x="39.6" y="366.18" width="19.4" height="1.63" fill="#e84824"/>
<rect x="39.6" y="367.69" width="19.4" height="1.63" fill="#ea532f"/>
<rect x="39.6" y="369.2" width="19.4" height="1.63" fill="#ee704f"/>
<rect x="39.6" y="370.71" width="19.4" height="1.63" fill="#ed6a48"/>
<rect x="39.6" y="372.22" width="19.4" height="1.63" fill="#ed6c4a"/>
<rect x="39.6" y="373.72" width="19.4" height="1.63" fill="#ed6b49"/>
<rect x="39.6" y="375.23" width="19.4" height="1.63" fill="#ee704f"/>
<rect x="39.6" y="376.74" width="19.4" height="1.63" fill="#eb5d3a"/>
<rect x="39.6" y="378.25" width="19.4" height="1.63" fill="#f18767"/>
<rect x="39.6" y="379.75" width="19.4" height="1.63" fill="#ef7453"/>
<rect x="39.6" y="381.26" width="19.4" height="1.63" fill="#ec6644"/>
<rect x="39.6" y="382.77" width="19.4" height="1.63" fill="#ed6948"/>
<rect x="39.6" y="384.28" width="19.4" height="1.63" fill="#f07f5f"/>
<rect x="39.6" y="385.78" width="19.4" height="1.63" fill="#f07e5e"/>
<rect x="39.6" y="387.29" width="19.4" height="1.63" fill="#f07d5d"/>
<rect x="39.6" y="388.8" width="19.4" height="1.63" fill="#ee704f"/>
<rect x="39.6" y="390.31" width="19.4" height="1.63" fill="#f18566"/>
<rect x="39.6" y="391.82" width="19.4" height="1.63" fill="#ef7958"/>
<rect x="39.6" y="393.32" width="19.4" height="1.63" fill="#ed6846"/>
<rect x="39.6" y="394.83" width="19.4" height="1.63" fill="#ec6644"/>
<rect x="39.6" y="396.34" width="19.4" height="1.63" fill="#ec6644"/>
<rect x="39.6" y="397.85" width="19.4" height="1.63" fill="#ea5532"/>
<rect x="39.6" y="399.35" width="19.4" height="1.63" fill="#ed6b49"/>
<rect x="39.6" y="400.86" width="19.4" height="1.63" fill="#ed6746"/>
<rect x="39.6" y="402.37" width="19.4" height="1.63" fill="#ec623f"/>
<rect x="39.6" y="403.88" width="19.4" height="1.63" fill="#ec613f"/>
<rect x="39.6" y="405.38" width="19.4" height="1.63" fill="#ee6f4d"/>
<rect x="39.6" y="406.89" width="19.4" height="1.63" fill="#ec6442"/>
<rect x="59" y="349.6" width="19.4" height="1.63" fill="#f5a285"/>
<rect x="59" y="351.11" width="19.4" height="1.63" fill="#f39577"/>
<rect x="59" y="352.62" width="19.4" height="1.63" fill="#ef7958"/>
<rect x="59" y="354.12" width="19.4" height="1.63" fill="#f39173"/>
<rect x="59" y="355.63" width="19.4" height="1.63" fill="#f39677"/>
<rect x="59" y="357.14" width="19.4" height="1.63" fill="#f59e80"/>
<rect x="59" y="358.65" width="19.4" height="1.63" fill="#f59d80"/>
<rect x="59" y="360.15" width="19.4" height="1.63" fill="#f39071"/>
<rect x="59" y="361.66" width="19.4" height="1.63" fill="#f5a285"/>
<rect x="59" y="363.17" width="19.4" height="1.63" fill="#f8b59a"/>
<rect x="59" y="364.68" width="19.4" height="1.63" fill="#f59d7f"/>
<rect x="59" y="366.18" width="19.4" height="1.63" fill="#f28b6c"/>
<rect x="59" y="367.69" width="19.4" height="1.63" fill="#f49678"/>
<rect x="59" y="369.2" width="19.4" height="1.63" fill="#f8b79c"/>
<rect x="59" y="370.71" width="19.4" height="1.63" fill="#f6a588"/>
<rect x="59" y="372.22" width="19.4" height="1.63" fill="#f7b094"/>
<rect x="59" y="373.72" width="19.4" height="1.63" fill="#f6a78a"/>
<rect x="59" y="375.23" width="19.4" height="1.63" fill="#f8b69b"/>
<rect x="59" y="376.74" width="19.4" height="1.63" fill="#fdede6"/>
<rect x="59" y="378.25" width="19.4" height="1.63" fill="#fdebe4"/>
<rect x="59" y="379.75" width="19.4" height="1.63" fill="#fef5f2"/>
<rect x="59" y="381.26" width="19.4" height="1.63" fill="#fcfbfd"/>
<rect x="59" y="382.77" width="19.4" height="1.63" fill="#fffdfd"/>
<rect x="59" y="384.28" width="19.4" height="1.63" fill="#e6e2f2"/>
<rect x="59" y="385.78" width="19.4" height="1.63" fill="#eae6f4"/>
<rect x="59" y="387.29" width="19.4" height="1.63" fill="#e3dff0"/>
<rect x="59" y="388.8" width="19.4" height="1.63" fill="#f2f0f8"/>
<rect x="59" y="390.31" width="19.4" height="1.63" fill="#e9e5f3"/>
<rect x="59" y="391.82" width="19.4" height="1.63" fill="#eae7f4"/>
<rect x="59" y="393.32" width="19.4" height="1.63" fill="#fde7de"/>
<rect x="59" y="394.83" width="19.4" height="1.63" fill="#fbd7c9"/>
<rect x="59" y="396.34" width="19.4" height="1.63" fill="#fac4af"/>
<rect x="59" y="397.85" width="19.4" height="1.63" fill="#fbcfbd"/>
<rect x="59" y="399.35" width="19.4" height="1.63" fill="#facbb8"/>
<rect x="59" y="400.86" width="19.4" height="1.63" fill="#fac6b0"/>
<rect x="59" y="402.37" width="19.4" height="1.63" fill="#f9c2ab"/>
<rect x="59" y="403.88" width="19.4" height="1.63" fill="#fac9b5"/>
<rect x="59" y="405.38" width="19.4" height="1.63" fill="#faccb8"/>
<rect x="59" y="406.89" width="19.4" height="1.63" fill="#fac6b1"/>
<rect x="78.4" y="349.6" width="19.5" height="1.63" fill="#e5e1f1"/>
<rect x="78.4" y="351.11" width="19.5" height="1.63" fill="#ddd8ed"/>
<rect x="78.4" y="352.62" width="19.5" height="1.63" fill="#e1dcef"/>
<rect x="78.4" y="354.12" width="19.5" height="1.63" fill="#edeaf5"/>
<rect x="78.4" y="355.63" width="19.5" height="1.63" fill="#e2ddf0"/>
<rect x="78.4" y="357.14" width="19.5" height="1.63" fill="#e1ddef"/>
<rect x="78.4" y="358.65" width="19.5" height="1.63" fill="#e9e5f3"/>
<rect x="78.4" y="360.15" width="19.5" height="1.63" fill="#ded9ee"/>
<rect x="78.4" y="361.66" width="19.5" height="1.63" fill="#e6e2f2"/>
<rect x="78.4" y="363.17" width="19.5" height="1.63" fill="#e7e3f2"/>
<rect x="78.4" y="364.68" width="19.5" height="1.63" fill="#e2ddf0"/>
<rect x="78.4" y="366.18" width="19.5" height="1.63" fill="#d7d0ea"/>
<rect x="78.4" y="367.69" width="19.5" height="1.63" fill="#ddd7ed"/>
<rect x="78.4" y="369.2" width="19.5" height="1.63" fill="#e7e3f2"/>
<rect x="78.4" y="370.71" width="19.5" height="1.63" fill="#ded8ed"/>
<rect x="78.4" y="372.22" width="19.5" height="1.63" fill="#f8f7fb"/>
<rect x="78.4" y="373.72" width="19.5" height="1.63" fill="#fbfbfd"/>
<rect x="78.4" y="375.23" width="19.5" height="1.63" fill="#f3f1f9"/>
<rect x="78.4" y="376.74" width="19.5" height="1.63" fill="#dad4eb"/>
<rect x="78.4" y="378.25" width="19.5" height="1.63" fill="#ebe8f5"/>
<rect x="78.4" y="379.75" width="19.5" height="1.63" fill="#e9e5f3"/>
<rect x="78.4" y="381.26" width="19.5" height="1.63" fill="#e8e4f3"/>
<rect x="78.4" y="382.77" width="19.5" height="1.63" fill="#f6f4fa"/>
<rect x="78.4" y="384.28" width="19.5" height="1.63" fill="#fdece6"/>
<rect x="78.4" y="385.78" width="19.5" height="1.63" fill="#fcfbfd"/>
<rect x="78.4" y="387.29" width="19.5" height="1.63" fill="#f8f7fb"/>
<rect x="78.4" y="388.8" width="19.5" height="1.63" fill="#ebe8f5"/>
<rect x="78.4" y="390.31" width="19.5" height="1.63" fill="#fce0d4"/>
<rect x="78.4" y="391.82" width="19.5" height="1.63" fill="#fcdacc"/>
<rect x="78.4" y="393.32" width="19.5" height="1.63" fill="#fbd4c4"/>
<rect x="78.4" y="394.83" width="19.5" height="1.63" fill="#facebb"/>
<rect x="78.4" y="396.34" width="19.5" height="1.63" fill="#faccb9"/>
<rect x="78.4" y="397.85" width="19.5" height="1.63" fill="#facab6"/>
<rect x="78.4" y="399.35" width="19.5" height="1.63" fill="#fdece5"/>
<rect x="78.4" y="400.86" width="19.5" height="1.63" fill="#feefe9"/>
<rect x="78.4" y="402.37" width="19.5" height="1.63" fill="#fde9e0"/>
<rect x="78.4" y="403.88" width="19.5" height="1.63" fill="#fffcfb"/>
<rect x="78.4" y="405.38" width="19.5" height="1.63" fill="#fef9f6"/>
<rect x="78.4" y="406.89" width="19.5" height="1.63" fill="#fffcfb"/>
<rect x="97.9" y="349.6" width="19.4" height="1.63" fill="#e2def0"/>
<rect x="97.9" y="351.11" width="19.4" height="1.63" fill="#dfdaee"/>
<rect x="97.9" y="352.62" width="19.4" height="1.63" fill="#cec6e5"/>
<rect x="97.9" y="354.12" width="19.4" height="1.63" fill="#e4dff1"/>
<rect x="97.9" y="355.63" width="19.4" height="1.63" fill="#dfdaee"/>
<rect x="97.9" y="357.14" width="19.4" height="1.63" fill="#dad3eb"/>
<rect x="97.9" y="358.65" width="19.4" height="1.63" fill="#d6cfe9"/>
<rect x="97.9" y="360.15" width="19.4" height="1.63" fill="#c3b9df"/>
<rect x="97.9" y="361.66" width="19.4" height="1.63" fill="#d2cae7"/>
<rect x="97.9" y="363.17" width="19.4" height="1.63" fill="#d2cbe7"/>
<rect x="97.9" y="364.68" width="19.4" height="1.63" fill="#d1cae7"/>
<rect x="97.9" y="366.18" width="19.4" height="1.63" fill="#c7bee2"/>
<rect x="97.9" y="367.69" width="19.4" height="1.63" fill="#dbd6ec"/>
<rect x="97.9" y="369.2" width="19.4" height="1.63" fill="#ddd8ed"/>
<rect x="97.9" y="370.71" width="19.4" height="1.63" fill="#ddd7ed"/>
<rect x="97.9" y="372.22" width="19.4" height="1.63" fill="#e8e4f3"/>
<rect x="97.9" y="373.72" width="19.4" height="1.63" fill="#f2f0f8"/>
<rect x="97.9" y="375.23" width="19.4" height="1.63" fill="#faf9fc"/>
<rect x="97.9" y="376.74" width="19.4" height="1.63" fill="#e6e2f2"/>
<rect x="97.9" y="378.25" width="19.4" height="1.63" fill="#f2f0f8"/>
<rect x="97.9" y="379.75" width="19.4" height="1.63" fill="#e2ddf0"/>
<rect x="97.9" y="381.26" width="19.4" height="1.63" fill="#ddd8ed"/>
<rect x="97.9" y="382.77" width="19.4" height="1.63" fill="#edeaf5"/>
<rect x="97.9" y="384.28" width="19.4" height="1.63" fill="#fafafd"/>
<rect x="97.9" y="385.78" width="19.4" height="1.63" fill="#f3f1f9"/>
<rect x="97.9" y="387.29" width="19.4" height="1.63" fill="#f5f3fa"/>
<rect x="97.9" y="388.8" width="19.4" height="1.63" fill="#ece9f5"/>
<rect x="97.9" y="390.31" width="19.4" height="1.63" fill="#fefefe"/>
<rect x="97.9" y="391.82" width="19.4" height="1.63" fill="#fef5f1"/>
<rect x="97.9" y="393.32" width="19.4" height="1.63" fill="#fdebe3"/>
<rect x="97.9" y="394.83" width="19.4" height="1.63" fill="#fdefe9"/>
<rect x="97.9" y="396.34" width="19.4" height="1.63" fill="#fdece5"/>
<rect x="97.9" y="397.85" width="19.4" height="1.63" fill="#fde7de"/>
<rect x="97.9" y="399.35" width="19.4" height="1.63" fill="#fdece5"/>
<rect x="97.9" y="400.86" width="19.4" height="1.63" fill="#fde6dd"/>
<rect x="97.9" y="402.37" width="19.4" height="1.63" fill="#fdeae2"/>
<rect x="97.9" y="403.88" width="19.4" height="1.63" fill="#ffffff"/>
<rect x="97.9" y="405.38" width="19.4" height="1.63" fill="#fbfafd"/>
<rect x="97.9" y="406.89" width="19.4" height="1.63" fill="#fbfbfd"/>
<rect x="117.3" y="349.6" width="19.4" height="1.63" fill="#b1a4d5"/>
<rect x="117.3" y="351.11" width="19.4" height="1.63" fill="#b4a8d7"/>
<rect x="117.3" y="352.62" width="19.4" height="1.63" fill="#897dbf"/>
<rect x="117.3" y="354.12" width="19.4" height="1.63" fill="#a193cd"/>
<rect x="117.3" y="355.63" width="19.4" height="1.63" fill="#998cc8"/>
<rect x="117.3" y="357.14" width="19.4" height="1.63" fill="#9b8ec9"/>
<rect x="117.3" y="358.65" width="19.4" height="1.63" fill="#a193cd"/>
<rect x="117.3" y="360.15" width="19.4" height="1.63" fill="#aea1d4"/>
<rect x="117.3" y="361.66" width="19.4" height="1.63" fill="#aa9dd2"/>
<rect x="117.3" y="363.17" width="19.4" height="1.63" fill="#b9adda"/>
<rect x="117.3" y="364.68" width="19.4" height="1.63" fill="#9f91cc"/>
<rect x="117.3" y="366.18" width="19.4" height="1.63" fill="#796db6"/>
<rect x="117.3" y="367.69" width="19.4" height="1.63" fill="#7b6eb7"/>
<rect x="117.3" y="369.2" width="19.4" height="1.63" fill="#9e90cb"/>
<rect x="117.3" y="370.71" width="19.4" height="1.63" fill="#8b7ec0"/>
<rect x="117.3" y="372.22" width="19.4" height="1.63" fill="#a093cc"/>
<rect x="117.3" y="373.72" width="19.4" height="1.63" fill="#c7bee1"/>
<rect x="117.3" y="375.23" width="19.4" height="1.63" fill="#ddd7ed"/>
<rect x="117.3" y="376.74" width="19.4" height="1.63" fill="#c2b7de"/>
<rect x="117.3" y="378.25" width="19.4" height="1.63" fill="#cbc2e3"/>
<rect x="117.3" y="379.75" width="19.4" height="1.63" fill="#bcb1dc"/>
<rect x="117.3" y="381.26" width="19.4" height="1.63" fill="#d3cce8"/>
<rect x="117.3" y="382.77" width="19.4" height="1.63" fill="#cac1e3"/>
<rect x="117.3" y="384.28" width="19.4" height="1.63" fill="#ad9fd3"/>
<rect x="117.3" y="385.78" width="19.4" height="1.63" fill="#a99bd1"/>
<rect x="117.3" y="387.29" width="19.4" height="1.63" fill="#b0a3d5"/>
<rect x="117.3" y="388.8" width="19.4" height="1.63" fill="#a99bd1"/>
<rect x="117.3" y="390.31" width="19.4" height="1.63" fill="#9f91cc"/>
<rect x="117.3" y="391.82" width="19.4" height="1.63" fill="#9588c6"/>
<rect x="117.3" y="393.32" width="19.4" height="1.63" fill="#9285c4"/>
<rect x="117.3" y="394.83" width="19.4" height="1.63" fill="#8c7fc1"/>
<rect x="117.3" y="396.34" width="19.4" height="1.63" fill="#9184c4"/>
<rect x="117.3" y="397.85" width="19.4" height="1.63" fill="#796db6"/>
<rect x="117.3" y="399.35" width="19.4" height="1.63" fill="#8c7fc1"/>
<rect x="117.3" y="400.86" width="19.4" height="1.63" fill="#8074ba"/>
<rect x="117.3" y="402.37" width="19.4" height="1.63" fill="#7e72b9"/>
<rect x="117.3" y="403.88" width="19.4" height="1.63" fill="#aea0d4"/>
<rect x="117.3" y="405.38" width="19.4" height="1.63" fill="#ad9fd3"/>
<rect x="117.3" y="406.89" width="19.4" height="1.63" fill="#988ac7"/>
<rect x="136.7" y="349.6" width="19.5" height="1.63" fill="#b8acd9"/>
<rect x="136.7" y="351.11" width="19.5" height="1.63" fill="#b1a5d6"/>
<rect x="136.7" y="352.62" width="19.5" height="1.63" fill="#ad9fd4"/>
<rect x="136.7" y="354.12" width="19.5" height="1.63" fill="#b9adda"/>
<rect x="136.7" y="355.63" width="19.5" height="1.63" fill="#b8acd9"/>
<rect x="136.7" y="357.14" width="19.5" height="1.63" fill="#ac9ed3"/>
<rect x="136.7" y="358.65" width="19.5" height="1.63" fill="#aa9cd2"/>
<rect x="136.7" y="360.15" width="19.5" height="1.63" fill="#8f82c2"/>
<rect x="136.7" y="361.66" width="19.5" height="1.63" fill="#9d90cb"/>
<rect x="136.7" y="363.17" width="19.5" height="1.63" fill="#bcb1dc"/>
<rect x="136.7" y="364.68" width="19.5" height="1.63" fill="#a799d0"/>
<rect x="136.7" y="366.18" width="19.5" height="1.63" fill="#8c7fc0"/>
<rect x="136.7" y="367.69" width="19.5" height="1.63" fill="#8679bd"/>
<rect x="136.7" y="369.2" width="19.5" height="1.63" fill="#9f91cb"/>
<rect x="136.7" y="370.71" width="19.5" height="1.63" fill="#9184c4"/>
<rect x="136.7" y="372.22" width="19.5" height="1.63" fill="#8f82c2"/>
<rect x="136.7" y="373.72" width="19.5" height="1.63" fill="#8d80c1"/>
<rect x="136.7" y="375.23" width="19.5" height="1.63" fill="#a799d0"/>
<rect x="136.7" y="376.74" width="19.5" height="1.63" fill="#998bc8"/>
<rect x="136.7" y="378.25" width="19.5" height="1.63" fill="#988ac7"/>
<rect x="136.7" y="379.75" width="19.5" height="1.63" fill="#978ac7"/>
<rect x="136.7" y="381.26" width="19.5" height="1.63" fill="#aea1d4"/>
<rect x="136.7" y="382.77" width="19.5" height="1.63" fill="#bbb0db"/>
<rect x="136.7" y="384.28" width="19.5" height="1.63" fill="#b1a5d6"/>
<rect x="136.7" y="385.78" width="19.5" height="1.63" fill="#a092cc"/>
<rect x="136.7" y="387.29" width="19.5" height="1.63" fill="#ab9dd2"/>
<rect x="136.7" y="388.8" width="19.5" height="1.63" fill="#9487c6"/>
<rect x="136.7" y="390.31" width="19.5" height="1.63" fill="#aa9cd2"/>
<rect x="136.7" y="391.82" width="19.5" height="1.63" fill="#ad9fd3"/>
<rect x="136.7" y="393.32" width="19.5" height="1.63" fill="#a99bd1"/>
<rect x="136.7" y="394.83" width="19.5" height="1.63" fill="#9d8fca"/>
<rect x="136.7" y="396.34" width="19.5" height="1.63" fill="#8d80c1"/>
<rect x="136.7" y="397.85" width="19.5" height="1.63" fill="#8275bb"/>
<rect x="136.7" y="399.35" width="19.5" height="1.63" fill="#887cbf"/>
<rect x="136.7" y="400.86" width="19.5" height="1.63" fill="#877abe"/>
<rect x="136.7" y="402.37" width="19.5" height="1.63" fill="#887cbf"/>
<rect x="136.7" y="403.88" width="19.5" height="1.63" fill="#c2b8df"/>
<rect x="136.7" y="405.38" width="19.5" height="1.63" fill="#c0b6de"/>
<rect x="136.7" y="406.89" width="19.5" height="1.63" fill="#b3a7d7"/>
<path d="M39.5 400.6H37.3V402.3H39.5M39.5 366.0H38.3V367.8H39.5M39.5 350.5H38.3V352.2H39.5M39.5 381.6H37.8V383.3H39.5M39.5 357.4H38.8V359.1H39.5M39.5 405.8H37.0V407.5H39.5M37.8 382.5H36.9V385.1H39.5M39.5 364.3H37.8V366.9H38.3M39.5 404.1H36.6V406.7H37.0M38.8 358.2H36.2V360.8H39.5M39.5 393.7H37.2V395.4H39.5M39.5 362.6H37.3V365.6H37.8M39.5 353.9H38.3V355.7H39.5M39.5 371.2H38.2V372.9H39.5M38.3 351.3H38.0V354.8H38.3M37.3 401.5H36.2V405.4H36.6M37.2 394.6H36.6V397.2H39.5M37.3 364.1H36.0V369.5H39.5M39.5 388.5H38.2V390.2H39.5M36.2 359.5H35.2V366.8H36.0M35.2 363.2H35.0V372.1H38.2M39.5 392.0H36.3V395.9H36.6M35.0 367.6H33.6V374.7H39.5M36.3 393.9H35.9V398.9H39.5M38.2 389.4H34.8V396.4H35.9M36.9 383.8H35.0V386.8H39.5M35.0 385.3H34.6V392.9H34.8M38.0 353.1H32.5V371.2H33.6M39.5 378.1H38.7V379.9H39.5M32.5 362.1H31.8V376.4H39.5M31.8 369.3H31.6V379.0H38.7M34.6 389.1H34.5V403.4H36.2M31.6 374.1H31.4V396.3H34.5" fill="none" stroke="#111" stroke-width="0.45"/>
<rect x="37.3" y="349.6" width="2.3" height="58.8" fill="#111"/>
<rect x="37.3" y="350.6" width="1.32" height="0.3" fill="#fff" opacity="0.8"/>
<rect x="37.3" y="354.91" width="0.91" height="0.49" fill="#fff" opacity="0.8"/>
<rect x="37.3" y="359.64" width="1.5" height="0.75" fill="#fff" opacity="0.8"/>
<rect x="37.3" y="363.62" width="1.32" height="0.61" fill="#fff" opacity="0.8"/>
<rect x="37.3" y="368.11" width="1.57" height="0.31" fill="#fff" opacity="0.8"/>
<rect x="37.3" y="369.89" width="0.9" height="0.42" fill="#fff" opacity="0.8"/>
<rect x="37.3" y="371.69" width="1" height="0.67" fill="#fff" opacity="0.8"/>
<rect x="37.3" y="374.49" width="0.96" height="0.52" fill="#fff" opacity="0.8"/>
<rect x="37.3" y="377.87" width="0.62" height="0.7" fill="#fff" opacity="0.8"/>
<rect x="37.3" y="379.89" width="1.06" height="0.54" fill="#fff" opacity="0.8"/>
<rect x="37.3" y="384.43" width="1.33" height="0.72" fill="#fff" opacity="0.8"/>
<rect x="37.3" y="387.38" width="0.76" height="0.52" fill="#fff" opacity="0.8"/>
<rect x="37.3" y="389.01" width="0.68" height="0.5" fill="#fff" opacity="0.8"/>
<rect x="37.3" y="391.71" width="1.2" height="0.79" fill="#fff" opacity="0.8"/>
<rect x="37.3" y="393.7" width="0.99" height="0.55" fill="#fff" opacity="0.8"/>
<rect x="37.3" y="396.32" width="0.9" height="0.77" fill="#fff" opacity="0.8"/>
<rect x="37.3" y="397.6" width="0.7" height="0.5" fill="#fff" opacity="0.8"/>
<rect x="37.3" y="400.31" width="0.69" height="0.56" fill="#fff" opacity="0.8"/>
<rect x="37.3" y="405.11" width="0.65" height="0.68" fill="#fff" opacity="0.8"/>
<rect x="39.6" y="410.6" width="19.4" height="1.63" fill="#f49b7d"/>
<rect x="39.6" y="412.11" width="19.4" height="1.63" fill="#f49a7c"/>
<rect x="39.6" y="413.61" width="19.4" height="1.63" fill="#f8b498"/>
<rect x="39.6" y="415.12" width="19.4" height="1.63" fill="#f7ab8e"/>
<rect x="39.6" y="416.62" width="19.4" height="1.63" fill="#f8b69b"/>
<rect x="39.6" y="418.13" width="19.4" height="1.63" fill="#f8b498"/>
<rect x="39.6" y="419.64" width="19.4" height="1.63" fill="#f9c2ab"/>
<rect x="39.6" y="421.14" width="19.4" height="1.63" fill="#f5a285"/>
<rect x="39.6" y="422.65" width="19.4" height="1.63" fill="#f8b69a"/>
<rect x="39.6" y="424.16" width="19.4" height="1.63" fill="#f9bfa7"/>
<rect x="39.6" y="425.66" width="19.4" height="1.63" fill="#f9bba1"/>
<rect x="39.6" y="427.17" width="19.4" height="1.63" fill="#f8b99f"/>
<rect x="39.6" y="428.68" width="19.4" height="1.63" fill="#f7ab8f"/>
<rect x="39.6" y="430.18" width="19.4" height="1.63" fill="#f6a98c"/>
<rect x="39.6" y="431.69" width="19.4" height="1.63" fill="#f7aa8e"/>
<rect x="39.6" y="433.19" width="19.4" height="1.63" fill="#f9c0a8"/>
<rect x="39.6" y="434.7" width="19.4" height="1.63" fill="#f8b69b"/>
<rect x="39.6" y="436.21" width="19.4" height="1.63" fill="#f7ae91"/>
<rect x="39.6" y="437.71" width="19.4" height="1.63" fill="#f39577"/>
<rect x="39.6" y="439.22" width="19.4" height="1.63" fill="#f59f81"/>
<rect x="39.6" y="440.73" width="19.4" height="1.63" fill="#f49779"/>
<rect x="39.6" y="442.23" width="19.4" height="1.63" fill="#f38f70"/>
<rect x="39.6" y="443.74" width="19.4" height="1.63" fill="#fbd2c1"/>
<rect x="39.6" y="445.24" width="19.4" height="1.63" fill="#fcdacc"/>
<rect x="39.6" y="446.75" width="19.4" height="1.63" fill="#fbd8c9"/>
<rect x="39.6" y="448.26" width="19.4" height="1.63" fill="#fbd9cb"/>
<rect x="39.6" y="449.76" width="19.4" height="1.63" fill="#fde7de"/>
<rect x="39.6" y="451.27" width="19.4" height="1.63" fill="#faccb9"/>
<rect x="39.6" y="452.78" width="19.4" height="1.63" fill="#fbd4c4"/>
<rect x="39.6" y="454.28" width="19.4" height="1.63" fill="#e2ddf0"/>
<rect x="39.6" y="455.79" width="19.4" height="1.63" fill="#e3dff0"/>
<rect x="39.6" y="457.29" width="19.4" height="1.63" fill="#e8e4f3"/>
<rect x="59" y="410.6" width="19.4" height="1.63" fill="#e94c28"/>
<rect x="59" y="412.11" width="19.4" height="1.63" fill="#ec6442"/>
<rect x="59" y="413.61" width="19.4" height="1.63" fill="#ec6240"/>
<rect x="59" y="415.12" width="19.4" height="1.63" fill="#eb5e3c"/>
<rect x="59" y="416.62" width="19.4" height="1.63" fill="#eb5f3d"/>
<rect x="59" y="418.13" width="19.4" height="1.63" fill="#e9512e"/>
<rect x="59" y="419.64" width="19.4" height="1.63" fill="#ea5330"/>
<rect x="59" y="421.14" width="19.4" height="1.63" fill="#e94d29"/>
<rect x="59" y="422.65" width="19.4" height="1.63" fill="#ed6b4a"/>
<rect x="59" y="424.16" width="19.4" height="1.63" fill="#ed6d4c"/>
<rect x="59" y="425.66" width="19.4" height="1.63" fill="#ea5633"/>
<rect x="59" y="427.17" width="19.4" height="1.63" fill="#ec6543"/>
<rect x="59" y="428.68" width="19.4" height="1.63" fill="#e84b27"/>
<rect x="59" y="430.18" width="19.4" height="1.63" fill="#e84925"/>
<rect x="59" y="431.69" width="19.4" height="1.63" fill="#e9512e"/>
<rect x="59" y="433.19" width="19.4" height="1.63" fill="#ee7150"/>
<rect x="59" y="434.7" width="19.4" height="1.63" fill="#ed6846"/>
<rect x="59" y="436.21" width="19.4" height="1.63" fill="#ec603e"/>
<rect x="59" y="437.71" width="19.4" height="1.63" fill="#ea5734"/>
<rect x="59" y="439.22" width="19.4" height="1.63" fill="#e84824"/>
<rect x="59" y="440.73" width="19.4" height="1.63" fill="#e84824"/>
<rect x="59" y="442.23" width="19.4" height="1.63" fill="#e84824"/>
<rect x="59" y="443.74" width="19.4" height="1.63" fill="#e84824"/>
<rect x="59" y="445.24" width="19.4" height="1.63" fill="#eb5e3c"/>
<rect x="59" y="446.75" width="19.4" height="1.63" fill="#ec603d"/>
<rect x="59" y="448.26" width="19.4" height="1.63" fill="#eb5937"/>
<rect x="59" y="449.76" width="19.4" height="1.63" fill="#ef7656"/>
<rect x="59" y="451.27" width="19.4" height="1.63" fill="#ed6846"/>
<rect x="59" y="452.78" width="19.4" height="1.63" fill="#f07c5c"/>
<rect x="59" y="454.28" width="19.4" height="1.63" fill="#ed6745"/>
<rect x="59" y="455.79" width="19.4" height="1.63" fill="#e9522f"/>
<rect x="59" y="457.29" width="19.4" height="1.63" fill="#eb5c3a"/>
<rect x="78.4" y="410.6" width="19.5" height="1.63" fill="#b1a4d6"/>
<rect x="78.4" y="412.11" width="19.5" height="1.63" fill="#c0b5dd"/>
<rect x="78.4" y="413.61" width="19.5" height="1.63" fill="#cbc3e4"/>
<rect x="78.4" y="415.12" width="19.5" height="1.63" fill="#b9aeda"/>
<rect x="78.4" y="416.62" width="19.5" height="1.63" fill="#c5bbe0"/>
<rect x="78.4" y="418.13" width="19.5" height="1.63" fill="#c3b9df"/>
<rect x="78.4" y="419.64" width="19.5" height="1.63" fill="#c9c0e2"/>
<rect x="78.4" y="421.14" width="19.5" height="1.63" fill="#b9aeda"/>
<rect x="78.4" y="422.65" width="19.5" height="1.63" fill="#cfc7e6"/>
<rect x="78.4" y="424.16" width="19.5" height="1.63" fill="#ccc4e4"/>
<rect x="78.4" y="425.66" width="19.5" height="1.63" fill="#cac1e3"/>
<rect x="78.4" y="427.17" width="19.5" height="1.63" fill="#c2b8df"/>
<rect x="78.4" y="428.68" width="19.5" height="1.63" fill="#aa9cd2"/>
<rect x="78.4" y="430.18" width="19.5" height="1.63" fill="#a294cd"/>
<rect x="78.4" y="431.69" width="19.5" height="1.63" fill="#b1a4d6"/>
<rect x="78.4" y="433.19" width="19.5" height="1.63" fill="#cbc3e4"/>
<rect x="78.4" y="434.7" width="19.5" height="1.63" fill="#baaeda"/>
<rect x="78.4" y="436.21" width="19.5" height="1.63" fill="#c5bce0"/>
<rect x="78.4" y="437.71" width="19.5" height="1.63" fill="#bbb0db"/>
<rect x="78.4" y="439.22" width="19.5" height="1.63" fill="#bcb1db"/>
<rect x="78.4" y="440.73" width="19.5" height="1.63" fill="#ac9fd3"/>
<rect x="78.4" y="442.23" width="19.5" height="1.63" fill="#b6aad8"/>
<rect x="78.4" y="443.74" width="19.5" height="1.63" fill="#aea0d4"/>
<rect x="78.4" y="445.24" width="19.5" height="1.63" fill="#c0b5dd"/>
<rect x="78.4" y="446.75" width="19.5" height="1.63" fill="#c3b9df"/>
<rect x="78.4" y="448.26" width="19.5" height="1.63" fill="#ada0d4"/>
<rect x="78.4" y="449.76" width="19.5" height="1.63" fill="#aea0d4"/>
<rect x="78.4" y="451.27" width="19.5" height="1.63" fill="#9a8cc9"/>
<rect x="78.4" y="452.78" width="19.5" height="1.63" fill="#b3a7d7"/>
<rect x="78.4" y="454.28" width="19.5" height="1.63" fill="#ada0d4"/>
<rect x="78.4" y="455.79" width="19.5" height="1.63" fill="#aea0d4"/>
<rect x="78.4" y="457.29" width="19.5" height="1.63" fill="#b1a4d6"/>
<rect x="97.9" y="410.6" width="19.4" height="1.63" fill="#a295ce"/>
<rect x="97.9" y="412.11" width="19.4" height="1.63" fill="#afa2d5"/>
<rect x="97.9" y="413.61" width="19.4" height="1.63" fill="#b5a9d8"/>
<rect x="97.9" y="415.12" width="19.4" height="1.63" fill="#b0a4d5"/>
<rect x="97.9" y="416.62" width="19.4" height="1.63" fill="#ada0d4"/>
<rect x="97.9" y="418.13" width="19.4" height="1.63" fill="#c1b6de"/>
<rect x="97.9" y="419.64" width="19.4" height="1.63" fill="#bcb1dc"/>
<rect x="97.9" y="421.14" width="19.4" height="1.63" fill="#a99bd2"/>
<rect x="97.9" y="422.65" width="19.4" height="1.63" fill="#b9adda"/>
<rect x="97.9" y="424.16" width="19.4" height="1.63" fill="#a99bd2"/>
<rect x="97.9" y="425.66" width="19.4" height="1.63" fill="#9c8eca"/>
<rect x="97.9" y="427.17" width="19.4" height="1.63" fill="#978ac7"/>
<rect x="97.9" y="428.68" width="19.4" height="1.63" fill="#8f82c2"/>
<rect x="97.9" y="430.18" width="19.4" height="1.63" fill="#a496ce"/>
<rect x="97.9" y="431.69" width="19.4" height="1.63" fill="#9689c7"/>
<rect x="97.9" y="433.19" width="19.4" height="1.63" fill="#a698d0"/>
<rect x="97.9" y="434.7" width="19.4" height="1.63" fill="#9689c6"/>
<rect x="97.9" y="436.21" width="19.4" height="1.63" fill="#8e81c2"/>
<rect x="97.9" y="437.71" width="19.4" height="1.63" fill="#786cb5"/>
<rect x="97.9" y="439.22" width="19.4" height="1.63" fill="#877abe"/>
<rect x="97.9" y="440.73" width="19.4" height="1.63" fill="#8d80c1"/>
<rect x="97.9" y="442.23" width="19.4" height="1.63" fill="#9083c3"/>
<rect x="97.9" y="443.74" width="19.4" height="1.63" fill="#9284c4"/>
<rect x="97.9" y="445.24" width="19.4" height="1.63" fill="#9487c5"/>
<rect x="97.9" y="446.75" width="19.4" height="1.63" fill="#b1a4d6"/>
<rect x="97.9" y="448.26" width="19.4" height="1.63" fill="#9689c7"/>
<rect x="97.9" y="449.76" width="19.4" height="1.63" fill="#b3a7d7"/>
<rect x="97.9" y="451.27" width="19.4" height="1.63" fill="#8c80c1"/>
<rect x="97.9" y="452.78" width="19.4" height="1.63" fill="#aea0d4"/>
<rect x="97.9" y="454.28" width="19.4" height="1.63" fill="#a193cd"/>
<rect x="97.9" y="455.79" width="19.4" height="1.63" fill="#9a8dc9"/>
<rect x="97.9" y="457.29" width="19.4" height="1.63" fill="#9a8dc9"/>
<rect x="117.3" y="410.6" width="19.4" height="1.63" fill="#d8d1ea"/>
<rect x="117.3" y="412.11" width="19.4" height="1.63" fill="#c6bde1"/>
<rect x="117.3" y="413.61" width="19.4" height="1.63" fill="#cbc3e4"/>
<rect x="117.3" y="415.12" width="19.4" height="1.63" fill="#c1b7de"/>
<rect x="117.3" y="416.62" width="19.4" height="1.63" fill="#d4cde8"/>
<rect x="117.3" y="418.13" width="19.4" height="1.63" fill="#e4e0f1"/>
<rect x="117.3" y="419.64" width="19.4" height="1.63" fill="#fcfcfd"/>
<rect x="117.3" y="421.14" width="19.4" height="1.63" fill="#ddd8ed"/>
<rect x="117.3" y="422.65" width="19.4" height="1.63" fill="#f4f3f9"/>
<rect x="117.3" y="424.16" width="19.4" height="1.63" fill="#f0edf7"/>
<rect x="117.3" y="425.66" width="19.4" height="1.63" fill="#fde5dc"/>
<rect x="117.3" y="427.17" width="19.4" height="1.63" fill="#fdeee8"/>
<rect x="117.3" y="428.68" width="19.4" height="1.63" fill="#fdfdfe"/>
<rect x="117.3" y="430.18" width="19.4" height="1.63" fill="#fffcfb"/>
<rect x="117.3" y="431.69" width="19.4" height="1.63" fill="#fffcfb"/>
<rect x="117.3" y="433.19" width="19.4" height="1.63" fill="#fef7f5"/>
<rect x="117.3" y="434.7" width="19.4" height="1.63" fill="#f4f2f9"/>
<rect x="117.3" y="436.21" width="19.4" height="1.63" fill="#e7e3f2"/>
<rect x="117.3" y="437.71" width="19.4" height="1.63" fill="#dbd5ec"/>
<rect x="117.3" y="439.22" width="19.4" height="1.63" fill="#ebe8f5"/>
<rect x="117.3" y="440.73" width="19.4" height="1.63" fill="#ddd8ed"/>
<rect x="117.3" y="442.23" width="19.4" height="1.63" fill="#e7e3f2"/>
<rect x="117.3" y="443.74" width="19.4" height="1.63" fill="#e5e1f1"/>
<rect x="117.3" y="445.24" width="19.4" height="1.63" fill="#fefeff"/>
<rect x="117.3" y="446.75" width="19.4" height="1.63" fill="#fde8df"/>
<rect x="117.3" y="448.26" width="19.4" height="1.63" fill="#fbd8ca"/>
<rect x="117.3" y="449.76" width="19.4" height="1.63" fill="#fde5db"/>
<rect x="117.3" y="451.27" width="19.4" height="1.63" fill="#fbcfbd"/>
<rect x="117.3" y="452.78" width="19.4" height="1.63" fill="#fce3d8"/>
<rect x="117.3" y="454.28" width="19.4" height="1.63" fill="#fbd7c8"/>
<rect x="117.3" y="455.79" width="19.4" height="1.63" fill="#facdba"/>
<rect x="117.3" y="457.29" width="19.4" height="1.63" fill="#fbd6c7"/>
<rect x="136.7" y="410.6" width="19.5" height="1.63" fill="#dfd9ee"/>
<rect x="136.7" y="412.11" width="19.5" height="1.63" fill="#ece9f5"/>
<rect x="136.7" y="413.61" width="19.5" height="1.63" fill="#f0edf7"/>
<rect x="136.7" y="415.12" width="19.5" height="1.63" fill="#fdfdfe"/>
<rect x="136.7" y="416.62" width="19.5" height="1.63" fill="#ddd8ed"/>
<rect x="136.7" y="418.13" width="19.5" height="1.63" fill="#dcd6ec"/>
<rect x="136.7" y="419.64" width="19.5" height="1.63" fill="#efedf7"/>
<rect x="136.7" y="421.14" width="19.5" height="1.63" fill="#cec6e5"/>
<rect x="136.7" y="422.65" width="19.5" height="1.63" fill="#d9d3eb"/>
<rect x="136.7" y="424.16" width="19.5" height="1.63" fill="#dcd6ed"/>
<rect x="136.7" y="425.66" width="19.5" height="1.63" fill="#dbd5ec"/>
<rect x="136.7" y="427.17" width="19.5" height="1.63" fill="#d1cae7"/>
<rect x="136.7" y="428.68" width="19.5" height="1.63" fill="#c9c0e2"/>
<rect x="136.7" y="430.18" width="19.5" height="1.63" fill="#cfc7e5"/>
<rect x="136.7" y="431.69" width="19.5" height="1.63" fill="#d7d1ea"/>
<rect x="136.7" y="433.19" width="19.5" height="1.63" fill="#e9e5f3"/>
<rect x="136.7" y="434.7" width="19.5" height="1.63" fill="#d6cfe9"/>
<rect x="136.7" y="436.21" width="19.5" height="1.63" fill="#cec6e5"/>
<rect x="136.7" y="437.71" width="19.5" height="1.63" fill="#bfb4dd"/>
<rect x="136.7" y="439.22" width="19.5" height="1.63" fill="#c3badf"/>
<rect x="136.7" y="440.73" width="19.5" height="1.63" fill="#b9aeda"/>
<rect x="136.7" y="442.23" width="19.5" height="1.63" fill="#c8bfe2"/>
<rect x="136.7" y="443.74" width="19.5" height="1.63" fill="#e1dcef"/>
<rect x="136.7" y="445.24" width="19.5" height="1.63" fill="#eae6f4"/>
<rect x="136.7" y="446.75" width="19.5" height="1.63" fill="#fffdfc"/>
<rect x="136.7" y="448.26" width="19.5" height="1.63" fill="#efecf6"/>
<rect x="136.7" y="449.76" width="19.5" height="1.63" fill="#fffefe"/>
<rect x="136.7" y="451.27" width="19.5" height="1.63" fill="#d7d1ea"/>
<rect x="136.7" y="452.78" width="19.5" height="1.63" fill="#e6e2f2"/>
<rect x="136.7" y="454.28" width="19.5" height="1.63" fill="#f0eef7"/>
<rect x="136.7" y="455.79" width="19.5" height="1.63" fill="#edeaf5"/>
<rect x="136.7" y="457.29" width="19.5" height="1.63" fill="#f6f5fa"/>
<path d="M39.5 427.0H38.2V428.7H39.5M38.2 427.8H36.2V430.4H39.5M39.5 437.3H37.4V439.0H39.5M39.5 447.6H38.1V449.3H39.5M39.5 432.1H38.0V433.8H39.5M39.5 452.8H36.4V454.5H39.5M38.0 433.0H37.3V435.6H39.5M39.5 442.4H36.0V444.2H39.5M39.5 411.5H38.6V413.2H39.5M36.2 429.1H35.3V434.3H37.3M36.4 453.6H35.9V456.2H39.5M37.4 438.1H36.3V440.7H39.5M39.5 423.5H37.5V425.2H39.5M36.3 439.4H34.9V443.3H36.0M37.5 424.4H34.8V431.7H35.3M39.5 421.8H34.6V428.0H34.8M35.9 454.9H35.3V457.9H39.5M38.6 412.3H36.8V414.9H39.5M39.5 451.1H35.0V456.4H35.3M39.5 445.9H37.2V448.5H38.1M39.5 420.1H33.7V424.9H34.6M34.9 441.4H34.6V447.2H37.2M39.5 416.6H35.2V418.3H39.5M34.6 444.3H34.1V453.7H35.0M33.7 422.5H32.3V449.0H34.1M35.2 417.5H31.6V435.7H32.3M36.8 413.6H31.4V426.6H31.6" fill="none" stroke="#111" stroke-width="0.45"/>
<rect x="37.3" y="410.6" width="2.3" height="48.2" fill="#111"/>
<rect x="37.3" y="414.29" width="1.48" height="0.56" fill="#fff" opacity="0.8"/>
<rect x="37.3" y="419.53" width="0.82" height="0.51" fill="#fff" opacity="0.8"/>
<rect x="37.3" y="421.65" width="0.7" height="0.55" fill="#fff" opacity="0.8"/>
<rect x="37.3" y="423.98" width="1.59" height="0.6" fill="#fff" opacity="0.8"/>
<rect x="37.3" y="426.33" width="1.37" height="0.32" fill="#fff" opacity="0.8"/>
<rect x="37.3" y="428.08" width="0.83" height="0.65" fill="#fff" opacity="0.8"/>
<rect x="37.3" y="434.03" width="1.6" height="0.62" fill="#fff" opacity="0.8"/>
<rect x="37.3" y="436.26" width="0.67" height="0.51" fill="#fff" opacity="0.8"/>
<rect x="37.3" y="438.83" width="0.69" height="0.35" fill="#fff" opacity="0.8"/>
<rect x="37.3" y="443.62" width="1.35" height="0.33" fill="#fff" opacity="0.8"/>
<rect x="37.3" y="445.4" width="0.69" height="0.66" fill="#fff" opacity="0.8"/>
<rect x="37.3" y="449.33" width="0.92" height="0.47" fill="#fff" opacity="0.8"/>
<text x="21.8" y="181.9" font-size="8.6" text-anchor="middle" fill="#1a1a1a" stroke="#1a1a1a" stroke-width="0.12">1</text>
<text x="21.8" y="260.6" font-size="8.6" text-anchor="middle" fill="#1a1a1a" stroke="#1a1a1a" stroke-width="0.12">2</text>
<text x="21.8" y="333.7" font-size="8.6" text-anchor="middle" fill="#1a1a1a" stroke="#1a1a1a" stroke-width="0.12">3</text>
<text x="21.8" y="379.8" font-size="8.6" text-anchor="middle" fill="#1a1a1a" stroke="#1a1a1a" stroke-width="0.12">4</text>
<text x="21.8" y="436" font-size="8.6" text-anchor="middle" fill="#1a1a1a" stroke="#1a1a1a" stroke-width="0.12">5</text>
<text x="51.3" y="461.2" font-size="8.4" text-anchor="end" fill="#1a1a1a" stroke="#1a1a1a" stroke-width="0.12" textLength="24" lengthAdjust="spacingAndGlyphs" transform="rotate(-90 51.3 461.2)">DMSO</text>
<text x="70.7" y="461.2" font-size="8.4" text-anchor="end" fill="#1a1a1a" stroke="#1a1a1a" stroke-width="0.12" textLength="16" lengthAdjust="spacingAndGlyphs" transform="rotate(-90 70.7 461.2)">RUX</text>
<text x="90.3" y="461.2" font-size="8.4" text-anchor="end" fill="#1a1a1a" stroke="#1a1a1a" stroke-width="0.12" textLength="16" lengthAdjust="spacingAndGlyphs" transform="rotate(-90 90.3 461.2)">GSK</text>
<text x="109.7" y="461.2" font-size="8.4" text-anchor="end" fill="#1a1a1a" stroke="#1a1a1a" stroke-width="0.12" textLength="16.5" lengthAdjust="spacingAndGlyphs" transform="rotate(-90 109.7 461.2)">ORY</text>
<text x="129.4" y="461.2" font-size="8.4" text-anchor="end" fill="#1a1a1a" stroke="#1a1a1a" stroke-width="0.12" textLength="16.5" lengthAdjust="spacingAndGlyphs" transform="rotate(-90 129.4 461.2)">R+G</text>
<text x="148.8" y="461.2" font-size="8.4" text-anchor="end" fill="#1a1a1a" stroke="#1a1a1a" stroke-width="0.12" textLength="16.5" lengthAdjust="spacingAndGlyphs" transform="rotate(-90 148.8 461.2)">R+O</text>
<text x="82.2" y="495.6" font-size="8.6" text-anchor="middle" fill="#1a1a1a" stroke="#1a1a1a" stroke-width="0.12" textLength="41" lengthAdjust="spacingAndGlyphs">Normalized</text>
<text x="82" y="505.6" font-size="8.6" text-anchor="middle" fill="#1a1a1a" stroke="#1a1a1a" stroke-width="0.12" textLength="38.5" lengthAdjust="spacingAndGlyphs">expression</text>
<rect x="49" y="509.8" width="66" height="13.7" fill="url(#ncb)"/>
<line x1="50" y1="509.8" x2="50" y2="512" stroke="#fff" stroke-width="0.8"/>
<line x1="50" y1="521.3" x2="50" y2="523.5" stroke="#fff" stroke-width="0.8"/>
<line x1="66.6" y1="509.8" x2="66.6" y2="512" stroke="#fff" stroke-width="0.8"/>
<line x1="66.6" y1="521.3" x2="66.6" y2="523.5" stroke="#fff" stroke-width="0.8"/>
<line x1="97.7" y1="509.8" x2="97.7" y2="512" stroke="#fff" stroke-width="0.8"/>
<line x1="97.7" y1="521.3" x2="97.7" y2="523.5" stroke="#fff" stroke-width="0.8"/>
<line x1="112.5" y1="509.8" x2="112.5" y2="512" stroke="#fff" stroke-width="0.8"/>
<line x1="112.5" y1="521.3" x2="112.5" y2="523.5" stroke="#fff" stroke-width="0.8"/>
<text x="50.3" y="533.3" font-size="8" text-anchor="middle" fill="#1a1a1a" stroke="#1a1a1a" stroke-width="0.12">−2</text>
<text x="66.3" y="533.3" font-size="8" text-anchor="middle" fill="#1a1a1a" stroke="#1a1a1a" stroke-width="0.12">−1</text>
<text x="81.7" y="533.3" font-size="8" text-anchor="middle" fill="#1a1a1a" stroke="#1a1a1a" stroke-width="0.12">0</text>
<text x="96.8" y="533.3" font-size="8" text-anchor="middle" fill="#1a1a1a" stroke="#1a1a1a" stroke-width="0.12">1</text>
<text x="112" y="533.3" font-size="8" text-anchor="middle" fill="#1a1a1a" stroke="#1a1a1a" stroke-width="0.12">2</text>
<rect x="181" y="142.3" width="271" height="122.7" fill="#ebe9eb" rx="11.5"/>
<rect x="179.8" y="282" width="230.6" height="123" fill="#ebe9eb" rx="11.5"/>
<text x="188.8" y="161.7" font-size="9.2" fill="#262626" stroke="#262626" stroke-width="0.08" textLength="31.6" lengthAdjust="spacingAndGlyphs">Cluster 1</text>
<text x="188.8" y="179.3" font-size="9.2" fill="#262626" stroke="#262626" stroke-width="0.08" textLength="31.6" lengthAdjust="spacingAndGlyphs">Cluster 2</text>
<text x="188.8" y="196.7" font-size="9.2" fill="#262626" stroke="#262626" stroke-width="0.08" textLength="31.6" lengthAdjust="spacingAndGlyphs">Cluster 3</text>
<text x="188.8" y="214.3" font-size="9.2" fill="#262626" stroke="#262626" stroke-width="0.08" textLength="31.6" lengthAdjust="spacingAndGlyphs">Cluster 4</text>
<text x="188.8" y="231.7" font-size="9.2" fill="#262626" stroke="#262626" stroke-width="0.08" textLength="31.6" lengthAdjust="spacingAndGlyphs">Cluster 5</text>
<text x="188.8" y="300" font-size="9.2" fill="#262626" stroke="#262626" stroke-width="0.08" textLength="31.6" lengthAdjust="spacingAndGlyphs">Cluster 1</text>
<text x="188.8" y="317.6" font-size="9.2" fill="#262626" stroke="#262626" stroke-width="0.08" textLength="31.6" lengthAdjust="spacingAndGlyphs">Cluster 2</text>
<text x="188.8" y="335.2" font-size="9.2" fill="#262626" stroke="#262626" stroke-width="0.08" textLength="31.6" lengthAdjust="spacingAndGlyphs">Cluster 3</text>
<text x="188.8" y="352.6" font-size="9.2" fill="#262626" stroke="#262626" stroke-width="0.08" textLength="31.6" lengthAdjust="spacingAndGlyphs">Cluster 4</text>
<text x="188.8" y="370.3" font-size="9.2" fill="#262626" stroke="#262626" stroke-width="0.08" textLength="31.6" lengthAdjust="spacingAndGlyphs">Cluster 5</text>
<circle cx="239.2" cy="158.4" r="1.3" fill="#3d1a5e"/>
<circle cx="274.8" cy="158.4" r="3.6" fill="#c5d92c"/>
<circle cx="310.4" cy="158.4" r="3.9" fill="#fde725"/>
<circle cx="346" cy="158.4" r="2.8" fill="#1f8a78"/>
<circle cx="382" cy="158.4" r="3.2" fill="#82c446"/>
<circle cx="239.2" cy="176" r="1.05" fill="#2a7a8a"/>
<circle cx="274.8" cy="176" r="1.05" fill="#3b4f8b"/>
<circle cx="310.4" cy="176" r="1.05" fill="#26928a"/>
<circle cx="346" cy="176" r="1.05" fill="#2a7f8e"/>
<circle cx="382" cy="176" r="1.05" fill="#3b528b"/>
<circle cx="239.2" cy="193.4" r="1.05" fill="#3b528b"/>
<circle cx="274.8" cy="193.4" r="2.8" fill="#7ac452"/>
<circle cx="310.4" cy="193.4" r="1.05" fill="#22a884"/>
<circle cx="346" cy="193.4" r="1.05" fill="#2a788e"/>
<circle cx="382" cy="193.4" r="2.8" fill="#7ac452"/>
<circle cx="239.2" cy="211" r="1.05" fill="#22a884"/>
<circle cx="274.8" cy="211" r="1.05" fill="#21918c"/>
<circle cx="310.4" cy="211" r="2.8" fill="#2fb07c"/>
<circle cx="346" cy="211" r="1.05" fill="#21918c"/>
<circle cx="382" cy="211" r="1.05" fill="#21918c"/>
<circle cx="239.2" cy="228.4" r="1.1" fill="#3e2f7a"/>
<circle cx="274.8" cy="228.4" r="1.05" fill="#21918c"/>
<circle cx="310.4" cy="228.4" r="1.05" fill="#21918c"/>
<circle cx="346" cy="228.4" r="1.05" fill="#2a788e"/>
<circle cx="382" cy="228.4" r="1.05" fill="#2a788e"/>
<circle cx="254.7" cy="296.7" r="1.1" fill="#2c3e85"/>
<circle cx="312" cy="296.7" r="1.1" fill="#2c3e85"/>
<circle cx="254.7" cy="314.3" r="1.1" fill="#1f9080"/>
<circle cx="312" cy="314.3" r="1.1" fill="#35306e"/>
<circle cx="254.7" cy="331.9" r="1" fill="#4fb350"/>
<circle cx="312" cy="331.9" r="1" fill="#f6e620"/>
<circle cx="254.7" cy="349.3" r="4" fill="#b2d235"/>
<circle cx="312" cy="349.3" r="3" fill="#7cbf45"/>
<circle cx="254.7" cy="367" r="1.1" fill="#2b0f4c"/>
<circle cx="312" cy="367" r="1.1" fill="#2b2d6e"/>
<text x="407.2" y="157" font-size="7.8" fill="#1a1a1a" textLength="38.5" lengthAdjust="spacingAndGlyphs">–log<tspan font-size="5.3" dy="1.8">10</tspan><tspan dy="-1.8">(pval)</tspan></text>
<circle cx="415.2" cy="163" r="0.9" fill="#000"/>
<text x="421.6" y="165.6" font-size="7.2" fill="#1a1a1a" stroke="#1a1a1a" stroke-width="0.12">0</text>
<circle cx="415.2" cy="169.9" r="2.4" fill="#000"/>
<text x="421.6" y="173.3" font-size="7.2" fill="#1a1a1a" stroke="#1a1a1a" stroke-width="0.12">1</text>
<circle cx="415.2" cy="177" r="3" fill="#000"/>
<text x="421.6" y="181.3" font-size="7.2" fill="#1a1a1a" stroke="#1a1a1a" stroke-width="0.12">2</text>
<circle cx="415.2" cy="184.3" r="3.4" fill="#000"/>
<text x="421.6" y="189" font-size="7.2" fill="#1a1a1a" stroke="#1a1a1a" stroke-width="0.12">3</text>
<circle cx="415.2" cy="193.4" r="3.85" fill="#000"/>
<text x="421.6" y="197.3" font-size="7.2" fill="#1a1a1a" stroke="#1a1a1a" stroke-width="0.12">4</text>
<text x="408.6" y="207" font-size="8.2" fill="#1a1a1a" stroke="#1a1a1a" stroke-width="0.12" textLength="19.5" lengthAdjust="spacingAndGlyphs">Motif</text>
<text x="408.6" y="214" font-size="8.2" fill="#1a1a1a" stroke="#1a1a1a" stroke-width="0.12" textLength="36.8" lengthAdjust="spacingAndGlyphs">enrichment</text>
<rect x="410" y="216.4" width="6.6" height="33.6" fill="url(#vir)"/>
<text x="417.4" y="221.5" font-size="7.2" fill="#1a1a1a" stroke="#1a1a1a" stroke-width="0.12" textLength="8.6" lengthAdjust="spacingAndGlyphs">1.8</text>
<text x="417.4" y="228.2" font-size="7.2" fill="#1a1a1a" stroke="#1a1a1a" stroke-width="0.12" textLength="8.6" lengthAdjust="spacingAndGlyphs">1.5</text>
<text x="417.4" y="236.2" font-size="7.2" fill="#1a1a1a" stroke="#1a1a1a" stroke-width="0.12" textLength="8.6" lengthAdjust="spacingAndGlyphs">1.2</text>
<text x="417.4" y="244.5" font-size="7.2" fill="#1a1a1a" stroke="#1a1a1a" stroke-width="0.12" textLength="8.6" lengthAdjust="spacingAndGlyphs">0.9</text>
<text x="361.4" y="297" font-size="7.8" fill="#1a1a1a" textLength="37.7" lengthAdjust="spacingAndGlyphs">–log<tspan font-size="5.3" dy="1.8">10</tspan><tspan dy="-1.8">(pval)</tspan></text>
<circle cx="365.4" cy="303" r="0.9" fill="#000"/>
<text x="371.4" y="305.9" font-size="7" fill="#1a1a1a" stroke="#1a1a1a" stroke-width="0.12" textLength="8.8" lengthAdjust="spacingAndGlyphs">0.0</text>
<circle cx="365.4" cy="309.4" r="2.2" fill="#000"/>
<text x="371.4" y="312.8" font-size="7" fill="#1a1a1a" stroke="#1a1a1a" stroke-width="0.12" textLength="8.8" lengthAdjust="spacingAndGlyphs">0.5</text>
<circle cx="365.4" cy="316.3" r="2.6" fill="#000"/>
<text x="371.4" y="319.9" font-size="7" fill="#1a1a1a" stroke="#1a1a1a" stroke-width="0.12" textLength="8.8" lengthAdjust="spacingAndGlyphs">1.0</text>
<circle cx="365.4" cy="324.3" r="3.1" fill="#000"/>
<text x="371.4" y="328.4" font-size="7" fill="#1a1a1a" stroke="#1a1a1a" stroke-width="0.12" textLength="8.8" lengthAdjust="spacingAndGlyphs">1.5</text>
<circle cx="365.4" cy="333.9" r="3.6" fill="#000"/>
<text x="371.4" y="338" font-size="7" fill="#1a1a1a" stroke="#1a1a1a" stroke-width="0.12" textLength="8.8" lengthAdjust="spacingAndGlyphs">2.0</text>
<text x="362.2" y="347.6" font-size="8.2" fill="#1a1a1a" stroke="#1a1a1a" stroke-width="0.12" textLength="19.5" lengthAdjust="spacingAndGlyphs">Motif</text>
<text x="362.2" y="356.6" font-size="8.2" fill="#1a1a1a" stroke="#1a1a1a" stroke-width="0.12" textLength="37" lengthAdjust="spacingAndGlyphs">enrichment</text>
<rect x="362.7" y="358" width="7" height="33.6" fill="url(#vir)"/>
<text x="372.6" y="366.1" font-size="7" fill="#1a1a1a" stroke="#1a1a1a" stroke-width="0.12" textLength="12" lengthAdjust="spacingAndGlyphs">1.50</text>
<text x="372.6" y="374.1" font-size="7" fill="#1a1a1a" stroke="#1a1a1a" stroke-width="0.12" textLength="12" lengthAdjust="spacingAndGlyphs">1.25</text>
<text x="372.6" y="382.1" font-size="7" fill="#1a1a1a" stroke="#1a1a1a" stroke-width="0.12" textLength="12" lengthAdjust="spacingAndGlyphs">1.00</text>
<text x="372.6" y="390.1" font-size="7" fill="#1a1a1a" stroke="#1a1a1a" stroke-width="0.12" textLength="12" lengthAdjust="spacingAndGlyphs">0.75</text>
<text transform="translate(224 248.5) scale(0.353 0.263)" font-size="10" font-weight="bold" fill="#2b5fa8">C</text><text transform="translate(224 246.6) scale(0.328 0.658)" font-size="10" font-weight="bold" fill="#f5a623">G</text><text transform="translate(224 241.86) scale(0.353 0.878)" font-size="10" font-weight="bold" fill="#2ca02c">A</text><text transform="translate(226.55 248.5) scale(0.353 0.439)" font-size="10" font-weight="bold" fill="#2ca02c">A</text><text transform="translate(226.55 245.34) scale(0.328 0.439)" font-size="10" font-weight="bold" fill="#f5a623">G</text><text transform="translate(226.55 242.18) scale(0.353 0.988)" font-size="10" font-weight="bold" fill="#2b5fa8">C</text><text transform="translate(229.1 248.5) scale(0.328 0.329)" font-size="10" font-weight="bold" fill="#f5a623">G</text><text transform="translate(229.1 246.13) scale(0.353 1.646)" font-size="10" font-weight="bold" fill="#2ca02c">A</text><text transform="translate(231.65 248.5) scale(0.328 1.865)" font-size="10" font-weight="bold" fill="#f5a623">G</text><text transform="translate(234.2 248.5) scale(0.328 1.975)" font-size="10" font-weight="bold" fill="#f5a623">G</text><text transform="translate(236.75 248.5) scale(0.417 0.329)" font-size="10" font-weight="bold" fill="#d7263d">T</text><text transform="translate(236.75 246.13) scale(0.353 1.536)" font-size="10" font-weight="bold" fill="#2ca02c">A</text><text transform="translate(239.3 248.5) scale(0.353 0.329)" font-size="10" font-weight="bold" fill="#2ca02c">A</text><text transform="translate(239.3 246.13) scale(0.353 0.329)" font-size="10" font-weight="bold" fill="#2b5fa8">C</text><text transform="translate(239.3 243.76) scale(0.417 1.207)" font-size="10" font-weight="bold" fill="#d7263d">T</text><text transform="translate(241.85 248.5) scale(0.328 1.975)" font-size="10" font-weight="bold" fill="#f5a623">G</text><text transform="translate(244.4 248.5) scale(0.417 1.975)" font-size="10" font-weight="bold" fill="#d7263d">T</text><text transform="translate(246.95 248.5) scale(0.328 2.085)" font-size="10" font-weight="bold" fill="#f5a623">G</text><text transform="translate(249.5 248.5) scale(0.328 2.085)" font-size="10" font-weight="bold" fill="#f5a623">G</text><text transform="translate(252.05 248.5) scale(0.353 0.439)" font-size="10" font-weight="bold" fill="#2b5fa8">C</text><text transform="translate(252.05 245.34) scale(0.417 1.426)" font-size="10" font-weight="bold" fill="#d7263d">T</text>
<text transform="translate(260.4 248.5) scale(0.416 0.329)" font-size="10" font-weight="bold" fill="#2ca02c">A</text><text transform="translate(260.4 246.13) scale(0.416 0.549)" font-size="10" font-weight="bold" fill="#2b5fa8">C</text><text transform="translate(260.4 242.18) scale(0.386 0.988)" font-size="10" font-weight="bold" fill="#f5a623">G</text><text transform="translate(263.4 248.5) scale(0.416 0.329)" font-size="10" font-weight="bold" fill="#2ca02c">A</text><text transform="translate(263.4 246.13) scale(0.491 0.439)" font-size="10" font-weight="bold" fill="#d7263d">T</text><text transform="translate(263.4 242.97) scale(0.416 1.097)" font-size="10" font-weight="bold" fill="#2b5fa8">C</text><text transform="translate(266.4 248.5) scale(0.416 0.329)" font-size="10" font-weight="bold" fill="#2b5fa8">C</text><text transform="translate(266.4 246.13) scale(0.491 1.646)" font-size="10" font-weight="bold" fill="#d7263d">T</text><text transform="translate(269.4 248.5) scale(0.386 1.975)" font-size="10" font-weight="bold" fill="#f5a623">G</text><text transform="translate(272.4 248.5) scale(0.491 1.975)" font-size="10" font-weight="bold" fill="#d7263d">T</text><text transform="translate(275.4 248.5) scale(0.386 2.085)" font-size="10" font-weight="bold" fill="#f5a623">G</text><text transform="translate(278.4 248.5) scale(0.386 2.085)" font-size="10" font-weight="bold" fill="#f5a623">G</text><text transform="translate(281.4 248.5) scale(0.491 1.975)" font-size="10" font-weight="bold" fill="#d7263d">T</text><text transform="translate(284.4 248.5) scale(0.416 0.329)" font-size="10" font-weight="bold" fill="#2b5fa8">C</text><text transform="translate(284.4 246.13) scale(0.416 0.439)" font-size="10" font-weight="bold" fill="#2ca02c">A</text><text transform="translate(284.4 242.97) scale(0.491 1.207)" font-size="10" font-weight="bold" fill="#d7263d">T</text><text transform="translate(287.4 248.5) scale(0.416 0.329)" font-size="10" font-weight="bold" fill="#2b5fa8">C</text><text transform="translate(287.4 246.13) scale(0.416 0.768)" font-size="10" font-weight="bold" fill="#2ca02c">A</text><text transform="translate(287.4 240.6) scale(0.491 0.768)" font-size="10" font-weight="bold" fill="#d7263d">T</text>
<text transform="translate(295.8 248.5) scale(0.432 0.329)" font-size="10" font-weight="bold" fill="#2ca02c">A</text><text transform="translate(295.8 246.13) scale(0.511 0.329)" font-size="10" font-weight="bold" fill="#d7263d">T</text><text transform="translate(295.8 243.76) scale(0.401 0.439)" font-size="10" font-weight="bold" fill="#f5a623">G</text><text transform="translate(295.8 240.6) scale(0.432 0.768)" font-size="10" font-weight="bold" fill="#2b5fa8">C</text><text transform="translate(298.92 248.5) scale(0.401 0.329)" font-size="10" font-weight="bold" fill="#f5a623">G</text><text transform="translate(298.92 246.13) scale(0.511 0.329)" font-size="10" font-weight="bold" fill="#d7263d">T</text><text transform="translate(298.92 243.76) scale(0.432 1.097)" font-size="10" font-weight="bold" fill="#2ca02c">A</text><text transform="translate(302.04 248.5) scale(0.401 0.219)" font-size="10" font-weight="bold" fill="#f5a623">G</text><text transform="translate(302.04 246.92) scale(0.432 1.756)" font-size="10" font-weight="bold" fill="#2ca02c">A</text><text transform="translate(305.16 248.5) scale(0.432 1.865)" font-size="10" font-weight="bold" fill="#2ca02c">A</text><text transform="translate(308.28 248.5) scale(0.432 2.085)" font-size="10" font-weight="bold" fill="#2b5fa8">C</text><text transform="translate(311.4 248.5) scale(0.432 2.085)" font-size="10" font-weight="bold" fill="#2b5fa8">C</text><text transform="translate(314.52 248.5) scale(0.432 1.975)" font-size="10" font-weight="bold" fill="#2ca02c">A</text><text transform="translate(317.64 248.5) scale(0.432 2.085)" font-size="10" font-weight="bold" fill="#2b5fa8">C</text><text transform="translate(320.76 248.5) scale(0.432 1.865)" font-size="10" font-weight="bold" fill="#2ca02c">A</text><text transform="translate(323.88 248.5) scale(0.432 0.329)" font-size="10" font-weight="bold" fill="#2b5fa8">C</text><text transform="translate(323.88 246.13) scale(0.432 0.549)" font-size="10" font-weight="bold" fill="#2ca02c">A</text><text transform="translate(323.88 242.18) scale(0.401 1.097)" font-size="10" font-weight="bold" fill="#f5a623">G</text>
<text transform="translate(331.5 248.5) scale(0.491 0.329)" font-size="10" font-weight="bold" fill="#d7263d">T</text><text transform="translate(331.5 246.13) scale(0.386 0.219)" font-size="10" font-weight="bold" fill="#f5a623">G</text><text transform="translate(331.5 244.55) scale(0.416 1.317)" font-size="10" font-weight="bold" fill="#2ca02c">A</text><text transform="translate(334.5 248.5) scale(0.491 0.219)" font-size="10" font-weight="bold" fill="#d7263d">T</text><text transform="translate(334.5 246.92) scale(0.416 1.646)" font-size="10" font-weight="bold" fill="#2ca02c">A</text><text transform="translate(337.5 248.5) scale(0.416 1.865)" font-size="10" font-weight="bold" fill="#2ca02c">A</text><text transform="translate(340.5 248.5) scale(0.416 2.085)" font-size="10" font-weight="bold" fill="#2b5fa8">C</text><text transform="translate(343.5 248.5) scale(0.416 2.085)" font-size="10" font-weight="bold" fill="#2b5fa8">C</text><text transform="translate(346.5 248.5) scale(0.416 1.975)" font-size="10" font-weight="bold" fill="#2ca02c">A</text><text transform="translate(349.5 248.5) scale(0.416 2.085)" font-size="10" font-weight="bold" fill="#2b5fa8">C</text><text transform="translate(352.5 248.5) scale(0.416 1.865)" font-size="10" font-weight="bold" fill="#2ca02c">A</text><text transform="translate(355.5 248.5) scale(0.491 0.219)" font-size="10" font-weight="bold" fill="#d7263d">T</text><text transform="translate(355.5 246.92) scale(0.386 0.549)" font-size="10" font-weight="bold" fill="#f5a623">G</text><text transform="translate(355.5 242.97) scale(0.416 0.988)" font-size="10" font-weight="bold" fill="#2ca02c">A</text><text transform="translate(358.5 248.5) scale(0.386 0.219)" font-size="10" font-weight="bold" fill="#f5a623">G</text><text transform="translate(358.5 246.92) scale(0.416 0.658)" font-size="10" font-weight="bold" fill="#2b5fa8">C</text><text transform="translate(358.5 242.18) scale(0.416 0.768)" font-size="10" font-weight="bold" fill="#2ca02c">A</text>
<text transform="translate(366.8 248.5) scale(0.439 0.439)" font-size="10" font-weight="bold" fill="#d7263d">T</text><text transform="translate(366.8 245.34) scale(0.345 0.439)" font-size="10" font-weight="bold" fill="#f5a623">G</text><text transform="translate(366.8 242.18) scale(0.372 0.329)" font-size="10" font-weight="bold" fill="#2ca02c">A</text><text transform="translate(366.8 239.81) scale(0.372 0.549)" font-size="10" font-weight="bold" fill="#2b5fa8">C</text><text transform="translate(369.48 248.5) scale(0.372 0.219)" font-size="10" font-weight="bold" fill="#2b5fa8">C</text><text transform="translate(369.48 246.92) scale(0.439 0.549)" font-size="10" font-weight="bold" fill="#d7263d">T</text><text transform="translate(369.48 242.97) scale(0.372 0.878)" font-size="10" font-weight="bold" fill="#2ca02c">A</text><text transform="translate(372.17 248.5) scale(0.439 0.219)" font-size="10" font-weight="bold" fill="#d7263d">T</text><text transform="translate(372.17 246.92) scale(0.372 1.536)" font-size="10" font-weight="bold" fill="#2ca02c">A</text><text transform="translate(374.85 248.5) scale(0.372 1.756)" font-size="10" font-weight="bold" fill="#2ca02c">A</text><text transform="translate(377.53 248.5) scale(0.372 2.085)" font-size="10" font-weight="bold" fill="#2b5fa8">C</text><text transform="translate(380.22 248.5) scale(0.372 2.085)" font-size="10" font-weight="bold" fill="#2b5fa8">C</text><text transform="translate(382.9 248.5) scale(0.372 1.975)" font-size="10" font-weight="bold" fill="#2ca02c">A</text><text transform="translate(385.58 248.5) scale(0.372 2.085)" font-size="10" font-weight="bold" fill="#2b5fa8">C</text><text transform="translate(388.27 248.5) scale(0.372 1.865)" font-size="10" font-weight="bold" fill="#2ca02c">A</text><text transform="translate(390.95 248.5) scale(0.439 0.439)" font-size="10" font-weight="bold" fill="#d7263d">T</text><text transform="translate(390.95 245.34) scale(0.345 0.549)" font-size="10" font-weight="bold" fill="#f5a623">G</text><text transform="translate(390.95 241.39) scale(0.372 0.768)" font-size="10" font-weight="bold" fill="#2ca02c">A</text><text transform="translate(393.63 248.5) scale(0.439 0.439)" font-size="10" font-weight="bold" fill="#d7263d">T</text><text transform="translate(393.63 245.34) scale(0.372 0.549)" font-size="10" font-weight="bold" fill="#2b5fa8">C</text><text transform="translate(393.63 241.39) scale(0.372 0.439)" font-size="10" font-weight="bold" fill="#2ca02c">A</text><text transform="translate(396.32 248.5) scale(0.439 0.329)" font-size="10" font-weight="bold" fill="#d7263d">T</text><text transform="translate(396.32 246.13) scale(0.345 0.439)" font-size="10" font-weight="bold" fill="#f5a623">G</text><text transform="translate(396.32 242.97) scale(0.372 0.658)" font-size="10" font-weight="bold" fill="#2b5fa8">C</text>
<text x="239.6" y="256.1" font-size="6.4" text-anchor="middle" fill="#222" stroke="#222" stroke-width="0.04" textLength="30" lengthAdjust="spacingAndGlyphs">ETS:RUNX</text>
<text x="239.6" y="261" font-size="4.3" text-anchor="middle" fill="#333" textLength="36.4" lengthAdjust="spacingAndGlyphs">RCAGGATGTGGT</text>
<text x="275.4" y="256.1" font-size="6.4" text-anchor="middle" fill="#222" stroke="#222" stroke-width="0.04" textLength="30.5" lengthAdjust="spacingAndGlyphs">RUNX-AML</text>
<text x="275.4" y="261" font-size="4.3" text-anchor="middle" fill="#333" textLength="31" lengthAdjust="spacingAndGlyphs">GCTGTGGTTW</text>
<text x="311.2" y="256.1" font-size="6.4" text-anchor="middle" fill="#222" stroke="#222" stroke-width="0.04" textLength="16.5" lengthAdjust="spacingAndGlyphs">RUNX</text>
<text x="311.2" y="261" font-size="4.3" text-anchor="middle" fill="#333" textLength="30" lengthAdjust="spacingAndGlyphs">SAAACCACAG</text>
<text x="346.5" y="256.1" font-size="6.4" text-anchor="middle" fill="#222" stroke="#222" stroke-width="0.04" textLength="20" lengthAdjust="spacingAndGlyphs">RUNX1</text>
<text x="346.5" y="261" font-size="4.3" text-anchor="middle" fill="#333" textLength="30.5" lengthAdjust="spacingAndGlyphs">AAACCACARM</text>
<text x="383.5" y="256.1" font-size="6.4" text-anchor="middle" fill="#222" stroke="#222" stroke-width="0.04" textLength="20.5" lengthAdjust="spacingAndGlyphs">RUNX2</text>
<text x="383.5" y="261" font-size="4.3" text-anchor="middle" fill="#333" textLength="36" lengthAdjust="spacingAndGlyphs">NWAACCACADNN</text>
<text transform="translate(229.5 396.3) scale(0.845 0.268)" font-size="10" font-weight="bold" fill="#d7263d">T</text><text transform="translate(229.5 394.37) scale(0.715 0.751)" font-size="10" font-weight="bold" fill="#2b5fa8">C</text><text transform="translate(229.5 388.97) scale(0.664 0.751)" font-size="10" font-weight="bold" fill="#f5a623">G</text><text transform="translate(229.5 383.56) scale(0.715 0.804)" font-size="10" font-weight="bold" fill="#2ca02c">A</text><text transform="translate(234.66 396.3) scale(0.715 0.268)" font-size="10" font-weight="bold" fill="#2ca02c">A</text><text transform="translate(234.66 394.37) scale(0.664 0.670)" font-size="10" font-weight="bold" fill="#f5a623">G</text><text transform="translate(234.66 389.55) scale(0.715 1.662)" font-size="10" font-weight="bold" fill="#2b5fa8">C</text><text transform="translate(239.82 396.3) scale(0.715 2.600)" font-size="10" font-weight="bold" fill="#2b5fa8">C</text><text transform="translate(244.99 396.3) scale(0.715 2.600)" font-size="10" font-weight="bold" fill="#2ca02c">A</text><text transform="translate(250.15 396.3) scale(0.715 2.600)" font-size="10" font-weight="bold" fill="#2b5fa8">C</text><text transform="translate(255.31 396.3) scale(0.664 2.600)" font-size="10" font-weight="bold" fill="#f5a623">G</text><text transform="translate(260.48 396.3) scale(0.845 2.600)" font-size="10" font-weight="bold" fill="#d7263d">T</text><text transform="translate(265.64 396.3) scale(0.664 2.600)" font-size="10" font-weight="bold" fill="#f5a623">G</text>
<text transform="translate(289 396.3) scale(0.949 0.268)" font-size="10" font-weight="bold" fill="#d7263d">T</text><text transform="translate(289 394.37) scale(0.803 0.670)" font-size="10" font-weight="bold" fill="#2b5fa8">C</text><text transform="translate(289 389.55) scale(0.803 0.670)" font-size="10" font-weight="bold" fill="#2ca02c">A</text><text transform="translate(289 384.72) scale(0.746 0.938)" font-size="10" font-weight="bold" fill="#f5a623">G</text><text transform="translate(294.8 396.3) scale(0.949 0.268)" font-size="10" font-weight="bold" fill="#d7263d">T</text><text transform="translate(294.8 394.37) scale(0.803 0.670)" font-size="10" font-weight="bold" fill="#2b5fa8">C</text><text transform="translate(294.8 389.55) scale(0.803 0.670)" font-size="10" font-weight="bold" fill="#2ca02c">A</text><text transform="translate(294.8 384.72) scale(0.746 0.938)" font-size="10" font-weight="bold" fill="#f5a623">G</text><text transform="translate(300.6 396.3) scale(0.803 0.268)" font-size="10" font-weight="bold" fill="#2ca02c">A</text><text transform="translate(300.6 394.37) scale(0.746 0.670)" font-size="10" font-weight="bold" fill="#f5a623">G</text><text transform="translate(300.6 389.55) scale(0.803 1.662)" font-size="10" font-weight="bold" fill="#2b5fa8">C</text><text transform="translate(306.4 396.3) scale(0.803 2.600)" font-size="10" font-weight="bold" fill="#2b5fa8">C</text><text transform="translate(312.2 396.3) scale(0.803 2.600)" font-size="10" font-weight="bold" fill="#2ca02c">A</text><text transform="translate(318 396.3) scale(0.803 2.600)" font-size="10" font-weight="bold" fill="#2b5fa8">C</text><text transform="translate(323.8 396.3) scale(0.746 2.600)" font-size="10" font-weight="bold" fill="#f5a623">G</text><text transform="translate(329.6 396.3) scale(0.949 2.600)" font-size="10" font-weight="bold" fill="#d7263d">T</text><text transform="translate(335.4 396.3) scale(0.746 2.600)" font-size="10" font-weight="bold" fill="#f5a623">G</text><text transform="translate(341.2 396.3) scale(0.949 0.268)" font-size="10" font-weight="bold" fill="#d7263d">T</text><text transform="translate(341.2 394.37) scale(0.803 0.804)" font-size="10" font-weight="bold" fill="#2b5fa8">C</text><text transform="translate(341.2 388.58) scale(0.746 1.474)" font-size="10" font-weight="bold" fill="#f5a623">G</text>
<text x="249.5" y="402.9" font-size="6.8" text-anchor="middle" fill="#222" stroke="#222" stroke-width="0.04" textLength="54" lengthAdjust="spacingAndGlyphs">c-Myc-VCCACGTG</text>
<text x="317.8" y="402.9" font-size="6.8" text-anchor="middle" fill="#222" stroke="#222" stroke-width="0.04" textLength="62.5" lengthAdjust="spacingAndGlyphs">c-Myc-VVCCACGTGG</text>
<rect x="181" y="421.2" width="229.3" height="41.2" fill="#1a4f8b"/>
<text x="185.8" y="431.6" font-size="9.6" font-weight="bold" fill="#fff" textLength="146" lengthAdjust="spacingAndGlyphs">Cluster 4: Myc and Fli1 signature</text>
<text x="188.2" y="446.8" font-size="9.4" fill="#fff" stroke="#fff" stroke-width="0.1" textLength="67" lengthAdjust="spacingAndGlyphs">TF perturbation</text>
<text x="188.2" y="457.6" font-size="9.4" fill="#fff" stroke="#fff" stroke-width="0.1" textLength="99" lengthAdjust="spacingAndGlyphs">followed by expression</text>
<text x="335" y="446.8" font-size="9.4" fill="#fff" stroke="#fff" stroke-width="0.1" textLength="39.5" lengthAdjust="spacingAndGlyphs">Adjusted</text>
<text x="335" y="457.6" font-size="9.4" fill="#fff" stroke="#fff" stroke-width="0.1" textLength="32.5" lengthAdjust="spacingAndGlyphs">P-value</text>
<text x="382.4" y="446.8" font-size="9.4" fill="#fff" stroke="#fff" stroke-width="0.1" textLength="24" lengthAdjust="spacingAndGlyphs">Odds</text>
<text x="382.4" y="457.6" font-size="9.4" fill="#fff" stroke="#fff" stroke-width="0.1" textLength="20.5" lengthAdjust="spacingAndGlyphs">ratio</text>
<rect x="181" y="462.7" width="229.3" height="11.4" fill="#dde5ee"/>
<text x="188.2" y="471" font-size="9.2" fill="#222" stroke="#222" stroke-width="0.05" textLength="90" lengthAdjust="spacingAndGlyphs">MYC KO MOUSE DOWN</text>
<text x="336.2" y="471" font-size="9.2" fill="#222" stroke="#222" stroke-width="0.05" textLength="32" lengthAdjust="spacingAndGlyphs">1.22e-10</text>
<text x="382.4" y="471" font-size="9.2" fill="#222" stroke="#222" stroke-width="0.05" textLength="15" lengthAdjust="spacingAndGlyphs">6.84</text>
<rect x="181" y="474.7" width="229.3" height="11.6" fill="#c3d1df"/>
<text x="188.2" y="483.1" font-size="9.2" fill="#222" stroke="#222" stroke-width="0.05" textLength="88" lengthAdjust="spacingAndGlyphs">FLI1 KD HUMAN DOWN</text>
<text x="336.2" y="483.1" font-size="9.2" fill="#222" stroke="#222" stroke-width="0.05" textLength="32" lengthAdjust="spacingAndGlyphs">5.60e-10</text>
<text x="382.4" y="483.1" font-size="9.2" fill="#222" stroke="#222" stroke-width="0.05" textLength="15" lengthAdjust="spacingAndGlyphs">6.76</text>
<rect x="181" y="486.9" width="229.3" height="11.5" fill="#dde5ee"/>
<text x="188.2" y="495.25" font-size="9.2" fill="#222" stroke="#222" stroke-width="0.05" textLength="110" lengthAdjust="spacingAndGlyphs">MYC ACTIVATION MOUSE UP</text>
<text x="336.2" y="495.25" font-size="9.2" fill="#222" stroke="#222" stroke-width="0.05" textLength="32" lengthAdjust="spacingAndGlyphs">3.96e-08</text>
<text x="382.4" y="495.25" font-size="9.2" fill="#222" stroke="#222" stroke-width="0.05" textLength="19" lengthAdjust="spacingAndGlyphs">10.13</text>
<rect x="181" y="499" width="229.3" height="11.4" fill="#c3d1df"/>
<text x="188.2" y="507.3" font-size="9.2" fill="#222" stroke="#222" stroke-width="0.05" textLength="88" lengthAdjust="spacingAndGlyphs">FLI1 KD HUMAN DOWN</text>
<text x="336.2" y="507.3" font-size="9.2" fill="#222" stroke="#222" stroke-width="0.05" textLength="32" lengthAdjust="spacingAndGlyphs">1.11e-07</text>
<text x="382.4" y="507.3" font-size="9.2" fill="#222" stroke="#222" stroke-width="0.05" textLength="15" lengthAdjust="spacingAndGlyphs">5.67</text>
<rect x="181" y="511" width="229.3" height="11.1" fill="#dde5ee"/>
<text x="189.4" y="519.15" font-size="9.2" fill="#222" stroke="#222" stroke-width="0.05" textLength="81.5" lengthAdjust="spacingAndGlyphs">CEBPA KO MOUSE UP</text>
<text x="336.2" y="519.15" font-size="9.2" fill="#222" stroke="#222" stroke-width="0.05" textLength="32" lengthAdjust="spacingAndGlyphs">1.11e-07</text>
<text x="382.4" y="519.15" font-size="9.2" fill="#222" stroke="#222" stroke-width="0.05" textLength="15" lengthAdjust="spacingAndGlyphs">5.40</text>
<text x="6.8" y="553.6" font-size="11.5" font-weight="bold" fill="#000">C</text>
<line x1="39.5" y1="564.2" x2="39.5" y2="643" stroke="#1a1a1a" stroke-width="1.2"/>
<line x1="35.3" y1="568.2" x2="39.5" y2="568.2" stroke="#1a1a1a" stroke-width="0.9"/>
<text x="33.8" y="571.1" font-size="8.2" text-anchor="end" fill="#1a1a1a" stroke="#1a1a1a" stroke-width="0.12" textLength="13" lengthAdjust="spacingAndGlyphs">100</text>
<line x1="35.3" y1="586.7" x2="39.5" y2="586.7" stroke="#1a1a1a" stroke-width="0.9"/>
<text x="33.8" y="589.6" font-size="8.2" text-anchor="end" fill="#1a1a1a" stroke="#1a1a1a" stroke-width="0.12" textLength="8.8" lengthAdjust="spacingAndGlyphs">75</text>
<line x1="35.3" y1="605.2" x2="39.5" y2="605.2" stroke="#1a1a1a" stroke-width="0.9"/>
<text x="33.8" y="608.1" font-size="8.2" text-anchor="end" fill="#1a1a1a" stroke="#1a1a1a" stroke-width="0.12" textLength="8.8" lengthAdjust="spacingAndGlyphs">50</text>
<line x1="35.3" y1="623.7" x2="39.5" y2="623.7" stroke="#1a1a1a" stroke-width="0.9"/>
<text x="33.8" y="626.6" font-size="8.2" text-anchor="end" fill="#1a1a1a" stroke="#1a1a1a" stroke-width="0.12" textLength="8.8" lengthAdjust="spacingAndGlyphs">25</text>
<line x1="35.3" y1="642.2" x2="39.5" y2="642.2" stroke="#1a1a1a" stroke-width="0.9"/>
<text x="33.8" y="645.1" font-size="8.2" text-anchor="end" fill="#1a1a1a" stroke="#1a1a1a" stroke-width="0.12" textLength="4.4" lengthAdjust="spacingAndGlyphs">0</text>
<line x1="37.2" y1="577.45" x2="39.5" y2="577.45" stroke="#1a1a1a" stroke-width="0.8"/>
<line x1="37.2" y1="595.95" x2="39.5" y2="595.95" stroke="#1a1a1a" stroke-width="0.8"/>
<line x1="37.2" y1="614.45" x2="39.5" y2="614.45" stroke="#1a1a1a" stroke-width="0.8"/>
<line x1="37.2" y1="632.95" x2="39.5" y2="632.95" stroke="#1a1a1a" stroke-width="0.8"/>
<line x1="38.9" y1="642.4" x2="162.2" y2="642.4" stroke="#1a1a1a" stroke-width="1.2"/>
<line x1="39.5" y1="642.4" x2="39.5" y2="645.6" stroke="#1a1a1a" stroke-width="0.9"/>
<line x1="52.66" y1="642.4" x2="52.66" y2="645.6" stroke="#1a1a1a" stroke-width="0.9"/>
<line x1="65.82" y1="642.4" x2="65.82" y2="645.6" stroke="#1a1a1a" stroke-width="0.9"/>
<line x1="78.98" y1="642.4" x2="78.98" y2="645.6" stroke="#1a1a1a" stroke-width="0.9"/>
<line x1="92.14" y1="642.4" x2="92.14" y2="645.6" stroke="#1a1a1a" stroke-width="0.9"/>
<line x1="105.3" y1="642.4" x2="105.3" y2="645.6" stroke="#1a1a1a" stroke-width="0.9"/>
<line x1="118.46" y1="642.4" x2="118.46" y2="645.6" stroke="#1a1a1a" stroke-width="0.9"/>
<line x1="131.62" y1="642.4" x2="131.62" y2="645.6" stroke="#1a1a1a" stroke-width="0.9"/>
<line x1="144.78" y1="642.4" x2="144.78" y2="645.6" stroke="#1a1a1a" stroke-width="0.9"/>
<line x1="157.94" y1="642.4" x2="157.94" y2="645.6" stroke="#1a1a1a" stroke-width="0.9"/>
<text x="39.5" y="654.4" font-size="7.8" text-anchor="middle" fill="#1a1a1a" stroke="#1a1a1a" stroke-width="0.12">0</text>
<text x="65.82" y="654.4" font-size="7.8" text-anchor="middle" fill="#1a1a1a" stroke="#1a1a1a" stroke-width="0.12">10</text>
<text x="92.14" y="654.4" font-size="7.8" text-anchor="middle" fill="#1a1a1a" stroke="#1a1a1a" stroke-width="0.12">20</text>
<text x="118.46" y="654.4" font-size="7.8" text-anchor="middle" fill="#1a1a1a" stroke="#1a1a1a" stroke-width="0.12">30</text>
<text x="144.78" y="654.4" font-size="7.8" text-anchor="middle" fill="#1a1a1a" stroke="#1a1a1a" stroke-width="0.12">40</text>
<text x="100.8" y="667.6" font-size="8.8" text-anchor="middle" fill="#1a1a1a" stroke="#1a1a1a" stroke-width="0.12" textLength="67.5" lengthAdjust="spacingAndGlyphs">Days post transplant</text>
<text x="14.3" y="605.3" font-size="8.8" text-anchor="middle" fill="#1a1a1a" stroke="#1a1a1a" stroke-width="0.12" textLength="52" lengthAdjust="spacingAndGlyphs" transform="rotate(-90 14.3 605.3)">Percent survival</text>
<line x1="39.5" y1="605.2" x2="158" y2="605.2" stroke="#333" stroke-width="0.8" stroke-dasharray="0.8 1.6"/>
<line x1="86.6" y1="568.5" x2="86.6" y2="642" stroke="#333" stroke-width="1" stroke-dasharray="1.4 3"/>
<text x="82.5" y="595.5" font-size="6.4" text-anchor="middle" fill="#1a1a1a" stroke="#1a1a1a" stroke-width="0.12" textLength="39" lengthAdjust="spacingAndGlyphs" transform="rotate(-90 82.5 595.5)">Treatment start</text>
<path d="M39.5 568.2 H91.8 V581.2 H97.0 V605.4 H99.4 V617.5 H112.5 V630.0 H128.5 V642.2" fill="none" stroke="#1f5ea1" stroke-width="1.35"/>
<path d="M91.8 568.2 H110.6 V589.8 H112.9 V600.2 H131.4 V610.6 H152.7" fill="none" stroke="#d21f3c" stroke-width="1.35"/>
<text x="114.6" y="623.2" font-size="9.2" fill="#1a1a1a" stroke="#1a1a1a" stroke-width="0.12" textLength="36.9" lengthAdjust="spacingAndGlyphs">p = 0.015</text>
<line x1="44" y1="624.8" x2="52.8" y2="624.8" stroke="#1f5ea1" stroke-width="1.6"/>
<path d="M47.4 624.8 L48.4 622.9 L49.4 624.8 Z" fill="#1f5ea1"/>
<text x="55.8" y="628" font-size="8.8" fill="#1a1a1a" stroke="#1a1a1a" stroke-width="0.12" textLength="23.3" lengthAdjust="spacingAndGlyphs">Vehicle</text>
<line x1="44" y1="634.8" x2="52.8" y2="634.8" stroke="#d21f3c" stroke-width="1.6"/>
<path d="M47.4 634.8 L48.4 632.9 L49.4 634.8 Z" fill="#d21f3c"/>
<text x="55.8" y="638" font-size="8.8" fill="#1a1a1a" stroke="#1a1a1a" stroke-width="0.12" textLength="42.5" lengthAdjust="spacingAndGlyphs">Combination</text>
<text x="176.4" y="553.7" font-size="11.5" font-weight="bold" fill="#000">D</text>
<line x1="219" y1="563.7" x2="219" y2="642.8" stroke="#1a1a1a" stroke-width="1.2"/>
<line x1="214.2" y1="568.5" x2="219" y2="568.5" stroke="#1a1a1a" stroke-width="0.9"/>
<text x="213" y="571.6" font-size="8.6" text-anchor="end" fill="#1a1a1a" stroke="#1a1a1a" stroke-width="0.12" textLength="13.5" lengthAdjust="spacingAndGlyphs">120</text>
<line x1="214.2" y1="592.9" x2="219" y2="592.9" stroke="#1a1a1a" stroke-width="0.9"/>
<text x="213" y="596" font-size="8.6" text-anchor="end" fill="#1a1a1a" stroke="#1a1a1a" stroke-width="0.12" textLength="13.5" lengthAdjust="spacingAndGlyphs">100</text>
<line x1="214.2" y1="617.5" x2="219" y2="617.5" stroke="#1a1a1a" stroke-width="0.9"/>
<text x="213" y="620.6" font-size="8.6" text-anchor="end" fill="#1a1a1a" stroke="#1a1a1a" stroke-width="0.12" textLength="9" lengthAdjust="spacingAndGlyphs">80</text>
<line x1="214.2" y1="642.1" x2="219" y2="642.1" stroke="#1a1a1a" stroke-width="0.9"/>
<text x="213" y="645.2" font-size="8.6" text-anchor="end" fill="#1a1a1a" stroke="#1a1a1a" stroke-width="0.12" textLength="9" lengthAdjust="spacingAndGlyphs">60</text>
<line x1="216.4" y1="580.7" x2="219" y2="580.7" stroke="#1a1a1a" stroke-width="0.8"/>
<line x1="216.4" y1="605.1" x2="219" y2="605.1" stroke="#1a1a1a" stroke-width="0.8"/>
<line x1="216.4" y1="629.5" x2="219" y2="629.5" stroke="#1a1a1a" stroke-width="0.8"/>
<line x1="218.4" y1="642.3" x2="362" y2="642.3" stroke="#1a1a1a" stroke-width="1.2"/>
<line x1="219.3" y1="642.3" x2="219.3" y2="645.6" stroke="#1a1a1a" stroke-width="0.9"/>
<text x="219.3" y="654" font-size="8.4" text-anchor="middle" fill="#1a1a1a" stroke="#1a1a1a" stroke-width="0.12">15</text>
<line x1="242.3" y1="642.3" x2="242.3" y2="645.6" stroke="#1a1a1a" stroke-width="0.9"/>
<text x="242.3" y="654" font-size="8.4" text-anchor="middle" fill="#1a1a1a" stroke="#1a1a1a" stroke-width="0.12">20</text>
<line x1="265.3" y1="642.3" x2="265.3" y2="645.6" stroke="#1a1a1a" stroke-width="0.9"/>
<text x="265.3" y="654" font-size="8.4" text-anchor="middle" fill="#1a1a1a" stroke="#1a1a1a" stroke-width="0.12">25</text>
<line x1="288.3" y1="642.3" x2="288.3" y2="645.6" stroke="#1a1a1a" stroke-width="0.9"/>
<text x="288.3" y="654" font-size="8.4" text-anchor="middle" fill="#1a1a1a" stroke="#1a1a1a" stroke-width="0.12">30</text>
<line x1="311.3" y1="642.3" x2="311.3" y2="645.6" stroke="#1a1a1a" stroke-width="0.9"/>
<text x="311.3" y="654" font-size="8.4" text-anchor="middle" fill="#1a1a1a" stroke="#1a1a1a" stroke-width="0.12">35</text>
<line x1="334.3" y1="642.3" x2="334.3" y2="645.6" stroke="#1a1a1a" stroke-width="0.9"/>
<text x="334.3" y="654" font-size="8.4" text-anchor="middle" fill="#1a1a1a" stroke="#1a1a1a" stroke-width="0.12">40</text>
<line x1="357.3" y1="642.3" x2="357.3" y2="645.6" stroke="#1a1a1a" stroke-width="0.9"/>
<text x="357.3" y="654" font-size="8.4" text-anchor="middle" fill="#1a1a1a" stroke="#1a1a1a" stroke-width="0.12">45</text>
<text x="290" y="667.6" font-size="8.8" text-anchor="middle" fill="#1a1a1a" stroke="#1a1a1a" stroke-width="0.12" textLength="67" lengthAdjust="spacingAndGlyphs">Days post transplant</text>
<text x="289.5" y="680.3" font-size="6.6" text-anchor="middle" fill="#1a1a1a" stroke="#1a1a1a" stroke-width="0.12" textLength="121" lengthAdjust="spacingAndGlyphs">*Group weight not shown after group N=1</text>
<text x="183" y="605.2" font-size="9.2" text-anchor="middle" fill="#1a1a1a" stroke="#1a1a1a" stroke-width="0.12" textLength="43.7" lengthAdjust="spacingAndGlyphs" transform="rotate(-90 183 605.2)">Mean weight</text>
<text x="195.2" y="605.8" font-size="8.8" text-anchor="middle" fill="#1a1a1a" stroke="#1a1a1a" stroke-width="0.12" textLength="89.6" lengthAdjust="spacingAndGlyphs" transform="rotate(-90 195.2 605.8)">(percent of starting weight)</text>
<line x1="219" y1="592.9" x2="362" y2="592.9" stroke="#333" stroke-width="0.8" stroke-dasharray="0.8 1.6"/>
<line x1="219" y1="617.5" x2="362" y2="617.5" stroke="#333" stroke-width="0.8" stroke-dasharray="0.8 1.6"/>
<line x1="232.6" y1="565" x2="232.6" y2="642" stroke="#333" stroke-width="0.8" stroke-dasharray="0.8 1.6"/>
<text x="229" y="617.8" font-size="6.4" text-anchor="middle" fill="#1a1a1a" stroke="#1a1a1a" stroke-width="0.12" textLength="37.7" lengthAdjust="spacingAndGlyphs" transform="rotate(-90 229 617.8)">Treatment start</text>
<line x1="232.8" y1="595.7" x2="232.8" y2="602.7" stroke="#4f7fb3" stroke-width="0.7"/>
<line x1="231.2" y1="595.7" x2="234.4" y2="595.7" stroke="#4f7fb3" stroke-width="0.7"/>
<line x1="231.2" y1="602.7" x2="234.4" y2="602.7" stroke="#4f7fb3" stroke-width="0.7"/>
<line x1="237.4" y1="592.4" x2="237.4" y2="597.4" stroke="#4f7fb3" stroke-width="0.7"/>
<line x1="235.8" y1="592.4" x2="239" y2="592.4" stroke="#4f7fb3" stroke-width="0.7"/>
<line x1="235.8" y1="597.4" x2="239" y2="597.4" stroke="#4f7fb3" stroke-width="0.7"/>
<line x1="241.8" y1="598.8" x2="241.8" y2="606.4" stroke="#4f7fb3" stroke-width="0.7"/>
<line x1="240.2" y1="598.8" x2="243.4" y2="598.8" stroke="#4f7fb3" stroke-width="0.7"/>
<line x1="240.2" y1="606.4" x2="243.4" y2="606.4" stroke="#4f7fb3" stroke-width="0.7"/>
<line x1="246.3" y1="596.7" x2="246.3" y2="605.7" stroke="#4f7fb3" stroke-width="0.7"/>
<line x1="244.7" y1="596.7" x2="247.9" y2="596.7" stroke="#4f7fb3" stroke-width="0.7"/>
<line x1="244.7" y1="605.7" x2="247.9" y2="605.7" stroke="#4f7fb3" stroke-width="0.7"/>
<line x1="251.2" y1="600.9" x2="251.2" y2="606.9" stroke="#4f7fb3" stroke-width="0.7"/>
<line x1="249.6" y1="600.9" x2="252.8" y2="600.9" stroke="#4f7fb3" stroke-width="0.7"/>
<line x1="249.6" y1="606.9" x2="252.8" y2="606.9" stroke="#4f7fb3" stroke-width="0.7"/>
<line x1="255.7" y1="592.4" x2="255.7" y2="611.4" stroke="#4f7fb3" stroke-width="0.7"/>
<line x1="254.1" y1="592.4" x2="257.3" y2="592.4" stroke="#4f7fb3" stroke-width="0.7"/>
<line x1="254.1" y1="611.4" x2="257.3" y2="611.4" stroke="#4f7fb3" stroke-width="0.7"/>
<line x1="260.3" y1="586.8" x2="260.3" y2="606.2" stroke="#4f7fb3" stroke-width="0.7"/>
<line x1="258.7" y1="586.8" x2="261.9" y2="586.8" stroke="#4f7fb3" stroke-width="0.7"/>
<line x1="258.7" y1="606.2" x2="261.9" y2="606.2" stroke="#4f7fb3" stroke-width="0.7"/>
<line x1="265" y1="589.9" x2="265" y2="613.9" stroke="#4f7fb3" stroke-width="0.7"/>
<line x1="263.4" y1="589.9" x2="266.6" y2="589.9" stroke="#4f7fb3" stroke-width="0.7"/>
<line x1="263.4" y1="613.9" x2="266.6" y2="613.9" stroke="#4f7fb3" stroke-width="0.7"/>
<line x1="269.7" y1="587.3" x2="269.7" y2="613.3" stroke="#4f7fb3" stroke-width="0.7"/>
<line x1="268.1" y1="587.3" x2="271.3" y2="587.3" stroke="#4f7fb3" stroke-width="0.7"/>
<line x1="268.1" y1="613.3" x2="271.3" y2="613.3" stroke="#4f7fb3" stroke-width="0.7"/>
<line x1="274.1" y1="590.6" x2="274.1" y2="610.6" stroke="#4f7fb3" stroke-width="0.7"/>
<line x1="272.5" y1="590.6" x2="275.7" y2="590.6" stroke="#4f7fb3" stroke-width="0.7"/>
<line x1="272.5" y1="610.6" x2="275.7" y2="610.6" stroke="#4f7fb3" stroke-width="0.7"/>
<line x1="278.6" y1="594.1" x2="278.6" y2="601.1" stroke="#4f7fb3" stroke-width="0.7"/>
<line x1="277" y1="594.1" x2="280.2" y2="594.1" stroke="#4f7fb3" stroke-width="0.7"/>
<line x1="277" y1="601.1" x2="280.2" y2="601.1" stroke="#4f7fb3" stroke-width="0.7"/>
<line x1="232.8" y1="597.6" x2="232.8" y2="601.6" stroke="#d9405a" stroke-width="0.7"/>
<line x1="231.2" y1="597.6" x2="234.4" y2="597.6" stroke="#d9405a" stroke-width="0.7"/>
<line x1="231.2" y1="601.6" x2="234.4" y2="601.6" stroke="#d9405a" stroke-width="0.7"/>
<line x1="237.4" y1="587.8" x2="237.4" y2="591.8" stroke="#d9405a" stroke-width="0.7"/>
<line x1="235.8" y1="587.8" x2="239" y2="587.8" stroke="#d9405a" stroke-width="0.7"/>
<line x1="235.8" y1="591.8" x2="239" y2="591.8" stroke="#d9405a" stroke-width="0.7"/>
<line x1="241.8" y1="587.9" x2="241.8" y2="592.3" stroke="#d9405a" stroke-width="0.7"/>
<line x1="240.2" y1="587.9" x2="243.4" y2="587.9" stroke="#d9405a" stroke-width="0.7"/>
<line x1="240.2" y1="592.3" x2="243.4" y2="592.3" stroke="#d9405a" stroke-width="0.7"/>
<line x1="246.3" y1="588.1" x2="246.3" y2="592.1" stroke="#d9405a" stroke-width="0.7"/>
<line x1="244.7" y1="588.1" x2="247.9" y2="588.1" stroke="#d9405a" stroke-width="0.7"/>
<line x1="244.7" y1="592.1" x2="247.9" y2="592.1" stroke="#d9405a" stroke-width="0.7"/>
<line x1="251.2" y1="588.2" x2="251.2" y2="592.8" stroke="#d9405a" stroke-width="0.7"/>
<line x1="249.6" y1="588.2" x2="252.8" y2="588.2" stroke="#d9405a" stroke-width="0.7"/>
<line x1="249.6" y1="592.8" x2="252.8" y2="592.8" stroke="#d9405a" stroke-width="0.7"/>
<line x1="255.7" y1="588.3" x2="255.7" y2="593.5" stroke="#d9405a" stroke-width="0.7"/>
<line x1="254.1" y1="588.3" x2="257.3" y2="588.3" stroke="#d9405a" stroke-width="0.7"/>
<line x1="254.1" y1="593.5" x2="257.3" y2="593.5" stroke="#d9405a" stroke-width="0.7"/>
<line x1="260.3" y1="589.2" x2="260.3" y2="594.4" stroke="#d9405a" stroke-width="0.7"/>
<line x1="258.7" y1="589.2" x2="261.9" y2="589.2" stroke="#d9405a" stroke-width="0.7"/>
<line x1="258.7" y1="594.4" x2="261.9" y2="594.4" stroke="#d9405a" stroke-width="0.7"/>
<line x1="265" y1="587.8" x2="265" y2="592.6" stroke="#d9405a" stroke-width="0.7"/>
<line x1="263.4" y1="587.8" x2="266.6" y2="587.8" stroke="#d9405a" stroke-width="0.7"/>
<line x1="263.4" y1="592.6" x2="266.6" y2="592.6" stroke="#d9405a" stroke-width="0.7"/>
<line x1="269.7" y1="587.8" x2="269.7" y2="592.6" stroke="#d9405a" stroke-width="0.7"/>
<line x1="268.1" y1="587.8" x2="271.3" y2="587.8" stroke="#d9405a" stroke-width="0.7"/>
<line x1="268.1" y1="592.6" x2="271.3" y2="592.6" stroke="#d9405a" stroke-width="0.7"/>
<line x1="274.1" y1="591.6" x2="274.1" y2="596" stroke="#d9405a" stroke-width="0.7"/>
<line x1="272.5" y1="591.6" x2="275.7" y2="591.6" stroke="#d9405a" stroke-width="0.7"/>
<line x1="272.5" y1="596" x2="275.7" y2="596" stroke="#d9405a" stroke-width="0.7"/>
<line x1="278.6" y1="590.3" x2="278.6" y2="594.7" stroke="#d9405a" stroke-width="0.7"/>
<line x1="277" y1="590.3" x2="280.2" y2="590.3" stroke="#d9405a" stroke-width="0.7"/>
<line x1="277" y1="594.7" x2="280.2" y2="594.7" stroke="#d9405a" stroke-width="0.7"/>
<line x1="283.1" y1="590.7" x2="283.1" y2="595.1" stroke="#d9405a" stroke-width="0.7"/>
<line x1="281.5" y1="590.7" x2="284.7" y2="590.7" stroke="#d9405a" stroke-width="0.7"/>
<line x1="281.5" y1="595.1" x2="284.7" y2="595.1" stroke="#d9405a" stroke-width="0.7"/>
<line x1="288" y1="586.2" x2="288" y2="595.6" stroke="#d9405a" stroke-width="0.7"/>
<line x1="286.4" y1="586.2" x2="289.6" y2="586.2" stroke="#d9405a" stroke-width="0.7"/>
<line x1="286.4" y1="595.6" x2="289.6" y2="595.6" stroke="#d9405a" stroke-width="0.7"/>
<line x1="292.7" y1="589.9" x2="292.7" y2="599.9" stroke="#d9405a" stroke-width="0.7"/>
<line x1="291.1" y1="589.9" x2="294.3" y2="589.9" stroke="#d9405a" stroke-width="0.7"/>
<line x1="291.1" y1="599.9" x2="294.3" y2="599.9" stroke="#d9405a" stroke-width="0.7"/>
<line x1="297.1" y1="588.2" x2="297.1" y2="597" stroke="#d9405a" stroke-width="0.7"/>
<line x1="295.5" y1="588.2" x2="298.7" y2="588.2" stroke="#d9405a" stroke-width="0.7"/>
<line x1="295.5" y1="597" x2="298.7" y2="597" stroke="#d9405a" stroke-width="0.7"/>
<line x1="301.8" y1="581.4" x2="301.8" y2="600.4" stroke="#d9405a" stroke-width="0.7"/>
<line x1="300.2" y1="581.4" x2="303.4" y2="581.4" stroke="#d9405a" stroke-width="0.7"/>
<line x1="300.2" y1="600.4" x2="303.4" y2="600.4" stroke="#d9405a" stroke-width="0.7"/>
<line x1="306.3" y1="578.7" x2="306.3" y2="598.9" stroke="#d9405a" stroke-width="0.7"/>
<line x1="304.7" y1="578.7" x2="307.9" y2="578.7" stroke="#d9405a" stroke-width="0.7"/>
<line x1="304.7" y1="598.9" x2="307.9" y2="598.9" stroke="#d9405a" stroke-width="0.7"/>
<line x1="311" y1="581.2" x2="311" y2="589.8" stroke="#d9405a" stroke-width="0.7"/>
<line x1="309.4" y1="581.2" x2="312.6" y2="581.2" stroke="#d9405a" stroke-width="0.7"/>
<line x1="309.4" y1="589.8" x2="312.6" y2="589.8" stroke="#d9405a" stroke-width="0.7"/>
<line x1="315.7" y1="591.4" x2="315.7" y2="594.4" stroke="#d9405a" stroke-width="0.7"/>
<line x1="314.1" y1="591.4" x2="317.3" y2="591.4" stroke="#d9405a" stroke-width="0.7"/>
<line x1="314.1" y1="594.4" x2="317.3" y2="594.4" stroke="#d9405a" stroke-width="0.7"/>
<line x1="320.3" y1="591.4" x2="320.3" y2="594.4" stroke="#d9405a" stroke-width="0.7"/>
<line x1="318.7" y1="591.4" x2="321.9" y2="591.4" stroke="#d9405a" stroke-width="0.7"/>
<line x1="318.7" y1="594.4" x2="321.9" y2="594.4" stroke="#d9405a" stroke-width="0.7"/>
<path d="M232.6 599.2 L278.8 602.2" fill="none" stroke="#1d4f8a" stroke-width="1.6"/>
<path d="M232.6 589.2 L344.2 590.2" fill="none" stroke="#d0203f" stroke-width="1.6"/>
<circle cx="232.8" cy="599.2" r="1.7" fill="#1d4f8a"/>
<circle cx="237.4" cy="594.9" r="1.7" fill="#1d4f8a"/>
<circle cx="241.8" cy="602.6" r="1.7" fill="#1d4f8a"/>
<circle cx="246.3" cy="601.2" r="1.7" fill="#1d4f8a"/>
<circle cx="251.2" cy="603.9" r="1.7" fill="#1d4f8a"/>
<circle cx="255.7" cy="601.9" r="1.7" fill="#1d4f8a"/>
<circle cx="260.3" cy="596.5" r="1.7" fill="#1d4f8a"/>
<circle cx="265" cy="601.9" r="1.7" fill="#1d4f8a"/>
<circle cx="269.7" cy="600.3" r="1.7" fill="#1d4f8a"/>
<circle cx="274.1" cy="600.6" r="1.7" fill="#1d4f8a"/>
<circle cx="278.6" cy="597.6" r="1.7" fill="#1d4f8a"/>
<circle cx="232.8" cy="599.6" r="1.7" fill="#d0203f"/>
<circle cx="237.4" cy="589.8" r="1.7" fill="#d0203f"/>
<circle cx="241.8" cy="590.1" r="1.7" fill="#d0203f"/>
<circle cx="246.3" cy="590.1" r="1.7" fill="#d0203f"/>
<circle cx="251.2" cy="590.5" r="1.7" fill="#d0203f"/>
<circle cx="255.7" cy="590.9" r="1.7" fill="#d0203f"/>
<circle cx="260.3" cy="591.8" r="1.7" fill="#d0203f"/>
<circle cx="265" cy="590.2" r="1.7" fill="#d0203f"/>
<circle cx="269.7" cy="590.2" r="1.7" fill="#d0203f"/>
<circle cx="274.1" cy="593.8" r="1.7" fill="#d0203f"/>
<circle cx="278.6" cy="592.5" r="1.7" fill="#d0203f"/>
<circle cx="283.1" cy="592.9" r="1.7" fill="#d0203f"/>
<circle cx="288" cy="590.9" r="1.7" fill="#d0203f"/>
<circle cx="292.7" cy="594.9" r="1.7" fill="#d0203f"/>
<circle cx="297.1" cy="592.6" r="1.7" fill="#d0203f"/>
<circle cx="301.8" cy="590.9" r="1.7" fill="#d0203f"/>
<circle cx="306.3" cy="588.8" r="1.7" fill="#d0203f"/>
<circle cx="311" cy="585.5" r="1.7" fill="#d0203f"/>
<circle cx="315.7" cy="592.9" r="1.7" fill="#d0203f"/>
<circle cx="320.3" cy="592.9" r="1.7" fill="#d0203f"/>
<circle cx="324.7" cy="589.8" r="1.7" fill="#d0203f"/>
<circle cx="329.1" cy="593.6" r="1.7" fill="#d0203f"/>
<circle cx="333.9" cy="589.9" r="1.7" fill="#d0203f"/>
<circle cx="338.6" cy="591.3" r="1.7" fill="#d0203f"/>
<circle cx="343.1" cy="590.9" r="1.7" fill="#d0203f"/>
<line x1="296.4" y1="625.2" x2="305.2" y2="625.2" stroke="#1d4f8a" stroke-width="1.2"/>
<circle cx="300.8" cy="625.2" r="1.7" fill="#1d4f8a"/>
<text x="309" y="628.4" font-size="8.8" fill="#1a1a1a" stroke="#1a1a1a" stroke-width="0.12" textLength="24" lengthAdjust="spacingAndGlyphs">Vehicle</text>
<line x1="296.4" y1="634.6" x2="305.2" y2="634.6" stroke="#d0203f" stroke-width="1.2"/>
<circle cx="300.8" cy="634.6" r="1.7" fill="#d0203f"/>
<text x="309" y="637.8" font-size="8.8" fill="#1a1a1a" stroke="#1a1a1a" stroke-width="0.12" textLength="42.8" lengthAdjust="spacingAndGlyphs">Combination</text>
<text x="375.8" y="553.7" font-size="11.5" font-weight="bold" fill="#000">E</text>
<line x1="412.4" y1="564.5" x2="412.4" y2="642.6" stroke="#1a1a1a" stroke-width="1.2"/>
<line x1="408" y1="568.5" x2="412.4" y2="568.5" stroke="#1a1a1a" stroke-width="0.9"/>
<text x="406.6" y="571.4" font-size="8.2" text-anchor="end" fill="#1a1a1a" stroke="#1a1a1a" stroke-width="0.12" textLength="15.3" lengthAdjust="spacingAndGlyphs">1000</text>
<line x1="408" y1="583.2" x2="412.4" y2="583.2" stroke="#1a1a1a" stroke-width="0.9"/>
<text x="406.6" y="586.1" font-size="8.2" text-anchor="end" fill="#1a1a1a" stroke="#1a1a1a" stroke-width="0.12" textLength="11.4" lengthAdjust="spacingAndGlyphs">800</text>
<line x1="408" y1="597.9" x2="412.4" y2="597.9" stroke="#1a1a1a" stroke-width="0.9"/>
<text x="406.6" y="600.8" font-size="8.2" text-anchor="end" fill="#1a1a1a" stroke="#1a1a1a" stroke-width="0.12" textLength="11.4" lengthAdjust="spacingAndGlyphs">600</text>
<line x1="408" y1="612.6" x2="412.4" y2="612.6" stroke="#1a1a1a" stroke-width="0.9"/>
<text x="406.6" y="615.5" font-size="8.2" text-anchor="end" fill="#1a1a1a" stroke="#1a1a1a" stroke-width="0.12" textLength="11.4" lengthAdjust="spacingAndGlyphs">400</text>
<line x1="408" y1="627.3" x2="412.4" y2="627.3" stroke="#1a1a1a" stroke-width="0.9"/>
<text x="406.6" y="630.2" font-size="8.2" text-anchor="end" fill="#1a1a1a" stroke="#1a1a1a" stroke-width="0.12" textLength="11.4" lengthAdjust="spacingAndGlyphs">200</text>
<line x1="408" y1="642" x2="412.4" y2="642" stroke="#1a1a1a" stroke-width="0.9"/>
<text x="406.6" y="644.9" font-size="8.2" text-anchor="end" fill="#1a1a1a" stroke="#1a1a1a" stroke-width="0.12" textLength="4.4" lengthAdjust="spacingAndGlyphs">0</text>
<line x1="410.2" y1="575.85" x2="412.4" y2="575.85" stroke="#1a1a1a" stroke-width="0.8"/>
<line x1="410.2" y1="590.55" x2="412.4" y2="590.55" stroke="#1a1a1a" stroke-width="0.8"/>
<line x1="410.2" y1="605.25" x2="412.4" y2="605.25" stroke="#1a1a1a" stroke-width="0.8"/>
<line x1="410.2" y1="619.95" x2="412.4" y2="619.95" stroke="#1a1a1a" stroke-width="0.8"/>
<line x1="410.2" y1="634.65" x2="412.4" y2="634.65" stroke="#1a1a1a" stroke-width="0.8"/>
<line x1="411.8" y1="642.2" x2="513" y2="642.2" stroke="#1a1a1a" stroke-width="1.2"/>
<line x1="437.5" y1="642.2" x2="437.5" y2="645.6" stroke="#1a1a1a" stroke-width="0.9"/>
<line x1="489.3" y1="642.2" x2="489.3" y2="645.6" stroke="#1a1a1a" stroke-width="0.9"/>
<text x="437.8" y="653.2" font-size="8.6" text-anchor="middle" fill="#1a1a1a" stroke="#1a1a1a" stroke-width="0.12" textLength="25.5" lengthAdjust="spacingAndGlyphs">Day 18</text>
<text x="489.5" y="653.2" font-size="8.6" text-anchor="middle" fill="#1a1a1a" stroke="#1a1a1a" stroke-width="0.12" textLength="25" lengthAdjust="spacingAndGlyphs">Day 27</text>
<line x1="412.4" y1="598" x2="513" y2="598" stroke="#333" stroke-width="0.8" stroke-dasharray="0.8 1.6"/>
<line x1="412.4" y1="631.7" x2="513" y2="631.7" stroke="#333" stroke-width="0.8" stroke-dasharray="0.8 1.6"/>
<text transform="translate(384.6 605.4) rotate(-90)" font-size="8.4" text-anchor="middle" fill="#1a1a1a" textLength="67.5" lengthAdjust="spacingAndGlyphs">Platelets (10<tspan font-size="6.4" dy="-2.8">3</tspan><tspan dy="2.8">/mm</tspan><tspan font-size="6.4" dy="-2.8">3</tspan><tspan dy="2.8">)</tspan></text>
<circle cx="420.6" cy="567.5" r="1.6" fill="#1d4f8a"/>
<text x="424.6" y="570.4" font-size="8.2" fill="#1a1a1a" stroke="#1a1a1a" stroke-width="0.12" textLength="24.5" lengthAdjust="spacingAndGlyphs">Vehicle</text>
<circle cx="420.6" cy="578.3" r="1.6" fill="#d0203f"/>
<text x="424.6" y="581.2" font-size="8.2" fill="#1a1a1a" stroke="#1a1a1a" stroke-width="0.12" textLength="43" lengthAdjust="spacingAndGlyphs">Combination</text>
<circle cx="428.4" cy="599.9" r="1.8" fill="#1d4f8a"/>
<circle cx="423.1" cy="617.5" r="1.8" fill="#1d4f8a"/>
<circle cx="426.5" cy="620.2" r="1.8" fill="#1d4f8a"/>
<circle cx="430.1" cy="618.6" r="1.8" fill="#1d4f8a"/>
<circle cx="433.9" cy="617.1" r="1.8" fill="#1d4f8a"/>
<circle cx="433.9" cy="621.3" r="1.8" fill="#1d4f8a"/>
<circle cx="428.4" cy="629.6" r="1.8" fill="#1d4f8a"/>
<circle cx="480.9" cy="622.8" r="1.8" fill="#1d4f8a"/>
<circle cx="480.6" cy="579.8" r="1.8" fill="#1d4f8a"/>
<circle cx="446.2" cy="597.4" r="1.8" fill="#d0203f"/>
<circle cx="440.7" cy="608.2" r="1.8" fill="#d0203f"/>
<circle cx="440.7" cy="612.2" r="1.8" fill="#d0203f"/>
<circle cx="451.5" cy="605.2" r="1.8" fill="#d0203f"/>
<circle cx="451.5" cy="610.7" r="1.8" fill="#d0203f"/>
<circle cx="451.5" cy="614.8" r="1.8" fill="#d0203f"/>
<circle cx="446.2" cy="626.4" r="1.8" fill="#d0203f"/>
<circle cx="493.1" cy="599.5" r="1.8" fill="#d0203f"/>
<circle cx="493.1" cy="603.8" r="1.8" fill="#d0203f"/>
<circle cx="503.5" cy="602.3" r="1.8" fill="#d0203f"/>
<circle cx="493.1" cy="616.4" r="1.8" fill="#d0203f"/>
<circle cx="503.5" cy="616.4" r="1.8" fill="#d0203f"/>
<line x1="421.6" y1="618" x2="435" y2="618" stroke="#222" stroke-width="1"/>
<line x1="439.6" y1="610.7" x2="452.3" y2="610.7" stroke="#222" stroke-width="1"/>
<line x1="474.1" y1="601.2" x2="487.6" y2="601.2" stroke="#222" stroke-width="1"/>
<line x1="492" y1="603.8" x2="505.2" y2="603.8" stroke="#222" stroke-width="1"/>
<rect x="0.5" y="0.5" width="518.8" height="685" fill="none" stroke="#000" stroke-width="1.2"/>
</svg>
</body></html>
